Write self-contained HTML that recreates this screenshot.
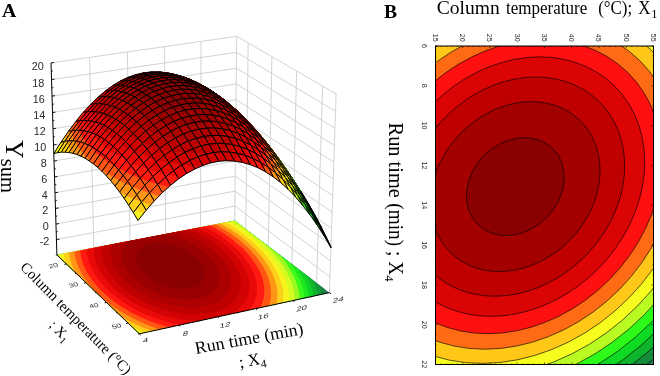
<!DOCTYPE html><html><head><meta charset="utf-8"><title>Figure</title><style>html,body{margin:0;padding:0;background:#fff}svg{display:block}</style></head><body><svg width="660" height="376" viewBox="0 0 660 376">
<rect width="660" height="376" fill="#fff"/>
<g><line x1="56.5" y1="239.5" x2="234.9" y2="206" stroke="#d3d3d3" stroke-width="1"/><line x1="234.9" y1="206" x2="329.9" y2="276.8" stroke="#d3d3d3" stroke-width="1"/><line x1="56" y1="224" x2="235" y2="191.1" stroke="#d3d3d3" stroke-width="1"/><line x1="235" y1="191.1" x2="330.5" y2="260.8" stroke="#d3d3d3" stroke-width="1"/><line x1="55.5" y1="208.4" x2="235.2" y2="176.1" stroke="#d3d3d3" stroke-width="1"/><line x1="235.2" y1="176.1" x2="331" y2="244.7" stroke="#d3d3d3" stroke-width="1"/><line x1="55" y1="192.8" x2="235.4" y2="161" stroke="#d3d3d3" stroke-width="1"/><line x1="235.4" y1="161" x2="331.6" y2="228.4" stroke="#d3d3d3" stroke-width="1"/><line x1="54.5" y1="176.9" x2="235.5" y2="145.8" stroke="#d3d3d3" stroke-width="1"/><line x1="235.5" y1="145.8" x2="332.1" y2="212.1" stroke="#d3d3d3" stroke-width="1"/><line x1="54" y1="161" x2="235.7" y2="130.5" stroke="#d3d3d3" stroke-width="1"/><line x1="235.7" y1="130.5" x2="332.7" y2="195.6" stroke="#d3d3d3" stroke-width="1"/><line x1="53.5" y1="145" x2="235.9" y2="115.1" stroke="#d3d3d3" stroke-width="1"/><line x1="235.9" y1="115.1" x2="333.2" y2="179" stroke="#d3d3d3" stroke-width="1"/><line x1="53" y1="128.8" x2="236" y2="99.6" stroke="#d3d3d3" stroke-width="1"/><line x1="236" y1="99.6" x2="333.8" y2="162.2" stroke="#d3d3d3" stroke-width="1"/><line x1="52.5" y1="112.5" x2="236.2" y2="83.9" stroke="#d3d3d3" stroke-width="1"/><line x1="236.2" y1="83.9" x2="334.3" y2="145.3" stroke="#d3d3d3" stroke-width="1"/><line x1="52" y1="96.1" x2="236.4" y2="68.2" stroke="#d3d3d3" stroke-width="1"/><line x1="236.4" y1="68.2" x2="334.9" y2="128.3" stroke="#d3d3d3" stroke-width="1"/><line x1="51.5" y1="79.6" x2="236.5" y2="52.3" stroke="#d3d3d3" stroke-width="1"/><line x1="236.5" y1="52.3" x2="335.5" y2="111.2" stroke="#d3d3d3" stroke-width="1"/><line x1="51" y1="62.9" x2="236.7" y2="36.3" stroke="#d3d3d3" stroke-width="1"/><line x1="236.7" y1="36.3" x2="336.1" y2="93.9" stroke="#d3d3d3" stroke-width="1"/><line x1="56.9" y1="254.9" x2="234.7" y2="220.8" stroke="#d3d3d3" stroke-width="1"/><line x1="234.7" y1="220.8" x2="329.4" y2="292.7" stroke="#d3d3d3" stroke-width="1"/><line x1="93.8" y1="247.8" x2="89.6" y2="57.4" stroke="#d3d3d3" stroke-width="1"/><line x1="130" y1="240.8" x2="127.4" y2="52" stroke="#d3d3d3" stroke-width="1"/><line x1="165.6" y1="234" x2="164.6" y2="46.7" stroke="#d3d3d3" stroke-width="1"/><line x1="200.5" y1="227.3" x2="201" y2="41.5" stroke="#d3d3d3" stroke-width="1"/><line x1="234.7" y1="220.8" x2="236.7" y2="36.3" stroke="#d3d3d3" stroke-width="1"/><line x1="245.7" y1="229.1" x2="248.2" y2="43" stroke="#d3d3d3" stroke-width="1"/><line x1="268.3" y1="246.3" x2="271.9" y2="56.7" stroke="#d3d3d3" stroke-width="1"/><line x1="291.9" y1="264.2" x2="296.6" y2="71.1" stroke="#d3d3d3" stroke-width="1"/><line x1="316.6" y1="283" x2="322.6" y2="86.1" stroke="#d3d3d3" stroke-width="1"/><line x1="329.4" y1="292.7" x2="336.1" y2="93.9" stroke="#d3d3d3" stroke-width="1"/></g>
<clipPath id="fc"><polygon points="56.9,254.9 139.3,333.8 329.4,292.7 234.7,220.8"/></clipPath>
<g clip-path="url(#fc)"><polygon points="56.9,254.9 139.3,333.8 329.4,292.7 234.7,220.8" fill="#1e7850"/><polygon points="95.7,177 101.8,176.2 108,175.5 114.4,175.1 120.9,174.9 127.6,174.9 134.3,175.1 141.1,175.6 148.1,176.3 155,177.2 162.1,178.3 169.1,179.6 176.2,181.1 183.3,182.9 190.5,184.9 197.6,187.1 204.6,189.4 211.7,192 218.7,194.8 225.6,197.8 232.4,201 239.1,204.4 245.7,207.9 252.2,211.7 258.6,215.6 264.7,219.6 270.7,223.9 276.5,228.3 282.1,232.8 287.4,237.5 292.5,242.3 297.4,247.2 301.9,252.3 306.2,257.4 310.1,262.7 313.7,268 317,273.3 319.9,278.7 322.4,284.2 324.5,289.6 326.2,295.1 327.4,300.5 328.3,306 328.7,311.3 328.6,316.6 328.1,321.8 327.1,326.9 325.6,331.9 323.7,336.8 321.2,341.5 318.3,346 314.9,350.3 311,354.3 306.7,358.2 301.9,361.8 296.7,365.1 291.1,368.2 285,370.9 278.5,373.3 271.7,375.4 264.5,377.2 257,378.7 249.2,379.7 241.2,380.5 232.9,380.8 224.4,380.8 215.8,380.5 207,379.8 198.1,378.7 189.1,377.3 180.1,375.5 171.2,373.4 162.2,371 153.3,368.2 144.6,365.2 135.9,361.8 127.5,358.2 119.2,354.4 111.2,350.3 103.4,346 95.8,341.5 88.6,336.8 81.7,331.9 75.2,326.9 68.9,321.8 63.1,316.5 57.6,311.2 52.5,305.8 47.9,300.4 43.6,294.9 39.7,289.4 36.3,284 33.3,278.5 30.7,273.1 28.5,267.7 26.7,262.4 25.3,257.1 24.4,252 23.8,246.9 23.7,242 23.9,237.1 24.5,232.5 25.5,227.9 26.9,223.5 28.6,219.3 30.7,215.2 33,211.3 35.8,207.5 38.8,204 42.2,200.6 45.8,197.5 49.7,194.5 53.9,191.7 58.3,189.1 63,186.8 68,184.6 73.1,182.7 78.5,180.9 84,179.4 89.8,178.1" fill="#178642"/><polygon points="97.5,179.1 103.4,178.3 109.5,177.7 115.8,177.2 122.1,177 128.6,177.1 135.2,177.3 141.8,177.7 148.6,178.4 155.4,179.3 162.2,180.4 169.1,181.7 176.1,183.2 183,184.9 190,186.8 196.9,188.9 203.8,191.3 210.7,193.8 217.5,196.5 224.2,199.5 230.9,202.6 237.4,205.9 243.9,209.3 250.2,213 256.3,216.8 262.3,220.8 268.2,224.9 273.8,229.2 279.2,233.7 284.4,238.2 289.4,242.9 294.1,247.7 298.5,252.6 302.6,257.6 306.4,262.7 309.9,267.9 313,273.1 315.8,278.4 318.2,283.7 320.2,289 321.9,294.3 323.1,299.6 323.9,304.8 324.2,310 324.1,315.2 323.6,320.2 322.6,325.2 321.1,330 319.2,334.7 316.8,339.2 314,343.6 310.7,347.8 306.9,351.7 302.7,355.4 298,358.9 292.9,362.1 287.4,365.1 281.5,367.7 275.3,370.1 268.6,372.1 261.7,373.8 254.4,375.2 246.8,376.3 239,377 231,377.3 222.8,377.3 214.4,377 205.9,376.3 197.2,375.3 188.5,373.9 179.8,372.2 171.1,370.1 162.4,367.8 153.8,365.1 145.3,362.2 136.9,359 128.7,355.5 120.7,351.8 112.9,347.8 105.3,343.6 98,339.2 91,334.7 84.3,330 77.9,325.1 71.8,320.2 66.1,315.1 60.8,309.9 55.8,304.7 51.3,299.4 47.1,294.1 43.3,288.8 39.9,283.4 37,278.1 34.4,272.9 32.3,267.6 30.5,262.4 29.2,257.3 28.2,252.3 27.6,247.4 27.5,242.6 27.7,237.9 28.3,233.3 29.2,228.9 30.5,224.6 32.2,220.4 34.2,216.4 36.5,212.6 39.1,209 42.1,205.5 45.3,202.2 48.8,199.1 52.6,196.2 56.7,193.5 61,191 65.6,188.7 70.4,186.6 75.4,184.7 80.7,183 86.1,181.5 91.7,180.2" fill="#129b36"/><polygon points="99.3,181.3 105.1,180.5 111.1,179.9 117.1,179.5 123.3,179.3 129.6,179.3 136,179.5 142.5,179.9 149.1,180.6 155.8,181.4 162.4,182.5 169.2,183.8 175.9,185.2 182.7,186.9 189.5,188.8 196.2,190.9 202.9,193.2 209.6,195.6 216.2,198.3 222.8,201.2 229.3,204.2 235.7,207.4 241.9,210.8 248.1,214.4 254,218.1 259.9,222 265.5,226 271,230.2 276.3,234.5 281.3,239 286.1,243.5 290.6,248.2 294.9,253 298.9,257.8 302.6,262.8 305.9,267.8 309,272.9 311.6,278 314,283.1 315.9,288.3 317.5,293.4 318.6,298.6 319.3,303.7 319.7,308.7 319.5,313.7 319,318.6 318,323.4 316.6,328.1 314.7,332.6 312.3,337 309.6,341.2 306.3,345.2 302.6,349 298.5,352.6 294,356 289.1,359.1 283.7,361.9 278,364.5 271.9,366.8 265.5,368.7 258.8,370.4 251.7,371.7 244.4,372.7 236.8,373.4 229.1,373.7 221.1,373.7 213,373.4 204.7,372.7 196.4,371.7 188,370.4 179.5,368.8 171.1,366.8 162.7,364.5 154.3,362 146.1,359.1 138,356 130,352.7 122.2,349.1 114.7,345.2 107.3,341.2 100.2,337 93.4,332.6 86.9,328 80.7,323.3 74.8,318.5 69.2,313.6 64,308.6 59.2,303.5 54.8,298.4 50.7,293.3 47,288.1 43.7,282.9 40.8,277.8 38.3,272.6 36.2,267.5 34.4,262.5 33.1,257.6 32.1,252.7 31.6,247.9 31.4,243.2 31.6,238.6 32.1,234.2 33,229.8 34.3,225.7 35.9,221.6 37.8,217.7 40,214 42.6,210.5 45.4,207.1 48.6,203.9 52,200.8 55.7,198 59.6,195.4 63.8,192.9 68.3,190.6 73,188.6 77.8,186.7 82.9,185.1 88.2,183.6 93.7,182.4" fill="#0fb62c"/><polygon points="101.2,183.6 106.9,182.8 112.6,182.2 118.5,181.8 124.6,181.6 130.7,181.6 137,181.8 143.3,182.2 149.7,182.9 156.1,183.7 162.6,184.7 169.2,186 175.8,187.4 182.3,189 188.9,190.9 195.5,192.9 202,195.1 208.5,197.5 215,200.1 221.3,202.9 227.6,205.9 233.8,209 239.9,212.3 245.9,215.8 251.7,219.4 257.3,223.2 262.8,227.1 268.1,231.2 273.2,235.4 278.1,239.7 282.7,244.1 287.1,248.7 291.2,253.3 295.1,258.1 298.6,262.9 301.9,267.7 304.8,272.6 307.4,277.6 309.6,282.6 311.4,287.6 312.9,292.6 314,297.5 314.7,302.5 315,307.3 314.8,312.2 314.3,316.9 313.3,321.5 311.9,326 310,330.4 307.7,334.7 305,338.7 301.9,342.6 298.3,346.3 294.3,349.8 289.9,353 285.1,356 280,358.7 274.4,361.2 268.5,363.4 262.3,365.3 255.8,366.9 249,368.1 241.9,369.1 234.6,369.8 227.1,370.1 219.4,370.1 211.5,369.8 203.5,369.1 195.5,368.2 187.4,366.9 179.2,365.3 171,363.4 162.9,361.2 154.9,358.8 146.9,356 139,353 131.3,349.8 123.8,346.3 116.5,342.6 109.4,338.7 102.5,334.6 95.9,330.4 89.5,326 83.5,321.5 77.8,316.8 72.4,312.1 67.4,307.2 62.7,302.3 58.3,297.4 54.4,292.4 50.8,287.4 47.6,282.4 44.7,277.4 42.3,272.4 40.2,267.5 38.5,262.6 37.2,257.8 36.2,253 35.6,248.4 35.4,243.8 35.6,239.4 36.1,235.1 36.9,230.8 38.1,226.8 39.7,222.9 41.5,219.1 43.7,215.4 46.1,212 48.9,208.7 51.9,205.6 55.2,202.6 58.8,199.8 62.7,197.3 66.8,194.9 71.1,192.7 75.6,190.7 80.3,188.8 85.3,187.2 90.4,185.8 95.7,184.6" fill="#0fd026"/><polygon points="103.2,185.9 108.7,185.1 114.3,184.5 120,184.2 125.9,184 131.8,184 137.9,184.2 144,184.6 150.3,185.2 156.5,186 162.9,187 169.2,188.2 175.6,189.6 182,191.2 188.4,193 194.8,195 201.1,197.2 207.4,199.5 213.7,202 219.8,204.8 225.9,207.6 231.9,210.7 237.8,213.9 243.6,217.3 249.2,220.8 254.7,224.5 260,228.3 265.1,232.2 270.1,236.3 274.8,240.5 279.2,244.8 283.5,249.2 287.5,253.7 291.2,258.3 294.6,262.9 297.7,267.6 300.5,272.4 302.9,277.2 305.1,282 306.8,286.8 308.2,291.7 309.3,296.5 309.9,301.2 310.1,305.9 310,310.6 309.4,315.1 308.4,319.6 307.1,324 305.2,328.2 303,332.3 300.4,336.2 297.3,339.9 293.8,343.5 290,346.8 285.7,349.9 281.1,352.8 276.1,355.4 270.7,357.8 265,359.9 259,361.7 252.7,363.2 246.2,364.5 239.3,365.4 232.3,366 225,366.3 217.6,366.3 210,366 202.4,365.4 194.6,364.5 186.7,363.3 178.9,361.7 171,359.9 163.2,357.8 155.4,355.5 147.7,352.8 140.1,349.9 132.7,346.8 125.4,343.5 118.3,339.9 111.4,336.2 104.8,332.3 98.4,328.2 92.3,323.9 86.4,319.6 80.9,315.1 75.7,310.5 70.8,305.8 66.2,301.1 62,296.3 58.2,291.5 54.7,286.7 51.5,281.8 48.8,277 46.4,272.2 44.3,267.4 42.7,262.7 41.3,258 40.4,253.4 39.8,248.9 39.6,244.5 39.7,240.2 40.2,236 41,231.9 42.1,227.9 43.6,224.1 45.4,220.5 47.4,216.9 49.8,213.6 52.5,210.4 55.4,207.3 58.6,204.5 62.1,201.8 65.8,199.2 69.8,196.9 73.9,194.8 78.3,192.8 82.9,191 87.7,189.5 92.7,188.1 97.9,186.9" fill="#1ce71f"/><polygon points="105.3,188.4 110.6,187.6 116,187 121.6,186.6 127.2,186.5 133,186.5 138.9,186.7 144.8,187.1 150.9,187.7 156.9,188.5 163.1,189.4 169.2,190.6 175.4,192 181.6,193.5 187.8,195.3 194,197.2 200.1,199.3 206.2,201.6 212.3,204 218.3,206.7 224.2,209.4 230,212.4 235.7,215.5 241.3,218.8 246.7,222.2 252,225.8 257.1,229.5 262,233.3 266.8,237.2 271.3,241.3 275.6,245.5 279.7,249.7 283.5,254.1 287.1,258.5 290.4,263 293.4,267.6 296,272.2 298.4,276.8 300.4,281.4 302.1,286.1 303.4,290.7 304.4,295.4 305,299.9 305.2,304.5 305,309 304.4,313.4 303.5,317.7 302.1,321.8 300.3,325.9 298.2,329.8 295.6,333.6 292.6,337.2 289.3,340.6 285.5,343.8 281.4,346.8 276.9,349.5 272.1,352 267,354.3 261.5,356.3 255.7,358.1 249.6,359.5 243.3,360.7 236.7,361.6 229.9,362.2 222.9,362.5 215.8,362.5 208.5,362.2 201.1,361.6 193.6,360.7 186.1,359.6 178.5,358.1 171,356.4 163.4,354.3 155.9,352.1 148.5,349.5 141.2,346.8 134.1,343.8 127.1,340.6 120.2,337.2 113.6,333.6 107.2,329.8 101,325.9 95.1,321.8 89.5,317.6 84.1,313.3 79.1,308.9 74.3,304.4 69.9,299.8 65.8,295.2 62.1,290.6 58.7,285.9 55.6,281.2 52.9,276.6 50.6,271.9 48.6,267.3 47,262.8 45.7,258.3 44.8,253.8 44.2,249.4 43.9,245.2 44,241 44.5,236.9 45.2,233 46.3,229.2 47.7,225.5 49.4,221.9 51.4,218.5 53.7,215.2 56.2,212.1 59,209.2 62.1,206.4 65.5,203.8 69.1,201.3 72.9,199 76.9,197 81.2,195.1 85.6,193.3 90.3,191.8 95.1,190.5 100.1,189.3" fill="#3cfa1a"/><polygon points="107.4,190.9 112.5,190.2 117.8,189.6 123.2,189.2 128.6,189.1 134.2,189.1 139.9,189.3 145.7,189.7 151.5,190.2 157.4,191 163.3,191.9 169.3,193.1 175.2,194.4 181.2,195.9 187.2,197.6 193.2,199.5 199.1,201.5 205,203.7 210.9,206.1 216.6,208.6 222.3,211.3 227.9,214.2 233.4,217.2 238.8,220.4 244,223.7 249.1,227.1 254.1,230.7 258.8,234.4 263.4,238.2 267.7,242.1 271.9,246.2 275.8,250.3 279.5,254.5 282.9,258.8 286,263.1 288.9,267.5 291.4,271.9 293.7,276.4 295.6,280.8 297.2,285.3 298.4,289.8 299.3,294.2 299.9,298.6 300,303 299.8,307.3 299.3,311.5 298.3,315.6 297,319.6 295.3,323.5 293.1,327.3 290.7,330.9 287.8,334.3 284.6,337.6 280.9,340.7 277,343.5 272.7,346.2 268,348.6 263.1,350.7 257.8,352.7 252.2,354.3 246.4,355.7 240.3,356.9 234,357.7 227.5,358.3 220.8,358.6 214,358.6 207,358.3 199.9,357.7 192.7,356.9 185.5,355.7 178.2,354.3 170.9,352.7 163.7,350.8 156.5,348.6 149.4,346.2 142.4,343.5 135.5,340.7 128.8,337.6 122.2,334.3 115.8,330.9 109.7,327.3 103.7,323.5 98,319.6 92.6,315.6 87.4,311.4 82.5,307.2 78,302.9 73.7,298.5 69.8,294.1 66.1,289.6 62.8,285.1 59.9,280.6 57.3,276.2 55,271.7 53,267.2 51.4,262.8 50.2,258.5 49.3,254.2 48.7,250 48.4,245.9 48.5,241.9 48.9,237.9 49.6,234.1 50.6,230.4 51.9,226.8 53.5,223.4 55.5,220.1 57.6,216.9 60.1,213.9 62.8,211.1 65.8,208.4 69,205.8 72.5,203.5 76.2,201.3 80,199.2 84.1,197.4 88.4,195.7 92.9,194.2 97.6,192.9 102.4,191.8" fill="#9cfa21"/><polygon points="109.6,193.6 114.6,192.8 119.6,192.3 124.8,191.9 130.1,191.8 135.5,191.8 141,192 146.5,192.4 152.2,192.9 157.8,193.7 163.5,194.6 169.3,195.7 175.1,197 180.8,198.4 186.6,200 192.3,201.8 198.1,203.8 203.7,205.9 209.4,208.2 214.9,210.7 220.4,213.3 225.8,216.1 231.1,219 236.3,222 241.3,225.2 246.2,228.6 250.9,232 255.5,235.6 259.8,239.2 264,243 268,246.9 271.7,250.9 275.2,254.9 278.5,259 281.5,263.2 284.2,267.4 286.6,271.6 288.8,275.9 290.6,280.2 292.1,284.5 293.2,288.8 294.1,293 294.6,297.3 294.7,301.4 294.5,305.6 293.9,309.6 293,313.5 291.7,317.4 290,321.1 288,324.7 285.6,328.1 282.8,331.4 279.7,334.5 276.2,337.4 272.4,340.2 268.3,342.7 263.8,345 259,347 254,348.9 248.7,350.5 243.1,351.8 237.3,352.9 231.2,353.7 225,354.2 218.6,354.5 212,354.5 205.4,354.2 198.6,353.7 191.7,352.9 184.8,351.8 177.8,350.5 170.9,348.9 164,347.1 157.1,345 150.3,342.7 143.6,340.2 137,337.4 130.5,334.5 124.2,331.4 118.1,328.1 112.2,324.6 106.5,321 101,317.3 95.8,313.5 90.8,309.5 86.2,305.5 81.7,301.3 77.6,297.1 73.8,292.9 70.3,288.6 67.1,284.3 64.3,280 61.7,275.7 59.5,271.4 57.6,267.2 56.1,262.9 54.8,258.8 53.9,254.6 53.4,250.6 53.1,246.6 53.1,242.7 53.5,239 54.1,235.3 55.1,231.7 56.4,228.3 57.9,225 59.7,221.8 61.8,218.7 64.2,215.8 66.8,213.1 69.6,210.4 72.7,208 76,205.7 79.6,203.6 83.3,201.6 87.3,199.8 91.4,198.2 95.7,196.8 100.2,195.5 104.8,194.5" fill="#d5fb21"/><polygon points="112,196.4 116.7,195.7 121.6,195.1 126.6,194.8 131.7,194.6 136.9,194.6 142.1,194.8 147.5,195.2 152.9,195.7 158.3,196.4 163.8,197.3 169.3,198.4 174.9,199.6 180.4,201 185.9,202.6 191.5,204.3 197,206.2 202.4,208.3 207.8,210.5 213.1,212.9 218.4,215.4 223.6,218 228.6,220.8 233.6,223.8 238.4,226.9 243.1,230 247.6,233.4 252,236.8 256.1,240.3 260.1,243.9 263.9,247.7 267.5,251.5 270.8,255.3 273.9,259.3 276.8,263.3 279.3,267.3 281.6,271.4 283.6,275.4 285.4,279.6 286.8,283.7 287.9,287.8 288.6,291.8 289.1,295.9 289.2,299.8 289,303.8 288.4,307.6 287.5,311.4 286.2,315 284.6,318.6 282.6,322 280.3,325.2 277.6,328.4 274.6,331.3 271.3,334.1 267.7,336.7 263.7,339.1 259.5,341.3 254.9,343.2 250.1,345 245,346.5 239.7,347.7 234.1,348.8 228.4,349.5 222.4,350 216.3,350.3 210.1,350.3 203.7,350 197.2,349.5 190.7,348.8 184.1,347.8 177.5,346.5 170.9,345 164.3,343.2 157.7,341.3 151.2,339.1 144.8,336.7 138.5,334.1 132.3,331.3 126.3,328.3 120.5,325.2 114.8,321.9 109.4,318.5 104.1,315 99.1,311.3 94.4,307.5 89.9,303.7 85.7,299.7 81.7,295.7 78.1,291.7 74.7,287.6 71.6,283.5 68.9,279.4 66.4,275.3 64.3,271.2 62.4,267.1 60.9,263 59.7,259 58.8,255.1 58.2,251.2 58,247.4 58,243.7 58.3,240 58.9,236.5 59.8,233.1 61,229.8 62.5,226.6 64.2,223.5 66.2,220.6 68.4,217.8 70.9,215.1 73.6,212.6 76.6,210.3 79.8,208.1 83.1,206 86.7,204.1 90.5,202.4 94.5,200.9 98.6,199.5 102.9,198.3 107.4,197.2" fill="#f7f41d"/><polygon points="114.5,199.3 119,198.6 123.7,198.1 128.4,197.8 133.3,197.6 138.3,197.6 143.3,197.8 148.4,198.2 153.6,198.7 158.8,199.4 164.1,200.2 169.4,201.3 174.7,202.4 180,203.8 185.3,205.3 190.5,207 195.8,208.8 201,210.8 206.2,212.9 211.3,215.1 216.3,217.6 221.2,220.1 226,222.8 230.8,225.6 235.4,228.6 239.8,231.6 244.1,234.8 248.3,238.1 252.3,241.4 256,244.9 259.6,248.5 263,252.1 266.2,255.8 269.1,259.5 271.8,263.3 274.2,267.2 276.4,271.1 278.3,275 279.9,278.9 281.2,282.8 282.2,286.7 283,290.5 283.4,294.4 283.4,298.2 283.2,301.9 282.6,305.5 281.7,309.1 280.5,312.6 278.9,315.9 277,319.2 274.8,322.3 272.3,325.2 269.4,328 266.2,330.6 262.8,333.1 259,335.4 254.9,337.4 250.6,339.3 246,340.9 241.2,342.3 236.1,343.5 230.8,344.5 225.4,345.2 219.7,345.7 213.9,346 208,346 202,345.7 195.8,345.2 189.6,344.5 183.4,343.5 177.1,342.3 170.8,340.9 164.5,339.3 158.3,337.4 152.2,335.3 146.1,333.1 140.1,330.6 134.2,328 128.5,325.2 123,322.2 117.6,319.1 112.4,315.9 107.4,312.5 102.6,309 98.1,305.5 93.8,301.8 89.8,298.1 86,294.3 82.5,290.4 79.3,286.5 76.3,282.6 73.7,278.7 71.3,274.8 69.2,270.9 67.5,267 66,263.1 64.8,259.3 64,255.5 63.4,251.8 63.1,248.2 63.1,244.7 63.4,241.2 63.9,237.8 64.8,234.5 65.9,231.4 67.2,228.3 68.9,225.4 70.8,222.6 72.9,219.9 75.2,217.3 77.8,214.9 80.7,212.7 83.7,210.6 86.9,208.6 90.3,206.8 93.9,205.1 97.7,203.6 101.7,202.3 105.8,201.1 110.1,200.1" fill="#fdd01a"/><polygon points="117.1,202.4 121.4,201.8 125.9,201.3 130.4,201 135,200.8 139.8,200.8 144.6,201 149.4,201.3 154.4,201.8 159.3,202.5 164.3,203.3 169.4,204.3 174.4,205.4 179.5,206.7 184.5,208.1 189.6,209.7 194.6,211.5 199.5,213.4 204.4,215.4 209.3,217.6 214,219.9 218.7,222.3 223.3,224.9 227.8,227.5 232.2,230.4 236.4,233.3 240.5,236.3 244.4,239.4 248.2,242.6 251.7,245.9 255.1,249.3 258.3,252.7 261.3,256.3 264.1,259.8 266.6,263.4 268.9,267.1 270.9,270.8 272.7,274.5 274.2,278.2 275.4,281.9 276.4,285.5 277,289.2 277.4,292.8 277.4,296.4 277.1,299.9 276.6,303.4 275.7,306.7 274.5,310 273,313.2 271.2,316.2 269.1,319.1 266.7,321.9 263.9,324.6 260.9,327 257.6,329.3 254.1,331.5 250.2,333.4 246.1,335.1 241.8,336.7 237.2,338 232.4,339.2 227.4,340.1 222.3,340.7 217,341.2 211.5,341.4 205.9,341.4 200.2,341.2 194.4,340.7 188.5,340.1 182.6,339.2 176.7,338 170.8,336.7 164.9,335.1 159,333.4 153.1,331.5 147.4,329.3 141.7,327 136.2,324.5 130.8,321.9 125.5,319.1 120.4,316.2 115.5,313.1 110.8,309.9 106.3,306.7 102,303.3 97.9,299.8 94,296.3 90.4,292.7 87.1,289.1 84,285.4 81.2,281.7 78.7,278 76.4,274.3 74.5,270.6 72.8,266.9 71.3,263.2 70.2,259.6 69.3,256 68.8,252.5 68.5,249.1 68.4,245.7 68.7,242.4 69.2,239.2 70,236 71,233 72.3,230.1 73.8,227.3 75.6,224.6 77.6,222.1 79.8,219.7 82.3,217.4 85,215.2 87.8,213.2 90.9,211.3 94.1,209.6 97.6,208 101.2,206.6 104.9,205.3 108.9,204.2 112.9,203.2" fill="#ff9716"/><polygon points="119.9,205.7 124,205.1 128.2,204.7 132.5,204.4 136.9,204.2 141.4,204.2 145.9,204.4 150.5,204.7 155.2,205.2 159.9,205.8 164.7,206.6 169.4,207.5 174.2,208.6 179,209.8 183.8,211.2 188.5,212.7 193.2,214.4 197.9,216.2 202.6,218.1 207.1,220.1 211.7,222.3 216.1,224.6 220.4,227.1 224.6,229.6 228.7,232.3 232.7,235 236.6,237.9 240.3,240.8 243.8,243.9 247.2,247 250.4,250.2 253.4,253.4 256.2,256.8 258.7,260.1 261.1,263.5 263.2,267 265.1,270.4 266.8,273.9 268.2,277.4 269.3,280.9 270.1,284.4 270.7,287.8 271,291.2 271,294.6 270.8,297.9 270.2,301.1 269.4,304.2 268.2,307.3 266.8,310.3 265.1,313.1 263.1,315.9 260.8,318.5 258.2,320.9 255.4,323.2 252.3,325.4 248.9,327.4 245.3,329.2 241.4,330.8 237.3,332.3 233,333.5 228.6,334.6 223.9,335.4 219,336 214,336.5 208.9,336.7 203.7,336.7 198.3,336.5 192.9,336 187.4,335.4 181.8,334.6 176.3,333.5 170.7,332.3 165.2,330.8 159.7,329.2 154.2,327.4 148.8,325.4 143.5,323.2 138.3,320.9 133.2,318.4 128.2,315.8 123.4,313.1 118.8,310.2 114.3,307.2 110.1,304.2 106,301 102.2,297.8 98.5,294.5 95.1,291.1 92,287.7 89.1,284.2 86.4,280.7 84,277.3 81.9,273.8 80,270.3 78.3,266.8 77,263.3 75.9,259.9 75,256.6 74.5,253.2 74.2,250 74.1,246.8 74.3,243.7 74.8,240.6 75.5,237.7 76.5,234.8 77.7,232 79.1,229.4 80.8,226.8 82.6,224.4 84.7,222.1 87,219.9 89.6,217.9 92.3,216 95.1,214.2 98.2,212.6 101.5,211.1 104.9,209.7 108.4,208.5 112.1,207.4 116,206.5" fill="#ff5713"/><polygon points="122.9,209.3 126.8,208.8 130.7,208.3 134.8,208 138.9,207.9 143.1,207.9 147.4,208.1 151.7,208.4 156.1,208.8 160.5,209.4 165,210.1 169.5,211 173.9,212 178.4,213.2 182.9,214.5 187.4,215.9 191.8,217.4 196.2,219.1 200.6,221 204.9,222.9 209.1,224.9 213.2,227.1 217.3,229.4 221.3,231.8 225.1,234.3 228.8,236.9 232.4,239.6 235.9,242.4 239.2,245.2 242.3,248.1 245.3,251.1 248.1,254.2 250.6,257.3 253,260.4 255.2,263.6 257.2,266.9 258.9,270.1 260.5,273.3 261.7,276.6 262.8,279.9 263.5,283.1 264.1,286.3 264.3,289.5 264.3,292.6 264,295.7 263.5,298.7 262.7,301.6 261.6,304.5 260.2,307.2 258.6,309.9 256.7,312.4 254.6,314.8 252.2,317.1 249.5,319.2 246.6,321.2 243.4,323.1 240.1,324.8 236.5,326.3 232.7,327.6 228.7,328.8 224.5,329.7 220.1,330.5 215.6,331.1 211,331.5 206.2,331.7 201.3,331.7 196.3,331.5 191.3,331.1 186.2,330.5 181,329.7 175.9,328.8 170.7,327.6 165.5,326.3 160.4,324.7 155.3,323.1 150.3,321.2 145.3,319.2 140.5,317.1 135.7,314.8 131.1,312.4 126.6,309.8 122.3,307.2 118.1,304.4 114.1,301.5 110.3,298.6 106.7,295.6 103.3,292.5 100.1,289.4 97.2,286.2 94.4,283 91.9,279.7 89.6,276.5 87.6,273.2 85.8,269.9 84.3,266.7 83,263.5 81.9,260.3 81.1,257.1 80.6,254 80.3,250.9 80.2,247.9 80.4,245 80.8,242.2 81.4,239.4 82.3,236.7 83.4,234.1 84.7,231.6 86.3,229.2 88,226.9 90,224.8 92.1,222.7 94.5,220.8 97,219 99.7,217.3 102.6,215.7 105.6,214.3 108.8,213.1 112.1,211.9 115.6,210.9 119.2,210" fill="#ff1910"/><polygon points="126.2,213.2 129.8,212.7 133.4,212.3 137.2,212 141,211.9 145,211.9 148.9,212 153,212.3 157.1,212.7 161.2,213.3 165.3,214 169.5,214.8 173.7,215.7 177.9,216.8 182,218 186.2,219.3 190.3,220.8 194.4,222.4 198.4,224.1 202.4,225.9 206.3,227.8 210.2,229.8 213.9,232 217.6,234.2 221.2,236.5 224.6,238.9 227.9,241.4 231.1,244 234.2,246.7 237.1,249.4 239.8,252.2 242.3,255 244.7,257.9 246.9,260.8 248.9,263.7 250.7,266.7 252.3,269.7 253.7,272.7 254.8,275.7 255.8,278.7 256.5,281.7 256.9,284.7 257.1,287.6 257.1,290.5 256.8,293.3 256.3,296.1 255.5,298.8 254.5,301.4 253.2,304 251.7,306.4 250,308.7 248,310.9 245.7,313 243.2,315 240.6,316.8 237.6,318.5 234.5,320 231.2,321.4 227.7,322.7 224,323.7 220.1,324.6 216.1,325.3 212,325.8 207.7,326.2 203.3,326.4 198.8,326.4 194.2,326.2 189.6,325.8 184.9,325.3 180.1,324.6 175.4,323.7 170.6,322.6 165.9,321.4 161.1,320 156.4,318.5 151.8,316.8 147.3,315 142.8,313 138.4,310.9 134.1,308.7 130,306.3 126,303.9 122.1,301.4 118.5,298.7 114.9,296 111.6,293.2 108.4,290.4 105.5,287.5 102.7,284.6 100.1,281.6 97.8,278.6 95.7,275.6 93.8,272.6 92.1,269.6 90.7,266.6 89.4,263.6 88.4,260.6 87.7,257.7 87.1,254.8 86.8,252 86.7,249.2 86.9,246.5 87.2,243.8 87.8,241.2 88.6,238.7 89.6,236.3 90.8,234 92.2,231.8 93.9,229.6 95.7,227.6 97.6,225.7 99.8,223.9 102.1,222.2 104.6,220.7 107.3,219.2 110.1,217.9 113.1,216.7 116.2,215.6 119.4,214.7 122.7,213.9" fill="#ea0909"/><polygon points="129.8,217.5 133.1,217 136.4,216.6 139.9,216.4 143.4,216.2 147,216.2 150.7,216.4 154.4,216.6 158.1,217 161.9,217.5 165.7,218.2 169.5,218.9 173.4,219.8 177.2,220.8 181,221.9 184.8,223.1 188.6,224.5 192.4,225.9 196.1,227.5 199.7,229.1 203.3,230.9 206.8,232.8 210.3,234.7 213.6,236.8 216.9,238.9 220,241.1 223,243.4 225.9,245.8 228.7,248.2 231.3,250.7 233.8,253.3 236.1,255.9 238.3,258.5 240.3,261.2 242.1,263.9 243.7,266.6 245.1,269.3 246.4,272.1 247.4,274.8 248.2,277.5 248.8,280.3 249.2,283 249.4,285.6 249.3,288.2 249,290.8 248.5,293.3 247.8,295.8 246.9,298.1 245.7,300.4 244.3,302.6 242.7,304.7 240.8,306.7 238.8,308.6 236.5,310.4 234.1,312.1 231.4,313.6 228.6,315 225.5,316.2 222.3,317.3 219,318.3 215.5,319.1 211.9,319.7 208.1,320.2 204.2,320.5 200.2,320.7 196.1,320.7 192,320.5 187.8,320.2 183.5,319.7 179.2,319.1 174.9,318.3 170.6,317.3 166.3,316.2 162,315 157.7,313.6 153.5,312 149.3,310.4 145.3,308.6 141.3,306.7 137.4,304.7 133.6,302.6 130,300.4 126.5,298.1 123.1,295.7 119.9,293.2 116.8,290.7 113.9,288.1 111.2,285.5 108.7,282.8 106.4,280.1 104.2,277.4 102.2,274.7 100.5,271.9 98.9,269.2 97.6,266.4 96.4,263.7 95.5,261 94.8,258.3 94.3,255.7 94,253.1 93.9,250.6 94,248.1 94.3,245.6 94.8,243.3 95.5,241 96.4,238.8 97.5,236.6 98.8,234.6 100.2,232.6 101.9,230.8 103.7,229 105.6,227.3 107.8,225.8 110.1,224.3 112.5,223 115.1,221.8 117.8,220.7 120.6,219.7 123.6,218.8 126.6,218.1" fill="#d30303"/><polygon points="133.8,222.2 136.8,221.8 139.8,221.5 142.9,221.2 146.1,221.1 149.3,221.1 152.6,221.2 155.9,221.5 159.3,221.8 162.7,222.3 166.1,222.9 169.6,223.5 173,224.3 176.5,225.2 179.9,226.2 183.3,227.4 186.7,228.6 190.1,229.9 193.4,231.3 196.7,232.8 199.9,234.4 203.1,236.1 206.2,237.8 209.1,239.7 212.1,241.6 214.9,243.6 217.6,245.7 220.1,247.8 222.6,250 225,252.2 227.2,254.5 229.2,256.8 231.1,259.2 232.9,261.6 234.5,264 235.9,266.4 237.2,268.9 238.2,271.3 239.1,273.8 239.8,276.2 240.4,278.6 240.7,281 240.8,283.4 240.7,285.7 240.5,288 240,290.3 239.3,292.4 238.5,294.5 237.4,296.6 236.1,298.5 234.7,300.4 233,302.2 231.2,303.8 229.2,305.4 227,306.9 224.6,308.2 222.1,309.4 219.4,310.5 216.5,311.5 213.5,312.3 210.4,313.1 207.2,313.6 203.8,314 200.4,314.3 196.8,314.5 193.2,314.5 189.5,314.3 185.8,314 182,313.6 178.2,313 174.3,312.3 170.5,311.5 166.7,310.5 162.9,309.4 159.1,308.2 155.3,306.8 151.6,305.4 148,303.8 144.5,302.1 141,300.3 137.6,298.5 134.4,296.5 131.3,294.5 128.2,292.4 125.4,290.2 122.6,287.9 120,285.7 117.6,283.3 115.3,280.9 113.2,278.5 111.2,276.1 109.5,273.7 107.9,271.2 106.5,268.8 105.3,266.3 104.2,263.9 103.4,261.5 102.7,259.1 102.2,256.7 101.9,254.4 101.8,252.1 101.9,249.8 102.1,247.7 102.6,245.5 103.2,243.5 104,241.5 104.9,239.5 106,237.7 107.3,235.9 108.8,234.3 110.4,232.7 112.2,231.2 114.1,229.8 116.1,228.5 118.3,227.3 120.6,226.2 123,225.2 125.6,224.3 128.2,223.5 131,222.8" fill="#bf0000"/><polygon points="138.5,227.7 141,227.3 143.7,227 146.4,226.8 149.1,226.7 152,226.8 154.8,226.9 157.7,227.1 160.7,227.4 163.6,227.8 166.6,228.3 169.6,228.9 172.6,229.6 175.7,230.4 178.7,231.2 181.6,232.2 184.6,233.3 187.5,234.4 190.4,235.7 193.3,237 196.1,238.4 198.8,239.8 201.5,241.4 204.1,243 206.6,244.7 209,246.4 211.3,248.2 213.6,250.1 215.7,252 217.7,253.9 219.6,255.9 221.4,257.9 223,260 224.5,262.1 225.9,264.2 227.1,266.3 228.1,268.4 229,270.5 229.8,272.6 230.4,274.7 230.8,276.8 231.1,278.9 231.2,280.9 231.1,282.9 230.8,284.9 230.4,286.8 229.8,288.7 229,290.5 228.1,292.2 227,293.9 225.7,295.5 224.3,297 222.7,298.4 220.9,299.8 219,301 216.9,302.2 214.8,303.2 212.4,304.2 210,305 207.4,305.7 204.7,306.3 201.9,306.8 199.1,307.2 196.1,307.4 193.1,307.5 189.9,307.5 186.8,307.4 183.6,307.2 180.3,306.8 177,306.3 173.7,305.7 170.4,305 167.1,304.2 163.9,303.2 160.6,302.2 157.4,301 154.2,299.8 151.1,298.4 148,297 145,295.4 142.1,293.8 139.3,292.2 136.6,290.4 134,288.6 131.5,286.7 129.1,284.8 126.9,282.8 124.7,280.8 122.8,278.8 120.9,276.7 119.2,274.6 117.7,272.5 116.3,270.4 115,268.3 113.9,266.2 113,264 112.3,261.9 111.7,259.9 111.2,257.8 110.9,255.8 110.8,253.8 110.9,251.9 111.1,250 111.4,248.1 111.9,246.3 112.6,244.6 113.4,242.9 114.4,241.3 115.5,239.7 116.7,238.3 118.1,236.9 119.6,235.6 121.3,234.3 123.1,233.2 124.9,232.1 126.9,231.2 129,230.3 131.3,229.5 133.6,228.8 136,228.2" fill="#ad0000"/><polygon points="144,234.3 146.1,234 148.3,233.8 150.5,233.6 152.8,233.5 155.1,233.5 157.5,233.6 159.9,233.8 162.3,234 164.8,234.4 167.2,234.8 169.7,235.3 172.2,235.9 174.7,236.5 177.1,237.2 179.6,238.1 182,238.9 184.4,239.9 186.8,240.9 189.1,242 191.4,243.2 193.6,244.4 195.8,245.6 197.9,247 200,248.4 202,249.8 203.9,251.3 205.7,252.8 207.4,254.4 209.1,256 210.6,257.6 212,259.3 213.3,260.9 214.5,262.6 215.6,264.3 216.6,266.1 217.4,267.8 218.2,269.5 218.8,271.2 219.2,273 219.5,274.6 219.7,276.3 219.8,278 219.7,279.6 219.4,281.2 219.1,282.7 218.6,284.3 217.9,285.7 217.1,287.1 216.2,288.5 215.2,289.8 214,291 212.7,292.1 211.3,293.2 209.7,294.2 208,295.1 206.2,296 204.4,296.7 202.4,297.4 200.3,298 198.1,298.5 195.8,298.8 193.5,299.1 191.1,299.3 188.7,299.4 186.1,299.4 183.6,299.3 181,299.1 178.3,298.8 175.7,298.4 173,298 170.4,297.4 167.7,296.7 165,296 162.4,295.1 159.8,294.2 157.2,293.2 154.7,292.1 152.2,290.9 149.8,289.7 147.4,288.4 145.1,287.1 142.9,285.7 140.8,284.2 138.7,282.7 136.8,281.1 134.9,279.5 133.2,277.9 131.6,276.3 130,274.6 128.6,272.9 127.4,271.2 126.2,269.4 125.2,267.7 124.3,266 123.5,264.2 122.8,262.5 122.3,260.8 121.9,259.2 121.7,257.5 121.6,255.9 121.6,254.3 121.7,252.7 122,251.2 122.4,249.7 122.9,248.3 123.6,246.9 124.3,245.6 125.2,244.3 126.3,243.1 127.4,241.9 128.6,240.8 130,239.8 131.4,238.9 132.9,238 134.6,237.2 136.3,236.5 138.1,235.8 140,235.2 142,234.8" fill="#9b0000"/><polygon points="151.4,243.1 152.9,242.9 154.5,242.7 156.1,242.6 157.7,242.5 159.4,242.5 161.1,242.6 162.8,242.7 164.5,242.9 166.3,243.1 168,243.4 169.8,243.8 171.6,244.2 173.3,244.7 175.1,245.2 176.8,245.8 178.6,246.4 180.3,247.1 182,247.9 183.6,248.6 185.3,249.5 186.9,250.3 188.4,251.3 189.9,252.2 191.4,253.2 192.7,254.2 194.1,255.3 195.4,256.4 196.6,257.5 197.7,258.6 198.8,259.8 199.8,261 200.7,262.2 201.5,263.4 202.3,264.6 203,265.8 203.5,267 204,268.2 204.4,269.4 204.7,270.7 204.9,271.8 205,273 205,274.2 205,275.3 204.8,276.4 204.5,277.5 204.1,278.6 203.7,279.6 203.1,280.6 202.4,281.5 201.7,282.4 200.8,283.3 199.9,284.1 198.9,284.8 197.8,285.5 196.6,286.1 195.4,286.7 194,287.2 192.6,287.7 191.2,288.1 189.6,288.4 188.1,288.7 186.4,288.9 184.8,289 183,289.1 181.3,289.1 179.5,289 177.7,288.9 175.8,288.7 174,288.4 172.1,288.1 170.3,287.7 168.4,287.2 166.5,286.7 164.7,286.1 162.9,285.5 161.1,284.8 159.3,284 157.5,283.2 155.8,282.4 154.2,281.5 152.5,280.5 151,279.5 149.5,278.5 148,277.5 146.7,276.4 145.3,275.3 144.1,274.1 142.9,273 141.8,271.8 140.8,270.6 139.9,269.4 139.1,268.2 138.3,267 137.7,265.7 137.1,264.5 136.6,263.3 136.2,262.1 136,260.9 135.8,259.7 135.6,258.6 135.6,257.4 135.7,256.3 135.9,255.2 136.2,254.2 136.5,253.1 137,252.2 137.5,251.2 138.1,250.3 138.8,249.4 139.6,248.6 140.5,247.8 141.4,247.1 142.5,246.4 143.5,245.8 144.7,245.2 145.9,244.7 147.2,244.2 148.6,243.8 150,243.4" fill="#8b0000"/></g>
<g><line x1="56.9" y1="254.9" x2="139.3" y2="333.8" stroke="#000" stroke-width="1"/><line x1="139.3" y1="333.8" x2="329.4" y2="292.7" stroke="#000" stroke-width="1"/><line x1="56.9" y1="254.9" x2="51" y2="62.9" stroke="#000" stroke-width="1"/><line x1="56.5" y1="239.5" x2="59.5" y2="239.1" stroke="#000" stroke-width="0.9"/><line x1="56.2" y1="231.8" x2="57.7" y2="231.6" stroke="#000" stroke-width="0.9"/><line x1="56" y1="224" x2="59" y2="223.6" stroke="#000" stroke-width="0.9"/><line x1="55.7" y1="216.3" x2="57.2" y2="216" stroke="#000" stroke-width="0.9"/><line x1="55.5" y1="208.4" x2="58.5" y2="208" stroke="#000" stroke-width="0.9"/><line x1="55.3" y1="200.6" x2="56.8" y2="200.4" stroke="#000" stroke-width="0.9"/><line x1="55" y1="192.8" x2="58" y2="192.3" stroke="#000" stroke-width="0.9"/><line x1="54.8" y1="184.9" x2="56.3" y2="184.6" stroke="#000" stroke-width="0.9"/><line x1="54.5" y1="176.9" x2="57.5" y2="176.5" stroke="#000" stroke-width="0.9"/><line x1="54.3" y1="169" x2="55.8" y2="168.8" stroke="#000" stroke-width="0.9"/><line x1="54" y1="161" x2="57" y2="160.6" stroke="#000" stroke-width="0.9"/><line x1="53.8" y1="153" x2="55.3" y2="152.8" stroke="#000" stroke-width="0.9"/><line x1="53.5" y1="145" x2="56.5" y2="144.5" stroke="#000" stroke-width="0.9"/><line x1="53.3" y1="136.9" x2="54.8" y2="136.7" stroke="#000" stroke-width="0.9"/><line x1="53" y1="128.8" x2="56" y2="128.3" stroke="#000" stroke-width="0.9"/><line x1="52.8" y1="120.7" x2="54.3" y2="120.4" stroke="#000" stroke-width="0.9"/><line x1="52.5" y1="112.5" x2="55.5" y2="112.1" stroke="#000" stroke-width="0.9"/><line x1="52.3" y1="104.3" x2="53.8" y2="104.1" stroke="#000" stroke-width="0.9"/><line x1="52" y1="96.1" x2="55" y2="95.7" stroke="#000" stroke-width="0.9"/><line x1="51.8" y1="87.9" x2="53.3" y2="87.6" stroke="#000" stroke-width="0.9"/><line x1="51.5" y1="79.6" x2="54.5" y2="79.1" stroke="#000" stroke-width="0.9"/><line x1="51.3" y1="71.3" x2="52.8" y2="71" stroke="#000" stroke-width="0.9"/><line x1="51" y1="62.9" x2="54" y2="62.5" stroke="#000" stroke-width="0.9"/><line x1="56.9" y1="254.9" x2="55.8" y2="255.1" stroke="#000" stroke-width="0.9"/><line x1="66.4" y1="264" x2="64.4" y2="264.4" stroke="#000" stroke-width="0.9"/><line x1="76.1" y1="273.3" x2="75" y2="273.5" stroke="#000" stroke-width="0.9"/><line x1="86.1" y1="282.8" x2="84" y2="283.2" stroke="#000" stroke-width="0.9"/><line x1="96.2" y1="292.5" x2="95.1" y2="292.7" stroke="#000" stroke-width="0.9"/><line x1="106.6" y1="302.5" x2="104.5" y2="302.9" stroke="#000" stroke-width="0.9"/><line x1="117.3" y1="312.6" x2="116.1" y2="312.9" stroke="#000" stroke-width="0.9"/><line x1="128.2" y1="323.1" x2="126" y2="323.5" stroke="#000" stroke-width="0.9"/><line x1="139.3" y1="333.8" x2="138.1" y2="334" stroke="#000" stroke-width="0.9"/><line x1="139.3" y1="333.8" x2="140.7" y2="335.1" stroke="#000" stroke-width="0.9"/><line x1="159.2" y1="329.5" x2="159.9" y2="330.1" stroke="#000" stroke-width="0.9"/><line x1="178.9" y1="325.2" x2="180.3" y2="326.5" stroke="#000" stroke-width="0.9"/><line x1="198.4" y1="321" x2="199.1" y2="321.6" stroke="#000" stroke-width="0.9"/><line x1="217.7" y1="316.8" x2="219.1" y2="318.1" stroke="#000" stroke-width="0.9"/><line x1="236.8" y1="312.7" x2="237.5" y2="313.3" stroke="#000" stroke-width="0.9"/><line x1="255.7" y1="308.6" x2="257.1" y2="309.8" stroke="#000" stroke-width="0.9"/><line x1="274.4" y1="304.6" x2="275.1" y2="305.2" stroke="#000" stroke-width="0.9"/><line x1="292.9" y1="300.6" x2="294.4" y2="301.8" stroke="#000" stroke-width="0.9"/><line x1="311.2" y1="296.6" x2="312" y2="297.2" stroke="#000" stroke-width="0.9"/><line x1="329.4" y1="292.7" x2="331" y2="293.8" stroke="#000" stroke-width="0.9"/></g>
<g><path d="M238.3 129.1L235.7 128.1L235.6 127.6zM235.7 128.1L235.3 127.5L235.6 127.6z" fill="#9cfa21" stroke="#9cfa21" stroke-width=".4"/><path d="M234.3 123.4L234.5 124.2L232.9 122.7zM236.3 124.5L240.2 129.9L234.5 124.2L234.3 123.4zM240.2 129.9L238.3 129.1L235.6 127.6L234.5 124.2zM235.3 127.5L230.9 121.7L232.9 122.7L234.5 124.2L235.6 127.6z" fill="#d5fb21" stroke="#d5fb21" stroke-width=".4"/><path d="M228.9 118.9L233.3 120.6L234.3 123.4L232.9 122.7zM233.3 120.6L236.3 124.5L234.3 123.4zM230.9 121.7L228.9 118.9L232.9 122.7z" fill="#f7f41d" stroke="#f7f41d" stroke-width=".4"/><path d="M228.9 118.9L233.3 120.6L240.2 129.9L235.7 128.1z" fill="none" stroke="#000" stroke-width="1" stroke-linejoin="round"/><path d="M231.8 118.7L233.3 120.6L230.6 118.1zM233.3 120.6L228.9 118.9L228.1 116.8L230.6 118.1zM228.9 118.9L226.4 116L228.1 116.8z" fill="#f7f41d" stroke="#f7f41d" stroke-width=".4"/><path d="M221.9 110.6L223.2 111L226.6 112.7L227.6 115.4zM227.1 113L231.8 118.7L230.6 118.1L227.6 115.4L226.6 112.7zM228.1 116.8L227.6 115.4L230.6 118.1zM226.4 116L221.9 110.6L227.6 115.4L228.1 116.8z" fill="#fdd01a" stroke="#fdd01a" stroke-width=".4"/><path d="M223.2 111L226.4 112L226.6 112.7zM226.4 112L227.1 113L226.6 112.7z" fill="#ff9716" stroke="#ff9716" stroke-width=".4"/><path d="M221.9 110.6L226.4 112L233.3 120.6L228.9 118.9z" fill="none" stroke="#000" stroke-width="1" stroke-linejoin="round"/><path d="M239 126L239 126.1L238.8 125.9zM241.3 127.4L244.7 132L239 126.1L239 126zM244.7 132L240.2 129.9L239 126.1zM240.2 129.9L236.3 124.5L238.8 125.9L239 126.1z" fill="#d5fb21" stroke="#d5fb21" stroke-width=".4"/><path d="M233.3 120.6L237.8 122.6L239 126L238.8 125.9zM237.8 122.6L241.3 127.4L239 126zM236.3 124.5L233.3 120.6L238.8 125.9z" fill="#f7f41d" stroke="#f7f41d" stroke-width=".4"/><path d="M233.3 120.6L237.8 122.6L244.7 132L240.2 129.9z" fill="none" stroke="#000" stroke-width="1" stroke-linejoin="round"/><path d="M223.2 111L221.9 110.6L221.9 110.3zM221.9 110.6L221.6 110.2L221.9 110.3z" fill="#fdd01a" stroke="#fdd01a" stroke-width=".4"/><path d="M220.2 106.3L220.7 107.3L217.9 105.2zM222 107.2L226.4 112L220.7 107.3L220.2 106.3zM226.4 112L223.2 111L221.9 110.3L220.7 107.3zM221.6 110.2L216.4 104.5L217.9 105.2L220.7 107.3L221.9 110.3z" fill="#ff9716" stroke="#ff9716" stroke-width=".4"/><path d="M215 103L219.4 104.3L220.2 106.3L217.9 105.2zM219.4 104.3L222 107.2L220.2 106.3zM216.4 104.5L215 103L217.9 105.2z" fill="#ff5713" stroke="#ff5713" stroke-width=".4"/><path d="M215 103L219.4 104.3L226.4 112L221.9 110.6z" fill="none" stroke="#000" stroke-width="1" stroke-linejoin="round"/><path d="M237 121.6L237.8 122.6L236.4 121.2zM237.8 122.6L233.3 120.6L232.9 119.3L236.4 121.2zM233.3 120.6L231.8 118.7L232.9 119.3z" fill="#f7f41d" stroke="#f7f41d" stroke-width=".4"/><path d="M231.4 115.2L232.1 117.1L227.8 113.3zM232.4 115.8L237 121.6L236.4 121.2L232.1 117.1L231.4 115.2zM232.9 119.3L232.1 117.1L236.4 121.2zM231.8 118.7L227.1 113L227.8 113.3L232.1 117.1L232.9 119.3z" fill="#fdd01a" stroke="#fdd01a" stroke-width=".4"/><path d="M226.4 112L230.9 113.9L231.4 115.2L227.8 113.3zM230.9 113.9L232.4 115.8L231.4 115.2zM227.1 113L226.4 112L227.8 113.3z" fill="#ff9716" stroke="#ff9716" stroke-width=".4"/><path d="M226.4 112L230.9 113.9L237.8 122.6L233.3 120.6z" fill="none" stroke="#000" stroke-width="1" stroke-linejoin="round"/><path d="M246.2 130.4L249.2 134.6L244.1 129zM249.2 134.6L244.7 132L243.6 128.7L244.1 129zM244.7 132L241.3 127.4L243.6 128.7z" fill="#d5fb21" stroke="#d5fb21" stroke-width=".4"/><path d="M237.8 122.6L242.3 125.1L243.5 128.4zM242.3 125.1L246.2 130.4L244.1 129L243.5 128.4zM243.6 128.7L243.5 128.4L244.1 129zM241.3 127.4L237.8 122.6L243.5 128.4L243.6 128.7z" fill="#f7f41d" stroke="#f7f41d" stroke-width=".4"/><path d="M237.8 122.6L242.3 125.1L249.2 134.6L244.7 132z" fill="none" stroke="#000" stroke-width="1" stroke-linejoin="round"/><path d="M216.5 101.5L219.4 104.3L213.8 100.2zM219.4 104.3L215 103L213.7 100.1L213.8 100.2zM215 103L210.7 98.8L213.7 100.1z" fill="#ff5713" stroke="#ff5713" stroke-width=".4"/><path d="M207.9 96.2L212.3 97.4L213.7 100zM212.3 97.4L216.5 101.5L213.8 100.2L213.7 100zM213.7 100.1L213.7 100L213.8 100.2zM210.7 98.8L207.9 96.2L213.7 100L213.7 100.1z" fill="#ff1910" stroke="#ff1910" stroke-width=".4"/><path d="M207.9 96.2L212.3 97.4L219.4 104.3L215 103z" fill="none" stroke="#000" stroke-width="1" stroke-linejoin="round"/><path d="M225 108.7L225.1 108.9L224.5 108.4zM227.4 110L230.9 113.9L225.1 108.9L225 108.7zM230.9 113.9L226.4 112L225.1 108.9zM226.4 112L222 107.2L224.5 108.4L225.1 108.9z" fill="#ff9716" stroke="#ff9716" stroke-width=".4"/><path d="M219.4 104.3L223.9 106L225 108.7L224.5 108.4zM223.9 106L227.4 110L225 108.7zM222 107.2L219.4 104.3L224.5 108.4z" fill="#ff5713" stroke="#ff5713" stroke-width=".4"/><path d="M219.4 104.3L223.9 106L230.9 113.9L226.4 112z" fill="none" stroke="#000" stroke-width="1" stroke-linejoin="round"/><path d="M241.9 124.5L242.3 125.1L241.6 124.3zM242.3 125.1L237.8 122.6L237.6 121.9L241.6 124.3zM237.8 122.6L237 121.6L237.6 121.9z" fill="#f7f41d" stroke="#f7f41d" stroke-width=".4"/><path d="M236 117.9L236.6 119.3L233.6 116.5zM237.3 118.7L241.9 124.5L241.6 124.3L236.6 119.3L236 117.9zM237.6 121.9L236.6 119.3L241.6 124.3zM237 121.6L232.4 115.8L233.6 116.5L236.6 119.3L237.6 121.9z" fill="#fdd01a" stroke="#fdd01a" stroke-width=".4"/><path d="M230.9 113.9L235.4 116.2L236 117.9L233.6 116.5zM235.4 116.2L237.3 118.7L236 117.9zM232.4 115.8L230.9 113.9L233.6 116.5z" fill="#ff9716" stroke="#ff9716" stroke-width=".4"/><path d="M230.9 113.9L235.4 116.2L242.3 125.1L237.8 122.6z" fill="none" stroke="#000" stroke-width="1" stroke-linejoin="round"/><path d="M250.8 133.4L253.8 137.7L248.9 132.1zM253.8 137.7L249.2 134.6L248.2 131.7L248.9 132.1zM249.2 134.6L246.2 130.4L248.2 131.7z" fill="#d5fb21" stroke="#d5fb21" stroke-width=".4"/><path d="M242.3 125.1L246.9 127.9L248.1 131.2zM246.9 127.9L250.8 133.4L248.9 132.1L248.1 131.2zM248.2 131.7L248.1 131.2L248.9 132.1zM246.2 130.4L242.3 125.1L248.1 131.2L248.2 131.7z" fill="#f7f41d" stroke="#f7f41d" stroke-width=".4"/><path d="M242.3 125.1L246.9 127.9L253.8 137.7L249.2 134.6z" fill="none" stroke="#000" stroke-width="1" stroke-linejoin="round"/><path d="M210.5 95.8L212.3 97.4L208.7 95zM212.3 97.4L207.9 96.2L206.9 94.2L208.7 95zM207.9 96.2L204.4 93.2L206.9 94.2z" fill="#ff1910" stroke="#ff1910" stroke-width=".4"/><path d="M200.8 90.2L205.2 91.2L206.6 93.6zM205.2 91.2L210.5 95.8L208.7 95L206.6 93.6zM206.9 94.2L206.6 93.6L208.7 95zM204.4 93.2L200.8 90.2L206.6 93.6L206.9 94.2z" fill="#ea0909" stroke="#ea0909" stroke-width=".4"/><path d="M200.8 90.2L205.2 91.2L212.3 97.4L207.9 96.2z" fill="none" stroke="#000" stroke-width="1" stroke-linejoin="round"/><path d="M222 104.2L223.9 106L220.5 103.4zM223.9 106L219.4 104.3L218.5 102.4L220.5 103.4zM219.4 104.3L216.5 101.5L218.5 102.4z" fill="#ff5713" stroke="#ff5713" stroke-width=".4"/><path d="M212.3 97.4L216.8 99L218.1 101.5zM216.8 99L222 104.2L220.5 103.4L218.1 101.5zM218.5 102.4L218.1 101.5L220.5 103.4zM216.5 101.5L212.3 97.4L218.1 101.5L218.5 102.4z" fill="#ff1910" stroke="#ff1910" stroke-width=".4"/><path d="M212.3 97.4L216.8 99L223.9 106L219.4 104.3z" fill="none" stroke="#000" stroke-width="1" stroke-linejoin="round"/><path d="M232.4 112.9L235.4 116.2L230.3 111.6zM235.4 116.2L230.9 113.9L229.8 111.3L230.3 111.6zM230.9 113.9L227.4 110L229.8 111.3z" fill="#ff9716" stroke="#ff9716" stroke-width=".4"/><path d="M223.9 106L228.4 108.2L229.6 111zM228.4 108.2L232.4 112.9L230.3 111.6L229.6 111zM229.8 111.3L229.6 111L230.3 111.6zM227.4 110L223.9 106L229.6 111L229.8 111.3z" fill="#ff5713" stroke="#ff5713" stroke-width=".4"/><path d="M223.9 106L228.4 108.2L235.4 116.2L230.9 113.9z" fill="none" stroke="#000" stroke-width="1" stroke-linejoin="round"/><path d="M246.6 127.5L246.9 127.9L246.4 127.4zM246.9 127.9L242.3 125.1L242.2 124.7L246.4 127.4zM242.3 125.1L241.9 124.5L242.2 124.7z" fill="#f7f41d" stroke="#f7f41d" stroke-width=".4"/><path d="M240.7 120.8L241.2 121.9L238.7 119.5zM242 121.7L246.6 127.5L246.4 127.4L241.2 121.9L240.7 120.8zM242.2 124.7L241.2 121.9L246.4 127.4zM241.9 124.5L237.3 118.7L238.7 119.5L241.2 121.9L242.2 124.7z" fill="#fdd01a" stroke="#fdd01a" stroke-width=".4"/><path d="M235.4 116.2L239.9 119L240.7 120.8L238.7 119.5zM239.9 119L242 121.7L240.7 120.8zM237.3 118.7L235.4 116.2L238.7 119.5z" fill="#ff9716" stroke="#ff9716" stroke-width=".4"/><path d="M235.4 116.2L239.9 119L246.9 127.9L242.3 125.1z" fill="none" stroke="#000" stroke-width="1" stroke-linejoin="round"/><path d="M255.2 136.5L258.4 141.1L253.3 135.1zM258.4 141.1L253.8 137.7L252.8 134.7L253.3 135.1zM253.8 137.7L250.8 133.4L252.8 134.7z" fill="#d5fb21" stroke="#d5fb21" stroke-width=".4"/><path d="M246.9 127.9L251.5 131.3L252.7 134.4zM251.5 131.3L255.2 136.5L253.3 135.1L252.7 134.4zM252.8 134.7L252.7 134.4L253.3 135.1zM250.8 133.4L246.9 127.9L252.7 134.4L252.8 134.7z" fill="#f7f41d" stroke="#f7f41d" stroke-width=".4"/><path d="M246.9 127.9L251.5 131.3L258.4 141.1L253.8 137.7z" fill="none" stroke="#000" stroke-width="1" stroke-linejoin="round"/><path d="M203.8 90.2L205.2 91.2L202.2 89.5zM205.2 91.2L200.8 90.2L199.8 88.5L202.2 89.5zM200.8 90.2L197.3 87.6L199.8 88.5z" fill="#ea0909" stroke="#ea0909" stroke-width=".4"/><path d="M193.7 85L198.1 85.9L199.5 87.9zM198.1 85.9L203.8 90.2L202.2 89.5L199.5 87.9zM199.8 88.5L199.5 87.9L202.2 89.5zM197.3 87.6L193.7 85L199.5 87.9L199.8 88.5z" fill="#d30303" stroke="#d30303" stroke-width=".4"/><path d="M193.7 85L198.1 85.9L205.2 91.2L200.8 90.2z" fill="none" stroke="#000" stroke-width="1" stroke-linejoin="round"/><path d="M216.3 98.5L216.8 99L215.8 98.3zM216.8 99L212.3 97.4L211.8 96.3L215.8 98.3zM212.3 97.4L210.5 95.8L211.8 96.3z" fill="#ff1910" stroke="#ff1910" stroke-width=".4"/><path d="M205.2 91.2L209.3 92.6L209.7 92.8L211 94.9zM209.8 92.8L216.3 98.5L215.8 98.3L211 94.9L209.7 92.8zM211.8 96.3L211 94.9L215.8 98.3zM210.5 95.8L205.2 91.2L211 94.9L211.8 96.3z" fill="#ea0909" stroke="#ea0909" stroke-width=".4"/><path d="M209.3 92.6L209.7 92.7L209.7 92.8zM209.7 92.7L209.8 92.8L209.7 92.8z" fill="#d30303" stroke="#d30303" stroke-width=".4"/><path d="M205.2 91.2L209.7 92.7L216.8 99L212.3 97.4z" fill="none" stroke="#000" stroke-width="1" stroke-linejoin="round"/><path d="M227.2 107.1L228.4 108.2L226.4 106.6zM228.4 108.2L223.9 106L223.3 104.9L226.4 106.6zM223.9 106L222 104.2L223.3 104.9z" fill="#ff5713" stroke="#ff5713" stroke-width=".4"/><path d="M216.8 99L219.6 100.3L221.4 101.2L222.6 103.4zM221.6 101.3L227.2 107.1L226.4 106.6L222.6 103.4L221.4 101.2zM223.3 104.9L222.6 103.4L226.4 106.6zM222 104.2L216.8 99L222.6 103.4L223.3 104.9z" fill="#ff1910" stroke="#ff1910" stroke-width=".4"/><path d="M219.6 100.3L221.3 101L221.4 101.2zM221.3 101L221.6 101.3L221.4 101.2z" fill="#ea0909" stroke="#ea0909" stroke-width=".4"/><path d="M216.8 99L221.3 101L228.4 108.2L223.9 106z" fill="none" stroke="#000" stroke-width="1" stroke-linejoin="round"/><path d="M237.2 115.8L239.9 119L235.4 114.6zM239.9 119L235.4 116.2L234.4 114L235.4 114.6zM235.4 116.2L232.4 112.9L234.4 114z" fill="#ff9716" stroke="#ff9716" stroke-width=".4"/><path d="M228.4 108.2L232.9 110.8L234.2 113.4zM232.9 110.8L237.2 115.8L235.4 114.6L234.2 113.4zM234.4 114L234.2 113.4L235.4 114.6zM232.4 112.9L228.4 108.2L234.2 113.4L234.4 114z" fill="#ff5713" stroke="#ff5713" stroke-width=".4"/><path d="M228.4 108.2L232.9 110.8L239.9 119L235.4 116.2z" fill="none" stroke="#000" stroke-width="1" stroke-linejoin="round"/><path d="M196 84.7L198.1 85.9L193.4 83.7zM198.1 85.9L193.7 85L192.4 83.3L193.4 83.7zM193.7 85L189.1 82.2L192.4 83.3z" fill="#d30303" stroke="#d30303" stroke-width=".4"/><path d="M186.5 80.7L190.9 81.5L192.3 83.1zM190.9 81.5L196 84.7L193.4 83.7L192.3 83.1zM192.4 83.3L192.3 83.1L193.4 83.7zM189.1 82.2L186.5 80.7L192.3 83.1L192.4 83.3z" fill="#bf0000" stroke="#bf0000" stroke-width=".4"/><path d="M186.5 80.7L190.9 81.5L198.1 85.9L193.7 85z" fill="none" stroke="#000" stroke-width="1" stroke-linejoin="round"/><path d="M259.4 139.7L263.1 145L257.4 138.1zM263.1 145L258.4 141.1L257.3 138L257.4 138.1zM258.4 141.1L255.2 136.5L257.3 138z" fill="#d5fb21" stroke="#d5fb21" stroke-width=".4"/><path d="M251.5 131.3L256.1 135L257.3 138zM256.1 135L259.4 139.7L257.4 138.1L257.3 138zM257.3 138L257.3 138L257.4 138.1zM255.2 136.5L251.5 131.3L257.3 138L257.3 138z" fill="#f7f41d" stroke="#f7f41d" stroke-width=".4"/><path d="M251.5 131.3L256.1 135L263.1 145L258.4 141.1z" fill="none" stroke="#000" stroke-width="1" stroke-linejoin="round"/><path d="M251 130.6L251.5 131.3L250.7 130.4zM251.5 131.3L246.9 127.9L246.8 127.7L250.7 130.4zM246.9 127.9L246.6 127.5L246.8 127.7z" fill="#f7f41d" stroke="#f7f41d" stroke-width=".4"/><path d="M245.2 123.8L245.7 124.9L243.4 122.6zM246.5 124.7L251 130.6L250.7 130.4L245.7 124.9L245.2 123.8zM246.8 127.7L245.7 124.9L250.7 130.4zM246.6 127.5L242 121.7L243.4 122.6L245.7 124.9L246.8 127.7z" fill="#fdd01a" stroke="#fdd01a" stroke-width=".4"/><path d="M239.9 119L244.5 122.2L245.2 123.8L243.4 122.6zM244.5 122.2L246.5 124.7L245.2 123.8zM242 121.7L239.9 119L243.4 122.6z" fill="#ff9716" stroke="#ff9716" stroke-width=".4"/><path d="M239.9 119L244.5 122.2L251.5 131.3L246.9 127.9z" fill="none" stroke="#000" stroke-width="1" stroke-linejoin="round"/><path d="M209.3 92.6L205.2 91.2L204.8 90.6zM205.2 91.2L203.8 90.2L204.8 90.6z" fill="#ea0909" stroke="#ea0909" stroke-width=".4"/><path d="M198.1 85.9L202.5 87.3L203.9 89.1zM202.5 87.3L209.7 92.7L203.9 89.1zM209.7 92.7L209.3 92.6L204.8 90.6L203.9 89.1zM203.8 90.2L198.1 85.9L203.9 89.1L204.8 90.6z" fill="#d30303" stroke="#d30303" stroke-width=".4"/><path d="M198.1 85.9L202.5 87.3L209.7 92.7L205.2 91.2z" fill="none" stroke="#000" stroke-width="1" stroke-linejoin="round"/><path d="M219.6 100.3L216.8 99L216.6 98.7zM216.8 99L216.3 98.5L216.6 98.7z" fill="#ff1910" stroke="#ff1910" stroke-width=".4"/><path d="M214.5 95.2L215.5 96.7L209.9 92.9zM215.2 95.6L221.3 101L215.5 96.7L214.5 95.2zM221.3 101L219.6 100.3L216.6 98.7L215.5 96.7zM216.3 98.5L209.8 92.8L209.9 92.9L215.5 96.7L216.6 98.7z" fill="#ea0909" stroke="#ea0909" stroke-width=".4"/><path d="M209.7 92.7L214.1 94.6L214.5 95.2L209.9 92.9zM214.1 94.6L215.2 95.6L214.5 95.2zM209.8 92.8L209.7 92.7L209.9 92.9z" fill="#d30303" stroke="#d30303" stroke-width=".4"/><path d="M209.7 92.7L214.1 94.6L221.3 101L216.8 99z" fill="none" stroke="#000" stroke-width="1" stroke-linejoin="round"/><path d="M179.3 77.2L179.7 77.3L184.5 78.7L185.1 79.2zM186.6 79.4L190.9 81.5L185.1 79.2L184.5 78.7zM190.9 81.5L186.5 80.7L185.1 79.2zM186.5 80.7L179.3 77.2L185.1 79.2z" fill="#bf0000" stroke="#bf0000" stroke-width=".4"/><path d="M179.7 77.3L183.6 77.9L184.5 78.7zM183.6 77.9L186.6 79.4L184.5 78.7z" fill="#ad0000" stroke="#ad0000" stroke-width=".4"/><path d="M179.3 77.2L183.6 77.9L190.9 81.5L186.5 80.7z" fill="none" stroke="#000" stroke-width="1" stroke-linejoin="round"/><path d="M232.1 110L232.9 110.8L231.5 109.6zM232.9 110.8L228.4 108.2L228 107.5L231.5 109.6zM228.4 108.2L227.2 107.1L228 107.5z" fill="#ff5713" stroke="#ff5713" stroke-width=".4"/><path d="M226 103.9L227.1 105.7L221.8 101.4zM226.5 104.2L232.1 110L231.5 109.6L227.1 105.7L226 103.9zM228 107.5L227.1 105.7L231.5 109.6zM227.2 107.1L221.6 101.3L221.8 101.4L227.1 105.7L228 107.5z" fill="#ff1910" stroke="#ff1910" stroke-width=".4"/><path d="M221.3 101L225.8 103.5L226 103.9L221.8 101.4zM225.8 103.5L226.5 104.2L226 103.9zM221.6 101.3L221.3 101L221.8 101.4z" fill="#ea0909" stroke="#ea0909" stroke-width=".4"/><path d="M221.3 101L225.8 103.5L232.9 110.8L228.4 108.2z" fill="none" stroke="#000" stroke-width="1" stroke-linejoin="round"/><path d="M241.7 118.8L244.5 122.2L240.1 117.7zM244.5 122.2L239.9 119L239 116.9L240.1 117.7zM239.9 119L237.2 115.8L239 116.9z" fill="#ff9716" stroke="#ff9716" stroke-width=".4"/><path d="M232.9 110.8L237.5 113.9L238.7 116.3zM237.5 113.9L241.7 118.8L240.1 117.7L238.7 116.3zM239 116.9L238.7 116.3L240.1 117.7zM237.2 115.8L232.9 110.8L238.7 116.3L239 116.9z" fill="#ff5713" stroke="#ff5713" stroke-width=".4"/><path d="M232.9 110.8L237.5 113.9L244.5 122.2L239.9 119z" fill="none" stroke="#000" stroke-width="1" stroke-linejoin="round"/><path d="M267.4 148.8L267.7 149.4L267.2 148.7zM267.7 149.4L265.5 147.3L267.2 148.7z" fill="#9cfa21" stroke="#9cfa21" stroke-width=".4"/><path d="M261.8 141.5L261.9 142L261.2 141.1zM263.3 142.9L267.4 148.8L267.2 148.7L261.9 142L261.8 141.5zM265.5 147.3L263.1 145L261.9 142L267.2 148.7zM263.1 145L259.4 139.7L261.2 141.1L261.9 142z" fill="#d5fb21" stroke="#d5fb21" stroke-width=".4"/><path d="M256.1 135L260.8 139.2L261.8 141.5L261.2 141.1zM260.8 139.2L263.3 142.9L261.8 141.5zM259.4 139.7L256.1 135L261.2 141.1z" fill="#f7f41d" stroke="#f7f41d" stroke-width=".4"/><path d="M256.1 135L260.8 139.2L267.7 149.4L263.1 145z" fill="none" stroke="#000" stroke-width="1" stroke-linejoin="round"/><path d="M255.2 133.7L256.1 135L254.7 133.3zM256.1 135L251.5 131.3L251.3 130.8L254.7 133.3zM251.5 131.3L251 130.6L251.3 130.8z" fill="#f7f41d" stroke="#f7f41d" stroke-width=".4"/><path d="M249.7 127.1L250.3 128.4L247.7 125.5zM250.7 127.8L255.2 133.7L254.7 133.3L250.3 128.4L249.7 127.1zM251.3 130.8L250.3 128.4L254.7 133.3zM251 130.6L246.5 124.7L247.7 125.5L250.3 128.4L251.3 130.8z" fill="#fdd01a" stroke="#fdd01a" stroke-width=".4"/><path d="M244.5 122.2L249.2 125.8L249.7 127.1L247.7 125.5zM249.2 125.8L250.7 127.8L249.7 127.1zM246.5 124.7L244.5 122.2L247.7 125.5z" fill="#ff9716" stroke="#ff9716" stroke-width=".4"/><path d="M244.5 122.2L249.2 125.8L256.1 135L251.5 131.3z" fill="none" stroke="#000" stroke-width="1" stroke-linejoin="round"/><path d="M202.4 87.3L202.5 87.3L202.3 87.2zM202.5 87.3L198.1 85.9L197.5 85.2L202.3 87.2zM198.1 85.9L196 84.7L197.5 85.2z" fill="#d30303" stroke="#d30303" stroke-width=".4"/><path d="M190.9 81.5L195.3 82.7L196.7 84.2zM195.3 82.7L202.4 87.3L202.3 87.2L196.7 84.2zM197.5 85.2L196.7 84.2L202.3 87.2zM196 84.7L190.9 81.5L196.7 84.2L197.5 85.2z" fill="#bf0000" stroke="#bf0000" stroke-width=".4"/><path d="M190.9 81.5L195.3 82.7L202.5 87.3L198.1 85.9z" fill="none" stroke="#000" stroke-width="1" stroke-linejoin="round"/><path d="M179.7 77.3L179.3 77.2L179.2 77.2zM179.3 77.2L178.8 77.1L179.2 77.2z" fill="#bf0000" stroke="#bf0000" stroke-width=".4"/><path d="M172 74.6L176.3 75.2L177.8 76.1zM176.3 75.2L183.6 77.9L177.8 76.1zM183.6 77.9L179.7 77.3L179.2 77.2L177.8 76.1zM178.8 77.1L172 74.6L177.8 76.1L179.2 77.2z" fill="#ad0000" stroke="#ad0000" stroke-width=".4"/><path d="M172 74.6L176.3 75.2L183.6 77.9L179.3 77.2z" fill="none" stroke="#000" stroke-width="1" stroke-linejoin="round"/><path d="M202.5 87.3L202.7 87.4L207.3 89.6L208.3 90.8zM208.1 90L214.1 94.6L208.3 90.8L207.3 89.6zM214.1 94.6L209.7 92.7L208.3 90.8zM209.7 92.7L202.5 87.3L208.3 90.8z" fill="#d30303" stroke="#d30303" stroke-width=".4"/><path d="M202.7 87.4L206.9 89.1L207.3 89.6zM206.9 89.1L208.1 90L207.3 89.6z" fill="#bf0000" stroke="#bf0000" stroke-width=".4"/><path d="M202.5 87.3L206.9 89.1L214.1 94.6L209.7 92.7z" fill="none" stroke="#000" stroke-width="1" stroke-linejoin="round"/><path d="M219.2 97.8L220 98.9L216.1 96.1zM220.3 98.4L225.8 103.5L220 98.9L219.2 97.8zM225.8 103.5L221.3 101L220 98.9zM221.3 101L215.2 95.6L216.1 96.1L220 98.9z" fill="#ea0909" stroke="#ea0909" stroke-width=".4"/><path d="M214.1 94.6L218.7 97L219.2 97.8L216.1 96.1zM218.7 97L220.3 98.4L219.2 97.8zM215.2 95.6L214.1 94.6L216.1 96.1z" fill="#d30303" stroke="#d30303" stroke-width=".4"/><path d="M214.1 94.6L218.7 97L225.8 103.5L221.3 101z" fill="none" stroke="#000" stroke-width="1" stroke-linejoin="round"/><path d="M193.6 81.9L195.3 82.7L191.5 81zM195.3 82.7L190.9 81.5L189.7 80.4L191.5 81zM190.9 81.5L186.6 79.4L189.7 80.4z" fill="#bf0000" stroke="#bf0000" stroke-width=".4"/><path d="M183.6 77.9L188 79L189.4 80.1zM188 79L193.6 81.9L191.5 81L189.4 80.1zM189.7 80.4L189.4 80.1L191.5 81zM186.6 79.4L183.6 77.9L189.4 80.1L189.7 80.4z" fill="#ad0000" stroke="#ad0000" stroke-width=".4"/><path d="M183.6 77.9L188 79L195.3 82.7L190.9 81.5z" fill="none" stroke="#000" stroke-width="1" stroke-linejoin="round"/><path d="M236.6 113L237.5 113.9L236.1 112.6zM237.5 113.9L232.9 110.8L232.6 110.3L236.1 112.6zM232.9 110.8L232.1 110L232.6 110.3z" fill="#ff5713" stroke="#ff5713" stroke-width=".4"/><path d="M230.6 106.8L231.6 108.5L227 104.5zM231.1 107.1L236.6 113L236.1 112.6L231.6 108.5L230.6 106.8zM232.6 110.3L231.6 108.5L236.1 112.6zM232.1 110L226.5 104.2L227 104.5L231.6 108.5L232.6 110.3z" fill="#ff1910" stroke="#ff1910" stroke-width=".4"/><path d="M225.8 103.5L230.4 106.4L230.6 106.8L227 104.5zM230.4 106.4L231.1 107.1L230.6 106.8zM226.5 104.2L225.8 103.5L227 104.5z" fill="#ea0909" stroke="#ea0909" stroke-width=".4"/><path d="M225.8 103.5L230.4 106.4L237.5 113.9L232.9 110.8z" fill="none" stroke="#000" stroke-width="1" stroke-linejoin="round"/><path d="M271.1 152.2L272.4 154.1L270.5 151.6zM272.4 154.1L267.7 149.4L267.6 149L270.5 151.6zM267.7 149.4L267.4 148.8L267.6 149z" fill="#9cfa21" stroke="#9cfa21" stroke-width=".4"/><path d="M266.1 145.3L266.6 146.5L264.6 144zM267.1 146.2L271.1 152.2L270.5 151.6L266.6 146.5L266.1 145.3zM267.6 149L266.6 146.5L270.5 151.6zM267.4 148.8L263.3 142.9L264.6 144L266.6 146.5L267.6 149z" fill="#d5fb21" stroke="#d5fb21" stroke-width=".4"/><path d="M260.8 139.2L265.5 143.9L266.1 145.3L264.6 144zM265.5 143.9L267.1 146.2L266.1 145.3zM263.3 142.9L260.8 139.2L264.6 144z" fill="#f7f41d" stroke="#f7f41d" stroke-width=".4"/><path d="M260.8 139.2L265.5 143.9L272.4 154.1L267.7 149.4z" fill="none" stroke="#000" stroke-width="1" stroke-linejoin="round"/><path d="M164.7 72.9L165.5 73L170.2 73.7L170.5 73.8zM173.9 74.6L176.3 75.2L170.5 73.8L170.2 73.7zM176.3 75.2L172 74.6L170.5 73.8zM172 74.6L164.7 72.9L170.5 73.8z" fill="#ad0000" stroke="#ad0000" stroke-width=".4"/><path d="M165.5 73L169 73.3L170.2 73.7zM169 73.3L173.9 74.6L170.2 73.7z" fill="#9b0000" stroke="#9b0000" stroke-width=".4"/><path d="M164.7 72.9L169 73.3L176.3 75.2L172 74.6z" fill="none" stroke="#000" stroke-width="1" stroke-linejoin="round"/><path d="M245.9 121.9L249.2 125.8L244.2 120.6zM249.2 125.8L244.5 122.2L243.5 120.1L244.2 120.6zM244.5 122.2L241.7 118.8L243.5 120.1z" fill="#ff9716" stroke="#ff9716" stroke-width=".4"/><path d="M237.5 113.9L242.1 117.4L243.3 119.6zM242.1 117.4L245.9 121.9L244.2 120.6L243.3 119.6zM243.5 120.1L243.3 119.6L244.2 120.6zM241.7 118.8L237.5 113.9L243.3 119.6L243.5 120.1z" fill="#ff5713" stroke="#ff5713" stroke-width=".4"/><path d="M237.5 113.9L242.1 117.4L249.2 125.8L244.5 122.2z" fill="none" stroke="#000" stroke-width="1" stroke-linejoin="round"/><path d="M259.1 137L260.8 139.2L258.3 136.3zM260.8 139.2L256.1 135L255.8 134.2L258.3 136.3zM256.1 135L255.2 133.7L255.8 134.2z" fill="#f7f41d" stroke="#f7f41d" stroke-width=".4"/><path d="M254.2 130.6L255 132.3L251.6 128.5zM254.7 131L259.1 137L258.3 136.3L255 132.3L254.2 130.6zM255.8 134.2L255 132.3L258.3 136.3zM255.2 133.7L250.7 127.8L251.6 128.5L255 132.3L255.8 134.2z" fill="#fdd01a" stroke="#fdd01a" stroke-width=".4"/><path d="M249.2 125.8L253.8 129.9L254.2 130.6L251.6 128.5zM253.8 129.9L254.7 131L254.2 130.6zM250.7 127.8L249.2 125.8L251.6 128.5z" fill="#ff9716" stroke="#ff9716" stroke-width=".4"/><path d="M249.2 125.8L253.8 129.9L260.8 139.2L256.1 135z" fill="none" stroke="#000" stroke-width="1" stroke-linejoin="round"/><path d="M202.7 87.4L202.5 87.3L202.5 87.3zM202.5 87.3L202.4 87.3L202.5 87.3z" fill="#d30303" stroke="#d30303" stroke-width=".4"/><path d="M195.3 82.7L199.2 84.2L199.7 84.4L201.1 85.7zM199.8 84.5L206.9 89.1L201.1 85.7L199.7 84.4zM206.9 89.1L202.7 87.4L202.5 87.3L201.1 85.7zM202.4 87.3L195.3 82.7L201.1 85.7L202.5 87.3z" fill="#bf0000" stroke="#bf0000" stroke-width=".4"/><path d="M199.2 84.2L199.7 84.4L199.7 84.4zM199.7 84.4L199.8 84.5L199.7 84.4z" fill="#ad0000" stroke="#ad0000" stroke-width=".4"/><path d="M195.3 82.7L199.7 84.4L206.9 89.1L202.5 87.3z" fill="none" stroke="#000" stroke-width="1" stroke-linejoin="round"/><path d="M176.3 75.2L178.6 75.7L181.1 76.4L182.1 76.9zM182.3 76.8L188 79L182.1 76.9L181.1 76.4zM188 79L183.6 77.9L182.1 76.9zM183.6 77.9L176.3 75.2L182.1 76.9z" fill="#ad0000" stroke="#ad0000" stroke-width=".4"/><path d="M178.6 75.7L180.7 76.1L181.1 76.4zM180.7 76.1L182.3 76.8L181.1 76.4z" fill="#9b0000" stroke="#9b0000" stroke-width=".4"/><path d="M176.3 75.2L180.7 76.1L188 79L183.6 77.9z" fill="none" stroke="#000" stroke-width="1" stroke-linejoin="round"/><path d="M212.1 92L212.8 92.8L209.1 90.5zM213.3 92.8L218.7 97L212.8 92.8L212.1 92zM218.7 97L214.1 94.6L212.8 92.8zM214.1 94.6L208.1 90L209.1 90.5L212.8 92.8z" fill="#d30303" stroke="#d30303" stroke-width=".4"/><path d="M206.9 89.1L211.4 91.3L212.1 92L209.1 90.5zM211.4 91.3L213.3 92.8L212.1 92zM208.1 90L206.9 89.1L209.1 90.5z" fill="#bf0000" stroke="#bf0000" stroke-width=".4"/><path d="M206.9 89.1L211.4 91.3L218.7 97L214.1 94.6z" fill="none" stroke="#000" stroke-width="1" stroke-linejoin="round"/><path d="M165.5 73L164.7 72.9L164.4 72.8zM164.7 72.9L163 72.7L164.4 72.8z" fill="#ad0000" stroke="#ad0000" stroke-width=".4"/><path d="M157.4 72L161.6 72.3L163.2 72.5zM161.6 72.3L169 73.3L163.2 72.5zM169 73.3L165.5 73L164.4 72.8L163.2 72.5zM163 72.7L157.4 72L163.2 72.5L164.4 72.8z" fill="#9b0000" stroke="#9b0000" stroke-width=".4"/><path d="M157.4 72L161.6 72.3L169 73.3L164.7 72.9z" fill="none" stroke="#000" stroke-width="1" stroke-linejoin="round"/><path d="M223.9 100.6L224.5 101.5L221.5 99.1zM225 101.4L230.4 106.4L224.5 101.5L223.9 100.6zM230.4 106.4L225.8 103.5L224.5 101.5zM225.8 103.5L220.3 98.4L221.5 99.1L224.5 101.5z" fill="#ea0909" stroke="#ea0909" stroke-width=".4"/><path d="M218.7 97L223.2 99.7L223.9 100.6L221.5 99.1zM223.2 99.7L225 101.4L223.9 100.6zM220.3 98.4L218.7 97L221.5 99.1z" fill="#d30303" stroke="#d30303" stroke-width=".4"/><path d="M218.7 97L223.2 99.7L230.4 106.4L225.8 103.5z" fill="none" stroke="#000" stroke-width="1" stroke-linejoin="round"/><path d="M274.7 155.6L277.2 159.4L273.6 154.5zM277.2 159.4L272.4 154.1L271.9 152.9L273.6 154.5zM272.4 154.1L271.1 152.2L271.9 152.9z" fill="#9cfa21" stroke="#9cfa21" stroke-width=".4"/><path d="M270.4 149.3L271.3 151.4L267.9 146.9zM270.7 149.6L274.7 155.6L273.6 154.5L271.3 151.4L270.4 149.3zM271.9 152.9L271.3 151.4L273.6 154.5zM271.1 152.2L267.1 146.2L267.9 146.9L271.3 151.4L271.9 152.9z" fill="#d5fb21" stroke="#d5fb21" stroke-width=".4"/><path d="M265.5 143.9L270.2 148.9L270.4 149.3L267.9 146.9zM270.2 148.9L270.7 149.6L270.4 149.3zM267.1 146.2L265.5 143.9L267.9 146.9z" fill="#f7f41d" stroke="#f7f41d" stroke-width=".4"/><path d="M265.5 143.9L270.2 148.9L277.2 159.4L272.4 154.1z" fill="none" stroke="#000" stroke-width="1" stroke-linejoin="round"/><path d="M240.9 116.1L242.1 117.4L240.2 115.6zM242.1 117.4L237.5 113.9L237.2 113.3L240.2 115.6zM237.5 113.9L236.6 113L237.2 113.3z" fill="#ff5713" stroke="#ff5713" stroke-width=".4"/><path d="M235.1 110L236.2 111.7L231.5 107.4zM235.4 110.2L240.9 116.1L240.2 115.6L236.2 111.7L235.1 110zM237.2 113.3L236.2 111.7L240.2 115.6zM236.6 113L231.1 107.1L231.5 107.4L236.2 111.7L237.2 113.3z" fill="#ff1910" stroke="#ff1910" stroke-width=".4"/><path d="M230.4 106.4L235 109.7L235.1 110L231.5 107.4zM235 109.7L235.4 110.2L235.1 110zM231.1 107.1L230.4 106.4L231.5 107.4z" fill="#ea0909" stroke="#ea0909" stroke-width=".4"/><path d="M230.4 106.4L235 109.7L242.1 117.4L237.5 113.9z" fill="none" stroke="#000" stroke-width="1" stroke-linejoin="round"/><path d="M199.2 84.2L195.3 82.7L194.8 82.3zM195.3 82.7L193.6 81.9L194.8 82.3z" fill="#bf0000" stroke="#bf0000" stroke-width=".4"/><path d="M188 79L192.4 80.5L193.8 81.5zM192.4 80.5L199.7 84.4L193.8 81.5zM199.7 84.4L199.2 84.2L194.8 82.3L193.8 81.5zM193.6 81.9L188 79L193.8 81.5L194.8 82.3z" fill="#ad0000" stroke="#ad0000" stroke-width=".4"/><path d="M188 79L192.4 80.5L199.7 84.4L195.3 82.7z" fill="none" stroke="#000" stroke-width="1" stroke-linejoin="round"/><path d="M262.9 140.3L265.5 143.9L261.7 139.2zM265.5 143.9L260.8 139.2L260.2 137.8L261.7 139.2zM260.8 139.2L259.1 137L260.2 137.8z" fill="#f7f41d" stroke="#f7f41d" stroke-width=".4"/><path d="M258.3 134.2L258.5 134.4L259.7 136.7L255.2 131.4zM258.5 134.4L262.9 140.3L261.7 139.2L259.7 136.7zM260.2 137.8L259.7 136.7L261.7 139.2zM259.1 137L254.7 131L255.2 131.4L259.7 136.7L260.2 137.8z" fill="#fdd01a" stroke="#fdd01a" stroke-width=".4"/><path d="M253.8 129.9L258.3 134.2L255.2 131.4zM254.7 131L253.8 129.9L255.2 131.4z" fill="#ff9716" stroke="#ff9716" stroke-width=".4"/><path d="M253.8 129.9L258.5 134.4L265.5 143.9L260.8 139.2z" fill="none" stroke="#000" stroke-width="1" stroke-linejoin="round"/><path d="M249.9 125.1L253.8 129.9L248.1 123.5zM253.8 129.9L249.2 125.8L248 123.5L248.1 123.5zM249.2 125.8L245.9 121.9L248 123.5z" fill="#ff9716" stroke="#ff9716" stroke-width=".4"/><path d="M242.1 117.4L246.8 121.3L248 123.4zM246.8 121.3L249.9 125.1L248.1 123.5L248 123.4zM248 123.5L248 123.4L248.1 123.5zM245.9 121.9L242.1 117.4L248 123.4L248 123.5z" fill="#ff5713" stroke="#ff5713" stroke-width=".4"/><path d="M242.1 117.4L246.8 121.3L253.8 129.9L249.2 125.8z" fill="none" stroke="#000" stroke-width="1" stroke-linejoin="round"/><path d="M150 72L154.2 72.2L161.6 72.3L157.4 72z" fill="#9b0000" stroke="#000" stroke-width="1" stroke-linejoin="round"/><path d="M178.6 75.7L176.3 75.2L175.7 74.9zM176.3 75.2L173.9 74.6L175.7 74.9z" fill="#ad0000" stroke="#ad0000" stroke-width=".4"/><path d="M169 73.3L173.3 74.2L174.8 74.5zM173.3 74.2L180.7 76.1L174.8 74.5zM180.7 76.1L178.6 75.7L175.7 74.9L174.8 74.5zM173.9 74.6L169 73.3L174.8 74.5L175.7 74.9z" fill="#9b0000" stroke="#9b0000" stroke-width=".4"/><path d="M169 73.3L173.3 74.2L180.7 76.1L176.3 75.2z" fill="none" stroke="#000" stroke-width="1" stroke-linejoin="round"/><path d="M204.6 86.8L205.6 87.6L200 84.5zM205.3 87.2L211.4 91.3L205.6 87.6L204.6 86.8zM211.4 91.3L206.9 89.1L205.6 87.6zM206.9 89.1L199.8 84.5L200 84.5L205.6 87.6z" fill="#bf0000" stroke="#bf0000" stroke-width=".4"/><path d="M199.7 84.4L204.2 86.4L204.6 86.8L200 84.5zM204.2 86.4L205.3 87.2L204.6 86.8zM199.8 84.5L199.7 84.4L200 84.5z" fill="#ad0000" stroke="#ad0000" stroke-width=".4"/><path d="M199.7 84.4L204.2 86.4L211.4 91.3L206.9 89.1z" fill="none" stroke="#000" stroke-width="1" stroke-linejoin="round"/><path d="M142.6 73L146.8 73L154.2 72.2L150 72z" fill="#9b0000" stroke="#000" stroke-width="1" stroke-linejoin="round"/><path d="M216.8 94.8L217.3 95.3L214.8 93.6zM218.1 95.7L223.2 99.7L217.3 95.3L216.8 94.8zM223.2 99.7L218.7 97L217.3 95.3zM218.7 97L213.3 92.8L214.8 93.6L217.3 95.3z" fill="#d30303" stroke="#d30303" stroke-width=".4"/><path d="M211.4 91.3L216 93.9L216.8 94.8L214.8 93.6zM216 93.9L218.1 95.7L216.8 94.8zM213.3 92.8L211.4 91.3L214.8 93.6z" fill="#bf0000" stroke="#bf0000" stroke-width=".4"/><path d="M211.4 91.3L216 93.9L223.2 99.7L218.7 97z" fill="none" stroke="#000" stroke-width="1" stroke-linejoin="round"/><path d="M186.4 78.1L186.5 78.1L185.4 77.7zM189.3 79.3L192.4 80.5L186.5 78.1L186.4 78.1zM192.4 80.5L188 79L186.5 78.1zM188 79L182.3 76.8L185.4 77.7L186.5 78.1z" fill="#ad0000" stroke="#ad0000" stroke-width=".4"/><path d="M180.7 76.1L185 77.5L186.4 78.1L185.4 77.7zM185 77.5L189.3 79.3L186.4 78.1zM182.3 76.8L180.7 76.1L185.4 77.7z" fill="#9b0000" stroke="#9b0000" stroke-width=".4"/><path d="M180.7 76.1L185 77.5L192.4 80.5L188 79z" fill="none" stroke="#000" stroke-width="1" stroke-linejoin="round"/><path d="M161.6 72.3L165.9 73L173.3 74.2L169 73.3z" fill="#9b0000" stroke="#000" stroke-width="1" stroke-linejoin="round"/><path d="M228.4 103.7L229.1 104.5L226.1 102.1zM229.3 104.4L235 109.7L229.1 104.5L228.4 103.7zM235 109.7L230.4 106.4L229.1 104.5zM230.4 106.4L225 101.4L226.1 102.1L229.1 104.5z" fill="#ea0909" stroke="#ea0909" stroke-width=".4"/><path d="M223.2 99.7L227.8 103L228.4 103.7L226.1 102.1zM227.8 103L229.3 104.4L228.4 103.7zM225 101.4L223.2 99.7L226.1 102.1z" fill="#d30303" stroke="#d30303" stroke-width=".4"/><path d="M223.2 99.7L227.8 103L235 109.7L230.4 106.4z" fill="none" stroke="#000" stroke-width="1" stroke-linejoin="round"/><path d="M278 159.1L281.9 165L276.6 157.5zM281.9 165L277.2 159.4L276.2 157.1L276.6 157.5zM277.2 159.4L274.7 155.6L276.2 157.1z" fill="#9cfa21" stroke="#9cfa21" stroke-width=".4"/><path d="M271.8 150.7L275 154.5L276.1 156.8L270.9 149.8zM275 154.5L278 159.1L276.6 157.5L276.1 156.8zM276.2 157.1L276.1 156.8L276.6 157.5zM274.7 155.6L270.7 149.6L270.9 149.8L276.1 156.8L276.2 157.1z" fill="#d5fb21" stroke="#d5fb21" stroke-width=".4"/><path d="M270.2 148.9L271.8 150.7L270.9 149.8zM270.7 149.6L270.2 148.9L270.9 149.8z" fill="#f7f41d" stroke="#f7f41d" stroke-width=".4"/><path d="M270.2 148.9L275 154.5L281.9 165L277.2 159.4z" fill="none" stroke="#000" stroke-width="1" stroke-linejoin="round"/><path d="M244.8 119.2L246.8 121.3L244 118.5zM246.8 121.3L242.1 117.4L241.7 116.6L244 118.5zM242.1 117.4L240.9 116.1L241.7 116.6z" fill="#ff5713" stroke="#ff5713" stroke-width=".4"/><path d="M238.1 112.3L239.6 113.5L240.9 115.3L235.6 110.4zM239.6 113.5L244.8 119.2L244 118.5L240.9 115.3zM241.7 116.6L240.9 115.3L244 118.5zM240.9 116.1L235.4 110.2L235.6 110.4L240.9 115.3L241.7 116.6z" fill="#ff1910" stroke="#ff1910" stroke-width=".4"/><path d="M235 109.7L238.1 112.3L235.6 110.4zM235.4 110.2L235 109.7L235.6 110.4z" fill="#ea0909" stroke="#ea0909" stroke-width=".4"/><path d="M235 109.7L239.6 113.5L246.8 121.3L242.1 117.4z" fill="none" stroke="#000" stroke-width="1" stroke-linejoin="round"/><path d="M266.4 143.6L270.2 148.9L264.9 142.1zM270.2 148.9L265.5 143.9L264.5 141.7L264.9 142.1zM265.5 143.9L262.9 140.3L264.5 141.7z" fill="#f7f41d" stroke="#f7f41d" stroke-width=".4"/><path d="M258.5 134.4L263.2 139.3L264.4 141.5zM263.2 139.3L266.4 143.6L264.9 142.1L264.4 141.5zM264.5 141.7L264.4 141.5L264.9 142.1zM262.9 140.3L258.5 134.4L264.4 141.5L264.5 141.7z" fill="#fdd01a" stroke="#fdd01a" stroke-width=".4"/><path d="M258.5 134.4L263.2 139.3L270.2 148.9L265.5 143.9z" fill="none" stroke="#000" stroke-width="1" stroke-linejoin="round"/><path d="M258.5 134.3L258.5 134.4L258.4 134.3zM258.5 134.4L258.3 134.2L258.4 134.3z" fill="#fdd01a" stroke="#fdd01a" stroke-width=".4"/><path d="M252.3 127.1L252.6 127.6L251.5 126.4zM253.6 128.4L258.5 134.3L258.4 134.3L252.6 127.6L252.3 127.1zM258.3 134.2L253.8 129.9L252.6 127.6L258.4 134.3zM253.8 129.9L249.9 125.1L251.5 126.4L252.6 127.6z" fill="#ff9716" stroke="#ff9716" stroke-width=".4"/><path d="M246.8 121.3L251.4 125.7L252.3 127.1L251.5 126.4zM251.4 125.7L253.6 128.4L252.3 127.1zM249.9 125.1L246.8 121.3L251.5 126.4z" fill="#ff5713" stroke="#ff5713" stroke-width=".4"/><path d="M246.8 121.3L251.4 125.7L258.5 134.4L253.8 129.9z" fill="none" stroke="#000" stroke-width="1" stroke-linejoin="round"/><path d="M135.2 74.7L139.4 74.7L146.8 73L142.6 73z" fill="#9b0000" stroke="#000" stroke-width="1" stroke-linejoin="round"/><path d="M192.4 80.5L196.8 82.5L204.2 86.4L199.7 84.4z" fill="#ad0000" stroke="#000" stroke-width="1" stroke-linejoin="round"/><path d="M154.2 72.2L157.2 72.6L159.2 72.7L160 72.4zM162.3 72.9L165.9 73L160 72.4L159.2 72.7zM165.9 73L161.6 72.3L160 72.4zM161.6 72.3L154.2 72.2L160 72.4z" fill="#9b0000" stroke="#9b0000" stroke-width=".4"/><path d="M157.2 72.6L158.5 72.8L159.2 72.7zM158.5 72.8L162.3 72.9L159.2 72.7z" fill="#8b0000" stroke="#8b0000" stroke-width=".4"/><path d="M154.2 72.2L158.5 72.8L165.9 73L161.6 72.3z" fill="none" stroke="#000" stroke-width="1" stroke-linejoin="round"/><path d="M173.3 74.2L177.7 75.4L185 77.5L180.7 76.1z" fill="#9b0000" stroke="#000" stroke-width="1" stroke-linejoin="round"/><path d="M127.8 77.4L131.9 77.3L139.4 74.7L135.2 74.7z" fill="#9b0000" stroke="#000" stroke-width="1" stroke-linejoin="round"/><path d="M209.3 89.4L210.1 90L206.3 87.7zM210.3 90.1L216 93.9L210.1 90L209.3 89.4zM216 93.9L211.4 91.3L210.1 90zM211.4 91.3L205.3 87.2L206.3 87.7L210.1 90z" fill="#bf0000" stroke="#bf0000" stroke-width=".4"/><path d="M204.2 86.4L208.7 89L209.3 89.4L206.3 87.7zM208.7 89L210.3 90.1L209.3 89.4zM205.3 87.2L204.2 86.4L206.3 87.7z" fill="#ad0000" stroke="#ad0000" stroke-width=".4"/><path d="M204.2 86.4L208.7 89L216 93.9L211.4 91.3z" fill="none" stroke="#000" stroke-width="1" stroke-linejoin="round"/><path d="M221.3 97.7L221.9 98.2L219.6 96.6zM222.6 98.7L227.8 103L221.9 98.2L221.3 97.7zM227.8 103L223.2 99.7L221.9 98.2zM223.2 99.7L218.1 95.7L219.6 96.6L221.9 98.2z" fill="#d30303" stroke="#d30303" stroke-width=".4"/><path d="M216 93.9L220.5 97L221.3 97.7L219.6 96.6zM220.5 97L222.6 98.7L221.3 97.7zM218.1 95.7L216 93.9L219.6 96.6z" fill="#bf0000" stroke="#bf0000" stroke-width=".4"/><path d="M216 93.9L220.5 97L227.8 103L223.2 99.7z" fill="none" stroke="#000" stroke-width="1" stroke-linejoin="round"/><path d="M285.1 168.6L286.7 171.2L284.5 168zM286.7 171.2L282 165.1L284.5 168z" fill="#3cfa1a" stroke="#3cfa1a" stroke-width=".4"/><path d="M280.4 161.7L280.9 162.6L279.2 160.3zM281.2 162.6L285.1 168.6L284.5 168L280.9 162.6L280.4 161.7zM282 165.1L281.9 165L280.9 162.6L284.5 168zM281.9 165L278 159.1L279.2 160.3L280.9 162.6z" fill="#9cfa21" stroke="#9cfa21" stroke-width=".4"/><path d="M275 154.5L279.8 160.5L280.4 161.7L279.2 160.3zM279.8 160.5L281.2 162.6L280.4 161.7zM278 159.1L275 154.5L279.2 160.3z" fill="#d5fb21" stroke="#d5fb21" stroke-width=".4"/><path d="M275 154.5L279.8 160.5L286.7 171.2L281.9 165z" fill="none" stroke="#000" stroke-width="1" stroke-linejoin="round"/><path d="M120.3 81L122.9 80.9L124.1 79.7zM126.1 78.2L120.3 81L124.1 79.7z" fill="#ad0000" stroke="#ad0000" stroke-width=".4"/><path d="M122.9 80.9L124.4 80.8L126.1 79L124.1 79.7zM124.4 80.8L131.9 77.3L126.1 79zM131.9 77.3L127.8 77.4L126.1 79zM127.8 77.4L126.1 78.2L124.1 79.7L126.1 79z" fill="#9b0000" stroke="#9b0000" stroke-width=".4"/><path d="M120.3 81L124.4 80.8L131.9 77.3L127.8 77.4z" fill="none" stroke="#000" stroke-width="1" stroke-linejoin="round"/><path d="M146.8 73L149 73.3L152.5 72.8L152.6 72.7zM153.3 72.7L152.6 72.7L152.5 72.8zM157.2 72.6L154.2 72.2L152.6 72.7L153.3 72.7zM154.2 72.2L146.8 73L152.6 72.7z" fill="#9b0000" stroke="#9b0000" stroke-width=".4"/><path d="M149 73.3L151 73.5L152.5 72.8zM151 73.5L158.5 72.8L153.3 72.7L152.5 72.8zM158.5 72.8L157.2 72.6L153.3 72.7z" fill="#8b0000" stroke="#8b0000" stroke-width=".4"/><path d="M146.8 73L151 73.5L158.5 72.8L154.2 72.2z" fill="none" stroke="#000" stroke-width="1" stroke-linejoin="round"/><path d="M195.5 81.9L196.8 82.5L194.3 81.3zM196.8 82.5L192.4 80.5L191.5 80.1L194.3 81.3zM192.4 80.5L189.3 79.3L191.5 80.1z" fill="#ad0000" stroke="#ad0000" stroke-width=".4"/><path d="M185 77.5L189.5 79.3L190.9 79.8zM189.5 79.3L195.5 81.9L194.3 81.3L190.9 79.8zM191.5 80.1L190.9 79.8L194.3 81.3zM189.3 79.3L185 77.5L190.9 79.8L191.5 80.1z" fill="#9b0000" stroke="#9b0000" stroke-width=".4"/><path d="M185 77.5L189.5 79.3L196.8 82.5L192.4 80.5z" fill="none" stroke="#000" stroke-width="1" stroke-linejoin="round"/><path d="M239.4 113.3L239.6 113.5L239.3 113.2zM239.6 113.5L238.1 112.3L239.3 113.2z" fill="#ff1910" stroke="#ff1910" stroke-width=".4"/><path d="M232.8 107L233.7 108.1L230.2 105zM233.3 107.5L239.4 113.3L239.3 113.2L233.7 108.1L232.8 107zM238.1 112.3L235 109.7L233.7 108.1L239.3 113.2zM235 109.7L229.3 104.4L230.2 105L233.7 108.1z" fill="#ea0909" stroke="#ea0909" stroke-width=".4"/><path d="M227.8 103L232.4 106.6L232.8 107L230.2 105zM232.4 106.6L233.3 107.5L232.8 107zM229.3 104.4L227.8 103L230.2 105z" fill="#d30303" stroke="#d30303" stroke-width=".4"/><path d="M227.8 103L232.4 106.6L239.6 113.5L235 109.7z" fill="none" stroke="#000" stroke-width="1" stroke-linejoin="round"/><path d="M165.9 73L167.5 73.5L171.2 74.1L171.8 74zM173.7 74.8L177.7 75.4L171.8 74L171.2 74.1zM177.7 75.4L173.3 74.2L171.8 74zM173.3 74.2L165.9 73L171.8 74z" fill="#9b0000" stroke="#9b0000" stroke-width=".4"/><path d="M167.5 73.5L170.2 74.2L171.2 74.1zM170.2 74.2L173.7 74.8L171.2 74.1z" fill="#8b0000" stroke="#8b0000" stroke-width=".4"/><path d="M165.9 73L170.2 74.2L177.7 75.4L173.3 74.2z" fill="none" stroke="#000" stroke-width="1" stroke-linejoin="round"/><path d="M274 153.1L275 154.5L273.6 152.7zM275 154.5L271.8 150.7L273.6 152.7z" fill="#d5fb21" stroke="#d5fb21" stroke-width=".4"/><path d="M268.7 146L269.1 146.7L267.7 144.9zM269.7 147.1L274 153.1L273.6 152.7L269.1 146.7L268.7 146zM271.8 150.7L270.2 148.9L269.1 146.7L273.6 152.7zM270.2 148.9L266.4 143.6L267.7 144.9L269.1 146.7z" fill="#f7f41d" stroke="#f7f41d" stroke-width=".4"/><path d="M263.2 139.3L268 144.7L268.7 146L267.7 144.9zM268 144.7L269.7 147.1L268.7 146zM266.4 143.6L263.2 139.3L267.7 144.9z" fill="#fdd01a" stroke="#fdd01a" stroke-width=".4"/><path d="M263.2 139.3L268 144.7L275 154.5L270.2 148.9z" fill="none" stroke="#000" stroke-width="1" stroke-linejoin="round"/><path d="M248.5 122.5L251.4 125.7L247.3 121.3zM251.4 125.7L246.8 121.3L246 120.2L247.3 121.3zM246.8 121.3L244.8 119.2L246 120.2z" fill="#ff5713" stroke="#ff5713" stroke-width=".4"/><path d="M239.6 113.5L244.3 117.8L245.5 119.4zM244.3 117.8L248.5 122.5L247.3 121.3L245.5 119.4zM246 120.2L245.5 119.4L247.3 121.3zM244.8 119.2L239.6 113.5L245.5 119.4L246 120.2z" fill="#ff1910" stroke="#ff1910" stroke-width=".4"/><path d="M239.6 113.5L244.3 117.8L251.4 125.7L246.8 121.3z" fill="none" stroke="#000" stroke-width="1" stroke-linejoin="round"/><path d="M261.9 137.7L263.2 139.3L261.4 137.1zM263.2 139.3L258.5 134.4L258.5 134.3L261.4 137.1zM258.5 134.4L258.5 134.3L258.5 134.3z" fill="#fdd01a" stroke="#fdd01a" stroke-width=".4"/><path d="M256.6 131.1L257.3 132.3L254.6 129.3zM257.1 131.7L261.9 137.7L261.4 137.1L257.3 132.3L256.6 131.1zM258.5 134.3L257.3 132.3L261.4 137.1zM258.5 134.3L253.6 128.4L254.6 129.3L257.3 132.3L258.5 134.3z" fill="#ff9716" stroke="#ff9716" stroke-width=".4"/><path d="M251.4 125.7L256.2 130.5L256.6 131.1L254.6 129.3zM256.2 130.5L257.1 131.7L256.6 131.1zM253.6 128.4L251.4 125.7L254.6 129.3z" fill="#ff5713" stroke="#ff5713" stroke-width=".4"/><path d="M251.4 125.7L256.2 130.5L263.2 139.3L258.5 134.4z" fill="none" stroke="#000" stroke-width="1" stroke-linejoin="round"/><path d="M112.9 85.5L117 85.2L118.7 83zM117 85.2L121.7 82.4L122.2 81.6L118.7 83zM122.9 80.9L120.3 81L118.7 83L122.2 81.6zM120.3 81L112.9 85.5L118.7 83z" fill="#ad0000" stroke="#ad0000" stroke-width=".4"/><path d="M121.7 82.4L124.4 80.8L122.2 81.6zM124.4 80.8L122.9 80.9L122.2 81.6z" fill="#9b0000" stroke="#9b0000" stroke-width=".4"/><path d="M112.9 85.5L117 85.2L124.4 80.8L120.3 81z" fill="none" stroke="#000" stroke-width="1" stroke-linejoin="round"/><path d="M196.8 82.5L201.3 84.8L208.7 89L204.2 86.4z" fill="#ad0000" stroke="#000" stroke-width="1" stroke-linejoin="round"/><path d="M139.4 74.7L142.4 75L144.9 74.1L145.2 73.9zM145.9 73.9L145.2 73.9L144.9 74.1zM149 73.3L146.8 73L145.2 73.9L145.9 73.9zM146.8 73L139.4 74.7L145.2 73.9z" fill="#9b0000" stroke="#9b0000" stroke-width=".4"/><path d="M142.4 75L143.6 75.1L144.9 74.1zM143.6 75.1L151 73.5L145.9 73.9L144.9 74.1zM151 73.5L149 73.3L145.9 73.9z" fill="#8b0000" stroke="#8b0000" stroke-width=".4"/><path d="M139.4 74.7L143.6 75.1L151 73.5L146.8 73z" fill="none" stroke="#000" stroke-width="1" stroke-linejoin="round"/><path d="M105.5 90.9L108.7 90.6L109.4 88.8zM110.2 87.5L105.5 90.9L109.4 88.8z" fill="#bf0000" stroke="#bf0000" stroke-width=".4"/><path d="M108.7 90.6L109.5 90.5L111.2 87.9L109.4 88.8zM109.5 90.5L117 85.2L111.2 87.9zM117 85.2L112.9 85.5L111.2 87.9zM112.9 85.5L110.2 87.5L109.4 88.8L111.2 87.9z" fill="#ad0000" stroke="#ad0000" stroke-width=".4"/><path d="M105.5 90.9L109.5 90.5L117 85.2L112.9 85.5z" fill="none" stroke="#000" stroke-width="1" stroke-linejoin="round"/><path d="M177.7 75.4L182.1 77.1L189.5 79.3L185 77.5z" fill="#9b0000" stroke="#000" stroke-width="1" stroke-linejoin="round"/><path d="M167.5 73.5L165.9 73L165.3 73.1zM165.9 73L162.3 72.9L165.3 73.1z" fill="#9b0000" stroke="#9b0000" stroke-width=".4"/><path d="M158.5 72.8L162.8 73.9L164.4 73.3zM162.8 73.9L170.2 74.2L164.4 73.3zM170.2 74.2L167.5 73.5L165.3 73.1L164.4 73.3zM162.3 72.9L158.5 72.8L164.4 73.3L165.3 73.1z" fill="#8b0000" stroke="#8b0000" stroke-width=".4"/><path d="M158.5 72.8L162.8 73.9L170.2 74.2L165.9 73z" fill="none" stroke="#000" stroke-width="1" stroke-linejoin="round"/><path d="M213.9 92.3L214.6 92.8L211.5 90.7zM214.8 93L220.5 97L214.6 92.8L213.9 92.3zM220.5 97L216 93.9L214.6 92.8zM216 93.9L210.3 90.1L211.5 90.7L214.6 92.8z" fill="#bf0000" stroke="#bf0000" stroke-width=".4"/><path d="M208.7 89L213.2 91.9L213.9 92.3L211.5 90.7zM213.2 91.9L214.8 93L213.9 92.3zM210.3 90.1L208.7 89L211.5 90.7z" fill="#ad0000" stroke="#ad0000" stroke-width=".4"/><path d="M208.7 89L213.2 91.9L220.5 97L216 93.9z" fill="none" stroke="#000" stroke-width="1" stroke-linejoin="round"/><path d="M98 97.2L99.2 97L99.3 96.4zM99.5 96L98 97.2L99.3 96.4z" fill="#d30303" stroke="#d30303" stroke-width=".4"/><path d="M99.2 97L102 96.7L103.8 93.6L99.3 96.4zM102 96.7L108.5 91.3L108.5 91L103.8 93.6zM108.7 90.6L105.5 90.9L103.8 93.6L108.5 91zM105.5 90.9L99.5 96L99.3 96.4L103.8 93.6z" fill="#bf0000" stroke="#bf0000" stroke-width=".4"/><path d="M108.5 91.3L109.5 90.5L108.5 91zM109.5 90.5L108.7 90.6L108.5 91z" fill="#ad0000" stroke="#ad0000" stroke-width=".4"/><path d="M98 97.2L102 96.7L109.5 90.5L105.5 90.9z" fill="none" stroke="#000" stroke-width="1" stroke-linejoin="round"/><path d="M131.9 77.3L136.1 77.6L137.7 76zM136.1 77.6L139.9 76.3L141.4 75.4L137.7 76zM142.4 75L139.4 74.7L137.7 76L141.4 75.4zM139.4 74.7L131.9 77.3L137.7 76z" fill="#9b0000" stroke="#9b0000" stroke-width=".4"/><path d="M139.9 76.3L143.6 75.1L141.4 75.4zM143.6 75.1L142.4 75L141.4 75.4z" fill="#8b0000" stroke="#8b0000" stroke-width=".4"/><path d="M131.9 77.3L136.1 77.6L143.6 75.1L139.4 74.7z" fill="none" stroke="#000" stroke-width="1" stroke-linejoin="round"/><path d="M288 172.3L291.5 177.7L286.9 170.9zM291.5 177.7L286.7 171.2L286.1 169.8L286.9 170.9zM286.7 171.2L285.1 168.6L286.1 169.8z" fill="#3cfa1a" stroke="#3cfa1a" stroke-width=".4"/><path d="M283.4 165.4L284.6 167L285.7 168.9L281.7 163.2zM284.6 167L288 172.3L286.9 170.9L285.7 168.9zM286.1 169.8L285.7 168.9L286.9 170.9zM285.1 168.6L281.2 162.6L281.7 163.2L285.7 168.9L286.1 169.8z" fill="#9cfa21" stroke="#9cfa21" stroke-width=".4"/><path d="M279.8 160.5L283.4 165.4L281.7 163.2zM281.2 162.6L279.8 160.5L281.7 163.2z" fill="#d5fb21" stroke="#d5fb21" stroke-width=".4"/><path d="M279.8 160.5L284.6 167L291.5 177.7L286.7 171.2z" fill="none" stroke="#000" stroke-width="1" stroke-linejoin="round"/><path d="M90.6 104.4L90.8 104.3L90.8 104.2zM90.8 104.2L90.6 104.4L90.8 104.2z" fill="#ea0909" stroke="#ea0909" stroke-width=".4"/><path d="M90.8 104.3L94.6 103.8L96.3 100.3L90.8 104.2zM94.6 103.8L98.9 99.7L98.9 98.7L96.3 100.3zM99.2 97L98 97.2L96.3 100.3L98.9 98.7zM98 97.2L90.8 104.2L90.8 104.2L96.3 100.3z" fill="#d30303" stroke="#d30303" stroke-width=".4"/><path d="M98.9 99.7L102 96.7L98.9 98.7zM102 96.7L99.2 97L98.9 98.7z" fill="#bf0000" stroke="#bf0000" stroke-width=".4"/><path d="M90.6 104.4L94.6 103.8L102 96.7L98 97.2z" fill="none" stroke="#000" stroke-width="1" stroke-linejoin="round"/><path d="M225.8 101L226.5 101.6L223.7 99.5zM226.6 101.7L232.4 106.6L226.5 101.6L225.8 101zM232.4 106.6L227.8 103L226.5 101.6zM227.8 103L222.6 98.7L223.7 99.5L226.5 101.6z" fill="#d30303" stroke="#d30303" stroke-width=".4"/><path d="M220.5 97L225.2 100.5L225.8 101L223.7 99.5zM225.2 100.5L226.6 101.7L225.8 101zM222.6 98.7L220.5 97L223.7 99.5z" fill="#bf0000" stroke="#bf0000" stroke-width=".4"/><path d="M220.5 97L225.2 100.5L232.4 106.6L227.8 103z" fill="none" stroke="#000" stroke-width="1" stroke-linejoin="round"/><path d="M53.8 153.6L56.1 153.1L55.7 151.4zM55.6 150.7L53.8 153.6L55.7 151.4z" fill="#d5fb21" stroke="#d5fb21" stroke-width=".4"/><path d="M56.1 153.1L57.5 152.7L59.3 147.2L55.7 151.4zM57.5 152.7L61.3 146.8L60.9 145.5L59.3 147.2zM60.5 143.8L59.3 147.2L60.9 145.5zM60.4 143.1L55.6 150.7L55.7 151.4L59.3 147.2L60.5 143.8z" fill="#f7f41d" stroke="#f7f41d" stroke-width=".4"/><path d="M61.3 146.8L64.9 141.2L60.9 145.5zM64.9 141.2L61.1 142L60.5 143.8L60.9 145.5zM61.1 142L60.4 143.1L60.5 143.8z" fill="#fdd01a" stroke="#fdd01a" stroke-width=".4"/><path d="M53.8 153.6L57.5 152.7L64.9 141.2L61.1 142z" fill="none" stroke="#000" stroke-width="1" stroke-linejoin="round"/><path d="M83.2 112.4L83.5 112.4L83.5 112.2zM83.5 112.2L83.2 112.4L83.5 112.2z" fill="#ff1910" stroke="#ff1910" stroke-width=".4"/><path d="M83.5 112.4L87.1 111.8L88.9 107.9L83.5 112.2zM87.1 111.8L90.8 107.8L90.7 106.6L88.9 107.9zM90.8 104.3L90.6 104.4L88.9 107.9L90.7 106.6zM90.6 104.4L83.5 112.2L83.5 112.2L88.9 107.9z" fill="#ea0909" stroke="#ea0909" stroke-width=".4"/><path d="M90.8 107.8L94.6 103.8L90.7 106.6zM94.6 103.8L90.8 104.3L90.7 106.6z" fill="#d30303" stroke="#d30303" stroke-width=".4"/><path d="M83.2 112.4L87.1 111.8L94.6 103.8L90.6 104.4z" fill="none" stroke="#000" stroke-width="1" stroke-linejoin="round"/><path d="M277 156.6L279.8 160.5L276.2 155.5zM279.8 160.5L275 154.5L274.6 153.7L276.2 155.5zM275 154.5L274 153.1L274.6 153.7z" fill="#d5fb21" stroke="#d5fb21" stroke-width=".4"/><path d="M272.8 150.6L273.9 152.4L270.3 147.8zM272.8 150.6L277 156.6L276.2 155.5L273.9 152.4L272.8 150.6zM274.6 153.7L273.9 152.4L276.2 155.5zM274 153.1L269.7 147.1L270.3 147.8L273.9 152.4L274.6 153.7z" fill="#f7f41d" stroke="#f7f41d" stroke-width=".4"/><path d="M268 144.7L272.8 150.6L272.8 150.6L270.3 147.8zM272.8 150.6L272.8 150.6L272.8 150.6zM269.7 147.1L268 144.7L270.3 147.8z" fill="#fdd01a" stroke="#fdd01a" stroke-width=".4"/><path d="M268 144.7L272.8 150.6L279.8 160.5L275 154.5z" fill="none" stroke="#000" stroke-width="1" stroke-linejoin="round"/><path d="M61.1 142L64.9 141.2L66 138.1L65.8 137zM64.9 141.2L66.3 139.2L66 138.1zM65.6 135.5L61.1 142L65.8 137z" fill="#fdd01a" stroke="#fdd01a" stroke-width=".4"/><path d="M66 138.1L66.7 136.1L65.8 137zM66.3 139.2L71.6 131.5L71.5 131.2L66.7 136.1L66 138.1zM71.4 130.7L68.5 131.3L66.7 136.1L71.5 131.2zM68.5 131.3L65.6 135.5L65.8 137L66.7 136.1z" fill="#ff9716" stroke="#ff9716" stroke-width=".4"/><path d="M71.6 131.5L72.3 130.5L71.5 131.2zM72.3 130.5L71.4 130.7L71.5 131.2z" fill="#ff5713" stroke="#ff5713" stroke-width=".4"/><path d="M61.1 142L64.9 141.2L72.3 130.5L68.5 131.3z" fill="none" stroke="#000" stroke-width="1" stroke-linejoin="round"/><path d="M75.8 121.4L77 121.2L77 120.4zM77 120L75.8 121.4L77 120.4z" fill="#ff5713" stroke="#ff5713" stroke-width=".4"/><path d="M77 121.2L79.7 120.7L81.5 116.4L77 120.4zM79.7 120.7L83.8 115.8L83.6 114.7L81.5 116.4zM83.5 112.4L83.2 112.4L81.5 116.4L83.6 114.7zM83.2 112.4L77 120L77 120.4L81.5 116.4z" fill="#ff1910" stroke="#ff1910" stroke-width=".4"/><path d="M83.8 115.8L87.1 111.8L83.6 114.7zM87.1 111.8L83.5 112.4L83.6 114.7z" fill="#ea0909" stroke="#ea0909" stroke-width=".4"/><path d="M75.8 121.4L79.7 120.7L87.1 111.8L83.2 112.4z" fill="none" stroke="#000" stroke-width="1" stroke-linejoin="round"/><path d="M243 116.6L244.3 117.8L242.5 116.1zM244.3 117.8L239.6 113.5L239.5 113.4L242.5 116.1zM239.6 113.5L239.4 113.3L239.5 113.4z" fill="#ff1910" stroke="#ff1910" stroke-width=".4"/><path d="M236.9 110.6L237.1 110.7L238.4 112L233.8 107.9zM237.1 110.7L243 116.6L242.5 116.1L238.4 112zM239.5 113.4L238.4 112L242.5 116.1zM239.4 113.3L233.3 107.5L233.8 107.9L238.4 112L239.5 113.4z" fill="#ea0909" stroke="#ea0909" stroke-width=".4"/><path d="M232.4 106.6L236.9 110.6L233.8 107.9zM233.3 107.5L232.4 106.6L233.8 107.9z" fill="#d30303" stroke="#d30303" stroke-width=".4"/><path d="M232.4 106.6L237.1 110.7L244.3 117.8L239.6 113.5z" fill="none" stroke="#000" stroke-width="1" stroke-linejoin="round"/><path d="M68.5 131.3L71.4 130.7L71.1 128.7zM71.1 127.8L68.5 131.3L71.1 128.7z" fill="#ff9716" stroke="#ff9716" stroke-width=".4"/><path d="M71.4 130.7L72.3 130.5L74 125.8L71.1 128.7zM72.3 130.5L77.4 123.7L77.3 122.9L74 125.8zM77 121.2L75.8 121.4L74 125.8L77.3 122.9zM75.8 121.4L71.1 127.8L71.1 128.7L74 125.8z" fill="#ff5713" stroke="#ff5713" stroke-width=".4"/><path d="M77.4 123.7L79.7 120.7L77.3 122.9zM79.7 120.7L77 121.2L77.3 122.9z" fill="#ff1910" stroke="#ff1910" stroke-width=".4"/><path d="M68.5 131.3L72.3 130.5L79.7 120.7L75.8 121.4z" fill="none" stroke="#000" stroke-width="1" stroke-linejoin="round"/><path d="M200.9 84.7L201.3 84.8L200.6 84.5zM201.3 84.8L196.8 82.5L196.4 82.3L200.6 84.5zM196.8 82.5L195.5 81.9L196.4 82.3z" fill="#ad0000" stroke="#ad0000" stroke-width=".4"/><path d="M189.5 79.3L194 81.6L195.4 81.9zM194 81.6L200.9 84.7L200.6 84.5L195.4 81.9zM196.4 82.3L195.4 81.9L200.6 84.5zM195.5 81.9L189.5 79.3L195.4 81.9L196.4 82.3z" fill="#9b0000" stroke="#9b0000" stroke-width=".4"/><path d="M189.5 79.3L194 81.6L201.3 84.8L196.8 82.5z" fill="none" stroke="#000" stroke-width="1" stroke-linejoin="round"/><path d="M265.1 141.1L268 144.7L264.1 140zM268 144.7L263.2 139.3L262.7 138.5L264.1 140zM263.2 139.3L261.9 137.7L262.7 138.5z" fill="#fdd01a" stroke="#fdd01a" stroke-width=".4"/><path d="M259.2 133.9L260.9 135.8L262.1 137.4L257.5 132.1zM260.9 135.8L265.1 141.1L264.1 140L262.1 137.4zM262.7 138.5L262.1 137.4L264.1 140zM261.9 137.7L257.1 131.7L257.5 132.1L262.1 137.4L262.7 138.5z" fill="#ff9716" stroke="#ff9716" stroke-width=".4"/><path d="M256.2 130.5L259.2 133.9L257.5 132.1zM257.1 131.7L256.2 130.5L257.5 132.1z" fill="#ff5713" stroke="#ff5713" stroke-width=".4"/><path d="M256.2 130.5L260.9 135.8L268 144.7L263.2 139.3z" fill="none" stroke="#000" stroke-width="1" stroke-linejoin="round"/><path d="M251.9 125.8L256.2 130.5L250.4 124.2zM256.2 130.5L251.4 125.7L250.3 124L250.4 124.2zM251.4 125.7L248.5 122.5L250.3 124z" fill="#ff5713" stroke="#ff5713" stroke-width=".4"/><path d="M244.3 117.8L249 122.5L250.2 124zM249 122.5L251.9 125.8L250.4 124.2L250.2 124zM250.3 124L250.2 124L250.4 124.2zM248.5 122.5L244.3 117.8L250.2 124L250.3 124z" fill="#ff1910" stroke="#ff1910" stroke-width=".4"/><path d="M244.3 117.8L249 122.5L256.2 130.5L251.4 125.7z" fill="none" stroke="#000" stroke-width="1" stroke-linejoin="round"/><path d="M151 73.5L155.3 74.4L162.8 73.9L158.5 72.8z" fill="#8b0000" stroke="#000" stroke-width="1" stroke-linejoin="round"/><path d="M124.4 80.8L128.6 81L136.1 77.6L131.9 77.3z" fill="#9b0000" stroke="#000" stroke-width="1" stroke-linejoin="round"/><path d="M181.9 77.1L182.1 77.1L181.5 77zM182.1 77.1L177.7 75.4L176.7 75.4L181.5 77zM177.7 75.4L173.7 74.8L176.7 75.4z" fill="#9b0000" stroke="#9b0000" stroke-width=".4"/><path d="M170.2 74.2L174.6 75.8L176.2 75.5zM174.6 75.8L181.9 77.1L181.5 77L176.2 75.5zM176.7 75.4L176.2 75.5L181.5 77zM173.7 74.8L170.2 74.2L176.2 75.5L176.7 75.4z" fill="#8b0000" stroke="#8b0000" stroke-width=".4"/><path d="M170.2 74.2L174.6 75.8L182.1 77.1L177.7 75.4z" fill="none" stroke="#000" stroke-width="1" stroke-linejoin="round"/><path d="M201.3 84.8L205.9 87.7L213.2 91.9L208.7 89z" fill="#ad0000" stroke="#000" stroke-width="1" stroke-linejoin="round"/><path d="M117 85.2L119.9 85.2L120.7 83.7zM121.7 82.4L117 85.2L120.7 83.7z" fill="#ad0000" stroke="#ad0000" stroke-width=".4"/><path d="M119.9 85.2L121.1 85.3L122.8 82.9L120.7 83.7zM121.1 85.3L128.6 81L122.8 82.9zM128.6 81L124.4 80.8L122.8 82.9zM124.4 80.8L121.7 82.4L120.7 83.7L122.8 82.9z" fill="#9b0000" stroke="#9b0000" stroke-width=".4"/><path d="M117 85.2L121.1 85.3L128.6 81L124.4 80.8z" fill="none" stroke="#000" stroke-width="1" stroke-linejoin="round"/><path d="M143.6 75.1L147.8 75.9L155.3 74.4L151 73.5z" fill="#8b0000" stroke="#000" stroke-width="1" stroke-linejoin="round"/><path d="M294.6 182.1L296.4 184.8L294.2 181.4zM296.4 184.8L292.4 179L294.2 181.4z" fill="#1ce71f" stroke="#1ce71f" stroke-width=".4"/><path d="M290.1 174.9L290.5 175.7L289.2 173.7zM290.8 176L294.6 182.1L294.2 181.4L290.5 175.7L290.1 174.9zM292.4 179L291.5 177.7L290.5 175.7L294.2 181.4zM291.5 177.7L288 172.3L289.2 173.7L290.5 175.7z" fill="#3cfa1a" stroke="#3cfa1a" stroke-width=".4"/><path d="M284.6 167L289.4 173.9L290.1 174.9L289.2 173.7zM289.4 173.9L290.8 176L290.1 174.9zM288 172.3L284.6 167L289.2 173.7z" fill="#9cfa21" stroke="#9cfa21" stroke-width=".4"/><path d="M284.6 167L289.4 173.9L296.4 184.8L291.5 177.7z" fill="none" stroke="#000" stroke-width="1" stroke-linejoin="round"/><path d="M218.3 95.6L219.2 96L215.8 93.7zM218.9 96.1L225.2 100.5L219.2 96L218.3 95.6zM225.2 100.5L220.5 97L219.2 96zM220.5 97L214.8 93L215.8 93.7L219.2 96z" fill="#bf0000" stroke="#bf0000" stroke-width=".4"/><path d="M213.2 91.9L217.8 95.3L218.3 95.6L215.8 93.7zM217.8 95.3L218.9 96.1L218.3 95.6zM214.8 93L213.2 91.9L215.8 93.7z" fill="#ad0000" stroke="#ad0000" stroke-width=".4"/><path d="M213.2 91.9L217.8 95.3L225.2 100.5L220.5 97z" fill="none" stroke="#000" stroke-width="1" stroke-linejoin="round"/><path d="M182.1 77.1L182.5 77.3L187.1 79.2L188 79.2zM188 79.7L194 81.6L188 79.2L187.1 79.2zM194 81.6L189.5 79.3L188 79.2zM189.5 79.3L182.1 77.1L188 79.2z" fill="#9b0000" stroke="#9b0000" stroke-width=".4"/><path d="M182.5 77.3L186.5 79.3L187.1 79.2zM186.5 79.3L188 79.7L187.1 79.2z" fill="#8b0000" stroke="#8b0000" stroke-width=".4"/><path d="M182.1 77.1L186.5 79.3L194 81.6L189.5 79.3z" fill="none" stroke="#000" stroke-width="1" stroke-linejoin="round"/><path d="M109.5 90.5L113.6 90.5L115.3 87.7zM113.6 90.5L119.6 86.3L119.7 85.9L115.3 87.7zM119.9 85.2L117 85.2L115.3 87.7L119.7 85.9zM117 85.2L109.5 90.5L115.3 87.7z" fill="#ad0000" stroke="#ad0000" stroke-width=".4"/><path d="M119.6 86.3L121.1 85.3L119.7 85.9zM121.1 85.3L119.9 85.2L119.7 85.9z" fill="#9b0000" stroke="#9b0000" stroke-width=".4"/><path d="M109.5 90.5L113.6 90.5L121.1 85.3L117 85.2z" fill="none" stroke="#000" stroke-width="1" stroke-linejoin="round"/><path d="M162.8 73.9L167.2 75.3L174.6 75.8L170.2 74.2z" fill="#8b0000" stroke="#000" stroke-width="1" stroke-linejoin="round"/><path d="M284.1 166.3L284.6 167L284 166.1zM284.6 167L283.4 165.4L284 166.1z" fill="#9cfa21" stroke="#9cfa21" stroke-width=".4"/><path d="M278.6 158.5L278.7 158.6L278.5 158.4zM279.9 160.3L284.1 166.3L284 166.1L278.7 158.6L278.6 158.5zM283.4 165.4L279.8 160.5L278.7 158.6L284 166.1zM279.8 160.5L277 156.6L278.5 158.4L278.7 158.6z" fill="#d5fb21" stroke="#d5fb21" stroke-width=".4"/><path d="M272.8 150.6L277.6 157L278.6 158.5L278.5 158.4L272.8 150.6zM277.6 157L279.9 160.3L278.6 158.5zM277 156.6L272.8 150.6L272.8 150.6L278.5 158.4z" fill="#f7f41d" stroke="#f7f41d" stroke-width=".4"/><path d="M272.8 150.6L272.8 150.6L272.8 150.6zM272.8 150.6L272.8 150.6L272.8 150.6z" fill="#fdd01a" stroke="#fdd01a" stroke-width=".4"/><path d="M272.8 150.6L277.6 157L284.6 167L279.8 160.5z" fill="none" stroke="#000" stroke-width="1" stroke-linejoin="round"/><path d="M237 110.7L237.1 110.7L237 110.7zM237.1 110.7L236.9 110.6L237 110.7z" fill="#ea0909" stroke="#ea0909" stroke-width=".4"/><path d="M230 104.7L231.1 105.4L227.3 102.3zM230.3 104.9L237 110.7L237 110.7L231.1 105.4L230 104.7zM236.9 110.6L232.4 106.6L231.1 105.4L237 110.7zM232.4 106.6L226.6 101.7L227.3 102.3L231.1 105.4z" fill="#d30303" stroke="#d30303" stroke-width=".4"/><path d="M225.2 100.5L229.8 104.5L230 104.7L227.3 102.3zM229.8 104.5L230.3 104.9L230 104.7zM226.6 101.7L225.2 100.5L227.3 102.3z" fill="#bf0000" stroke="#bf0000" stroke-width=".4"/><path d="M225.2 100.5L229.8 104.5L237.1 110.7L232.4 106.6z" fill="none" stroke="#000" stroke-width="1" stroke-linejoin="round"/><path d="M102 96.7L106.1 96.6L107.8 93.4zM106.1 96.6L108.1 95L108.1 93.3L107.8 93.4zM108.1 92.8L107.8 93.4L108.1 93.3zM108.5 91.3L102 96.7L107.8 93.4L108.1 92.8z" fill="#bf0000" stroke="#bf0000" stroke-width=".4"/><path d="M108.1 95L113.6 90.5L108.1 93.3zM113.6 90.5L109.5 90.5L108.1 92.8L108.1 93.3zM109.5 90.5L108.5 91.3L108.1 92.8z" fill="#ad0000" stroke="#ad0000" stroke-width=".4"/><path d="M102 96.7L106.1 96.6L113.6 90.5L109.5 90.5z" fill="none" stroke="#000" stroke-width="1" stroke-linejoin="round"/><path d="M136.1 77.6L137.4 77.8L138.2 77.2zM139.9 76.3L136.1 77.6L138.2 77.2z" fill="#9b0000" stroke="#9b0000" stroke-width=".4"/><path d="M137.4 77.8L140.3 78.3L141.9 76.6L138.2 77.2zM140.3 78.3L147.8 75.9L141.9 76.6zM147.8 75.9L143.6 75.1L141.9 76.6zM143.6 75.1L139.9 76.3L138.2 77.2L141.9 76.6z" fill="#8b0000" stroke="#8b0000" stroke-width=".4"/><path d="M136.1 77.6L140.3 78.3L147.8 75.9L143.6 75.1z" fill="none" stroke="#000" stroke-width="1" stroke-linejoin="round"/><path d="M266.8 142.9L266.8 143L266.7 142.8zM268.1 144.6L272.8 150.6L266.8 143L266.8 142.9zM272.8 150.6L268 144.7L266.8 143zM268 144.7L265.1 141.1L266.7 142.8L266.8 143z" fill="#fdd01a" stroke="#fdd01a" stroke-width=".4"/><path d="M260.9 135.8L265.7 141.5L266.8 142.9L266.7 142.8zM265.7 141.5L268.1 144.6L266.8 142.9zM265.1 141.1L260.9 135.8L266.7 142.8z" fill="#ff9716" stroke="#ff9716" stroke-width=".4"/><path d="M260.9 135.8L265.7 141.5L272.8 150.6L268 144.7z" fill="none" stroke="#000" stroke-width="1" stroke-linejoin="round"/><path d="M246.4 119.9L249 122.5L245.5 118.9zM249 122.5L244.3 117.8L243.8 117.2L245.5 118.9zM244.3 117.8L243 116.6L243.8 117.2z" fill="#ff1910" stroke="#ff1910" stroke-width=".4"/><path d="M237.1 110.7L241.8 115.3L243 116.4zM241.8 115.3L246.4 119.9L245.5 118.9L243 116.4zM243.8 117.2L243 116.4L245.5 118.9zM243 116.6L237.1 110.7L243 116.4L243.8 117.2z" fill="#ea0909" stroke="#ea0909" stroke-width=".4"/><path d="M237.1 110.7L241.8 115.3L249 122.5L244.3 117.8z" fill="none" stroke="#000" stroke-width="1" stroke-linejoin="round"/><path d="M260.3 135.1L260.9 135.8L260.1 134.9zM260.9 135.8L259.2 133.9L260.1 134.9z" fill="#ff9716" stroke="#ff9716" stroke-width=".4"/><path d="M254.4 128.3L255 128.9L253.1 126.9zM255.1 129.2L260.3 135.1L260.1 134.9L255 128.9L254.4 128.3zM259.2 133.9L256.2 130.5L255 128.9L260.1 134.9zM256.2 130.5L251.9 125.8L253.1 126.9L255 128.9z" fill="#ff5713" stroke="#ff5713" stroke-width=".4"/><path d="M249 122.5L253.7 127.7L254.4 128.3L253.1 126.9zM253.7 127.7L255.1 129.2L254.4 128.3zM251.9 125.8L249 122.5L253.1 126.9z" fill="#ff1910" stroke="#ff1910" stroke-width=".4"/><path d="M249 122.5L253.7 127.7L260.9 135.8L256.2 130.5z" fill="none" stroke="#000" stroke-width="1" stroke-linejoin="round"/><path d="M94.6 103.8L98.6 103.6L98.9 103L98.8 101zM98.6 103.6L98.9 103.3L98.9 103zM98.9 99.7L94.6 103.8L98.8 101z" fill="#d30303" stroke="#d30303" stroke-width=".4"/><path d="M98.9 103L100.3 100L98.8 101zM98.9 103.3L106.1 96.6L100.3 100L98.9 103zM106.1 96.6L102 96.7L100.3 100zM102 96.7L98.9 99.7L98.8 101L100.3 100z" fill="#bf0000" stroke="#bf0000" stroke-width=".4"/><path d="M94.6 103.8L98.6 103.6L106.1 96.6L102 96.7z" fill="none" stroke="#000" stroke-width="1" stroke-linejoin="round"/><path d="M205.6 87.6L205.9 87.7L205.5 87.5zM205.9 87.7L201.3 84.8L201.2 84.8L205.5 87.5zM201.3 84.8L200.9 84.7L201.2 84.8z" fill="#ad0000" stroke="#ad0000" stroke-width=".4"/><path d="M194 81.6L198.5 84.3L199.9 84.4zM198.5 84.3L205.6 87.6L205.5 87.5L199.9 84.4zM201.2 84.8L199.9 84.4L205.5 87.5zM200.9 84.7L194 81.6L199.9 84.4L201.2 84.8z" fill="#9b0000" stroke="#9b0000" stroke-width=".4"/><path d="M194 81.6L198.5 84.3L205.9 87.7L201.3 84.8z" fill="none" stroke="#000" stroke-width="1" stroke-linejoin="round"/><path d="M57.5 152.7L61.3 152.2L62.1 149.7L61.6 148.2zM61.3 152.2L62.4 150.5L62.1 149.7zM61.3 146.8L57.5 152.7L61.6 148.2z" fill="#f7f41d" stroke="#f7f41d" stroke-width=".4"/><path d="M62.1 149.7L63.1 146.6L61.6 148.2zM62.4 150.5L67.4 142.8L67.2 142.3L63.1 146.6L62.1 149.7zM66.7 141L64.9 141.2L63.1 146.6L67.2 142.3zM64.9 141.2L61.3 146.8L61.6 148.2L63.1 146.6z" fill="#fdd01a" stroke="#fdd01a" stroke-width=".4"/><path d="M67.4 142.8L68.7 140.7L67.2 142.3zM68.7 140.7L66.7 141L67.2 142.3z" fill="#ff9716" stroke="#ff9716" stroke-width=".4"/><path d="M57.5 152.7L61.3 152.2L68.7 140.7L64.9 141.2z" fill="none" stroke="#000" stroke-width="1" stroke-linejoin="round"/><path d="M87.1 111.8L91.1 111.6L91.2 111.3L90.8 109zM91.1 111.6L91.2 111.4L91.2 111.3zM90.8 107.8L87.1 111.8L90.8 109z" fill="#ea0909" stroke="#ea0909" stroke-width=".4"/><path d="M91.2 111.3L92.8 107.5L90.8 109zM91.2 111.4L98.6 103.6L92.8 107.5L91.2 111.3zM98.6 103.6L94.6 103.8L92.8 107.5zM94.6 103.8L90.8 107.8L90.8 109L92.8 107.5z" fill="#d30303" stroke="#d30303" stroke-width=".4"/><path d="M87.1 111.8L91.1 111.6L98.6 103.6L94.6 103.8z" fill="none" stroke="#000" stroke-width="1" stroke-linejoin="round"/><path d="M155.3 74.4L159.7 75.8L167.2 75.3L162.8 73.9z" fill="#8b0000" stroke="#000" stroke-width="1" stroke-linejoin="round"/><path d="M64.9 141.2L66.7 141L66.4 139.7zM66.3 139.2L64.9 141.2L66.4 139.7z" fill="#fdd01a" stroke="#fdd01a" stroke-width=".4"/><path d="M66.7 141L68.7 140.7L70.5 135.5L66.4 139.7zM68.7 140.7L72.7 135.1L72.2 133.8L70.5 135.5zM71.7 132L70.5 135.5L72.2 133.8zM71.6 131.5L66.3 139.2L66.4 139.7L70.5 135.5L71.7 132z" fill="#ff9716" stroke="#ff9716" stroke-width=".4"/><path d="M72.7 135.1L76.1 130.1L72.2 133.8zM76.1 130.1L72.3 130.5L71.7 132L72.2 133.8zM72.3 130.5L71.6 131.5L71.7 132z" fill="#ff5713" stroke="#ff5713" stroke-width=".4"/><path d="M64.9 141.2L68.7 140.7L76.1 130.1L72.3 130.5z" fill="none" stroke="#000" stroke-width="1" stroke-linejoin="round"/><path d="M79.7 120.7L83.6 120.4L84.2 118.8L83.9 117.2zM83.6 120.4L84.4 119.4L84.2 118.8zM83.8 115.8L79.7 120.7L83.9 117.2z" fill="#ff1910" stroke="#ff1910" stroke-width=".4"/><path d="M84.2 118.8L85.4 115.9L83.9 117.2zM84.4 119.4L91.1 111.6L85.4 115.9L84.2 118.8zM91.1 111.6L87.1 111.8L85.4 115.9zM87.1 111.8L83.8 115.8L83.9 117.2L85.4 115.9z" fill="#ea0909" stroke="#ea0909" stroke-width=".4"/><path d="M79.7 120.7L83.6 120.4L91.1 111.6L87.1 111.8z" fill="none" stroke="#000" stroke-width="1" stroke-linejoin="round"/><path d="M72.3 130.5L76.1 130.1L77.8 125.6L77.7 125.4zM76.1 130.1L78.3 127.3L77.8 125.6zM77.4 123.7L72.3 130.5L77.7 125.4z" fill="#ff5713" stroke="#ff5713" stroke-width=".4"/><path d="M77.8 125.6L77.9 125.3L77.7 125.4zM78.3 127.3L83.6 120.4L77.9 125.3L77.8 125.6zM83.6 120.4L79.7 120.7L77.9 125.3zM79.7 120.7L77.4 123.7L77.7 125.4L77.9 125.3z" fill="#ff1910" stroke="#ff1910" stroke-width=".4"/><path d="M72.3 130.5L76.1 130.1L83.6 120.4L79.7 120.7z" fill="none" stroke="#000" stroke-width="1" stroke-linejoin="round"/><path d="M182.5 77.3L182.1 77.1L182 77.1zM182.1 77.1L181.9 77.1L182 77.1z" fill="#9b0000" stroke="#9b0000" stroke-width=".4"/><path d="M174.6 75.8L179.1 77.8L180.6 77.3zM179.1 77.8L186.5 79.3L180.6 77.3zM186.5 79.3L182.5 77.3L182 77.1L180.6 77.3zM181.9 77.1L174.6 75.8L180.6 77.3L182 77.1z" fill="#8b0000" stroke="#8b0000" stroke-width=".4"/><path d="M174.6 75.8L179.1 77.8L186.5 79.3L182.1 77.1z" fill="none" stroke="#000" stroke-width="1" stroke-linejoin="round"/><path d="M128.6 81L132.8 81.6L134.4 79.4zM132.8 81.6L135 80.6L136 79.1L134.4 79.4zM137.4 77.8L136.1 77.6L134.4 79.4L136 79.1zM136.1 77.6L128.6 81L134.4 79.4z" fill="#9b0000" stroke="#9b0000" stroke-width=".4"/><path d="M135 80.6L140.3 78.3L136 79.1zM140.3 78.3L137.4 77.8L136 79.1z" fill="#8b0000" stroke="#8b0000" stroke-width=".4"/><path d="M128.6 81L132.8 81.6L140.3 78.3L136.1 77.6z" fill="none" stroke="#000" stroke-width="1" stroke-linejoin="round"/><path d="M205.9 87.7L210.5 91L217.8 95.3L213.2 91.9z" fill="#ad0000" stroke="#000" stroke-width="1" stroke-linejoin="round"/><path d="M301 191.9L301.2 192.3L301 191.8zM301.2 192.3L300.8 191.5L301 191.8z" fill="#0fd026" stroke="#0fd026" stroke-width=".4"/><path d="M297.2 185.9L301 191.9L301 191.8L296.2 184.2zM300.8 191.5L296.4 184.8L295.6 183.4L296.2 184.2L301 191.8zM296.4 184.8L294.6 182.1L295.6 183.4z" fill="#1ce71f" stroke="#1ce71f" stroke-width=".4"/><path d="M292.4 178.3L294.3 181.3L295.4 182.9L291.2 176.6zM294.3 181.3L297.2 185.9L296.2 184.2L295.4 182.9zM295.6 183.4L295.4 182.9L296.2 184.2zM294.6 182.1L290.8 176L291.2 176.6L295.4 182.9L295.6 183.4z" fill="#3cfa1a" stroke="#3cfa1a" stroke-width=".4"/><path d="M289.4 173.9L292.4 178.3L291.2 176.6zM290.8 176L289.4 173.9L291.2 176.6z" fill="#9cfa21" stroke="#9cfa21" stroke-width=".4"/><path d="M289.4 173.9L294.3 181.3L301.2 192.3L296.4 184.8z" fill="none" stroke="#000" stroke-width="1" stroke-linejoin="round"/><path d="M121.1 85.3L125.2 85.8L132.8 81.6L128.6 81z" fill="#9b0000" stroke="#000" stroke-width="1" stroke-linejoin="round"/><path d="M222.5 99.2L223.8 99.7L219.5 96.5zM222.6 99.3L229.8 104.5L223.8 99.7L222.5 99.2zM229.8 104.5L225.2 100.5L223.8 99.7zM225.2 100.5L218.9 96.1L219.5 96.5L223.8 99.7z" fill="#bf0000" stroke="#bf0000" stroke-width=".4"/><path d="M217.8 95.3L222.5 99.2L222.5 99.2L219.5 96.5zM222.5 99.2L222.6 99.3L222.5 99.2zM218.9 96.1L217.8 95.3L219.5 96.5z" fill="#ad0000" stroke="#ad0000" stroke-width=".4"/><path d="M217.8 95.3L222.5 99.2L229.8 104.5L225.2 100.5z" fill="none" stroke="#000" stroke-width="1" stroke-linejoin="round"/><path d="M147.8 75.9L152.1 77.2L159.7 75.8L155.3 74.4z" fill="#8b0000" stroke="#000" stroke-width="1" stroke-linejoin="round"/><path d="M286.8 170L289.4 173.9L286.1 168.9zM289.4 173.9L284.6 167L284.4 166.6L286.1 168.9zM284.6 167L284.1 166.3L284.4 166.6z" fill="#9cfa21" stroke="#9cfa21" stroke-width=".4"/><path d="M282.5 163.9L283.5 165.2L280.6 161.2zM282.6 164L286.8 170L286.1 168.9L283.5 165.2L282.5 163.9zM284.4 166.6L283.5 165.2L286.1 168.9zM284.1 166.3L279.9 160.3L280.6 161.2L283.5 165.2L284.4 166.6z" fill="#d5fb21" stroke="#d5fb21" stroke-width=".4"/><path d="M277.6 157L282.4 163.8L282.5 163.9L280.6 161.2zM282.4 163.8L282.6 164L282.5 163.9zM279.9 160.3L277.6 157L280.6 161.2z" fill="#f7f41d" stroke="#f7f41d" stroke-width=".4"/><path d="M277.6 157L282.4 163.8L289.4 173.9L284.6 167z" fill="none" stroke="#000" stroke-width="1" stroke-linejoin="round"/><path d="M191.9 81.7L192.5 81.6L189.4 80.4zM193.2 82.6L198.5 84.3L192.5 81.6L191.9 81.7zM198.5 84.3L194 81.6L192.5 81.6zM194 81.6L188 79.7L189.4 80.4L192.5 81.6z" fill="#9b0000" stroke="#9b0000" stroke-width=".4"/><path d="M186.5 79.3L191 81.9L191.9 81.7L189.4 80.4zM191 81.9L193.2 82.6L191.9 81.7zM188 79.7L186.5 79.3L189.4 80.4z" fill="#8b0000" stroke="#8b0000" stroke-width=".4"/><path d="M186.5 79.3L191 81.9L198.5 84.3L194 81.6z" fill="none" stroke="#000" stroke-width="1" stroke-linejoin="round"/><path d="M167.2 75.3L171.6 77.2L179.1 77.8L174.6 75.8z" fill="#8b0000" stroke="#000" stroke-width="1" stroke-linejoin="round"/><path d="M240.3 114L241.8 115.3L239.8 113.5zM241.8 115.3L237.1 110.7L237.1 110.7L239.8 113.5zM237.1 110.7L237 110.7L237.1 110.7z" fill="#ea0909" stroke="#ea0909" stroke-width=".4"/><path d="M231.4 106.1L234.5 109L235.8 109.7L230.5 105.1zM234.5 109L240.3 114L239.8 113.5L235.8 109.7zM237.1 110.7L235.8 109.7L239.8 113.5zM237 110.7L230.3 104.9L230.5 105.1L235.8 109.7L237.1 110.7z" fill="#d30303" stroke="#d30303" stroke-width=".4"/><path d="M229.8 104.5L231.4 106.1L230.5 105.1zM230.3 104.9L229.8 104.5L230.5 105.1z" fill="#bf0000" stroke="#bf0000" stroke-width=".4"/><path d="M229.8 104.5L234.5 109L241.8 115.3L237.1 110.7z" fill="none" stroke="#000" stroke-width="1" stroke-linejoin="round"/><path d="M113.6 90.5L117.7 90.9L119.1 88.5L119.1 88.1zM117.7 90.9L119.1 90L119.1 88.5zM119.6 86.3L113.6 90.5L119.1 88.1z" fill="#ad0000" stroke="#ad0000" stroke-width=".4"/><path d="M119.1 88.5L119.4 87.9L119.1 88.1zM119.1 90L125.2 85.8L119.4 87.9L119.1 88.5zM125.2 85.8L121.1 85.3L119.4 87.9zM121.1 85.3L119.6 86.3L119.1 88.1L119.4 87.9z" fill="#9b0000" stroke="#9b0000" stroke-width=".4"/><path d="M113.6 90.5L117.7 90.9L125.2 85.8L121.1 85.3z" fill="none" stroke="#000" stroke-width="1" stroke-linejoin="round"/><path d="M275.5 154.3L277.6 157L274.9 153.4zM277.6 157L272.8 150.6L274.9 153.4z" fill="#f7f41d" stroke="#f7f41d" stroke-width=".4"/><path d="M270.7 148L271.6 149.1L268.9 145.6zM270.9 148.2L275.5 154.3L274.9 153.4L271.6 149.1L270.7 148zM272.8 150.6L272.8 150.6L271.6 149.1L274.9 153.4zM272.8 150.6L268.1 144.6L268.9 145.6L271.6 149.1z" fill="#fdd01a" stroke="#fdd01a" stroke-width=".4"/><path d="M265.7 141.5L270.5 147.8L270.7 148L268.9 145.6zM270.5 147.8L270.9 148.2L270.7 148zM268.1 144.6L265.7 141.5L268.9 145.6z" fill="#ff9716" stroke="#ff9716" stroke-width=".4"/><path d="M265.7 141.5L270.5 147.8L277.6 157L272.8 150.6z" fill="none" stroke="#000" stroke-width="1" stroke-linejoin="round"/><path d="M249.4 123.3L253.7 127.7L248.1 121.7zM253.7 127.7L249 122.5L247.9 121.4L248.1 121.7zM249 122.5L246.4 119.9L247.9 121.4z" fill="#ff1910" stroke="#ff1910" stroke-width=".4"/><path d="M241.8 115.3L246.5 120.4L247.8 121.3zM246.5 120.4L249.4 123.3L248.1 121.7L247.8 121.3zM247.9 121.4L247.8 121.3L248.1 121.7zM246.4 119.9L241.8 115.3L247.8 121.3L247.9 121.4z" fill="#ea0909" stroke="#ea0909" stroke-width=".4"/><path d="M241.8 115.3L246.5 120.4L253.7 127.7L249 122.5z" fill="none" stroke="#000" stroke-width="1" stroke-linejoin="round"/><path d="M263.2 138.7L265.7 141.5L262.5 137.7zM265.7 141.5L260.9 135.8L260.7 135.5L262.5 137.7zM260.9 135.8L260.3 135.1L260.7 135.5z" fill="#ff9716" stroke="#ff9716" stroke-width=".4"/><path d="M257.2 131.7L258.5 133.3L259.7 134.4L255.6 129.7zM258.5 133.3L263.2 138.7L262.5 137.7L259.7 134.4zM260.7 135.5L259.7 134.4L262.5 137.7zM260.3 135.1L255.1 129.2L255.6 129.7L259.7 134.4L260.7 135.5z" fill="#ff5713" stroke="#ff5713" stroke-width=".4"/><path d="M253.7 127.7L257.2 131.7L255.6 129.7zM255.1 129.2L253.7 127.7L255.6 129.7z" fill="#ff1910" stroke="#ff1910" stroke-width=".4"/><path d="M253.7 127.7L258.5 133.3L265.7 141.5L260.9 135.8z" fill="none" stroke="#000" stroke-width="1" stroke-linejoin="round"/><path d="M106.1 96.6L108.1 96.8L108 95.6zM108.1 95L106.1 96.6L108 95.6z" fill="#bf0000" stroke="#bf0000" stroke-width=".4"/><path d="M108.1 96.8L110.1 96.9L111.9 93.6L108 95.6zM110.1 96.9L117.7 90.9L111.9 93.6zM117.7 90.9L113.6 90.5L111.9 93.6zM113.6 90.5L108.1 95L108 95.6L111.9 93.6z" fill="#ad0000" stroke="#ad0000" stroke-width=".4"/><path d="M106.1 96.6L110.1 96.9L117.7 90.9L113.6 90.5z" fill="none" stroke="#000" stroke-width="1" stroke-linejoin="round"/><path d="M140.3 78.3L144.6 79.4L152.1 77.2L147.8 75.9z" fill="#8b0000" stroke="#000" stroke-width="1" stroke-linejoin="round"/><path d="M209.7 90.6L210.5 91L209.4 90.3zM210.5 91L205.9 87.7L205.8 87.7L209.4 90.3zM205.9 87.7L205.6 87.6L205.8 87.7z" fill="#ad0000" stroke="#ad0000" stroke-width=".4"/><path d="M198.5 84.3L203 87.5L204.5 87.4zM203 87.5L209.7 90.6L209.4 90.3L204.5 87.4zM205.8 87.7L204.5 87.4L209.4 90.3zM205.6 87.6L198.5 84.3L204.5 87.4L205.8 87.7z" fill="#9b0000" stroke="#9b0000" stroke-width=".4"/><path d="M198.5 84.3L203 87.5L210.5 91L205.9 87.7z" fill="none" stroke="#000" stroke-width="1" stroke-linejoin="round"/><path d="M98.6 103.6L98.9 103.7L98.9 103.4zM98.9 103.3L98.6 103.6L98.9 103.4z" fill="#d30303" stroke="#d30303" stroke-width=".4"/><path d="M98.9 103.7L102.6 103.9L104.3 100.1L98.9 103.4zM102.6 103.9L108.4 98.6L108.2 98L104.3 100.1zM108.1 96.8L106.1 96.6L104.3 100.1L108.2 98zM106.1 96.6L98.9 103.3L98.9 103.4L104.3 100.1z" fill="#bf0000" stroke="#bf0000" stroke-width=".4"/><path d="M108.4 98.6L110.1 96.9L108.2 98zM110.1 96.9L108.1 96.8L108.2 98z" fill="#ad0000" stroke="#ad0000" stroke-width=".4"/><path d="M98.6 103.6L102.6 103.9L110.1 96.9L106.1 96.6z" fill="none" stroke="#000" stroke-width="1" stroke-linejoin="round"/><path d="M303.4 195.9L306.1 200.3L302.8 194.7zM306.1 200.3L301.2 192.3L301.1 192.1L302.8 194.7zM301.2 192.3L301 191.9L301.1 192.1z" fill="#0fd026" stroke="#0fd026" stroke-width=".4"/><path d="M299.4 189.4L300.2 190.6L298 187.1zM299.6 189.8L303.4 195.9L302.8 194.7L300.2 190.6L299.4 189.4zM301.1 192.1L300.2 190.6L302.8 194.7zM301 191.9L297.2 185.9L298 187.1L300.2 190.6L301.1 192.1z" fill="#1ce71f" stroke="#1ce71f" stroke-width=".4"/><path d="M294.3 181.3L299.2 189.2L299.4 189.4L298 187.1zM299.2 189.2L299.6 189.8L299.4 189.4zM297.2 185.9L294.3 181.3L298 187.1z" fill="#3cfa1a" stroke="#3cfa1a" stroke-width=".4"/><path d="M294.3 181.3L299.2 189.2L306.1 200.3L301.2 192.3z" fill="none" stroke="#000" stroke-width="1" stroke-linejoin="round"/><path d="M159.7 75.8L164 77.6L171.6 77.2L167.2 75.3z" fill="#8b0000" stroke="#000" stroke-width="1" stroke-linejoin="round"/><path d="M179.1 77.8L183.5 80.3L191 81.9L186.5 79.3z" fill="#8b0000" stroke="#000" stroke-width="1" stroke-linejoin="round"/><path d="M91.1 111.6L91.2 111.6L91.2 111.5zM91.2 111.4L91.1 111.6L91.2 111.5z" fill="#ea0909" stroke="#ea0909" stroke-width=".4"/><path d="M91.2 111.6L95.1 111.7L96.8 107.5L91.2 111.5zM95.1 111.7L99.7 106.9L99.4 105.9L96.8 107.5zM98.9 103.7L98.6 103.6L96.8 107.5L99.4 105.9zM98.6 103.6L91.2 111.4L91.2 111.5L96.8 107.5z" fill="#d30303" stroke="#d30303" stroke-width=".4"/><path d="M99.7 106.9L102.6 103.9L99.4 105.9zM102.6 103.9L98.9 103.7L99.4 105.9z" fill="#bf0000" stroke="#bf0000" stroke-width=".4"/><path d="M91.1 111.6L95.1 111.7L102.6 103.9L98.6 103.6z" fill="none" stroke="#000" stroke-width="1" stroke-linejoin="round"/><path d="M61.3 152.2L63.1 152.2L62.5 150.9zM62.4 150.5L61.3 152.2L62.5 150.9z" fill="#f7f41d" stroke="#f7f41d" stroke-width=".4"/><path d="M63.1 152.2L65.1 152.2L66.9 146.3L62.5 150.9zM65.1 152.2L68.8 146.5L68.2 145.1L66.9 146.3zM67.7 143.9L66.9 146.3L68.2 145.1zM67.4 142.8L62.4 150.5L62.5 150.9L66.9 146.3L67.7 143.9z" fill="#fdd01a" stroke="#fdd01a" stroke-width=".4"/><path d="M68.8 146.5L72.6 140.7L68.2 145.1zM72.6 140.7L68.7 140.7L67.7 143.9L68.2 145.1zM68.7 140.7L67.4 142.8L67.7 143.9z" fill="#ff9716" stroke="#ff9716" stroke-width=".4"/><path d="M61.3 152.2L65.1 152.2L72.6 140.7L68.7 140.7z" fill="none" stroke="#000" stroke-width="1" stroke-linejoin="round"/><path d="M210.5 91L215.1 94.7L222.5 99.2L217.8 95.3z" fill="#ad0000" stroke="#000" stroke-width="1" stroke-linejoin="round"/><path d="M83.6 120.4L84.7 120.4L84.5 119.7zM84.4 119.4L83.6 120.4L84.5 119.7z" fill="#ff1910" stroke="#ff1910" stroke-width=".4"/><path d="M84.7 120.4L87.6 120.5L89.3 115.9L84.5 119.7zM87.6 120.5L92.3 115L91.9 114L89.3 115.9zM91.2 111.6L91.1 111.6L89.3 115.9L91.9 114zM91.1 111.6L84.4 119.4L84.5 119.7L89.3 115.9z" fill="#ea0909" stroke="#ea0909" stroke-width=".4"/><path d="M92.3 115L95.1 111.7L91.9 114zM95.1 111.7L91.2 111.6L91.9 114z" fill="#d30303" stroke="#d30303" stroke-width=".4"/><path d="M83.6 120.4L87.6 120.5L95.1 111.7L91.1 111.6z" fill="none" stroke="#000" stroke-width="1" stroke-linejoin="round"/><path d="M132.8 81.6L134.2 81.9L134.5 81.2zM135 80.6L132.8 81.6L134.5 81.2z" fill="#9b0000" stroke="#9b0000" stroke-width=".4"/><path d="M134.2 81.9L137 82.6L138.7 80.3L134.5 81.2zM137 82.6L144.6 79.4L138.7 80.3zM144.6 79.4L140.3 78.3L138.7 80.3zM140.3 78.3L135 80.6L134.5 81.2L138.7 80.3z" fill="#8b0000" stroke="#8b0000" stroke-width=".4"/><path d="M132.8 81.6L137 82.6L144.6 79.4L140.3 78.3z" fill="none" stroke="#000" stroke-width="1" stroke-linejoin="round"/><path d="M68.7 140.7L72.6 140.7L73.6 137.7L73.1 136.5zM72.6 140.7L74 138.7L73.6 137.7zM72.7 135.1L68.7 140.7L73.1 136.5z" fill="#ff9716" stroke="#ff9716" stroke-width=".4"/><path d="M73.6 137.7L74.4 135.3L73.1 136.5zM74 138.7L79.5 130.9L79.5 130.7L74.4 135.3L73.6 137.7zM79.2 130.2L76.1 130.1L74.4 135.3L79.5 130.7zM76.1 130.1L72.7 135.1L73.1 136.5L74.4 135.3z" fill="#ff5713" stroke="#ff5713" stroke-width=".4"/><path d="M79.5 130.9L80.1 130.2L79.5 130.7zM80.1 130.2L79.2 130.2L79.5 130.7z" fill="#ff1910" stroke="#ff1910" stroke-width=".4"/><path d="M68.7 140.7L72.6 140.7L80.1 130.2L76.1 130.1z" fill="none" stroke="#000" stroke-width="1" stroke-linejoin="round"/><path d="M76.1 130.1L79.2 130.2L78.5 128.1zM78.3 127.3L76.1 130.1L78.5 128.1z" fill="#ff5713" stroke="#ff5713" stroke-width=".4"/><path d="M79.2 130.2L80.1 130.2L81.8 125.1L78.5 128.1zM80.1 130.2L85.6 123L85.3 122.3L81.8 125.1zM84.7 120.4L83.6 120.4L81.8 125.1L85.3 122.3zM83.6 120.4L78.3 127.3L78.5 128.1L81.8 125.1z" fill="#ff1910" stroke="#ff1910" stroke-width=".4"/><path d="M85.6 123L87.6 120.5L85.3 122.3zM87.6 120.5L84.7 120.4L85.3 122.3z" fill="#ea0909" stroke="#ea0909" stroke-width=".4"/><path d="M76.1 130.1L80.1 130.2L87.6 120.5L83.6 120.4z" fill="none" stroke="#000" stroke-width="1" stroke-linejoin="round"/><path d="M293.3 179.9L294.3 181.3L293.1 179.5zM294.3 181.3L292.4 178.3L293.1 179.5z" fill="#3cfa1a" stroke="#3cfa1a" stroke-width=".4"/><path d="M288.2 172.2L288.4 172.3L288 171.8zM289.2 173.8L293.3 179.9L293.1 179.5L288.4 172.3L288.2 172.2zM292.4 178.3L289.4 173.9L288.4 172.3L293.1 179.5zM289.4 173.9L286.8 170L288 171.8L288.4 172.3z" fill="#9cfa21" stroke="#9cfa21" stroke-width=".4"/><path d="M282.7 164.2L287.3 171L288.2 172.2L288 171.8L282.6 164zM287.3 171L289.2 173.8L288.2 172.2zM286.8 170L282.6 164L282.6 164L288 171.8z" fill="#d5fb21" stroke="#d5fb21" stroke-width=".4"/><path d="M282.4 163.8L282.7 164.2L282.6 164zM282.6 164L282.4 163.8L282.6 164z" fill="#f7f41d" stroke="#f7f41d" stroke-width=".4"/><path d="M282.4 163.8L287.3 171L294.3 181.3L289.4 173.9z" fill="none" stroke="#000" stroke-width="1" stroke-linejoin="round"/><path d="M233.5 108.2L234.5 109L233.2 107.9zM234.5 109L231.4 106.1L233.2 107.9z" fill="#d30303" stroke="#d30303" stroke-width=".4"/><path d="M222.8 99.5L227.1 103.5L228.5 103.9L222.6 99.3zM227.1 103.5L233.5 108.2L233.2 107.9L228.5 103.9zM231.4 106.1L229.8 104.5L228.5 103.9L233.2 107.9zM229.8 104.5L222.6 99.3L222.6 99.3L228.5 103.9z" fill="#bf0000" stroke="#bf0000" stroke-width=".4"/><path d="M222.5 99.2L222.8 99.5L222.6 99.3zM222.6 99.3L222.5 99.2L222.6 99.3z" fill="#ad0000" stroke="#ad0000" stroke-width=".4"/><path d="M222.5 99.2L227.1 103.5L234.5 109L229.8 104.5z" fill="none" stroke="#000" stroke-width="1" stroke-linejoin="round"/><path d="M278 158L282.4 163.8L277 156.2zM282.4 163.8L277.6 157L276.6 155.8L277 156.2zM277.6 157L275.5 154.3L276.6 155.8z" fill="#f7f41d" stroke="#f7f41d" stroke-width=".4"/><path d="M271.3 148.8L275.3 154.4L276.5 155.6L271 148.4zM275.3 154.4L278 158L277 156.2L276.5 155.6zM276.6 155.8L276.5 155.6L277 156.2zM275.5 154.3L270.9 148.2L271 148.4L276.5 155.6L276.6 155.8z" fill="#fdd01a" stroke="#fdd01a" stroke-width=".4"/><path d="M270.5 147.8L271.3 148.8L271 148.4zM270.9 148.2L270.5 147.8L271 148.4z" fill="#ff9716" stroke="#ff9716" stroke-width=".4"/><path d="M270.5 147.8L275.3 154.4L282.4 163.8L277.6 157z" fill="none" stroke="#000" stroke-width="1" stroke-linejoin="round"/><path d="M125.2 85.8L129.4 86.7L131.1 84zM129.4 86.7L133.8 84.4L133.8 83.4L131.1 84zM134.2 81.9L132.8 81.6L131.1 84L133.8 83.4zM132.8 81.6L125.2 85.8L131.1 84z" fill="#9b0000" stroke="#9b0000" stroke-width=".4"/><path d="M133.8 84.4L137 82.6L133.8 83.4zM137 82.6L134.2 81.9L133.8 83.4z" fill="#8b0000" stroke="#8b0000" stroke-width=".4"/><path d="M125.2 85.8L129.4 86.7L137 82.6L132.8 81.6z" fill="none" stroke="#000" stroke-width="1" stroke-linejoin="round"/><path d="M196.4 84.6L197 84.5L194.7 83.5zM197.5 85.6L203 87.5L197 84.5L196.4 84.6zM203 87.5L198.5 84.3L197 84.5zM198.5 84.3L193.2 82.6L194.7 83.5L197 84.5z" fill="#9b0000" stroke="#9b0000" stroke-width=".4"/><path d="M191 81.9L195.6 84.9L196.4 84.6L194.7 83.5zM195.6 84.9L197.5 85.6L196.4 84.6zM193.2 82.6L191 81.9L194.7 83.5z" fill="#8b0000" stroke="#8b0000" stroke-width=".4"/><path d="M191 81.9L195.6 84.9L203 87.5L198.5 84.3z" fill="none" stroke="#000" stroke-width="1" stroke-linejoin="round"/><path d="M152.1 77.2L156.5 78.9L164 77.6L159.7 75.8z" fill="#8b0000" stroke="#000" stroke-width="1" stroke-linejoin="round"/><path d="M243.2 117.4L246.5 120.4L242.3 116.2zM246.5 120.4L241.8 115.3L241.1 114.9L242.3 116.2zM241.8 115.3L240.3 114L241.1 114.9z" fill="#ea0909" stroke="#ea0909" stroke-width=".4"/><path d="M234.5 109L239.2 113.9L240.5 114.5zM239.2 113.9L243.2 117.4L242.3 116.2L240.5 114.5zM241.1 114.9L240.5 114.5L242.3 116.2zM240.3 114L234.5 109L240.5 114.5L241.1 114.9z" fill="#d30303" stroke="#d30303" stroke-width=".4"/><path d="M234.5 109L239.2 113.9L246.5 120.4L241.8 115.3z" fill="none" stroke="#000" stroke-width="1" stroke-linejoin="round"/><path d="M265.8 142.3L270.5 147.8L264.6 140.5zM270.5 147.8L265.7 141.5L264.6 140.4L264.6 140.5zM265.7 141.5L263.2 138.7L264.6 140.4z" fill="#ff9716" stroke="#ff9716" stroke-width=".4"/><path d="M258.5 133.3L263.3 139.4L264.5 140.3zM263.3 139.4L265.8 142.3L264.6 140.5L264.5 140.3zM264.6 140.4L264.5 140.3L264.6 140.5zM263.2 138.7L258.5 133.3L264.5 140.3L264.6 140.4z" fill="#ff5713" stroke="#ff5713" stroke-width=".4"/><path d="M258.5 133.3L263.3 139.4L270.5 147.8L265.7 141.5z" fill="none" stroke="#000" stroke-width="1" stroke-linejoin="round"/><path d="M257.9 132.7L258.5 133.3L257.8 132.5zM258.5 133.3L257.2 131.7L257.8 132.5z" fill="#ff5713" stroke="#ff5713" stroke-width=".4"/><path d="M251.7 126.1L252.5 126.6L250.4 124.4zM252.2 126.8L257.9 132.7L257.8 132.5L252.5 126.6L251.7 126.1zM257.2 131.7L253.7 127.7L252.5 126.6L257.8 132.5zM253.7 127.7L249.4 123.3L250.4 124.4L252.5 126.6z" fill="#ff1910" stroke="#ff1910" stroke-width=".4"/><path d="M246.5 120.4L251.3 125.9L251.7 126.1L250.4 124.4zM251.3 125.9L252.2 126.8L251.7 126.1zM249.4 123.3L246.5 120.4L250.4 124.4z" fill="#ea0909" stroke="#ea0909" stroke-width=".4"/><path d="M246.5 120.4L251.3 125.9L258.5 133.3L253.7 127.7z" fill="none" stroke="#000" stroke-width="1" stroke-linejoin="round"/><path d="M171.6 77.2L176 79.6L183.5 80.3L179.1 77.8z" fill="#8b0000" stroke="#000" stroke-width="1" stroke-linejoin="round"/><path d="M117.7 90.9L119.1 91.2L119 90.4zM119.1 90L117.7 90.9L119 90.4z" fill="#ad0000" stroke="#ad0000" stroke-width=".4"/><path d="M119.1 91.2L121.9 91.8L123.5 88.6L119 90.4zM121.9 91.8L129.4 86.7L123.5 88.6zM129.4 86.7L125.2 85.8L123.5 88.6zM125.2 85.8L119.1 90L119 90.4L123.5 88.6z" fill="#9b0000" stroke="#9b0000" stroke-width=".4"/><path d="M117.7 90.9L121.9 91.8L129.4 86.7L125.2 85.8z" fill="none" stroke="#000" stroke-width="1" stroke-linejoin="round"/><path d="M309.3 206L311.1 208.8L309 205.2zM311.1 208.8L307.9 203.4L309 205.2z" fill="#0fb62c" stroke="#0fb62c" stroke-width=".4"/><path d="M304.9 198.4L305.1 198.8L304.4 197.6zM305.6 199.9L309.3 206L309 205.2L305.1 198.8L304.9 198.4zM307.9 203.4L306.1 200.3L305.1 198.8L309 205.2zM306.1 200.3L303.4 195.9L304.4 197.6L305.1 198.8z" fill="#0fd026" stroke="#0fd026" stroke-width=".4"/><path d="M300 190.4L304.1 197.5L304.9 198.4L304.4 197.6L299.7 190zM304.1 197.5L305.6 199.9L304.9 198.4zM303.4 195.9L299.6 189.8L299.7 190L304.4 197.6z" fill="#1ce71f" stroke="#1ce71f" stroke-width=".4"/><path d="M299.2 189.2L300 190.4L299.7 190zM299.6 189.8L299.2 189.2L299.7 190z" fill="#3cfa1a" stroke="#3cfa1a" stroke-width=".4"/><path d="M299.2 189.2L304.1 197.5L311.1 208.8L306.1 200.3z" fill="none" stroke="#000" stroke-width="1" stroke-linejoin="round"/><path d="M213.2 93.8L215.1 94.7L212.6 93.1zM215.1 94.7L210.5 91L210.2 90.9L212.6 93.1zM210.5 91L209.7 90.6L210.2 90.9z" fill="#ad0000" stroke="#ad0000" stroke-width=".4"/><path d="M203 87.5L207.6 91.1L209.1 90.9zM207.6 91.1L213.2 93.8L212.6 93.1L209.1 90.9zM210.2 90.9L209.1 90.9L212.6 93.1zM209.7 90.6L203 87.5L209.1 90.9L210.2 90.9z" fill="#9b0000" stroke="#9b0000" stroke-width=".4"/><path d="M203 87.5L207.6 91.1L215.1 94.7L210.5 91z" fill="none" stroke="#000" stroke-width="1" stroke-linejoin="round"/><path d="M144.6 79.4L148.9 81L156.5 78.9L152.1 77.2z" fill="#8b0000" stroke="#000" stroke-width="1" stroke-linejoin="round"/><path d="M110.1 96.9L114.3 97.7L116 94.2zM114.3 97.7L119.6 93.5L119.3 92.8L116 94.2zM119.1 91.2L117.7 90.9L116 94.2L119.3 92.8zM117.7 90.9L110.1 96.9L116 94.2z" fill="#ad0000" stroke="#ad0000" stroke-width=".4"/><path d="M119.6 93.5L121.9 91.8L119.3 92.8zM121.9 91.8L119.1 91.2L119.3 92.8z" fill="#9b0000" stroke="#9b0000" stroke-width=".4"/><path d="M110.1 96.9L114.3 97.7L121.9 91.8L117.7 90.9z" fill="none" stroke="#000" stroke-width="1" stroke-linejoin="round"/><path d="M183.5 80.3L188.1 83.2L195.6 84.9L191 81.9z" fill="#8b0000" stroke="#000" stroke-width="1" stroke-linejoin="round"/><path d="M295.6 183.8L299.2 189.2L294.8 182.3zM299.2 189.2L294.3 181.3L293.9 180.7L294.8 182.3zM294.3 181.3L293.3 179.9L293.9 180.7z" fill="#3cfa1a" stroke="#3cfa1a" stroke-width=".4"/><path d="M290.8 176.6L292.2 178.8L293.3 179.9L289.7 174.6zM292.2 178.8L295.6 183.8L294.8 182.3L293.3 179.9zM293.9 180.7L293.3 179.9L294.8 182.3zM293.3 179.9L289.2 173.8L289.7 174.6L293.3 179.9L293.9 180.7z" fill="#9cfa21" stroke="#9cfa21" stroke-width=".4"/><path d="M287.3 171L290.8 176.6L289.7 174.6zM289.2 173.8L287.3 171L289.7 174.6z" fill="#d5fb21" stroke="#d5fb21" stroke-width=".4"/><path d="M287.3 171L292.2 178.8L299.2 189.2L294.3 181.3z" fill="none" stroke="#000" stroke-width="1" stroke-linejoin="round"/><path d="M164 77.6L168.4 79.8L176 79.6L171.6 77.2z" fill="#8b0000" stroke="#000" stroke-width="1" stroke-linejoin="round"/><path d="M102.6 103.9L106.7 104.6L108.4 100.6zM106.7 104.6L109.4 102.1L108.7 100.5L108.4 100.6zM108.7 100.1L108.4 100.6L108.7 100.5zM108.4 98.6L102.6 103.9L108.4 100.6L108.7 100.1z" fill="#bf0000" stroke="#bf0000" stroke-width=".4"/><path d="M109.4 102.1L114.3 97.7L108.7 100.5zM114.3 97.7L110.1 96.9L108.7 100.1L108.7 100.5zM110.1 96.9L108.4 98.6L108.7 100.1z" fill="#ad0000" stroke="#ad0000" stroke-width=".4"/><path d="M102.6 103.9L106.7 104.6L114.3 97.7L110.1 96.9z" fill="none" stroke="#000" stroke-width="1" stroke-linejoin="round"/><path d="M225.6 102.6L227.1 103.5L225.2 102zM227.1 103.5L222.8 99.5L225.2 102z" fill="#bf0000" stroke="#bf0000" stroke-width=".4"/><path d="M215.1 94.7L219.7 98.9L221.1 98.9zM219.7 98.9L225.6 102.6L225.2 102L221.1 98.9zM222.8 99.5L222.5 99.2L221.1 98.9L225.2 102zM222.5 99.2L215.1 94.7L221.1 98.9z" fill="#ad0000" stroke="#ad0000" stroke-width=".4"/><path d="M215.1 94.7L219.7 98.9L227.1 103.5L222.5 99.2z" fill="none" stroke="#000" stroke-width="1" stroke-linejoin="round"/><path d="M95.1 111.7L99.1 112.4L100.4 109.1L100.2 108.4zM99.1 112.4L101 110.4L100.4 109.1zM99.7 106.9L95.1 111.7L100.2 108.4z" fill="#d30303" stroke="#d30303" stroke-width=".4"/><path d="M100.4 109.1L100.9 108L100.2 108.4zM101 110.4L106.7 104.6L100.9 108L100.4 109.1zM106.7 104.6L102.6 103.9L100.9 108zM102.6 103.9L99.7 106.9L100.2 108.4L100.9 108z" fill="#bf0000" stroke="#bf0000" stroke-width=".4"/><path d="M95.1 111.7L99.1 112.4L106.7 104.6L102.6 103.9z" fill="none" stroke="#000" stroke-width="1" stroke-linejoin="round"/><path d="M137 82.6L141.3 84.1L148.9 81L144.6 79.4z" fill="#8b0000" stroke="#000" stroke-width="1" stroke-linejoin="round"/><path d="M65.1 152.2L69 152.5L70 149.1L69.4 147.9zM69 152.5L70.6 150.1L70 149.1zM68.8 146.5L65.1 152.2L69.4 147.9z" fill="#fdd01a" stroke="#fdd01a" stroke-width=".4"/><path d="M70 149.1L70.8 146.5L69.4 147.9zM70.6 150.1L75.7 142.3L75.6 142L70.8 146.5L70 149.1zM75.1 141L72.6 140.7L70.8 146.5L75.6 142zM72.6 140.7L68.8 146.5L69.4 147.9L70.8 146.5z" fill="#ff9716" stroke="#ff9716" stroke-width=".4"/><path d="M75.7 142.3L76.5 141.1L75.6 142zM76.5 141.1L75.1 141L75.6 142z" fill="#ff5713" stroke="#ff5713" stroke-width=".4"/><path d="M65.1 152.2L69 152.5L76.5 141.1L72.6 140.7z" fill="none" stroke="#000" stroke-width="1" stroke-linejoin="round"/><path d="M284.9 167.8L287.3 171L284.3 166.8zM287.3 171L282.7 164.2L284.3 166.8z" fill="#d5fb21" stroke="#d5fb21" stroke-width=".4"/><path d="M280.3 161.7L281.3 162.6L278.7 159zM280.3 161.8L284.9 167.8L284.3 166.8L281.3 162.6L280.3 161.7zM282.7 164.2L282.4 163.8L281.3 162.6L284.3 166.8zM282.4 163.8L278 158L278.7 159L281.3 162.6z" fill="#f7f41d" stroke="#f7f41d" stroke-width=".4"/><path d="M275.3 154.4L280.2 161.6L280.3 161.7L278.7 159zM280.2 161.6L280.3 161.8L280.3 161.7zM278 158L275.3 154.4L278.7 159z" fill="#fdd01a" stroke="#fdd01a" stroke-width=".4"/><path d="M275.3 154.4L280.2 161.6L287.3 171L282.4 163.8z" fill="none" stroke="#000" stroke-width="1" stroke-linejoin="round"/><path d="M236.2 111.6L239.2 113.9L235.5 110.6zM239.2 113.9L234.5 109L234 108.8L235.5 110.6zM234.5 109L233.5 108.2L234 108.8z" fill="#d30303" stroke="#d30303" stroke-width=".4"/><path d="M227.1 103.5L231.8 108.3L233.2 108.5zM231.8 108.3L236.2 111.6L235.5 110.6L233.2 108.5zM234 108.8L233.2 108.5L235.5 110.6zM233.5 108.2L227.1 103.5L233.2 108.5L234 108.8z" fill="#bf0000" stroke="#bf0000" stroke-width=".4"/><path d="M227.1 103.5L231.8 108.3L239.2 113.9L234.5 109z" fill="none" stroke="#000" stroke-width="1" stroke-linejoin="round"/><path d="M87.6 120.5L91.6 121.1L93 117.1L92.8 116.6zM91.6 121.1L93.8 118.5L93 117.1zM92.3 115L87.6 120.5L92.8 116.6z" fill="#ea0909" stroke="#ea0909" stroke-width=".4"/><path d="M93 117.1L93.3 116.2L92.8 116.6zM93.8 118.5L99.1 112.4L93.3 116.2L93 117.1zM99.1 112.4L95.1 111.7L93.3 116.2zM95.1 111.7L92.3 115L92.8 116.6L93.3 116.2z" fill="#d30303" stroke="#d30303" stroke-width=".4"/><path d="M87.6 120.5L91.6 121.1L99.1 112.4L95.1 111.7z" fill="none" stroke="#000" stroke-width="1" stroke-linejoin="round"/><path d="M72.6 140.7L75.1 141L74.2 139.2zM74 138.7L72.6 140.7L74.2 139.2z" fill="#ff9716" stroke="#ff9716" stroke-width=".4"/><path d="M75.1 141L76.5 141.1L78.3 135.5L74.2 139.2zM76.5 141.1L81.3 134.5L80.7 133.4L78.3 135.5zM79.7 131.3L78.3 135.5L80.7 133.4zM79.5 130.9L74 138.7L74.2 139.2L78.3 135.5L79.7 131.3z" fill="#ff5713" stroke="#ff5713" stroke-width=".4"/><path d="M81.3 134.5L84 130.6L80.7 133.4zM84 130.6L80.1 130.2L79.7 131.3L80.7 133.4zM80.1 130.2L79.5 130.9L79.7 131.3z" fill="#ff1910" stroke="#ff1910" stroke-width=".4"/><path d="M72.6 140.7L76.5 141.1L84 130.6L80.1 130.2z" fill="none" stroke="#000" stroke-width="1" stroke-linejoin="round"/><path d="M80.1 130.2L84 130.6L85.8 125.4zM84 130.6L87.3 126.5L86.4 125L85.8 125.4zM86.2 124.4L85.8 125.4L86.4 125zM85.6 123L80.1 130.2L85.8 125.4L86.2 124.4z" fill="#ff1910" stroke="#ff1910" stroke-width=".4"/><path d="M87.3 126.5L91.6 121.1L86.4 125zM91.6 121.1L87.6 120.5L86.2 124.4L86.4 125zM87.6 120.5L85.6 123L86.2 124.4z" fill="#ea0909" stroke="#ea0909" stroke-width=".4"/><path d="M80.1 130.2L84 130.6L91.6 121.1L87.6 120.5z" fill="none" stroke="#000" stroke-width="1" stroke-linejoin="round"/><path d="M273.2 152L275.3 154.4L272.8 151.2zM275.3 154.4L271.3 148.8L272.8 151.2z" fill="#fdd01a" stroke="#fdd01a" stroke-width=".4"/><path d="M268.2 145.9L269.3 146.7L266.5 143.2zM268.2 146L273.2 152L272.8 151.2L269.3 146.7L268.2 145.9zM271.3 148.8L270.5 147.8L269.3 146.7L272.8 151.2zM270.5 147.8L265.8 142.3L266.5 143.2L269.3 146.7z" fill="#ff9716" stroke="#ff9716" stroke-width=".4"/><path d="M263.3 139.4L268.2 145.9L268.2 145.9L266.5 143.2zM268.2 145.9L268.2 146L268.2 145.9zM265.8 142.3L263.3 139.4L266.5 143.2z" fill="#ff5713" stroke="#ff5713" stroke-width=".4"/><path d="M263.3 139.4L268.2 145.9L275.3 154.4L270.5 147.8z" fill="none" stroke="#000" stroke-width="1" stroke-linejoin="round"/><path d="M244.9 119.6L245.2 119.7L244.4 118.9zM245.8 120.9L251.3 125.9L245.2 119.7L244.9 119.6zM251.3 125.9L246.5 120.4L245.2 119.7zM246.5 120.4L243.2 117.4L244.4 118.9L245.2 119.7z" fill="#ea0909" stroke="#ea0909" stroke-width=".4"/><path d="M239.2 113.9L244 119.3L244.9 119.6L244.4 118.9zM244 119.3L245.8 120.9L244.9 119.6zM243.2 117.4L239.2 113.9L244.4 118.9z" fill="#d30303" stroke="#d30303" stroke-width=".4"/><path d="M239.2 113.9L244 119.3L251.3 125.9L246.5 120.4z" fill="none" stroke="#000" stroke-width="1" stroke-linejoin="round"/><path d="M260.4 136.3L263.3 139.4L259.7 135.2zM263.3 139.4L258.5 133.3L258.2 133.1L259.7 135.2zM258.5 133.3L257.9 132.7L258.2 133.1z" fill="#ff5713" stroke="#ff5713" stroke-width=".4"/><path d="M253.1 128.2L256.1 131.8L257.3 132.4L252.4 127.1zM256.1 131.8L260.4 136.3L259.7 135.2L257.3 132.4zM258.2 133.1L257.3 132.4L259.7 135.2zM257.9 132.7L252.2 126.8L252.4 127.1L257.3 132.4L258.2 133.1z" fill="#ff1910" stroke="#ff1910" stroke-width=".4"/><path d="M251.3 125.9L253.1 128.2L252.4 127.1zM252.2 126.8L251.3 125.9L252.4 127.1z" fill="#ea0909" stroke="#ea0909" stroke-width=".4"/><path d="M251.3 125.9L256.1 131.8L263.3 139.4L258.5 133.3z" fill="none" stroke="#000" stroke-width="1" stroke-linejoin="round"/><path d="M200.6 88.2L201.6 87.8L198.5 86.3zM201 88.7L207.6 91.1L201.6 87.8L200.6 88.2zM207.6 91.1L203 87.5L201.6 87.8zM203 87.5L197.5 85.6L198.5 86.3L201.6 87.8z" fill="#9b0000" stroke="#9b0000" stroke-width=".4"/><path d="M195.6 84.9L200.1 88.4L200.6 88.2L198.5 86.3zM200.1 88.4L201 88.7L200.6 88.2zM197.5 85.6L195.6 84.9L198.5 86.3z" fill="#8b0000" stroke="#8b0000" stroke-width=".4"/><path d="M195.6 84.9L200.1 88.4L207.6 91.1L203 87.5z" fill="none" stroke="#000" stroke-width="1" stroke-linejoin="round"/><path d="M156.5 78.9L160.9 81L168.4 79.8L164 77.6z" fill="#8b0000" stroke="#000" stroke-width="1" stroke-linejoin="round"/><path d="M315.1 216.1L316 217.7L314.9 215.7zM316 217.7L314.4 214.8L314.9 215.7z" fill="#129b36" stroke="#129b36" stroke-width=".4"/><path d="M311.4 210.1L315.1 216.1L314.9 215.7L310.5 208.2zM314.4 214.8L311.1 208.8L310.2 207.6L310.5 208.2L314.9 215.7zM311.1 208.8L309.3 206L310.2 207.6z" fill="#0fb62c" stroke="#0fb62c" stroke-width=".4"/><path d="M306.7 202L309.1 206.3L310.1 207.4L305.9 200.5zM309.1 206.3L311.4 210.1L310.5 208.2L310.1 207.4zM310.2 207.6L310.1 207.4L310.5 208.2zM309.3 206L305.6 199.9L305.9 200.5L310.1 207.4L310.2 207.6z" fill="#0fd026" stroke="#0fd026" stroke-width=".4"/><path d="M304.1 197.5L306.7 202L305.9 200.5zM305.6 199.9L304.1 197.5L305.9 200.5z" fill="#1ce71f" stroke="#1ce71f" stroke-width=".4"/><path d="M304.1 197.5L309.1 206.3L316 217.7L311.1 208.8z" fill="none" stroke="#000" stroke-width="1" stroke-linejoin="round"/><path d="M129.4 86.7L133.7 88.1L133.9 87.8L133.6 85.7zM133.7 88.1L134 88L133.9 87.8zM133.8 84.4L129.4 86.7L133.6 85.7z" fill="#9b0000" stroke="#9b0000" stroke-width=".4"/><path d="M133.9 87.8L135.4 85.2L133.6 85.7zM134 88L141.3 84.1L135.4 85.2L133.9 87.8zM141.3 84.1L137 82.6L135.4 85.2zM137 82.6L133.8 84.4L133.6 85.7L135.4 85.2z" fill="#8b0000" stroke="#8b0000" stroke-width=".4"/><path d="M129.4 86.7L133.7 88.1L141.3 84.1L137 82.6z" fill="none" stroke="#000" stroke-width="1" stroke-linejoin="round"/><path d="M176 79.6L180.5 82.4L188.1 83.2L183.5 80.3z" fill="#8b0000" stroke="#000" stroke-width="1" stroke-linejoin="round"/><path d="M216.1 97.1L219.7 98.9L215.2 95.8zM219.7 98.9L215.1 94.7L214.2 94.8L215.2 95.8zM215.1 94.7L213.2 93.8L214.2 94.8z" fill="#ad0000" stroke="#ad0000" stroke-width=".4"/><path d="M207.6 91.1L212.3 95.2L213.7 94.8zM212.3 95.2L216.1 97.1L215.2 95.8L213.7 94.8zM214.2 94.8L213.7 94.8L215.2 95.8zM213.2 93.8L207.6 91.1L213.7 94.8L214.2 94.8z" fill="#9b0000" stroke="#9b0000" stroke-width=".4"/><path d="M207.6 91.1L212.3 95.2L219.7 98.9L215.1 94.7z" fill="none" stroke="#000" stroke-width="1" stroke-linejoin="round"/><path d="M121.9 91.8L126.1 93.1L133.7 88.1L129.4 86.7z" fill="#9b0000" stroke="#000" stroke-width="1" stroke-linejoin="round"/><path d="M301.7 193.9L304.1 197.5L301.2 192.9zM304.1 197.5L300 190.4L301.2 192.9z" fill="#1ce71f" stroke="#1ce71f" stroke-width=".4"/><path d="M297.4 187.3L298.2 188L296.3 185.2zM297.6 187.8L301.7 193.9L301.2 192.9L298.2 188L297.4 187.3zM300 190.4L299.2 189.2L298.2 188L301.2 192.9zM299.2 189.2L295.6 183.8L296.3 185.2L298.2 188z" fill="#3cfa1a" stroke="#3cfa1a" stroke-width=".4"/><path d="M292.2 178.8L297.1 187L297.4 187.3L296.3 185.2zM297.1 187L297.6 187.8L297.4 187.3zM295.6 183.8L292.2 178.8L296.3 185.2z" fill="#9cfa21" stroke="#9cfa21" stroke-width=".4"/><path d="M292.2 178.8L297.1 187L304.1 197.5L299.2 189.2z" fill="none" stroke="#000" stroke-width="1" stroke-linejoin="round"/><path d="M148.9 81L153.3 83.1L160.9 81L156.5 78.9z" fill="#8b0000" stroke="#000" stroke-width="1" stroke-linejoin="round"/><path d="M114.3 97.7L118.5 98.9L120.1 95.4L120 95.3zM118.5 98.9L120.9 97L120.1 95.4zM119.6 93.5L114.3 97.7L120 95.3z" fill="#ad0000" stroke="#ad0000" stroke-width=".4"/><path d="M120.1 95.4L120.2 95.2L120 95.3zM120.9 97L126.1 93.1L120.2 95.2L120.1 95.4zM126.1 93.1L121.9 91.8L120.2 95.2zM121.9 91.8L119.6 93.5L120 95.3L120.2 95.2z" fill="#9b0000" stroke="#9b0000" stroke-width=".4"/><path d="M114.3 97.7L118.5 98.9L126.1 93.1L121.9 91.8z" fill="none" stroke="#000" stroke-width="1" stroke-linejoin="round"/><path d="M228.2 106L231.8 108.3L227.4 104.7zM231.8 108.3L227.1 103.5L226.4 103.5L227.4 104.7zM227.1 103.5L225.6 102.6L226.4 103.5z" fill="#bf0000" stroke="#bf0000" stroke-width=".4"/><path d="M219.7 98.9L224.4 103.6L225.8 103.4zM224.4 103.6L228.2 106L227.4 104.7L225.8 103.4zM226.4 103.5L225.8 103.4L227.4 104.7zM225.6 102.6L219.7 98.9L225.8 103.4L226.4 103.5z" fill="#ad0000" stroke="#ad0000" stroke-width=".4"/><path d="M219.7 98.9L224.4 103.6L231.8 108.3L227.1 103.5z" fill="none" stroke="#000" stroke-width="1" stroke-linejoin="round"/><path d="M188.1 83.2L192.6 86.6L200.1 88.4L195.6 84.9z" fill="#8b0000" stroke="#000" stroke-width="1" stroke-linejoin="round"/><path d="M291.4 177.7L292.2 178.8L291.3 177.4zM292.2 178.8L290.8 176.6L291.3 177.4z" fill="#9cfa21" stroke="#9cfa21" stroke-width=".4"/><path d="M286.1 169.9L286.2 170L285.9 169.6zM286.9 171.7L291.4 177.7L291.3 177.4L286.2 170L286.1 169.9zM290.8 176.6L287.3 171L286.2 170L291.3 177.4zM287.3 171L284.9 167.8L285.9 169.6L286.2 170z" fill="#d5fb21" stroke="#d5fb21" stroke-width=".4"/><path d="M280.4 161.9L285.1 169.2L286.1 169.9L285.9 169.6L280.3 161.8zM285.1 169.2L286.9 171.7L286.1 169.9zM284.9 167.8L280.3 161.8L280.3 161.8L285.9 169.6z" fill="#f7f41d" stroke="#f7f41d" stroke-width=".4"/><path d="M280.2 161.6L280.4 161.9L280.3 161.8zM280.3 161.8L280.2 161.6L280.3 161.8z" fill="#fdd01a" stroke="#fdd01a" stroke-width=".4"/><path d="M280.2 161.6L285.1 169.2L292.2 178.8L287.3 171z" fill="none" stroke="#000" stroke-width="1" stroke-linejoin="round"/><path d="M168.4 79.8L172.9 82.5L180.5 82.4L176 79.6z" fill="#8b0000" stroke="#000" stroke-width="1" stroke-linejoin="round"/><path d="M237.7 113.6L237.9 113.6L237.5 113.2zM238.6 115.1L244 119.3L237.9 113.6L237.7 113.6zM244 119.3L239.2 113.9L237.9 113.6zM239.2 113.9L236.2 111.6L237.5 113.2L237.9 113.6z" fill="#d30303" stroke="#d30303" stroke-width=".4"/><path d="M231.8 108.3L236.6 113.6L237.7 113.6L237.5 113.2zM236.6 113.6L238.6 115.1L237.7 113.6zM236.2 111.6L231.8 108.3L237.5 113.2z" fill="#bf0000" stroke="#bf0000" stroke-width=".4"/><path d="M231.8 108.3L236.6 113.6L244 119.3L239.2 113.9z" fill="none" stroke="#000" stroke-width="1" stroke-linejoin="round"/><path d="M106.7 104.6L110.8 105.7L110.9 105.5L109.7 103zM110.8 105.7L111 105.6L110.9 105.5zM109.4 102.1L106.7 104.6L109.7 103z" fill="#bf0000" stroke="#bf0000" stroke-width=".4"/><path d="M110.9 105.5L112.6 101.6L109.7 103zM111 105.6L118.5 98.9L112.6 101.6L110.9 105.5zM118.5 98.9L114.3 97.7L112.6 101.6zM114.3 97.7L109.4 102.1L109.7 103L112.6 101.6z" fill="#ad0000" stroke="#ad0000" stroke-width=".4"/><path d="M106.7 104.6L110.8 105.7L118.5 98.9L114.3 97.7z" fill="none" stroke="#000" stroke-width="1" stroke-linejoin="round"/><path d="M275.3 155.8L280.2 161.6L274.4 153.9zM280.2 161.6L275.3 154.4L274.3 153.7L274.4 153.9zM275.3 154.4L273.2 152L274.3 153.7z" fill="#fdd01a" stroke="#fdd01a" stroke-width=".4"/><path d="M268.2 146L273 153L274.2 153.6L268.2 146zM273 153L275.3 155.8L274.4 153.9L274.2 153.6zM274.3 153.7L274.2 153.6L274.4 153.9zM273.2 152L268.2 146L268.2 146L274.2 153.6L274.3 153.7z" fill="#ff9716" stroke="#ff9716" stroke-width=".4"/><path d="M268.2 145.9L268.2 146L268.2 146zM268.2 146L268.2 145.9L268.2 146z" fill="#ff5713" stroke="#ff5713" stroke-width=".4"/><path d="M268.2 145.9L273 153L280.2 161.6L275.3 154.4z" fill="none" stroke="#000" stroke-width="1" stroke-linejoin="round"/><path d="M320.6 226.4L321 227.1L320.5 226.3zM321 227.1L320.3 225.9L320.5 226.3z" fill="#178642" stroke="#178642" stroke-width=".4"/><path d="M316.9 220.4L320.6 226.4L320.5 226.3L316.2 218.7zM320.3 225.9L316 217.7L315.5 217.1L316.2 218.7L320.5 226.3zM316 217.7L315.1 216.1L315.5 217.1z" fill="#129b36" stroke="#129b36" stroke-width=".4"/><path d="M312.8 213.2L314 215.6L315 216.5L311.8 211.1zM314 215.6L316.9 220.4L316.2 218.7L315 216.5zM315.5 217.1L315 216.5L316.2 218.7zM315.1 216.1L311.4 210.1L311.8 211.1L315 216.5L315.5 217.1z" fill="#0fb62c" stroke="#0fb62c" stroke-width=".4"/><path d="M309.1 206.3L312.8 213.2L311.8 211.1zM311.4 210.1L309.1 206.3L311.8 211.1z" fill="#0fd026" stroke="#0fd026" stroke-width=".4"/><path d="M309.1 206.3L314 215.6L321 227.1L316 217.7z" fill="none" stroke="#000" stroke-width="1" stroke-linejoin="round"/><path d="M254.5 130.4L256.1 131.8L254.2 129.8zM256.1 131.8L253.1 128.2L254.2 129.8z" fill="#ff1910" stroke="#ff1910" stroke-width=".4"/><path d="M247.5 123.5L248.8 125.1L250 125.4L246.3 121.6zM248.8 125.1L254.5 130.4L254.2 129.8L250 125.4zM253.1 128.2L251.3 125.9L250 125.4L254.2 129.8zM251.3 125.9L245.8 120.9L246.3 121.6L250 125.4z" fill="#ea0909" stroke="#ea0909" stroke-width=".4"/><path d="M244 119.3L247.5 123.5L246.3 121.6zM245.8 120.9L244 119.3L246.3 121.6z" fill="#d30303" stroke="#d30303" stroke-width=".4"/><path d="M244 119.3L248.8 125.1L256.1 131.8L251.3 125.9z" fill="none" stroke="#000" stroke-width="1" stroke-linejoin="round"/><path d="M261.8 138.6L262.1 138.7L261.4 137.9zM262.5 140L268.2 145.9L262.1 138.7L261.8 138.6zM268.2 145.9L263.3 139.4L262.1 138.7zM263.3 139.4L260.4 136.3L261.4 137.9L262.1 138.7z" fill="#ff5713" stroke="#ff5713" stroke-width=".4"/><path d="M256.1 131.8L260.9 138.3L261.8 138.6L261.4 137.9zM260.9 138.3L262.5 140L261.8 138.6zM260.4 136.3L256.1 131.8L261.4 137.9z" fill="#ff1910" stroke="#ff1910" stroke-width=".4"/><path d="M256.1 131.8L260.9 138.3L268.2 145.9L263.3 139.4z" fill="none" stroke="#000" stroke-width="1" stroke-linejoin="round"/><path d="M141.3 84.1L145.6 86L153.3 83.1L148.9 81z" fill="#8b0000" stroke="#000" stroke-width="1" stroke-linejoin="round"/><path d="M99.1 112.4L102.4 113.2L101.3 111.1zM101 110.4L99.1 112.4L101.3 111.1z" fill="#d30303" stroke="#d30303" stroke-width=".4"/><path d="M102.4 113.2L103.2 113.4L105 108.8L101.3 111.1zM103.2 113.4L110.8 105.7L105 108.8zM110.8 105.7L106.7 104.6L105 108.8zM106.7 104.6L101 110.4L101.3 111.1L105 108.8z" fill="#bf0000" stroke="#bf0000" stroke-width=".4"/><path d="M99.1 112.4L103.2 113.4L110.8 105.7L106.7 104.6z" fill="none" stroke="#000" stroke-width="1" stroke-linejoin="round"/><path d="M69 152.5L72.4 153.2L70.9 150.7zM70.6 150.1L69 152.5L70.9 150.7z" fill="#fdd01a" stroke="#fdd01a" stroke-width=".4"/><path d="M72.4 153.2L73 153.3L74.7 147.1L70.9 150.7zM73 153.3L77.9 145.9L77.2 144.9L74.7 147.1zM76 142.8L74.7 147.1L77.2 144.9zM75.7 142.3L70.6 150.1L70.9 150.7L74.7 147.1L76 142.8z" fill="#ff9716" stroke="#ff9716" stroke-width=".4"/><path d="M77.9 145.9L80.5 142L77.2 144.9zM80.5 142L76.5 141.1L76 142.8L77.2 144.9zM76.5 141.1L75.7 142.3L76 142.8z" fill="#ff5713" stroke="#ff5713" stroke-width=".4"/><path d="M69 152.5L73 153.3L80.5 142L76.5 141.1z" fill="none" stroke="#000" stroke-width="1" stroke-linejoin="round"/><path d="M91.6 121.1L95.6 122L94.1 119.3zM93.8 118.5L91.6 121.1L94.1 119.3z" fill="#ea0909" stroke="#ea0909" stroke-width=".4"/><path d="M95.6 122L95.6 122L97.4 117L94.1 119.3zM95.6 122L102.8 113.9L102.7 113.7L97.4 117zM102.4 113.2L99.1 112.4L97.4 117L102.7 113.7zM99.1 112.4L93.8 118.5L94.1 119.3L97.4 117z" fill="#d30303" stroke="#d30303" stroke-width=".4"/><path d="M102.8 113.9L103.2 113.4L102.7 113.7zM103.2 113.4L102.4 113.2L102.7 113.7z" fill="#bf0000" stroke="#bf0000" stroke-width=".4"/><path d="M91.6 121.1L95.6 122L103.2 113.4L99.1 112.4z" fill="none" stroke="#000" stroke-width="1" stroke-linejoin="round"/><path d="M202.4 90.3L204.8 92.4L206.2 91.6L201.4 89zM204.8 92.4L212.3 95.2L206.2 91.6zM212.3 95.2L207.6 91.1L206.2 91.6zM207.6 91.1L201 88.7L201.4 89L206.2 91.6z" fill="#9b0000" stroke="#9b0000" stroke-width=".4"/><path d="M200.1 88.4L202.4 90.3L201.4 89zM201 88.7L200.1 88.4L201.4 89z" fill="#8b0000" stroke="#8b0000" stroke-width=".4"/><path d="M200.1 88.4L204.8 92.4L212.3 95.2L207.6 91.1z" fill="none" stroke="#000" stroke-width="1" stroke-linejoin="round"/><path d="M76.5 141.1L80.5 142L82.2 136.3L82.2 136.2zM80.5 142L83.4 138L82.2 136.3zM81.3 134.5L76.5 141.1L82.2 136.2z" fill="#ff5713" stroke="#ff5713" stroke-width=".4"/><path d="M82.2 136.3L82.3 136.2L82.2 136.2zM83.4 138L88.1 131.6L82.3 136.2L82.2 136.3zM88.1 131.6L84 130.6L82.3 136.2zM84 130.6L81.3 134.5L82.2 136.2L82.3 136.2z" fill="#ff1910" stroke="#ff1910" stroke-width=".4"/><path d="M76.5 141.1L80.5 142L88.1 131.6L84 130.6z" fill="none" stroke="#000" stroke-width="1" stroke-linejoin="round"/><path d="M84 130.6L88.1 131.6L88.8 129.4L87.8 127.7zM88.1 131.6L89.2 130.1L88.8 129.4zM87.3 126.5L84 130.6L87.8 127.7z" fill="#ff1910" stroke="#ff1910" stroke-width=".4"/><path d="M88.8 129.4L89.8 126.2L87.8 127.7zM89.2 130.1L95.6 122L95.6 122L89.8 126.2L88.8 129.4zM95.6 122L91.6 121.1L89.8 126.2L95.6 122zM91.6 121.1L87.3 126.5L87.8 127.7L89.8 126.2z" fill="#ea0909" stroke="#ea0909" stroke-width=".4"/><path d="M95.6 122L95.6 122L95.6 122zM95.6 122L95.6 122L95.6 122z" fill="#d30303" stroke="#d30303" stroke-width=".4"/><path d="M84 130.6L88.1 131.6L95.6 122L91.6 121.1z" fill="none" stroke="#000" stroke-width="1" stroke-linejoin="round"/><path d="M160.9 81L165.3 83.6L172.9 82.5L168.4 79.8z" fill="#8b0000" stroke="#000" stroke-width="1" stroke-linejoin="round"/><path d="M307.6 204L309.1 206.3L307.3 203.4zM309.1 206.3L306.7 202L307.3 203.4z" fill="#0fd026" stroke="#0fd026" stroke-width=".4"/><path d="M302.9 196.3L303.1 196.5L302.6 195.7zM303.5 198L307.6 204L307.3 203.4L303.1 196.5L302.9 196.3zM306.7 202L304.1 197.5L303.1 196.5L307.3 203.4zM304.1 197.5L301.7 193.9L302.6 195.7L303.1 196.5z" fill="#1ce71f" stroke="#1ce71f" stroke-width=".4"/><path d="M297.9 188.5L302.1 195.7L302.9 196.3L302.6 195.7L297.7 188zM302.1 195.7L303.5 198L302.9 196.3zM301.7 193.9L297.6 187.8L297.7 188L302.6 195.7z" fill="#3cfa1a" stroke="#3cfa1a" stroke-width=".4"/><path d="M297.1 187L297.9 188.5L297.7 188zM297.6 187.8L297.1 187L297.7 188z" fill="#9cfa21" stroke="#9cfa21" stroke-width=".4"/><path d="M297.1 187L302.1 195.7L309.1 206.3L304.1 197.5z" fill="none" stroke="#000" stroke-width="1" stroke-linejoin="round"/><path d="M180.5 82.4L185 85.7L192.6 86.6L188.1 83.2z" fill="#8b0000" stroke="#000" stroke-width="1" stroke-linejoin="round"/><path d="M133.7 88.1L134.1 88.3L134 88.1zM134 88L133.7 88.1L134 88.1z" fill="#9b0000" stroke="#9b0000" stroke-width=".4"/><path d="M134.1 88.3L138 90L139.6 86.9L134 88.1zM138 90L145.6 86L139.6 86.9zM145.6 86L141.3 84.1L139.6 86.9zM141.3 84.1L134 88L134 88.1L139.6 86.9z" fill="#8b0000" stroke="#8b0000" stroke-width=".4"/><path d="M133.7 88.1L138 90L145.6 86L141.3 84.1z" fill="none" stroke="#000" stroke-width="1" stroke-linejoin="round"/><path d="M217.9 99.4L218.3 99.2L217.3 98.5zM218.5 100.5L224.4 103.6L218.3 99.2L217.9 99.4zM224.4 103.6L219.7 98.9L218.3 99.2zM219.7 98.9L216.1 97.1L217.3 98.5L218.3 99.2z" fill="#ad0000" stroke="#ad0000" stroke-width=".4"/><path d="M212.3 95.2L216.9 99.7L217.9 99.4L217.3 98.5zM216.9 99.7L218.5 100.5L217.9 99.4zM216.1 97.1L212.3 95.2L217.3 98.5z" fill="#9b0000" stroke="#9b0000" stroke-width=".4"/><path d="M212.3 95.2L216.9 99.7L224.4 103.6L219.7 98.9z" fill="none" stroke="#000" stroke-width="1" stroke-linejoin="round"/><path d="M293.2 181.8L297.1 187L292.6 180.2zM297.1 187L292.2 178.8L291.8 178.5L292.6 180.2zM292.2 178.8L291.4 177.7L291.8 178.5z" fill="#9cfa21" stroke="#9cfa21" stroke-width=".4"/><path d="M288 174.1L290 177.4L291.1 177.9L287.3 172.4zM290 177.4L293.2 181.8L292.6 180.2L291.1 177.9zM291.8 178.5L291.1 177.9L292.6 180.2zM291.4 177.7L286.9 171.7L287.3 172.4L291.1 177.9L291.8 178.5z" fill="#d5fb21" stroke="#d5fb21" stroke-width=".4"/><path d="M285.1 169.2L288 174.1L287.3 172.4zM286.9 171.7L285.1 169.2L287.3 172.4z" fill="#f7f41d" stroke="#f7f41d" stroke-width=".4"/><path d="M285.1 169.2L290 177.4L297.1 187L292.2 178.8z" fill="none" stroke="#000" stroke-width="1" stroke-linejoin="round"/><path d="M126.1 93.1L130.3 94.8L132 91.3zM130.3 94.8L135.7 91.4L135.2 90.6L132 91.3zM134.1 88.3L133.7 88.1L132 91.3L135.2 90.6zM133.7 88.1L126.1 93.1L132 91.3z" fill="#9b0000" stroke="#9b0000" stroke-width=".4"/><path d="M135.7 91.4L138 90L135.2 90.6zM138 90L134.1 88.3L135.2 90.6z" fill="#8b0000" stroke="#8b0000" stroke-width=".4"/><path d="M126.1 93.1L130.3 94.8L138 90L133.7 88.1z" fill="none" stroke="#000" stroke-width="1" stroke-linejoin="round"/><path d="M229.9 108.5L230.5 108.4L229.2 107.3zM230.4 109.5L236.6 113.6L230.5 108.4L229.9 108.5zM236.6 113.6L231.8 108.3L230.5 108.4zM231.8 108.3L228.2 106L229.2 107.3L230.5 108.4z" fill="#bf0000" stroke="#bf0000" stroke-width=".4"/><path d="M224.4 103.6L229.2 108.7L229.9 108.5L229.2 107.3zM229.2 108.7L230.4 109.5L229.9 108.5zM228.2 106L224.4 103.6L229.2 107.3z" fill="#ad0000" stroke="#ad0000" stroke-width=".4"/><path d="M224.4 103.6L229.2 108.7L236.6 113.6L231.8 108.3z" fill="none" stroke="#000" stroke-width="1" stroke-linejoin="round"/><path d="M325.8 236.8L325.9 237L325.8 236.8zM325.9 237L325.8 236.7L325.8 236.8z" fill="#1e7850" stroke="#1e7850" stroke-width=".4"/><path d="M322.2 230.8L325.8 236.8L325.8 236.8L321.7 229.2zM325.8 236.7L321 227.1L320.8 226.9L321.7 229.2L325.8 236.8zM321 227.1L320.6 226.4L320.8 226.9z" fill="#178642" stroke="#178642" stroke-width=".4"/><path d="M318.4 224.2L319 225.4L320 226.1L317.4 221.6zM319 225.4L322.2 230.8L321.7 229.2L320 226.1zM320.8 226.9L320 226.1L321.7 229.2zM320.6 226.4L316.9 220.4L317.4 221.6L320 226.1L320.8 226.9z" fill="#129b36" stroke="#129b36" stroke-width=".4"/><path d="M314 215.6L318.4 224.2L317.4 221.6zM316.9 220.4L314 215.6L317.4 221.6z" fill="#0fb62c" stroke="#0fb62c" stroke-width=".4"/><path d="M314 215.6L319 225.4L325.9 237L321 227.1z" fill="none" stroke="#000" stroke-width="1" stroke-linejoin="round"/><path d="M153.3 83.1L157.7 85.5L165.3 83.6L160.9 81z" fill="#8b0000" stroke="#000" stroke-width="1" stroke-linejoin="round"/><path d="M282.2 165.7L285.1 169.2L281.7 164.6zM285.1 169.2L280.4 161.9L281.7 164.6z" fill="#f7f41d" stroke="#f7f41d" stroke-width=".4"/><path d="M276.8 158.7L277.9 160.5L279.1 160.9L275.8 156.6zM277.9 160.5L282.2 165.7L281.7 164.6L279.1 160.9zM280.4 161.9L280.2 161.6L279.1 160.9L281.7 164.6zM280.2 161.6L275.3 155.8L275.8 156.6L279.1 160.9z" fill="#fdd01a" stroke="#fdd01a" stroke-width=".4"/><path d="M273 153L276.8 158.7L275.8 156.6zM275.3 155.8L273 153L275.8 156.6z" fill="#ff9716" stroke="#ff9716" stroke-width=".4"/><path d="M273 153L277.9 160.5L285.1 169.2L280.2 161.6z" fill="none" stroke="#000" stroke-width="1" stroke-linejoin="round"/><path d="M203.6 92.1L204.8 92.4L203.4 91.7zM204.8 92.4L202.4 90.3L203.4 91.7z" fill="#9b0000" stroke="#9b0000" stroke-width=".4"/><path d="M192.6 86.6L197.2 90.4L198.7 89.3zM197.2 90.4L203.6 92.1L203.4 91.7L198.7 89.3zM202.4 90.3L200.1 88.4L198.7 89.3L203.4 91.7zM200.1 88.4L192.6 86.6L198.7 89.3z" fill="#8b0000" stroke="#8b0000" stroke-width=".4"/><path d="M192.6 86.6L197.2 90.4L204.8 92.4L200.1 88.4z" fill="none" stroke="#000" stroke-width="1" stroke-linejoin="round"/><path d="M248 124.5L248.8 125.1L247.9 124.3zM248.8 125.1L247.5 123.5L247.9 124.3z" fill="#ea0909" stroke="#ea0909" stroke-width=".4"/><path d="M240.2 117.8L241.4 119.3L242.7 119.1L239.1 115.9zM241.4 119.3L248 124.5L247.9 124.3L242.7 119.1zM247.5 123.5L244 119.3L242.7 119.1L247.9 124.3zM244 119.3L238.6 115.1L239.1 115.9L242.7 119.1z" fill="#d30303" stroke="#d30303" stroke-width=".4"/><path d="M236.6 113.6L240.2 117.8L239.1 115.9zM238.6 115.1L236.6 113.6L239.1 115.9z" fill="#bf0000" stroke="#bf0000" stroke-width=".4"/><path d="M236.6 113.6L241.4 119.3L248.8 125.1L244 119.3z" fill="none" stroke="#000" stroke-width="1" stroke-linejoin="round"/><path d="M118.5 98.9L122.7 100.6L122.8 100.3L121.3 97.8zM122.7 100.6L122.9 100.4L122.8 100.3zM120.9 97L118.5 98.9L121.3 97.8z" fill="#ad0000" stroke="#ad0000" stroke-width=".4"/><path d="M122.8 100.3L124.4 96.7L121.3 97.8zM122.9 100.4L130.3 94.8L124.4 96.7L122.8 100.3zM130.3 94.8L126.1 93.1L124.4 96.7zM126.1 93.1L120.9 97L121.3 97.8L124.4 96.7z" fill="#9b0000" stroke="#9b0000" stroke-width=".4"/><path d="M118.5 98.9L122.7 100.6L130.3 94.8L126.1 93.1z" fill="none" stroke="#000" stroke-width="1" stroke-linejoin="round"/><path d="M270 149.8L273 153L269.6 148.7zM273 153L268.2 146L269.6 148.7z" fill="#ff9716" stroke="#ff9716" stroke-width=".4"/><path d="M263.6 142.1L265.8 145.2L267 145.4L262.9 140.6zM265.8 145.2L270 149.8L269.6 148.7L267 145.4zM268.2 146L268.2 145.9L267 145.4L269.6 148.7zM268.2 145.9L262.5 140L262.9 140.6L267 145.4z" fill="#ff5713" stroke="#ff5713" stroke-width=".4"/><path d="M260.9 138.3L263.6 142.1L262.9 140.6zM262.5 140L260.9 138.3L262.9 140.6z" fill="#ff1910" stroke="#ff1910" stroke-width=".4"/><path d="M260.9 138.3L265.8 145.2L273 153L268.2 145.9z" fill="none" stroke="#000" stroke-width="1" stroke-linejoin="round"/><path d="M172.9 82.5L177.4 85.7L185 85.7L180.5 82.4z" fill="#8b0000" stroke="#000" stroke-width="1" stroke-linejoin="round"/><path d="M256.4 134.1L260.9 138.3L255.7 132.5zM260.9 138.3L256.1 131.8L255.2 131.6L255.7 132.5zM256.1 131.8L254.5 130.4L255.2 131.6z" fill="#ff1910" stroke="#ff1910" stroke-width=".4"/><path d="M248.8 125.1L253.6 131.5L254.8 131.5zM253.6 131.5L256.4 134.1L255.7 132.5L254.8 131.5zM255.2 131.6L254.8 131.5L255.7 132.5zM254.5 130.4L248.8 125.1L254.8 131.5L255.2 131.6z" fill="#ea0909" stroke="#ea0909" stroke-width=".4"/><path d="M248.8 125.1L253.6 131.5L260.9 138.3L256.1 131.8z" fill="none" stroke="#000" stroke-width="1" stroke-linejoin="round"/><path d="M110.8 105.7L111.1 105.8L111 105.6zM111 105.6L110.8 105.7L111 105.6z" fill="#bf0000" stroke="#bf0000" stroke-width=".4"/><path d="M111.1 105.8L115 107.3L116.7 103L111 105.6zM115 107.3L122.7 100.6L116.7 103zM122.7 100.6L118.5 98.9L116.7 103zM118.5 98.9L111 105.6L111 105.6L116.7 103z" fill="#ad0000" stroke="#ad0000" stroke-width=".4"/><path d="M110.8 105.7L115 107.3L122.7 100.6L118.5 98.9z" fill="none" stroke="#000" stroke-width="1" stroke-linejoin="round"/><path d="M313.2 214.3L314 215.6L313.1 214zM314 215.6L312.8 213.2L313.1 214z" fill="#0fb62c" stroke="#0fb62c" stroke-width=".4"/><path d="M309.2 208.3L313.2 214.3L313.1 214L308.5 206.3zM312.8 213.2L309.1 206.3L308.3 205.7L308.5 206.3L313.1 214zM309.1 206.3L307.6 204L308.3 205.7z" fill="#0fd026" stroke="#0fd026" stroke-width=".4"/><path d="M304.3 199.8L307 204.9L308.1 205.5L303.8 198.6zM307 204.9L309.2 208.3L308.5 206.3L308.1 205.5zM308.3 205.7L308.1 205.5L308.5 206.3zM307.6 204L303.5 198L303.8 198.6L308.1 205.5L308.3 205.7z" fill="#1ce71f" stroke="#1ce71f" stroke-width=".4"/><path d="M302.1 195.7L304.3 199.8L303.8 198.6zM303.5 198L302.1 195.7L303.8 198.6z" fill="#3cfa1a" stroke="#3cfa1a" stroke-width=".4"/><path d="M302.1 195.7L307 204.9L314 215.6L309.1 206.3z" fill="none" stroke="#000" stroke-width="1" stroke-linejoin="round"/><path d="M145.6 86L150 88.4L157.7 85.5L153.3 83.1z" fill="#8b0000" stroke="#000" stroke-width="1" stroke-linejoin="round"/><path d="M204.8 92.4L209.4 96.8L216.9 99.7L212.3 95.2z" fill="#9b0000" stroke="#000" stroke-width="1" stroke-linejoin="round"/><path d="M103.2 113.4L107.4 114.9L109.1 110.2zM107.4 114.9L113.3 109L112.8 108.4L109.1 110.2zM111.1 105.8L110.8 105.7L109.1 110.2L112.8 108.4zM110.8 105.7L103.2 113.4L109.1 110.2z" fill="#bf0000" stroke="#bf0000" stroke-width=".4"/><path d="M113.3 109L115 107.3L112.8 108.4zM115 107.3L111.1 105.8L112.8 108.4z" fill="#ad0000" stroke="#ad0000" stroke-width=".4"/><path d="M103.2 113.4L107.4 114.9L115 107.3L110.8 105.7z" fill="none" stroke="#000" stroke-width="1" stroke-linejoin="round"/><path d="M73 153.3L77 154.5L78.7 148.1zM77 154.5L80.4 149.5L79.1 147.8L78.7 148.1zM78.9 147.5L78.7 148.1L79.1 147.8zM77.9 145.9L73 153.3L78.7 148.1L78.9 147.5z" fill="#ff9716" stroke="#ff9716" stroke-width=".4"/><path d="M80.4 149.5L84.5 143.3L79.1 147.8zM84.5 143.3L80.5 142L78.9 147.5L79.1 147.8zM80.5 142L77.9 145.9L78.9 147.5z" fill="#ff5713" stroke="#ff5713" stroke-width=".4"/><path d="M73 153.3L77 154.5L84.5 143.3L80.5 142z" fill="none" stroke="#000" stroke-width="1" stroke-linejoin="round"/><path d="M95.6 122L99.8 123.4L101.5 118.3zM99.8 123.4L105.2 117.3L104.6 116.5L101.5 118.3zM103 114.2L101.5 118.3L104.6 116.5zM102.8 113.9L95.6 122L101.5 118.3L103 114.2z" fill="#d30303" stroke="#d30303" stroke-width=".4"/><path d="M105.2 117.3L107.4 114.9L104.6 116.5zM107.4 114.9L103.2 113.4L103 114.2L104.6 116.5zM103.2 113.4L102.8 113.9L103 114.2z" fill="#bf0000" stroke="#bf0000" stroke-width=".4"/><path d="M95.6 122L99.8 123.4L107.4 114.9L103.2 113.4z" fill="none" stroke="#000" stroke-width="1" stroke-linejoin="round"/><path d="M80.5 142L84.5 143.3L85.2 140.8L84 139.1zM84.5 143.3L85.8 141.6L85.2 140.8zM83.4 138L80.5 142L84 139.1z" fill="#ff5713" stroke="#ff5713" stroke-width=".4"/><path d="M85.2 140.8L86.3 137.3L84 139.1zM85.8 141.6L91.6 133.6L91.5 133.4L86.3 137.3L85.2 140.8zM90.8 132.5L88.1 131.6L86.3 137.3L91.5 133.4zM88.1 131.6L83.4 138L84 139.1L86.3 137.3z" fill="#ff1910" stroke="#ff1910" stroke-width=".4"/><path d="M91.6 133.6L92.1 132.9L91.5 133.4zM92.1 132.9L90.8 132.5L91.5 133.4z" fill="#ea0909" stroke="#ea0909" stroke-width=".4"/><path d="M80.5 142L84.5 143.3L92.1 132.9L88.1 131.6z" fill="none" stroke="#000" stroke-width="1" stroke-linejoin="round"/><path d="M88.1 131.6L90.8 132.5L89.5 130.5zM89.2 130.1L88.1 131.6L89.5 130.5z" fill="#ff1910" stroke="#ff1910" stroke-width=".4"/><path d="M90.8 132.5L92.1 132.9L93.9 127.3L89.5 130.5zM92.1 132.9L98.1 125.5L97.6 124.9L93.9 127.3zM95.6 122.1L93.9 127.3L97.6 124.9zM95.6 122L89.2 130.1L89.5 130.5L93.9 127.3L95.6 122.1z" fill="#ea0909" stroke="#ea0909" stroke-width=".4"/><path d="M98.1 125.5L99.8 123.4L97.6 124.9zM99.8 123.4L95.6 122L95.6 122.1L97.6 124.9zM95.6 122L95.6 122L95.6 122.1z" fill="#d30303" stroke="#d30303" stroke-width=".4"/><path d="M88.1 131.6L92.1 132.9L99.8 123.4L95.6 122z" fill="none" stroke="#000" stroke-width="1" stroke-linejoin="round"/><path d="M165.3 83.6L169.8 86.6L177.4 85.7L172.9 82.5z" fill="#8b0000" stroke="#000" stroke-width="1" stroke-linejoin="round"/><path d="M185 85.7L189.6 89.4L197.2 90.4L192.6 86.6z" fill="#8b0000" stroke="#000" stroke-width="1" stroke-linejoin="round"/><path d="M299.3 191.9L302.1 195.7L298.9 190.8zM302.1 195.7L297.9 188.5L298.9 190.8z" fill="#3cfa1a" stroke="#3cfa1a" stroke-width=".4"/><path d="M294.8 185.8L295 186L296 186.4L293.8 183zM295 186L299.3 191.9L298.9 190.8L296 186.4zM297.9 188.5L297.1 187L296 186.4L298.9 190.8zM297.1 187L293.2 181.8L293.8 183L296 186.4z" fill="#9cfa21" stroke="#9cfa21" stroke-width=".4"/><path d="M290 177.4L294.8 185.8L293.8 183zM293.2 181.8L290 177.4L293.8 183z" fill="#d5fb21" stroke="#d5fb21" stroke-width=".4"/><path d="M290 177.4L295 186L302.1 195.7L297.1 187z" fill="none" stroke="#000" stroke-width="1" stroke-linejoin="round"/><path d="M219.5 102.5L221.7 104.7L223 104L218.9 101.1zM221.7 104.7L229.2 108.7L223 104zM229.2 108.7L224.4 103.6L223 104zM224.4 103.6L218.5 100.5L218.9 101.1L223 104z" fill="#ad0000" stroke="#ad0000" stroke-width=".4"/><path d="M216.9 99.7L219.5 102.5L218.9 101.1zM218.5 100.5L216.9 99.7L218.9 101.1z" fill="#9b0000" stroke="#9b0000" stroke-width=".4"/><path d="M216.9 99.7L221.7 104.7L229.2 108.7L224.4 103.6z" fill="none" stroke="#000" stroke-width="1" stroke-linejoin="round"/><path d="M327.4 241.3L330.9 247.3L326.9 239.8zM330.9 247.3L325.9 237L325.9 236.9L326.9 239.8zM325.9 237L325.8 236.8L325.9 236.9z" fill="#1e7850" stroke="#1e7850" stroke-width=".4"/><path d="M323.6 234.9L324 235.7L325 236.2L322.8 232.2zM324 235.7L327.4 241.3L326.9 239.8L325 236.2zM325.9 236.9L325 236.2L326.9 239.8zM325.8 236.8L322.2 230.8L322.8 232.2L325 236.2L325.9 236.9z" fill="#178642" stroke="#178642" stroke-width=".4"/><path d="M319 225.4L323.6 234.9L322.8 232.2zM322.2 230.8L319 225.4L322.8 232.2z" fill="#129b36" stroke="#129b36" stroke-width=".4"/><path d="M319 225.4L324 235.7L330.9 247.3L325.9 237z" fill="none" stroke="#000" stroke-width="1" stroke-linejoin="round"/><path d="M138 90L142.3 92.3L150 88.4L145.6 86z" fill="#8b0000" stroke="#000" stroke-width="1" stroke-linejoin="round"/><path d="M288.7 175.7L290 177.4L288.5 175.2zM290 177.4L288 174.1L288.5 175.2z" fill="#d5fb21" stroke="#d5fb21" stroke-width=".4"/><path d="M283.4 168.6L284 168.7L282.9 167.3zM283.8 169.7L288.7 175.7L288.5 175.2L284 168.7L283.4 168.6zM288 174.1L285.1 169.2L284 168.7L288.5 175.2zM285.1 169.2L282.2 165.7L282.9 167.3L284 168.7z" fill="#f7f41d" stroke="#f7f41d" stroke-width=".4"/><path d="M277.9 160.5L282.8 168.5L283.4 168.6L282.9 167.3zM282.8 168.5L283.8 169.7L283.4 168.6zM282.2 165.7L277.9 160.5L282.9 167.3z" fill="#fdd01a" stroke="#fdd01a" stroke-width=".4"/><path d="M277.9 160.5L282.8 168.5L290 177.4L285.1 169.2z" fill="none" stroke="#000" stroke-width="1" stroke-linejoin="round"/><path d="M240.6 118.8L241.4 119.3L240.5 118.5zM241.4 119.3L240.2 117.8L240.5 118.5z" fill="#d30303" stroke="#d30303" stroke-width=".4"/><path d="M231.1 111L233.9 114.3L235.3 113.8L230.6 109.9zM233.9 114.3L240.6 118.8L240.5 118.5L235.3 113.8zM240.2 117.8L236.6 113.6L235.3 113.8L240.5 118.5zM236.6 113.6L230.4 109.5L230.6 109.9L235.3 113.8z" fill="#bf0000" stroke="#bf0000" stroke-width=".4"/><path d="M229.2 108.7L231.1 111L230.6 109.9zM230.4 109.5L229.2 108.7L230.6 109.9z" fill="#ad0000" stroke="#ad0000" stroke-width=".4"/><path d="M229.2 108.7L233.9 114.3L241.4 119.3L236.6 113.6z" fill="none" stroke="#000" stroke-width="1" stroke-linejoin="round"/><path d="M277.1 159.7L277.9 160.5L277 159.4zM277.9 160.5L276.8 158.7L277 159.4z" fill="#fdd01a" stroke="#fdd01a" stroke-width=".4"/><path d="M271.3 152.6L271.8 152.7L270.8 151.4zM271.6 153.7L277.1 159.7L277 159.4L271.8 152.7L271.3 152.6zM276.8 158.7L273 153L271.8 152.7L277 159.4zM273 153L270 149.8L270.8 151.4L271.8 152.7z" fill="#ff9716" stroke="#ff9716" stroke-width=".4"/><path d="M265.8 145.2L270.6 152.6L271.3 152.6L270.8 151.4zM270.6 152.6L271.6 153.7L271.3 152.6zM270 149.8L265.8 145.2L270.8 151.4z" fill="#ff5713" stroke="#ff5713" stroke-width=".4"/><path d="M265.8 145.2L270.6 152.6L277.9 160.5L273 153z" fill="none" stroke="#000" stroke-width="1" stroke-linejoin="round"/><path d="M130.3 94.8L134.7 97L136.3 93.3zM134.7 97L138.4 94.7L136.9 93.2L136.3 93.3zM136.6 92.9L136.3 93.3L136.9 93.2zM135.7 91.4L130.3 94.8L136.3 93.3L136.6 92.9z" fill="#9b0000" stroke="#9b0000" stroke-width=".4"/><path d="M138.4 94.7L142.3 92.3L136.9 93.2zM142.3 92.3L138 90L136.6 92.9L136.9 93.2zM138 90L135.7 91.4L136.6 92.9z" fill="#8b0000" stroke="#8b0000" stroke-width=".4"/><path d="M130.3 94.8L134.7 97L142.3 92.3L138 90z" fill="none" stroke="#000" stroke-width="1" stroke-linejoin="round"/><path d="M249.6 128.3L253.6 131.5L249.1 126.9zM253.6 131.5L248.8 125.1L248.3 125.1L249.1 126.9zM248.8 125.1L248 124.5L248.3 125.1z" fill="#ea0909" stroke="#ea0909" stroke-width=".4"/><path d="M241.4 119.3L246.2 125.5L247.5 125.2zM246.2 125.5L249.6 128.3L249.1 126.9L247.5 125.2zM248.3 125.1L247.5 125.2L249.1 126.9zM248 124.5L241.4 119.3L247.5 125.2L248.3 125.1z" fill="#d30303" stroke="#d30303" stroke-width=".4"/><path d="M241.4 119.3L246.2 125.5L253.6 131.5L248.8 125.1z" fill="none" stroke="#000" stroke-width="1" stroke-linejoin="round"/><path d="M264.3 143.8L265.8 145.2L264.1 143.3zM265.8 145.2L263.6 142.1L264.1 143.3z" fill="#ff5713" stroke="#ff5713" stroke-width=".4"/><path d="M257.9 137.5L258.4 138.3L259.7 138.1L256.9 135.1zM258.4 138.3L264.3 143.8L264.1 143.3L259.7 138.1zM263.6 142.1L260.9 138.3L259.7 138.1L264.1 143.3zM260.9 138.3L256.4 134.1L256.9 135.1L259.7 138.1z" fill="#ff1910" stroke="#ff1910" stroke-width=".4"/><path d="M253.6 131.5L257.9 137.5L256.9 135.1zM256.4 134.1L253.6 131.5L256.9 135.1z" fill="#ea0909" stroke="#ea0909" stroke-width=".4"/><path d="M253.6 131.5L258.4 138.3L265.8 145.2L260.9 138.3z" fill="none" stroke="#000" stroke-width="1" stroke-linejoin="round"/><path d="M205.1 95.6L209.4 96.8L204.8 94.2zM209.4 96.8L204.8 92.4L204.1 92.8L204.8 94.2zM204.8 92.4L203.6 92.1L204.1 92.8z" fill="#9b0000" stroke="#9b0000" stroke-width=".4"/><path d="M197.2 90.4L201.8 94.7L203.3 93.4zM201.8 94.7L205.1 95.6L204.8 94.2L203.3 93.4zM204.1 92.8L203.3 93.4L204.8 94.2zM203.6 92.1L197.2 90.4L203.3 93.4L204.1 92.8z" fill="#8b0000" stroke="#8b0000" stroke-width=".4"/><path d="M197.2 90.4L201.8 94.7L209.4 96.8L204.8 92.4z" fill="none" stroke="#000" stroke-width="1" stroke-linejoin="round"/><path d="M157.7 85.5L162.1 88.5L169.8 86.6L165.3 83.6z" fill="#8b0000" stroke="#000" stroke-width="1" stroke-linejoin="round"/><path d="M318.6 224.7L319 225.4L318.5 224.5zM319 225.4L318.4 224.2L318.5 224.5z" fill="#129b36" stroke="#129b36" stroke-width=".4"/><path d="M314.6 218.7L318.6 224.7L318.5 224.5L314.1 216.9zM318.4 224.2L314 215.6L313.6 215.3L314.1 216.9L318.5 224.5zM314 215.6L313.2 214.3L313.6 215.3z" fill="#0fb62c" stroke="#0fb62c" stroke-width=".4"/><path d="M310.1 210.9L312 214.6L313 215L309.6 209.2zM312 214.6L314.6 218.7L314.1 216.9L313 215zM313.6 215.3L313 215L314.1 216.9zM313.2 214.3L309.2 208.3L309.6 209.2L313 215L313.6 215.3z" fill="#0fd026" stroke="#0fd026" stroke-width=".4"/><path d="M307 204.9L310.1 210.9L309.6 209.2zM309.2 208.3L307 204.9L309.6 209.2z" fill="#1ce71f" stroke="#1ce71f" stroke-width=".4"/><path d="M307 204.9L312 214.6L319 225.4L314 215.6z" fill="none" stroke="#000" stroke-width="1" stroke-linejoin="round"/><path d="M177.4 85.7L182 89.3L189.6 89.4L185 85.7z" fill="#8b0000" stroke="#000" stroke-width="1" stroke-linejoin="round"/><path d="M122.7 100.6L123.2 100.8L122.9 100.5zM122.9 100.4L122.7 100.6L122.9 100.5z" fill="#ad0000" stroke="#ad0000" stroke-width=".4"/><path d="M123.2 100.8L127 102.7L128.7 98.6L122.9 100.5zM127 102.7L134.7 97L128.7 98.6zM134.7 97L130.3 94.8L128.7 98.6zM130.3 94.8L122.9 100.4L122.9 100.5L128.7 98.6z" fill="#9b0000" stroke="#9b0000" stroke-width=".4"/><path d="M122.7 100.6L127 102.7L134.7 97L130.3 94.8z" fill="none" stroke="#000" stroke-width="1" stroke-linejoin="round"/><path d="M220.1 104.1L221.7 104.7L220 103.6zM221.7 104.7L219.5 102.5L220 103.6z" fill="#ad0000" stroke="#ad0000" stroke-width=".4"/><path d="M209.4 96.8L214.1 101.7L215.5 100.6zM214.1 101.7L220.1 104.1L220 103.6L215.5 100.6zM219.5 102.5L216.9 99.7L215.5 100.6L220 103.6zM216.9 99.7L209.4 96.8L215.5 100.6z" fill="#9b0000" stroke="#9b0000" stroke-width=".4"/><path d="M209.4 96.8L214.1 101.7L221.7 104.7L216.9 99.7z" fill="none" stroke="#000" stroke-width="1" stroke-linejoin="round"/><path d="M305.1 202.2L307 204.9L304.8 201.4zM307 204.9L304.3 199.8L304.8 201.4z" fill="#1ce71f" stroke="#1ce71f" stroke-width=".4"/><path d="M300.4 195.1L301 195.3L300 193.6zM300.7 196.1L305.1 202.2L304.8 201.4L301 195.3L300.4 195.1zM304.3 199.8L302.1 195.7L301 195.3L304.8 201.4zM302.1 195.7L299.3 191.9L300 193.6L301 195.3z" fill="#3cfa1a" stroke="#3cfa1a" stroke-width=".4"/><path d="M295 186L299.9 195L300.4 195.1L300 193.6zM299.9 195L300.7 196.1L300.4 195.1zM299.3 191.9L295 186L300 193.6z" fill="#9cfa21" stroke="#9cfa21" stroke-width=".4"/><path d="M295 186L299.9 195L307 204.9L302.1 195.7z" fill="none" stroke="#000" stroke-width="1" stroke-linejoin="round"/><path d="M115 107.3L119.3 109.3L121 104.8zM119.3 109.3L125.7 103.8L125.2 103.3L121 104.8zM123.2 100.8L122.7 100.6L121 104.8L125.2 103.3zM122.7 100.6L115 107.3L121 104.8z" fill="#ad0000" stroke="#ad0000" stroke-width=".4"/><path d="M125.7 103.8L127 102.7L125.2 103.3zM127 102.7L123.2 100.8L125.2 103.3z" fill="#9b0000" stroke="#9b0000" stroke-width=".4"/><path d="M115 107.3L119.3 109.3L127 102.7L122.7 100.6z" fill="none" stroke="#000" stroke-width="1" stroke-linejoin="round"/><path d="M150 88.4L154.4 91.3L162.1 88.5L157.7 85.5z" fill="#8b0000" stroke="#000" stroke-width="1" stroke-linejoin="round"/><path d="M107.4 114.9L111.6 116.8L113.3 111.9zM111.6 116.8L116.2 112.3L115 111.2L113.3 111.9zM114 110L113.3 111.9L115 111.2zM113.3 109L107.4 114.9L113.3 111.9L114 110z" fill="#bf0000" stroke="#bf0000" stroke-width=".4"/><path d="M116.2 112.3L119.3 109.3L115 111.2zM119.3 109.3L115 107.3L114 110L115 111.2zM115 107.3L113.3 109L114 110z" fill="#ad0000" stroke="#ad0000" stroke-width=".4"/><path d="M107.4 114.9L111.6 116.8L119.3 109.3L115 107.3z" fill="none" stroke="#000" stroke-width="1" stroke-linejoin="round"/><path d="M231.8 113.2L233.9 114.3L231.7 112.5zM233.9 114.3L231.1 111L231.7 112.5z" fill="#bf0000" stroke="#bf0000" stroke-width=".4"/><path d="M221.7 104.7L226.4 110.2L227.8 109.3zM226.4 110.2L231.8 113.2L231.7 112.5L227.8 109.3zM231.1 111L229.2 108.7L227.8 109.3L231.7 112.5zM229.2 108.7L221.7 104.7L227.8 109.3z" fill="#ad0000" stroke="#ad0000" stroke-width=".4"/><path d="M221.7 104.7L226.4 110.2L233.9 114.3L229.2 108.7z" fill="none" stroke="#000" stroke-width="1" stroke-linejoin="round"/><path d="M189.6 89.4L194.2 93.6L201.8 94.7L197.2 90.4z" fill="#8b0000" stroke="#000" stroke-width="1" stroke-linejoin="round"/><path d="M294.9 185.9L295 186L294.9 185.8zM295 186L294.8 185.8L294.9 185.8z" fill="#9cfa21" stroke="#9cfa21" stroke-width=".4"/><path d="M290 179.8L294.9 185.9L294.9 185.8L289.5 178zM294.8 185.8L290 177.4L289.2 177.1L289.5 178L294.9 185.8zM290 177.4L288.7 175.7L289.2 177.1z" fill="#d5fb21" stroke="#d5fb21" stroke-width=".4"/><path d="M284.2 170.8L287.8 177L288.9 177L283.9 170.1zM287.8 177L290 179.8L289.5 178L288.9 177zM289.2 177.1L288.9 177L289.5 178zM288.7 175.7L283.8 169.7L283.9 170.1L288.9 177L289.2 177.1z" fill="#f7f41d" stroke="#f7f41d" stroke-width=".4"/><path d="M282.8 168.5L284.2 170.8L283.9 170.1zM283.8 169.7L282.8 168.5L283.9 170.1z" fill="#fdd01a" stroke="#fdd01a" stroke-width=".4"/><path d="M282.8 168.5L287.8 177L295 186L290 177.4z" fill="none" stroke="#000" stroke-width="1" stroke-linejoin="round"/><path d="M169.8 86.6L174.3 90.1L182 89.3L177.4 85.7z" fill="#8b0000" stroke="#000" stroke-width="1" stroke-linejoin="round"/><path d="M99.8 123.4L103.9 125.3L105.7 119.9zM103.9 125.3L108.1 120.7L106.8 119.4L105.7 119.9zM106.1 118.6L105.7 119.9L106.8 119.4zM105.2 117.3L99.8 123.4L105.7 119.9L106.1 118.6z" fill="#d30303" stroke="#d30303" stroke-width=".4"/><path d="M108.1 120.7L111.6 116.8L106.8 119.4zM111.6 116.8L107.4 114.9L106.1 118.6L106.8 119.4zM107.4 114.9L105.2 117.3L106.1 118.6z" fill="#bf0000" stroke="#bf0000" stroke-width=".4"/><path d="M99.8 123.4L103.9 125.3L111.6 116.8L107.4 114.9z" fill="none" stroke="#000" stroke-width="1" stroke-linejoin="round"/><path d="M77 154.5L81 156.2L82.2 151.8L81.3 150.8zM81 156.2L83.2 153L82.2 151.8zM80.4 149.5L77 154.5L81.3 150.8z" fill="#ff9716" stroke="#ff9716" stroke-width=".4"/><path d="M82.2 151.8L82.8 149.6L81.3 150.8zM83.2 153L88.6 145.1L88.5 145L82.8 149.6L82.2 151.8zM88.4 144.9L84.5 143.3L82.8 149.6L88.5 145zM84.5 143.3L80.4 149.5L81.3 150.8L82.8 149.6z" fill="#ff5713" stroke="#ff5713" stroke-width=".4"/><path d="M88.6 145.1L88.6 145L88.5 145zM88.6 145L88.4 144.9L88.5 145z" fill="#ff1910" stroke="#ff1910" stroke-width=".4"/><path d="M77 154.5L81 156.2L88.6 145L84.5 143.3z" fill="none" stroke="#000" stroke-width="1" stroke-linejoin="round"/><path d="M92.1 132.9L96.3 134.7L98 128.9zM96.3 134.7L101 128.9L99.9 127.8L98 128.9zM98.8 126.5L98 128.9L99.9 127.8zM98.1 125.5L92.1 132.9L98 128.9L98.8 126.5z" fill="#ea0909" stroke="#ea0909" stroke-width=".4"/><path d="M101 128.9L103.9 125.3L99.9 127.8zM103.9 125.3L99.8 123.4L98.8 126.5L99.9 127.8zM99.8 123.4L98.1 125.5L98.8 126.5z" fill="#d30303" stroke="#d30303" stroke-width=".4"/><path d="M92.1 132.9L96.3 134.7L103.9 125.3L99.8 123.4z" fill="none" stroke="#000" stroke-width="1" stroke-linejoin="round"/><path d="M84.5 143.3L88.4 144.9L86.1 142zM85.8 141.6L84.5 143.3L86.1 142z" fill="#ff5713" stroke="#ff5713" stroke-width=".4"/><path d="M88.4 144.9L88.6 145L90.4 138.8L86.1 142zM88.6 145L94.5 137L93.9 136.3L90.4 138.8zM91.8 133.9L90.4 138.8L93.9 136.3zM91.6 133.6L85.8 141.6L86.1 142L90.4 138.8L91.8 133.9z" fill="#ff1910" stroke="#ff1910" stroke-width=".4"/><path d="M94.5 137L96.3 134.7L93.9 136.3zM96.3 134.7L92.1 132.9L91.8 133.9L93.9 136.3zM92.1 132.9L91.6 133.6L91.8 133.9z" fill="#ea0909" stroke="#ea0909" stroke-width=".4"/><path d="M84.5 143.3L88.6 145L96.3 134.7L92.1 132.9z" fill="none" stroke="#000" stroke-width="1" stroke-linejoin="round"/><path d="M142.3 92.3L146.7 95L154.4 91.3L150 88.4z" fill="#8b0000" stroke="#000" stroke-width="1" stroke-linejoin="round"/><path d="M241.8 122.5L246.2 125.5L241.5 121.1zM246.2 125.5L241.4 119.3L240.9 119.4L241.5 121.1zM241.4 119.3L240.6 118.8L240.9 119.4z" fill="#d30303" stroke="#d30303" stroke-width=".4"/><path d="M233.9 114.3L238.7 120.4L240 119.7zM238.7 120.4L241.8 122.5L241.5 121.1L240 119.7zM240.9 119.4L240 119.7L241.5 121.1zM240.6 118.8L233.9 114.3L240 119.7L240.9 119.4z" fill="#bf0000" stroke="#bf0000" stroke-width=".4"/><path d="M233.9 114.3L238.7 120.4L246.2 125.5L241.4 119.3z" fill="none" stroke="#000" stroke-width="1" stroke-linejoin="round"/><path d="M278.5 163.7L282.8 168.5L278 162.1zM282.8 168.5L277.9 160.5L277.4 160.5L278 162.1zM277.9 160.5L277.1 159.7L277.4 160.5z" fill="#fdd01a" stroke="#fdd01a" stroke-width=".4"/><path d="M272 154.8L275.6 160.5L276.7 160.4L271.8 154.1zM275.6 160.5L278.5 163.7L278 162.1L276.7 160.4zM277.4 160.5L276.7 160.4L278 162.1zM277.1 159.7L271.6 153.7L271.8 154.1L276.7 160.4L277.4 160.5z" fill="#ff9716" stroke="#ff9716" stroke-width=".4"/><path d="M270.6 152.6L272 154.8L271.8 154.1zM271.6 153.7L270.6 152.6L271.8 154.1z" fill="#ff5713" stroke="#ff5713" stroke-width=".4"/><path d="M270.6 152.6L275.6 160.5L282.8 168.5L277.9 160.5z" fill="none" stroke="#000" stroke-width="1" stroke-linejoin="round"/><path d="M323.7 235.2L324 235.7L323.7 235.1zM324 235.7L323.6 234.9L323.7 235.1z" fill="#178642" stroke="#178642" stroke-width=".4"/><path d="M319.9 229.2L323.7 235.2L323.7 235.1L319.4 227.4zM323.6 234.9L319 225.4L318.8 225.3L319.4 227.4L323.7 235.1zM319 225.4L318.6 224.7L318.8 225.3z" fill="#129b36" stroke="#129b36" stroke-width=".4"/><path d="M315.6 221.8L317 224.8L318 224.9L315 219.7zM317 224.8L319.9 229.2L319.4 227.4L318 224.9zM318.8 225.3L318 224.9L319.4 227.4zM318.6 224.7L314.6 218.7L315 219.7L318 224.9L318.8 225.3z" fill="#0fb62c" stroke="#0fb62c" stroke-width=".4"/><path d="M312 214.6L315.6 221.8L315 219.7zM314.6 218.7L312 214.6L315 219.7z" fill="#0fd026" stroke="#0fd026" stroke-width=".4"/><path d="M312 214.6L317 224.8L324 235.7L319 225.4z" fill="none" stroke="#000" stroke-width="1" stroke-linejoin="round"/><path d="M258 137.9L258.4 138.3L258 137.8zM258.4 138.3L257.9 137.5L258 137.8z" fill="#ff1910" stroke="#ff1910" stroke-width=".4"/><path d="M250.9 132L251 132.2L252.3 131.7L250.1 129.5zM251 132.2L258 137.9L258 137.8L252.3 131.7zM257.9 137.5L253.6 131.5L252.3 131.7L258 137.8zM253.6 131.5L249.6 128.3L250.1 129.5L252.3 131.7z" fill="#ea0909" stroke="#ea0909" stroke-width=".4"/><path d="M246.2 125.5L250.9 132L250.1 129.5zM249.6 128.3L246.2 125.5L250.1 129.5z" fill="#d30303" stroke="#d30303" stroke-width=".4"/><path d="M246.2 125.5L251 132.2L258.4 138.3L253.6 131.5z" fill="none" stroke="#000" stroke-width="1" stroke-linejoin="round"/><path d="M265.6 147.8L270.6 152.6L265.1 146zM270.6 152.6L265.8 145.2L264.9 145.2L265.1 146zM265.8 145.2L264.3 143.8L264.9 145.2z" fill="#ff5713" stroke="#ff5713" stroke-width=".4"/><path d="M258.4 138.3L263.3 145.5L264.5 145.2zM263.3 145.5L265.6 147.8L265.1 146L264.5 145.2zM264.9 145.2L264.5 145.2L265.1 146zM264.3 143.8L258.4 138.3L264.5 145.2L264.9 145.2z" fill="#ff1910" stroke="#ff1910" stroke-width=".4"/><path d="M258.4 138.3L263.3 145.5L270.6 152.6L265.8 145.2z" fill="none" stroke="#000" stroke-width="1" stroke-linejoin="round"/><path d="M205.6 98.6L206.5 99.5L208 98L205.5 96.7zM206.5 99.5L214.1 101.7L208 98zM214.1 101.7L209.4 96.8L208 98zM209.4 96.8L205.1 95.6L205.5 96.7L208 98z" fill="#9b0000" stroke="#9b0000" stroke-width=".4"/><path d="M201.8 94.7L205.6 98.6L205.5 96.7zM205.1 95.6L201.8 94.7L205.5 96.7z" fill="#8b0000" stroke="#8b0000" stroke-width=".4"/><path d="M201.8 94.7L206.5 99.5L214.1 101.7L209.4 96.8z" fill="none" stroke="#000" stroke-width="1" stroke-linejoin="round"/><path d="M134.7 97L139 99.7L140.3 96.7L139.5 96zM139 99.7L141.9 97.9L140.3 96.7zM138.4 94.7L134.7 97L139.5 96z" fill="#9b0000" stroke="#9b0000" stroke-width=".4"/><path d="M140.3 96.7L140.7 95.8L139.5 96zM141.9 97.9L146.7 95L140.7 95.8L140.3 96.7zM146.7 95L142.3 92.3L140.7 95.8zM142.3 92.3L138.4 94.7L139.5 96L140.7 95.8z" fill="#8b0000" stroke="#8b0000" stroke-width=".4"/><path d="M134.7 97L139 99.7L146.7 95L142.3 92.3z" fill="none" stroke="#000" stroke-width="1" stroke-linejoin="round"/><path d="M162.1 88.5L166.6 91.9L174.3 90.1L169.8 86.6z" fill="#8b0000" stroke="#000" stroke-width="1" stroke-linejoin="round"/><path d="M310.6 212.6L312 214.6L310.4 212zM312 214.6L310.1 210.9L310.4 212z" fill="#0fd026" stroke="#0fd026" stroke-width=".4"/><path d="M305.8 204.6L306 204.6L305.7 204.3zM306.3 206.5L310.6 212.6L310.4 212L306 204.6L305.8 204.6zM310.1 210.9L307 204.9L306 204.6L310.4 212zM307 204.9L305.1 202.2L305.7 204.3L306 204.6z" fill="#1ce71f" stroke="#1ce71f" stroke-width=".4"/><path d="M301 197L304.9 204.6L305.8 204.6L305.7 204.3L300.8 196.5zM304.9 204.6L306.3 206.5L305.8 204.6zM305.1 202.2L300.7 196.1L300.8 196.5L305.7 204.3z" fill="#3cfa1a" stroke="#3cfa1a" stroke-width=".4"/><path d="M299.9 195L301 197L300.8 196.5zM300.7 196.1L299.9 195L300.8 196.5z" fill="#9cfa21" stroke="#9cfa21" stroke-width=".4"/><path d="M299.9 195L304.9 204.6L312 214.6L307 204.9z" fill="none" stroke="#000" stroke-width="1" stroke-linejoin="round"/><path d="M182 89.3L186.6 93.4L194.2 93.6L189.6 89.4z" fill="#8b0000" stroke="#000" stroke-width="1" stroke-linejoin="round"/><path d="M220.8 107.9L226.4 110.2L220.7 106.1zM226.4 110.2L221.7 104.7L220.6 105.5L220.7 106.1zM221.7 104.7L220.1 104.1L220.6 105.5z" fill="#ad0000" stroke="#ad0000" stroke-width=".4"/><path d="M214.1 101.7L218.8 107.1L220.3 105.8zM218.8 107.1L220.8 107.9L220.7 106.1L220.3 105.8zM220.6 105.5L220.3 105.8L220.7 106.1zM220.1 104.1L214.1 101.7L220.3 105.8L220.6 105.5z" fill="#9b0000" stroke="#9b0000" stroke-width=".4"/><path d="M214.1 101.7L218.8 107.1L226.4 110.2L221.7 104.7z" fill="none" stroke="#000" stroke-width="1" stroke-linejoin="round"/><path d="M127 102.7L131.3 105.2L139 99.7L134.7 97z" fill="#9b0000" stroke="#000" stroke-width="1" stroke-linejoin="round"/><path d="M296 190.1L299.9 195L295.7 188.6zM299.9 195L295 186L294.9 186L295.7 188.6zM295 186L294.9 185.9L294.9 186z" fill="#9cfa21" stroke="#9cfa21" stroke-width=".4"/><path d="M290.7 182.4L292.7 186L293.9 185.8L290.3 180.7zM292.7 186L296 190.1L295.7 188.6L293.9 185.8zM294.9 186L293.9 185.8L295.7 188.6zM294.9 185.9L290 179.8L290.3 180.7L293.9 185.8L294.9 186z" fill="#d5fb21" stroke="#d5fb21" stroke-width=".4"/><path d="M287.8 177L290.7 182.4L290.3 180.7zM290 179.8L287.8 177L290.3 180.7z" fill="#f7f41d" stroke="#f7f41d" stroke-width=".4"/><path d="M287.8 177L292.7 186L299.9 195L295 186z" fill="none" stroke="#000" stroke-width="1" stroke-linejoin="round"/><path d="M154.4 91.3L158.9 94.6L166.6 91.9L162.1 88.5z" fill="#8b0000" stroke="#000" stroke-width="1" stroke-linejoin="round"/><path d="M119.3 109.3L123.6 111.8L125.3 107.1zM123.6 111.8L129.2 107L128.2 106.2L125.3 107.1zM126.3 104.4L125.3 107.1L128.2 106.2zM125.7 103.8L119.3 109.3L125.3 107.1L126.3 104.4z" fill="#ad0000" stroke="#ad0000" stroke-width=".4"/><path d="M129.2 107L131.3 105.2L128.2 106.2zM131.3 105.2L127 102.7L126.3 104.4L128.2 106.2zM127 102.7L125.7 103.8L126.3 104.4z" fill="#9b0000" stroke="#9b0000" stroke-width=".4"/><path d="M119.3 109.3L123.6 111.8L131.3 105.2L127 102.7z" fill="none" stroke="#000" stroke-width="1" stroke-linejoin="round"/><path d="M232.5 115.2L232.6 115.1L232.4 115zM232.6 117L238.7 120.4L232.6 115.1L232.5 115.2zM238.7 120.4L233.9 114.3L232.6 115.1zM233.9 114.3L231.8 113.2L232.4 115L232.6 115.1z" fill="#bf0000" stroke="#bf0000" stroke-width=".4"/><path d="M226.4 110.2L231.2 116.2L232.5 115.2L232.4 115zM231.2 116.2L232.6 117L232.5 115.2zM231.8 113.2L226.4 110.2L232.4 115z" fill="#ad0000" stroke="#ad0000" stroke-width=".4"/><path d="M226.4 110.2L231.2 116.2L238.7 120.4L233.9 114.3z" fill="none" stroke="#000" stroke-width="1" stroke-linejoin="round"/><path d="M284.9 173.8L287.8 177L284.7 172.8zM287.8 177L284.2 170.8L284.7 172.8z" fill="#f7f41d" stroke="#f7f41d" stroke-width=".4"/><path d="M279.3 166.8L280.5 168.9L281.7 168.6L278.8 164.8zM280.5 168.9L284.9 173.8L284.7 172.8L281.7 168.6zM284.2 170.8L282.8 168.5L281.7 168.6L284.7 172.8zM282.8 168.5L278.5 163.7L278.8 164.8L281.7 168.6z" fill="#fdd01a" stroke="#fdd01a" stroke-width=".4"/><path d="M275.6 160.5L279.3 166.8L278.8 164.8zM278.5 163.7L275.6 160.5L278.8 164.8z" fill="#ff9716" stroke="#ff9716" stroke-width=".4"/><path d="M275.6 160.5L280.5 168.9L287.8 177L282.8 168.5z" fill="none" stroke="#000" stroke-width="1" stroke-linejoin="round"/><path d="M205.5 99.4L206.5 99.5L205.6 99.1zM206.5 99.5L205.6 98.6L205.6 99.1z" fill="#9b0000" stroke="#9b0000" stroke-width=".4"/><path d="M194.2 93.6L198.9 98.3L200.4 96.4zM198.9 98.3L205.5 99.4L205.6 99.1L200.4 96.4zM205.6 98.6L201.8 94.7L200.4 96.4L205.6 99.1zM201.8 94.7L194.2 93.6L200.4 96.4z" fill="#8b0000" stroke="#8b0000" stroke-width=".4"/><path d="M194.2 93.6L198.9 98.3L206.5 99.5L201.8 94.7z" fill="none" stroke="#000" stroke-width="1" stroke-linejoin="round"/><path d="M174.3 90.1L178.9 94.1L186.6 93.4L182 89.3z" fill="#8b0000" stroke="#000" stroke-width="1" stroke-linejoin="round"/><path d="M111.6 116.8L115.8 119.2L117.6 114.1zM115.8 119.2L119.5 115.7L117.7 114.1L117.6 114.1zM117.6 114L117.6 114.1L117.7 114.1zM116.2 112.3L111.6 116.8L117.6 114.1L117.6 114z" fill="#bf0000" stroke="#bf0000" stroke-width=".4"/><path d="M119.5 115.7L123.6 111.8L117.7 114.1zM123.6 111.8L119.3 109.3L117.6 114L117.7 114.1zM119.3 109.3L116.2 112.3L117.6 114z" fill="#ad0000" stroke="#ad0000" stroke-width=".4"/><path d="M111.6 116.8L115.8 119.2L123.6 111.8L119.3 109.3z" fill="none" stroke="#000" stroke-width="1" stroke-linejoin="round"/><path d="M250.9 132.1L251 132.2L250.9 132.1zM251 132.2L250.9 132L250.9 132.1z" fill="#ea0909" stroke="#ea0909" stroke-width=".4"/><path d="M242.6 125.6L243.5 127L244.9 126.1L242.2 123.6zM243.5 127L250.9 132.1L250.9 132.1L244.9 126.1zM250.9 132L246.2 125.5L244.9 126.1L250.9 132.1zM246.2 125.5L241.8 122.5L242.2 123.6L244.9 126.1z" fill="#d30303" stroke="#d30303" stroke-width=".4"/><path d="M238.7 120.4L242.6 125.6L242.2 123.6zM241.8 122.5L238.7 120.4L242.2 123.6z" fill="#bf0000" stroke="#bf0000" stroke-width=".4"/><path d="M238.7 120.4L243.5 127L251 132.2L246.2 125.5z" fill="none" stroke="#000" stroke-width="1" stroke-linejoin="round"/><path d="M272.7 157.7L275.6 160.5L272.5 156.7zM275.6 160.5L272 154.8L272.5 156.7z" fill="#ff9716" stroke="#ff9716" stroke-width=".4"/><path d="M266.2 150.2L268.2 153.3L269.4 152.8L265.9 148.6zM268.2 153.3L272.7 157.7L272.5 156.7L269.4 152.8zM272 154.8L270.6 152.6L269.4 152.8L272.5 156.7zM270.6 152.6L265.6 147.8L265.9 148.6L269.4 152.8z" fill="#ff5713" stroke="#ff5713" stroke-width=".4"/><path d="M263.3 145.5L266.2 150.2L265.9 148.6zM265.6 147.8L263.3 145.5L265.9 148.6z" fill="#ff1910" stroke="#ff1910" stroke-width=".4"/><path d="M263.3 145.5L268.2 153.3L275.6 160.5L270.6 152.6z" fill="none" stroke="#000" stroke-width="1" stroke-linejoin="round"/><path d="M258.9 141.9L263.3 145.5L258.7 140.4zM263.3 145.5L258.4 138.3L258.1 138.3L258.7 140.4zM258.4 138.3L258 137.9L258.1 138.3z" fill="#ff1910" stroke="#ff1910" stroke-width=".4"/><path d="M251 132.2L255.9 139.4L257.2 138.7zM255.9 139.4L258.9 141.9L258.7 140.4L257.2 138.7zM258.1 138.3L257.2 138.7L258.7 140.4zM258 137.9L251 132.2L257.2 138.7L258.1 138.3z" fill="#ea0909" stroke="#ea0909" stroke-width=".4"/><path d="M251 132.2L255.9 139.4L263.3 145.5L258.4 138.3z" fill="none" stroke="#000" stroke-width="1" stroke-linejoin="round"/><path d="M103.9 125.3L108.1 127.6L109.7 122.6L109.5 122.3zM108.1 127.6L111.4 124.1L109.7 122.6zM108.1 120.7L103.9 125.3L109.5 122.3z" fill="#d30303" stroke="#d30303" stroke-width=".4"/><path d="M109.7 122.6L109.9 122.1L109.5 122.3zM111.4 124.1L115.8 119.2L109.9 122.1L109.7 122.6zM115.8 119.2L111.6 116.8L109.9 122.1zM111.6 116.8L108.1 120.7L109.5 122.3L109.9 122.1z" fill="#bf0000" stroke="#bf0000" stroke-width=".4"/><path d="M103.9 125.3L108.1 127.6L115.8 119.2L111.6 116.8z" fill="none" stroke="#000" stroke-width="1" stroke-linejoin="round"/><path d="M81 156.2L85.1 158.3L85.7 155.9L83.9 153.9zM85.1 158.3L86.3 156.5L85.7 155.9zM83.2 153L81 156.2L83.9 153.9z" fill="#ff9716" stroke="#ff9716" stroke-width=".4"/><path d="M85.7 155.9L86.9 151.5L83.9 153.9zM86.3 156.5L91.8 148.5L91.4 148.2L86.9 151.5L85.7 155.9zM88.6 145.1L86.9 151.5L91.4 148.2zM88.6 145.1L83.2 153L83.9 153.9L86.9 151.5L88.6 145.1z" fill="#ff5713" stroke="#ff5713" stroke-width=".4"/><path d="M91.8 148.5L92.7 147.2L91.4 148.2zM92.7 147.2L88.6 145L88.6 145.1L91.4 148.2zM88.6 145L88.6 145.1L88.6 145.1z" fill="#ff1910" stroke="#ff1910" stroke-width=".4"/><path d="M81 156.2L85.1 158.3L92.7 147.2L88.6 145z" fill="none" stroke="#000" stroke-width="1" stroke-linejoin="round"/><path d="M146.7 95L151.2 98.2L158.9 94.6L154.4 91.3z" fill="#8b0000" stroke="#000" stroke-width="1" stroke-linejoin="round"/><path d="M96.3 134.7L100.4 136.9L102.2 131zM100.4 136.9L104.2 132.3L102.5 130.8L102.2 131zM102.3 130.5L102.2 131L102.5 130.8zM101 128.9L96.3 134.7L102.2 131L102.3 130.5z" fill="#ea0909" stroke="#ea0909" stroke-width=".4"/><path d="M104.2 132.3L108.1 127.6L102.5 130.8zM108.1 127.6L103.9 125.3L102.3 130.5L102.5 130.8zM103.9 125.3L101 128.9L102.3 130.5z" fill="#d30303" stroke="#d30303" stroke-width=".4"/><path d="M96.3 134.7L100.4 136.9L108.1 127.6L103.9 125.3z" fill="none" stroke="#000" stroke-width="1" stroke-linejoin="round"/><path d="M88.6 145L92.7 147.2L94.5 140.8zM92.7 147.2L97.8 140.5L96.6 139.4L94.5 140.8zM95.3 138L94.5 140.8L96.6 139.4zM94.5 137L88.6 145L94.5 140.8L95.3 138z" fill="#ff1910" stroke="#ff1910" stroke-width=".4"/><path d="M97.8 140.5L100.4 136.9L96.6 139.4zM100.4 136.9L96.3 134.7L95.3 138L96.6 139.4zM96.3 134.7L94.5 137L95.3 138z" fill="#ea0909" stroke="#ea0909" stroke-width=".4"/><path d="M88.6 145L92.7 147.2L100.4 136.9L96.3 134.7z" fill="none" stroke="#000" stroke-width="1" stroke-linejoin="round"/><path d="M315.9 223.1L317 224.8L315.8 222.6zM317 224.8L315.6 221.8L315.8 222.6z" fill="#0fb62c" stroke="#0fb62c" stroke-width=".4"/><path d="M311.6 217.1L315.9 223.1L315.8 222.6L311.2 214.9zM315.6 221.8L312 214.6L311.1 214.5L311.2 214.9L315.8 222.6zM312 214.6L310.6 212.6L311.1 214.5z" fill="#0fd026" stroke="#0fd026" stroke-width=".4"/><path d="M306.6 208L309.9 214.7L311 214.5L306.4 207.1zM309.9 214.7L311.6 217.1L311.2 214.9L311 214.5zM311.1 214.5L311 214.5L311.2 214.9zM310.6 212.6L306.3 206.5L306.4 207.1L311 214.5L311.1 214.5z" fill="#1ce71f" stroke="#1ce71f" stroke-width=".4"/><path d="M304.9 204.6L306.6 208L306.4 207.1zM306.3 206.5L304.9 204.6L306.4 207.1z" fill="#3cfa1a" stroke="#3cfa1a" stroke-width=".4"/><path d="M304.9 204.6L309.9 214.7L317 224.8L312 214.6z" fill="none" stroke="#000" stroke-width="1" stroke-linejoin="round"/><path d="M206.5 99.5L211.2 104.8L218.8 107.1L214.1 101.7z" fill="#9b0000" stroke="#000" stroke-width="1" stroke-linejoin="round"/><path d="M166.6 91.9L171.2 95.8L178.9 94.1L174.3 90.1z" fill="#8b0000" stroke="#000" stroke-width="1" stroke-linejoin="round"/><path d="M139 99.7L143.4 102.8L144.6 100L143.2 99zM143.4 102.8L146.4 101L144.6 100zM141.9 97.9L139 99.7L143.2 99z" fill="#9b0000" stroke="#9b0000" stroke-width=".4"/><path d="M144.6 100L145.1 98.7L143.2 99zM146.4 101L151.2 98.2L145.1 98.7L144.6 100zM151.2 98.2L146.7 95L145.1 98.7zM146.7 95L141.9 97.9L143.2 99L145.1 98.7z" fill="#8b0000" stroke="#8b0000" stroke-width=".4"/><path d="M139 99.7L143.4 102.8L151.2 98.2L146.7 95z" fill="none" stroke="#000" stroke-width="1" stroke-linejoin="round"/><path d="M186.6 93.4L191.2 98L198.9 98.3L194.2 93.6z" fill="#8b0000" stroke="#000" stroke-width="1" stroke-linejoin="round"/><path d="M301.7 200.5L304.9 204.6L301.5 199.3zM304.9 204.6L301 197L301.5 199.3z" fill="#3cfa1a" stroke="#3cfa1a" stroke-width=".4"/><path d="M296.8 193.6L297.7 195.4L298.8 195.1L296.3 191.4zM297.7 195.4L301.7 200.5L301.5 199.3L298.8 195.1zM301 197L299.9 195L298.8 195.1L301.5 199.3zM299.9 195L296 190.1L296.3 191.4L298.8 195.1z" fill="#9cfa21" stroke="#9cfa21" stroke-width=".4"/><path d="M292.7 186L296.8 193.6L296.3 191.4zM296 190.1L292.7 186L296.3 191.4z" fill="#d5fb21" stroke="#d5fb21" stroke-width=".4"/><path d="M292.7 186L297.7 195.4L304.9 204.6L299.9 195z" fill="none" stroke="#000" stroke-width="1" stroke-linejoin="round"/><path d="M220.9 109.6L223.6 112.9L225 111.4L220.9 108.5zM223.6 112.9L231.2 116.2L225 111.4zM231.2 116.2L226.4 110.2L225 111.4zM226.4 110.2L220.8 107.9L220.9 108.5L225 111.4z" fill="#ad0000" stroke="#ad0000" stroke-width=".4"/><path d="M218.8 107.1L220.9 109.6L220.9 108.5zM220.8 107.9L218.8 107.1L220.9 108.5z" fill="#9b0000" stroke="#9b0000" stroke-width=".4"/><path d="M218.8 107.1L223.6 112.9L231.2 116.2L226.4 110.2z" fill="none" stroke="#000" stroke-width="1" stroke-linejoin="round"/><path d="M291.1 184.1L292.7 186L291 183.5zM292.7 186L290.7 182.4L291 183.5z" fill="#d5fb21" stroke="#d5fb21" stroke-width=".4"/><path d="M285.7 177.6L286.6 177.2L285.4 175.5zM285.8 178.1L291.1 184.1L291 183.5L286.6 177.2L285.7 177.6zM290.7 182.4L287.8 177L286.6 177.2L291 183.5zM287.8 177L284.9 173.8L285.4 175.5L286.6 177.2z" fill="#f7f41d" stroke="#f7f41d" stroke-width=".4"/><path d="M280.5 168.9L285.5 177.7L285.7 177.6L285.4 175.5zM285.5 177.7L285.8 178.1L285.7 177.6zM284.9 173.8L280.5 168.9L285.4 175.5z" fill="#fdd01a" stroke="#fdd01a" stroke-width=".4"/><path d="M280.5 168.9L285.5 177.7L292.7 186L287.8 177z" fill="none" stroke="#000" stroke-width="1" stroke-linejoin="round"/><path d="M131.3 105.2L135.7 108.3L143.4 102.8L139 99.7z" fill="#9b0000" stroke="#000" stroke-width="1" stroke-linejoin="round"/><path d="M242.6 126.5L243.5 127L242.6 126.2zM243.5 127L242.6 125.6L242.6 126.2z" fill="#d30303" stroke="#d30303" stroke-width=".4"/><path d="M232.7 118.3L236 122.7L237.4 121.4L232.7 117.5zM236 122.7L242.6 126.5L242.6 126.2L237.4 121.4zM242.6 125.6L238.7 120.4L237.4 121.4L242.6 126.2zM238.7 120.4L232.6 117L232.7 117.5L237.4 121.4z" fill="#bf0000" stroke="#bf0000" stroke-width=".4"/><path d="M231.2 116.2L232.7 118.3L232.7 117.5zM232.6 117L231.2 116.2L232.7 117.5z" fill="#ad0000" stroke="#ad0000" stroke-width=".4"/><path d="M231.2 116.2L236 122.7L243.5 127L238.7 120.4z" fill="none" stroke="#000" stroke-width="1" stroke-linejoin="round"/><path d="M158.9 94.6L163.4 98.3L171.2 95.8L166.6 91.9z" fill="#8b0000" stroke="#000" stroke-width="1" stroke-linejoin="round"/><path d="M279.5 167.8L280.5 168.9L279.4 167.5zM280.5 168.9L279.3 166.8L279.4 167.5z" fill="#fdd01a" stroke="#fdd01a" stroke-width=".4"/><path d="M273.4 161.4L274.4 160.9L273.1 159.4zM273.5 161.9L279.5 167.8L279.4 167.5L274.4 160.9L273.4 161.4zM279.3 166.8L275.6 160.5L274.4 160.9L279.4 167.5zM275.6 160.5L272.7 157.7L273.1 159.4L274.4 160.9z" fill="#ff9716" stroke="#ff9716" stroke-width=".4"/><path d="M268.2 153.3L273.1 161.6L273.4 161.4L273.1 159.4zM273.1 161.6L273.5 161.9L273.4 161.4zM272.7 157.7L268.2 153.3L273.1 159.4z" fill="#ff5713" stroke="#ff5713" stroke-width=".4"/><path d="M268.2 153.3L273.1 161.6L280.5 168.9L275.6 160.5z" fill="none" stroke="#000" stroke-width="1" stroke-linejoin="round"/><path d="M251.4 136.1L255.9 139.4L251.3 134.6zM255.9 139.4L251 132.2L250.9 132.2L251.3 134.6zM251 132.2L250.9 132.1L250.9 132.2z" fill="#ea0909" stroke="#ea0909" stroke-width=".4"/><path d="M243.5 127L248.4 134L249.7 133zM248.4 134L251.4 136.1L251.3 134.6L249.7 133zM250.9 132.2L249.7 133L251.3 134.6zM250.9 132.1L243.5 127L249.7 133L250.9 132.2z" fill="#d30303" stroke="#d30303" stroke-width=".4"/><path d="M243.5 127L248.4 134L255.9 139.4L251 132.2z" fill="none" stroke="#000" stroke-width="1" stroke-linejoin="round"/><path d="M203.9 103.5L211.2 104.8L205.2 101.4zM211.2 104.8L206.5 99.5L205.2 101.1L205.2 101.4zM206.5 99.5L205.5 99.4L205.2 101.1z" fill="#9b0000" stroke="#9b0000" stroke-width=".4"/><path d="M198.9 98.3L203.6 103.4L205.1 101.3zM203.6 103.4L203.9 103.5L205.2 101.4L205.1 101.3zM205.2 101.1L205.1 101.3L205.2 101.4zM205.5 99.4L198.9 98.3L205.1 101.3L205.2 101.1z" fill="#8b0000" stroke="#8b0000" stroke-width=".4"/><path d="M198.9 98.3L203.6 103.4L211.2 104.8L206.5 99.5z" fill="none" stroke="#000" stroke-width="1" stroke-linejoin="round"/><path d="M266.5 151.8L268.2 153.3L266.4 151.2zM268.2 153.3L266.2 150.2L266.4 151.2z" fill="#ff5713" stroke="#ff5713" stroke-width=".4"/><path d="M259.4 144.8L260.8 147L262.1 146.1L259.2 143zM260.8 147L266.5 151.8L266.4 151.2L262.1 146.1zM266.2 150.2L263.3 145.5L262.1 146.1L266.4 151.2zM263.3 145.5L258.9 141.9L259.2 143L262.1 146.1z" fill="#ff1910" stroke="#ff1910" stroke-width=".4"/><path d="M255.9 139.4L259.4 144.8L259.2 143zM258.9 141.9L255.9 139.4L259.2 143z" fill="#ea0909" stroke="#ea0909" stroke-width=".4"/><path d="M255.9 139.4L260.8 147L268.2 153.3L263.3 145.5z" fill="none" stroke="#000" stroke-width="1" stroke-linejoin="round"/><path d="M123.6 111.8L127.9 114.7L129.6 109.8zM127.9 114.7L133.3 110.2L131.9 109.2L129.6 109.8zM130.3 108L129.6 109.8L131.9 109.2zM129.2 107L123.6 111.8L129.6 109.8L130.3 108z" fill="#ad0000" stroke="#ad0000" stroke-width=".4"/><path d="M133.3 110.2L135.7 108.3L131.9 109.2zM135.7 108.3L131.3 105.2L130.3 108L131.9 109.2zM131.3 105.2L129.2 107L130.3 108z" fill="#9b0000" stroke="#9b0000" stroke-width=".4"/><path d="M123.6 111.8L127.9 114.7L135.7 108.3L131.3 105.2z" fill="none" stroke="#000" stroke-width="1" stroke-linejoin="round"/><path d="M178.9 94.1L183.5 98.6L191.2 98L186.6 93.4z" fill="#8b0000" stroke="#000" stroke-width="1" stroke-linejoin="round"/><path d="M115.8 119.2L120.1 122.1L121.6 117.6L121.1 117.1zM120.1 122.1L123.5 118.9L121.6 117.6zM119.5 115.7L115.8 119.2L121.1 117.1z" fill="#bf0000" stroke="#bf0000" stroke-width=".4"/><path d="M121.6 117.6L121.9 116.8L121.1 117.1zM123.5 118.9L127.9 114.7L121.9 116.8L121.6 117.6zM127.9 114.7L123.6 111.8L121.9 116.8zM123.6 111.8L119.5 115.7L121.1 117.1L121.9 116.8z" fill="#ad0000" stroke="#ad0000" stroke-width=".4"/><path d="M115.8 119.2L120.1 122.1L127.9 114.7L123.6 111.8z" fill="none" stroke="#000" stroke-width="1" stroke-linejoin="round"/><path d="M108.1 127.6L112.4 130.4L113.7 126.2L112.7 125.4zM112.4 130.4L115.2 127.4L113.7 126.2zM111.4 124.1L108.1 127.6L112.7 125.4z" fill="#d30303" stroke="#d30303" stroke-width=".4"/><path d="M113.7 126.2L114.1 124.7L112.7 125.4zM115.2 127.4L120.1 122.1L114.1 124.7L113.7 126.2zM120.1 122.1L115.8 119.2L114.1 124.7zM115.8 119.2L111.4 124.1L112.7 125.4L114.1 124.7z" fill="#bf0000" stroke="#bf0000" stroke-width=".4"/><path d="M108.1 127.6L112.4 130.4L120.1 122.1L115.8 119.2z" fill="none" stroke="#000" stroke-width="1" stroke-linejoin="round"/><path d="M151.2 98.2L155.6 101.9L163.4 98.3L158.9 94.6z" fill="#8b0000" stroke="#000" stroke-width="1" stroke-linejoin="round"/><path d="M220.4 111.9L223.6 112.9L220.7 110.9zM223.6 112.9L220.9 109.6L220.7 110.9z" fill="#ad0000" stroke="#ad0000" stroke-width=".4"/><path d="M211.2 104.8L216 110.5L217.4 108.6zM216 110.5L220.4 111.9L220.7 110.9L217.4 108.6zM220.9 109.6L218.8 107.1L217.4 108.6L220.7 110.9zM218.8 107.1L211.2 104.8L217.4 108.6z" fill="#9b0000" stroke="#9b0000" stroke-width=".4"/><path d="M211.2 104.8L216 110.5L223.6 112.9L218.8 107.1z" fill="none" stroke="#000" stroke-width="1" stroke-linejoin="round"/><path d="M307.1 211L309.9 214.7L307 209.9zM309.9 214.7L306.6 208L307 209.9z" fill="#1ce71f" stroke="#1ce71f" stroke-width=".4"/><path d="M302.3 204.6L302.7 205.4L303.8 204.9L302 202zM302.7 205.4L307.1 211L307 209.9L303.8 204.9zM306.6 208L304.9 204.6L303.8 204.9L307 209.9zM304.9 204.6L301.7 200.5L302 202L303.8 204.9z" fill="#3cfa1a" stroke="#3cfa1a" stroke-width=".4"/><path d="M297.7 195.4L302.3 204.6L302 202zM301.7 200.5L297.7 195.4L302 202z" fill="#9cfa21" stroke="#9cfa21" stroke-width=".4"/><path d="M297.7 195.4L302.7 205.4L309.9 214.7L304.9 204.6z" fill="none" stroke="#000" stroke-width="1" stroke-linejoin="round"/><path d="M85.1 158.3L89.2 160.9L89.5 159.8L86.8 157zM89.2 160.9L89.8 160L89.5 159.8zM86.3 156.5L85.1 158.3L86.8 157z" fill="#ff9716" stroke="#ff9716" stroke-width=".4"/><path d="M89.5 159.8L91 153.9L86.8 157zM89.8 160L95.4 152L94.7 151.3L91 153.9L89.5 159.8zM92.3 149L91 153.9L94.7 151.3zM91.8 148.5L86.3 156.5L86.8 157L91 153.9L92.3 149z" fill="#ff5713" stroke="#ff5713" stroke-width=".4"/><path d="M95.4 152L96.9 149.8L94.7 151.3zM96.9 149.8L92.7 147.2L92.3 149L94.7 151.3zM92.7 147.2L91.8 148.5L92.3 149z" fill="#ff1910" stroke="#ff1910" stroke-width=".4"/><path d="M85.1 158.3L89.2 160.9L96.9 149.8L92.7 147.2z" fill="none" stroke="#000" stroke-width="1" stroke-linejoin="round"/><path d="M100.4 136.9L104.7 139.6L106.2 134.3L105.7 133.9zM104.7 139.6L107.9 135.7L106.2 134.3zM104.2 132.3L100.4 136.9L105.7 133.9z" fill="#ea0909" stroke="#ea0909" stroke-width=".4"/><path d="M106.2 134.3L106.4 133.5L105.7 133.9zM107.9 135.7L112.4 130.4L106.4 133.5L106.2 134.3zM112.4 130.4L108.1 127.6L106.4 133.5zM108.1 127.6L104.2 132.3L105.7 133.9L106.4 133.5z" fill="#d30303" stroke="#d30303" stroke-width=".4"/><path d="M100.4 136.9L104.7 139.6L112.4 130.4L108.1 127.6z" fill="none" stroke="#000" stroke-width="1" stroke-linejoin="round"/><path d="M92.7 147.2L96.9 149.8L98.7 143.2zM96.9 149.8L101.4 143.9L99.8 142.5L98.7 143.2zM99.1 141.8L98.7 143.2L99.8 142.5zM97.8 140.5L92.7 147.2L98.7 143.2L99.1 141.8z" fill="#ff1910" stroke="#ff1910" stroke-width=".4"/><path d="M101.4 143.9L104.7 139.6L99.8 142.5zM104.7 139.6L100.4 136.9L99.1 141.8L99.8 142.5zM100.4 136.9L97.8 140.5L99.1 141.8z" fill="#ea0909" stroke="#ea0909" stroke-width=".4"/><path d="M92.7 147.2L96.9 149.8L104.7 139.6L100.4 136.9z" fill="none" stroke="#000" stroke-width="1" stroke-linejoin="round"/><path d="M171.2 95.8L175.7 100.1L183.5 98.6L178.9 94.1z" fill="#8b0000" stroke="#000" stroke-width="1" stroke-linejoin="round"/><path d="M191.2 98L195.9 103L203.6 103.4L198.9 98.3z" fill="#8b0000" stroke="#000" stroke-width="1" stroke-linejoin="round"/><path d="M232.4 121.1L236 122.7L232.7 119.9zM236 122.7L232.7 118.3L232.7 119.9z" fill="#bf0000" stroke="#bf0000" stroke-width=".4"/><path d="M223.6 112.9L228.4 119.3L229.8 117.6zM228.4 119.3L232.4 121.1L232.7 119.9L229.8 117.6zM232.7 118.3L231.2 116.2L229.8 117.6L232.7 119.9zM231.2 116.2L223.6 112.9L229.8 117.6z" fill="#ad0000" stroke="#ad0000" stroke-width=".4"/><path d="M223.6 112.9L228.4 119.3L236 122.7L231.2 116.2z" fill="none" stroke="#000" stroke-width="1" stroke-linejoin="round"/><path d="M296.9 194.5L297.7 195.4L296.9 194.1zM297.7 195.4L296.8 193.6L296.9 194.1z" fill="#9cfa21" stroke="#9cfa21" stroke-width=".4"/><path d="M291.5 186.5L291.6 186.4L291.5 186.2zM291.6 188.5L296.9 194.5L296.9 194.1L291.6 186.4L291.5 186.5zM296.8 193.6L292.7 186L291.6 186.4L296.9 194.1zM292.7 186L291.1 184.1L291.5 186.2L291.6 186.4z" fill="#d5fb21" stroke="#d5fb21" stroke-width=".4"/><path d="M285.8 178.4L290.5 187.1L291.5 186.5L291.5 186.2L285.8 178.2zM290.5 187.1L291.6 188.5L291.5 186.5zM291.1 184.1L285.8 178.1L285.8 178.2L291.5 186.2z" fill="#f7f41d" stroke="#f7f41d" stroke-width=".4"/><path d="M285.5 177.7L285.8 178.4L285.8 178.2zM285.8 178.1L285.5 177.7L285.8 178.2z" fill="#fdd01a" stroke="#fdd01a" stroke-width=".4"/><path d="M285.5 177.7L290.5 187.1L297.7 195.4L292.7 186z" fill="none" stroke="#000" stroke-width="1" stroke-linejoin="round"/><path d="M143.4 102.8L147.9 106.3L149.3 102.8L148.3 102.2zM147.9 106.3L152 104L149.3 102.8zM146.4 101L143.4 102.8L148.3 102.2z" fill="#9b0000" stroke="#9b0000" stroke-width=".4"/><path d="M149.3 102.8L149.5 102.1L148.3 102.2zM152 104L155.6 101.9L149.5 102.1L149.3 102.8zM155.6 101.9L151.2 98.2L149.5 102.1zM151.2 98.2L146.4 101L148.3 102.2L149.5 102.1z" fill="#8b0000" stroke="#8b0000" stroke-width=".4"/><path d="M143.4 102.8L147.9 106.3L155.6 101.9L151.2 98.2z" fill="none" stroke="#000" stroke-width="1" stroke-linejoin="round"/><path d="M242.5 130.6L248.4 134L242.7 128.6zM248.4 134L243.5 127L242.7 127.7L242.7 128.6zM243.5 127L242.6 126.5L242.7 127.7z" fill="#d30303" stroke="#d30303" stroke-width=".4"/><path d="M236 122.7L240.9 129.6L242.2 128.2zM240.9 129.6L242.5 130.6L242.7 128.6L242.2 128.2zM242.7 127.7L242.2 128.2L242.7 128.6zM242.6 126.5L236 122.7L242.2 128.2L242.7 127.7z" fill="#bf0000" stroke="#bf0000" stroke-width=".4"/><path d="M236 122.7L240.9 129.6L248.4 134L243.5 127z" fill="none" stroke="#000" stroke-width="1" stroke-linejoin="round"/><path d="M279.9 172.1L285.5 177.7L279.8 170.1zM285.5 177.7L280.5 168.9L279.7 169.3L279.8 170.1zM280.5 168.9L279.5 167.8L279.7 169.3z" fill="#fdd01a" stroke="#fdd01a" stroke-width=".4"/><path d="M273.5 162.2L278.1 170.3L279.3 169.5L273.5 162zM278.1 170.3L279.9 172.1L279.8 170.1L279.3 169.5zM279.7 169.3L279.3 169.5L279.8 170.1zM279.5 167.8L273.5 161.9L273.5 162L279.3 169.5L279.7 169.3z" fill="#ff9716" stroke="#ff9716" stroke-width=".4"/><path d="M273.1 161.6L273.5 162.2L273.5 162zM273.5 161.9L273.1 161.6L273.5 162z" fill="#ff5713" stroke="#ff5713" stroke-width=".4"/><path d="M273.1 161.6L278.1 170.3L285.5 177.7L280.5 168.9z" fill="none" stroke="#000" stroke-width="1" stroke-linejoin="round"/><path d="M259.4 146L260.8 147L259.4 145.5zM260.8 147L259.4 144.8L259.4 145.5z" fill="#ff1910" stroke="#ff1910" stroke-width=".4"/><path d="M251.4 138.7L253.3 141.6L254.6 140.3L251.5 137.2zM253.3 141.6L259.4 146L259.4 145.5L254.6 140.3zM259.4 144.8L255.9 139.4L254.6 140.3L259.4 145.5zM255.9 139.4L251.4 136.1L251.5 137.2L254.6 140.3z" fill="#ea0909" stroke="#ea0909" stroke-width=".4"/><path d="M248.4 134L251.4 138.7L251.5 137.2zM251.4 136.1L248.4 134L251.5 137.2z" fill="#d30303" stroke="#d30303" stroke-width=".4"/><path d="M248.4 134L253.3 141.6L260.8 147L255.9 139.4z" fill="none" stroke="#000" stroke-width="1" stroke-linejoin="round"/><path d="M266.7 154.3L267 154.1L266.7 153.8zM266.7 156L273.1 161.6L267 154.1L266.7 154.3zM273.1 161.6L268.2 153.3L267 154.1zM268.2 153.3L266.5 151.8L266.7 153.8L267 154.1z" fill="#ff5713" stroke="#ff5713" stroke-width=".4"/><path d="M260.8 147L265.7 155.2L266.7 154.3L266.7 153.8zM265.7 155.2L266.7 156L266.7 154.3zM266.5 151.8L260.8 147L266.7 153.8z" fill="#ff1910" stroke="#ff1910" stroke-width=".4"/><path d="M260.8 147L265.7 155.2L273.1 161.6L268.2 153.3z" fill="none" stroke="#000" stroke-width="1" stroke-linejoin="round"/><path d="M135.7 108.3L140.1 111.7L147.9 106.3L143.4 102.8z" fill="#9b0000" stroke="#000" stroke-width="1" stroke-linejoin="round"/><path d="M203.8 103.7L208.3 109.1L209.8 106.8L203.9 103.6zM208.3 109.1L216 110.5L209.8 106.8zM216 110.5L211.2 104.8L209.8 106.8zM211.2 104.8L203.9 103.5L203.9 103.6L209.8 106.8z" fill="#9b0000" stroke="#9b0000" stroke-width=".4"/><path d="M203.6 103.4L203.8 103.7L203.9 103.6zM203.9 103.5L203.6 103.4L203.9 103.6z" fill="#8b0000" stroke="#8b0000" stroke-width=".4"/><path d="M203.6 103.4L208.3 109.1L216 110.5L211.2 104.8z" fill="none" stroke="#000" stroke-width="1" stroke-linejoin="round"/><path d="M163.4 98.3L168 102.6L175.7 100.1L171.2 95.8z" fill="#8b0000" stroke="#000" stroke-width="1" stroke-linejoin="round"/><path d="M183.5 98.6L188.1 103.5L195.9 103L191.2 98z" fill="#8b0000" stroke="#000" stroke-width="1" stroke-linejoin="round"/><path d="M127.9 114.7L132.3 118.1L134 113zM132.3 118.1L138.1 113.3L136.6 112.5L134 113zM134.6 111.2L134 113L136.6 112.5zM133.3 110.2L127.9 114.7L134 113L134.6 111.2z" fill="#ad0000" stroke="#ad0000" stroke-width=".4"/><path d="M138.1 113.3L140.1 111.7L136.6 112.5zM140.1 111.7L135.7 108.3L134.6 111.2L136.6 112.5zM135.7 108.3L133.3 110.2L134.6 111.2z" fill="#9b0000" stroke="#9b0000" stroke-width=".4"/><path d="M127.9 114.7L132.3 118.1L140.1 111.7L135.7 108.3z" fill="none" stroke="#000" stroke-width="1" stroke-linejoin="round"/><path d="M219.3 114.8L220.8 116.8L222.2 114.7L220.1 113.3zM220.8 116.8L228.4 119.3L222.2 114.7zM228.4 119.3L223.6 112.9L222.2 114.7zM223.6 112.9L220.4 111.9L220.1 113.3L222.2 114.7z" fill="#ad0000" stroke="#ad0000" stroke-width=".4"/><path d="M216 110.5L219.3 114.8L220.1 113.3zM220.4 111.9L216 110.5L220.1 113.3z" fill="#9b0000" stroke="#9b0000" stroke-width=".4"/><path d="M216 110.5L220.8 116.8L228.4 119.3L223.6 112.9z" fill="none" stroke="#000" stroke-width="1" stroke-linejoin="round"/><path d="M120.1 122.1L124.5 125.4L125.9 120.8L125.1 120.3zM124.5 125.4L128 122.1L125.9 120.8zM123.5 118.9L120.1 122.1L125.1 120.3z" fill="#bf0000" stroke="#bf0000" stroke-width=".4"/><path d="M125.9 120.8L126.2 119.9L125.1 120.3zM128 122.1L132.3 118.1L126.2 119.9L125.9 120.8zM132.3 118.1L127.9 114.7L126.2 119.9zM127.9 114.7L123.5 118.9L125.1 120.3L126.2 119.9z" fill="#ad0000" stroke="#ad0000" stroke-width=".4"/><path d="M120.1 122.1L124.5 125.4L132.3 118.1L127.9 114.7z" fill="none" stroke="#000" stroke-width="1" stroke-linejoin="round"/><path d="M155.6 101.9L160.2 106L168 102.6L163.4 98.3z" fill="#8b0000" stroke="#000" stroke-width="1" stroke-linejoin="round"/><path d="M302.4 205L302.7 205.4L302.4 204.8zM302.7 205.4L302.3 204.6L302.4 204.8z" fill="#3cfa1a" stroke="#3cfa1a" stroke-width=".4"/><path d="M297.2 199L302.4 205L302.4 204.8L297.2 196.9zM302.3 204.6L297.7 195.4L297.1 195.8L297.2 196.9L302.4 204.8zM297.7 195.4L296.9 194.5L297.1 195.8z" fill="#9cfa21" stroke="#9cfa21" stroke-width=".4"/><path d="M291.7 189.6L295.5 196.9L296.6 196.1L291.7 188.9zM295.5 196.9L297.2 199L297.2 196.9L296.6 196.1zM297.1 195.8L296.6 196.1L297.2 196.9zM296.9 194.5L291.6 188.5L291.7 188.9L296.6 196.1L297.1 195.8z" fill="#d5fb21" stroke="#d5fb21" stroke-width=".4"/><path d="M290.5 187.1L291.7 189.6L291.7 188.9zM291.6 188.5L290.5 187.1L291.7 188.9z" fill="#f7f41d" stroke="#f7f41d" stroke-width=".4"/><path d="M290.5 187.1L295.5 196.9L302.7 205.4L297.7 195.4z" fill="none" stroke="#000" stroke-width="1" stroke-linejoin="round"/><path d="M112.4 130.4L116.7 133.6L117.9 129.6L116.5 128.5zM116.7 133.6L119.5 130.7L117.9 129.6zM115.2 127.4L112.4 130.4L116.5 128.5z" fill="#d30303" stroke="#d30303" stroke-width=".4"/><path d="M117.9 129.6L118.4 127.7L116.5 128.5zM119.5 130.7L124.5 125.4L118.4 127.7L117.9 129.6zM124.5 125.4L120.1 122.1L118.4 127.7zM120.1 122.1L115.2 127.4L116.5 128.5L118.4 127.7z" fill="#bf0000" stroke="#bf0000" stroke-width=".4"/><path d="M112.4 130.4L116.7 133.6L124.5 125.4L120.1 122.1z" fill="none" stroke="#000" stroke-width="1" stroke-linejoin="round"/><path d="M104.7 139.6L108.9 142.8L110.3 137.7L109.5 137.1zM108.9 142.8L112.1 139L110.3 137.7zM107.9 135.7L104.7 139.6L109.5 137.1z" fill="#ea0909" stroke="#ea0909" stroke-width=".4"/><path d="M110.3 137.7L110.7 136.4L109.5 137.1zM112.1 139L116.7 133.6L110.7 136.4L110.3 137.7zM116.7 133.6L112.4 130.4L110.7 136.4zM112.4 130.4L107.9 135.7L109.5 137.1L110.7 136.4z" fill="#d30303" stroke="#d30303" stroke-width=".4"/><path d="M104.7 139.6L108.9 142.8L116.7 133.6L112.4 130.4z" fill="none" stroke="#000" stroke-width="1" stroke-linejoin="round"/><path d="M89.2 160.9L93.4 163.9L93.5 163.4L90.1 160.3zM93.4 163.9L93.7 163.5L93.5 163.4zM89.8 160L89.2 160.9L90.1 160.3z" fill="#ff9716" stroke="#ff9716" stroke-width=".4"/><path d="M93.5 163.4L95.2 156.7L90.1 160.3zM93.7 163.5L99.4 155.4L98.4 154.6L95.2 156.7L93.5 163.4zM96.2 152.7L95.2 156.7L98.4 154.6zM95.4 152L89.8 160L90.1 160.3L95.2 156.7L96.2 152.7z" fill="#ff5713" stroke="#ff5713" stroke-width=".4"/><path d="M99.4 155.4L101.2 152.9L98.4 154.6zM101.2 152.9L96.9 149.8L96.2 152.7L98.4 154.6zM96.9 149.8L95.4 152L96.2 152.7z" fill="#ff1910" stroke="#ff1910" stroke-width=".4"/><path d="M89.2 160.9L93.4 163.9L101.2 152.9L96.9 149.8z" fill="none" stroke="#000" stroke-width="1" stroke-linejoin="round"/><path d="M231.7 124L233.3 126.1L234.6 124.2L232.3 122.3zM233.3 126.1L240.9 129.6L234.6 124.2zM240.9 129.6L236 122.7L234.6 124.2zM236 122.7L232.4 121.1L232.3 122.3L234.6 124.2z" fill="#bf0000" stroke="#bf0000" stroke-width=".4"/><path d="M228.4 119.3L231.7 124L232.3 122.3zM232.4 121.1L228.4 119.3L232.3 122.3z" fill="#ad0000" stroke="#ad0000" stroke-width=".4"/><path d="M228.4 119.3L233.3 126.1L240.9 129.6L236 122.7z" fill="none" stroke="#000" stroke-width="1" stroke-linejoin="round"/><path d="M96.9 149.8L101.2 152.9L102.9 146.1zM101.2 152.9L105.5 147.3L103.5 145.8L102.9 146.1zM103.1 145.4L102.9 146.1L103.5 145.8zM101.4 143.9L96.9 149.8L102.9 146.1L103.1 145.4z" fill="#ff1910" stroke="#ff1910" stroke-width=".4"/><path d="M105.5 147.3L108.9 142.8L103.5 145.8zM108.9 142.8L104.7 139.6L103.1 145.4L103.5 145.8zM104.7 139.6L101.4 143.9L103.1 145.4z" fill="#ea0909" stroke="#ea0909" stroke-width=".4"/><path d="M96.9 149.8L101.2 152.9L108.9 142.8L104.7 139.6z" fill="none" stroke="#000" stroke-width="1" stroke-linejoin="round"/><path d="M199.4 107.2L200.6 108.5L202.1 105.8L201.8 105.7zM200.6 108.5L208.3 109.1L202.1 105.8zM208.3 109.1L203.8 103.7L202.7 104.8L202.1 105.8zM201.8 105.7L202.1 105.8L202.7 104.8z" fill="#9b0000" stroke="#9b0000" stroke-width=".4"/><path d="M195.9 103L199.4 107.2L201.8 105.7zM203.8 103.7L203.6 103.4L202.7 104.8zM203.6 103.4L195.9 103L201.8 105.7L202.7 104.8z" fill="#8b0000" stroke="#8b0000" stroke-width=".4"/><path d="M195.9 103L200.6 108.5L208.3 109.1L203.6 103.4z" fill="none" stroke="#000" stroke-width="1" stroke-linejoin="round"/><path d="M286 182.5L290.5 187.1L286 180.9zM290.5 187.1L285.8 178.4L286 180.9z" fill="#f7f41d" stroke="#f7f41d" stroke-width=".4"/><path d="M279.9 173.8L283.1 179.6L284.3 178.5L280 172.8zM283.1 179.6L286 182.5L286 180.9L284.3 178.5zM285.8 178.4L285.5 177.7L284.3 178.5L286 180.9zM285.5 177.7L279.9 172.1L280 172.8L284.3 178.5z" fill="#fdd01a" stroke="#fdd01a" stroke-width=".4"/><path d="M278.1 170.3L279.9 173.8L280 172.8zM279.9 172.1L278.1 170.3L280 172.8z" fill="#ff9716" stroke="#ff9716" stroke-width=".4"/><path d="M278.1 170.3L283.1 179.6L290.5 187.1L285.5 177.7z" fill="none" stroke="#000" stroke-width="1" stroke-linejoin="round"/><path d="M175.7 100.1L180.4 104.9L188.1 103.5L183.5 98.6z" fill="#8b0000" stroke="#000" stroke-width="1" stroke-linejoin="round"/><path d="M251.2 140.3L253.3 141.6L251.4 139.7zM253.3 141.6L251.4 138.7L251.4 139.7z" fill="#ea0909" stroke="#ea0909" stroke-width=".4"/><path d="M242.3 131.8L245.7 137.1L247.1 135.4L242.4 131.1zM245.7 137.1L251.2 140.3L251.4 139.7L247.1 135.4zM251.4 138.7L248.4 134L247.1 135.4L251.4 139.7zM248.4 134L242.5 130.6L242.4 131.1L247.1 135.4z" fill="#d30303" stroke="#d30303" stroke-width=".4"/><path d="M240.9 129.6L242.3 131.8L242.4 131.1zM242.5 130.6L240.9 129.6L242.4 131.1z" fill="#bf0000" stroke="#bf0000" stroke-width=".4"/><path d="M240.9 129.6L245.7 137.1L253.3 141.6L248.4 134z" fill="none" stroke="#000" stroke-width="1" stroke-linejoin="round"/><path d="M273.4 166.3L278.1 170.3L273.6 164.6zM278.1 170.3L273.5 162.2L273.6 164.6z" fill="#ff9716" stroke="#ff9716" stroke-width=".4"/><path d="M266.7 156.9L270.7 163.8L271.9 162.6L266.8 156.4zM270.7 163.8L273.4 166.3L273.6 164.6L271.9 162.6zM273.5 162.2L273.1 161.6L271.9 162.6L273.6 164.6zM273.1 161.6L266.7 156L266.8 156.4L271.9 162.6z" fill="#ff5713" stroke="#ff5713" stroke-width=".4"/><path d="M265.7 155.2L266.7 156.9L266.8 156.4zM266.7 156L265.7 155.2L266.8 156.4z" fill="#ff1910" stroke="#ff1910" stroke-width=".4"/><path d="M265.7 155.2L270.7 163.8L278.1 170.3L273.1 161.6z" fill="none" stroke="#000" stroke-width="1" stroke-linejoin="round"/><path d="M147.9 106.3L152.4 110.4L154 106zM152.4 110.4L158.8 106.8L156.6 106L154 106zM154.3 105.1L154 106L156.6 106zM152 104L147.9 106.3L154 106L154.3 105.1z" fill="#9b0000" stroke="#9b0000" stroke-width=".4"/><path d="M158.8 106.8L160.2 106L156.6 106zM160.2 106L155.6 101.9L154.3 105.1L156.6 106zM155.6 101.9L152 104L154.3 105.1z" fill="#8b0000" stroke="#8b0000" stroke-width=".4"/><path d="M147.9 106.3L152.4 110.4L160.2 106L155.6 101.9z" fill="none" stroke="#000" stroke-width="1" stroke-linejoin="round"/><path d="M259.4 148.3L259.5 148.2L259.4 148.1zM259.1 150.3L265.7 155.2L259.5 148.2L259.4 148.3zM265.7 155.2L260.8 147L259.5 148.2zM260.8 147L259.4 146L259.4 148.1L259.5 148.2z" fill="#ff1910" stroke="#ff1910" stroke-width=".4"/><path d="M253.3 141.6L258.2 149.6L259.4 148.3L259.4 148.1zM258.2 149.6L259.1 150.3L259.4 148.3zM259.4 146L253.3 141.6L259.4 148.1z" fill="#ea0909" stroke="#ea0909" stroke-width=".4"/><path d="M253.3 141.6L258.2 149.6L265.7 155.2L260.8 147z" fill="none" stroke="#000" stroke-width="1" stroke-linejoin="round"/><path d="M218.2 116.2L220.8 116.8L218.9 115.5zM220.8 116.8L219.3 114.8L218.9 115.5z" fill="#ad0000" stroke="#ad0000" stroke-width=".4"/><path d="M208.3 109.1L213.1 115.2L214.5 112.7zM213.1 115.2L218.2 116.2L218.9 115.5L214.5 112.7zM219.3 114.8L216 110.5L214.5 112.7L218.9 115.5zM216 110.5L208.3 109.1L214.5 112.7z" fill="#9b0000" stroke="#9b0000" stroke-width=".4"/><path d="M208.3 109.1L213.1 115.2L220.8 116.8L216 110.5z" fill="none" stroke="#000" stroke-width="1" stroke-linejoin="round"/><path d="M140.1 111.7L144.5 115.7L152.4 110.4L147.9 106.3z" fill="#9b0000" stroke="#000" stroke-width="1" stroke-linejoin="round"/><path d="M168 102.6L172.6 107.3L180.4 104.9L175.7 100.1z" fill="#8b0000" stroke="#000" stroke-width="1" stroke-linejoin="round"/><path d="M195.4 108.8L200.6 108.5L198.5 107.6zM200.6 108.5L199.4 107.2L198.5 107.6z" fill="#9b0000" stroke="#9b0000" stroke-width=".4"/><path d="M188.1 103.5L192.8 108.9L194.4 105.8zM192.8 108.9L195.4 108.8L198.5 107.6L194.4 105.8zM199.4 107.2L195.9 103L194.4 105.8L198.5 107.6zM195.9 103L188.1 103.5L194.4 105.8z" fill="#8b0000" stroke="#8b0000" stroke-width=".4"/><path d="M188.1 103.5L192.8 108.9L200.6 108.5L195.9 103z" fill="none" stroke="#000" stroke-width="1" stroke-linejoin="round"/><path d="M132.3 118.1L136.7 122L138.4 116.7zM136.7 122L143.7 116.4L142.9 116L138.4 116.7zM139.3 114.1L138.4 116.7L142.9 116zM138.1 113.3L132.3 118.1L138.4 116.7L139.3 114.1z" fill="#ad0000" stroke="#ad0000" stroke-width=".4"/><path d="M143.7 116.4L144.5 115.7L142.9 116zM144.5 115.7L140.1 111.7L139.3 114.1L142.9 116zM140.1 111.7L138.1 113.3L139.3 114.1z" fill="#9b0000" stroke="#9b0000" stroke-width=".4"/><path d="M132.3 118.1L136.7 122L144.5 115.7L140.1 111.7z" fill="none" stroke="#000" stroke-width="1" stroke-linejoin="round"/><path d="M231 125.3L233.3 126.1L231.4 124.7zM233.3 126.1L231.7 124L231.4 124.7z" fill="#bf0000" stroke="#bf0000" stroke-width=".4"/><path d="M220.8 116.8L225.6 123.5L227 121.2zM225.6 123.5L231 125.3L231.4 124.7L227 121.2zM231.7 124L228.4 119.3L227 121.2L231.4 124.7zM228.4 119.3L220.8 116.8L227 121.2z" fill="#ad0000" stroke="#ad0000" stroke-width=".4"/><path d="M220.8 116.8L225.6 123.5L233.3 126.1L228.4 119.3z" fill="none" stroke="#000" stroke-width="1" stroke-linejoin="round"/><path d="M291.6 193L295.5 196.9L291.8 191.6zM295.5 196.9L291.7 189.6L291.8 191.6z" fill="#d5fb21" stroke="#d5fb21" stroke-width=".4"/><path d="M285.9 185L288.1 189.3L289.3 188.1L286 183.5zM288.1 189.3L291.6 193L291.8 191.6L289.3 188.1zM291.7 189.6L290.5 187.1L289.3 188.1L291.8 191.6zM290.5 187.1L286 182.5L286 183.5L289.3 188.1z" fill="#f7f41d" stroke="#f7f41d" stroke-width=".4"/><path d="M283.1 179.6L285.9 185L286 183.5zM286 182.5L283.1 179.6L286 183.5z" fill="#fdd01a" stroke="#fdd01a" stroke-width=".4"/><path d="M283.1 179.6L288.1 189.3L295.5 196.9L290.5 187.1z" fill="none" stroke="#000" stroke-width="1" stroke-linejoin="round"/><path d="M124.5 125.4L128.9 129.2L130.5 123.8L130.2 123.6zM128.9 129.2L133.1 125.3L130.5 123.8zM128 122.1L124.5 125.4L130.2 123.6z" fill="#bf0000" stroke="#bf0000" stroke-width=".4"/><path d="M130.5 123.8L130.6 123.5L130.2 123.6zM133.1 125.3L136.7 122L130.6 123.5L130.5 123.8zM136.7 122L132.3 118.1L130.6 123.5zM132.3 118.1L128 122.1L130.2 123.6L130.6 123.5z" fill="#ad0000" stroke="#ad0000" stroke-width=".4"/><path d="M124.5 125.4L128.9 129.2L136.7 122L132.3 118.1z" fill="none" stroke="#000" stroke-width="1" stroke-linejoin="round"/><path d="M161.9 107.7L164.7 110.6L165.5 108.7zM164.7 110.6L168.1 109.2L165.5 108.7z" fill="#9b0000" stroke="#9b0000" stroke-width=".4"/><path d="M160.2 106L161.9 107.7L165.5 108.7L166.4 106.5zM168.1 109.2L172.6 107.3L166.4 106.5L165.5 108.7zM172.6 107.3L168 102.6L166.4 106.5zM168 102.6L160.2 106L166.4 106.5z" fill="#8b0000" stroke="#8b0000" stroke-width=".4"/><path d="M160.2 106L164.7 110.6L172.6 107.3L168 102.6z" fill="none" stroke="#000" stroke-width="1" stroke-linejoin="round"/><path d="M241.2 134.9L245.7 137.1L241.8 133.5zM245.7 137.1L242.3 131.8L241.8 133.5z" fill="#d30303" stroke="#d30303" stroke-width=".4"/><path d="M233.3 126.1L238.1 133.4L239.5 131.4zM238.1 133.4L241.2 134.9L241.8 133.5L239.5 131.4zM242.3 131.8L240.9 129.6L239.5 131.4L241.8 133.5zM240.9 129.6L233.3 126.1L239.5 131.4z" fill="#bf0000" stroke="#bf0000" stroke-width=".4"/><path d="M233.3 126.1L238.1 133.4L245.7 137.1L240.9 129.6z" fill="none" stroke="#000" stroke-width="1" stroke-linejoin="round"/><path d="M279.7 176.6L283.1 179.6L279.9 175.4zM283.1 179.6L279.9 173.8L279.9 175.4z" fill="#fdd01a" stroke="#fdd01a" stroke-width=".4"/><path d="M273.3 168.6L275.7 173L276.9 171.5L273.4 167.2zM275.7 173L279.7 176.6L279.9 175.4L276.9 171.5zM279.9 173.8L278.1 170.3L276.9 171.5L279.9 175.4zM278.1 170.3L273.4 166.3L273.4 167.2L276.9 171.5z" fill="#ff9716" stroke="#ff9716" stroke-width=".4"/><path d="M270.7 163.8L273.3 168.6L273.4 167.2zM273.4 166.3L270.7 163.8L273.4 167.2z" fill="#ff5713" stroke="#ff5713" stroke-width=".4"/><path d="M270.7 163.8L275.7 173L283.1 179.6L278.1 170.3z" fill="none" stroke="#000" stroke-width="1" stroke-linejoin="round"/><path d="M116.7 133.6L121.1 137.3L122.4 132.7L121.1 131.9zM121.1 137.3L124.4 133.9L122.4 132.7zM119.5 130.7L116.7 133.6L121.1 131.9z" fill="#d30303" stroke="#d30303" stroke-width=".4"/><path d="M122.4 132.7L122.8 131.2L121.1 131.9zM124.4 133.9L128.9 129.2L122.8 131.2L122.4 132.7zM128.9 129.2L124.5 125.4L122.8 131.2zM124.5 125.4L119.5 130.7L121.1 131.9L122.8 131.2z" fill="#bf0000" stroke="#bf0000" stroke-width=".4"/><path d="M116.7 133.6L121.1 137.3L128.9 129.2L124.5 125.4z" fill="none" stroke="#000" stroke-width="1" stroke-linejoin="round"/><path d="M200.6 108.5L205.3 114.5L213.1 115.2L208.3 109.1z" fill="#9b0000" stroke="#000" stroke-width="1" stroke-linejoin="round"/><path d="M250.3 144.4L250.7 145L252 143.1L250.9 142.1zM250.7 145L258.2 149.6L252 143.1zM258.2 149.6L253.3 141.6L252 143.1zM253.3 141.6L251.2 140.3L250.9 142.1L252 143.1z" fill="#ea0909" stroke="#ea0909" stroke-width=".4"/><path d="M245.7 137.1L250.3 144.4L250.9 142.1zM251.2 140.3L245.7 137.1L250.9 142.1z" fill="#d30303" stroke="#d30303" stroke-width=".4"/><path d="M245.7 137.1L250.7 145L258.2 149.6L253.3 141.6z" fill="none" stroke="#000" stroke-width="1" stroke-linejoin="round"/><path d="M266.2 160.5L270.7 163.8L266.5 159zM270.7 163.8L266.7 156.9L266.5 159z" fill="#ff5713" stroke="#ff5713" stroke-width=".4"/><path d="M259 151L263.2 158.2L264.5 156.5L259.1 150.6zM263.2 158.2L266.2 160.5L266.5 159L264.5 156.5zM266.7 156.9L265.7 155.2L264.5 156.5L266.5 159zM265.7 155.2L259.1 150.3L259.1 150.6L264.5 156.5z" fill="#ff1910" stroke="#ff1910" stroke-width=".4"/><path d="M258.2 149.6L259 151L259.1 150.6zM259.1 150.3L258.2 149.6L259.1 150.6z" fill="#ea0909" stroke="#ea0909" stroke-width=".4"/><path d="M258.2 149.6L263.2 158.2L270.7 163.8L265.7 155.2z" fill="none" stroke="#000" stroke-width="1" stroke-linejoin="round"/><path d="M180.4 104.9L185 110.2L192.8 108.9L188.1 103.5z" fill="#8b0000" stroke="#000" stroke-width="1" stroke-linejoin="round"/><path d="M108.9 142.8L113.3 146.4L114.7 141L113.9 140.4zM113.3 146.4L116.8 142.3L114.7 141zM112.1 139L108.9 142.8L113.9 140.4z" fill="#ea0909" stroke="#ea0909" stroke-width=".4"/><path d="M114.7 141L115 139.9L113.9 140.4zM116.8 142.3L121.1 137.3L115 139.9L114.7 141zM121.1 137.3L116.7 133.6L115 139.9zM116.7 133.6L112.1 139L113.9 140.4L115 139.9z" fill="#d30303" stroke="#d30303" stroke-width=".4"/><path d="M108.9 142.8L113.3 146.4L121.1 137.3L116.7 133.6z" fill="none" stroke="#000" stroke-width="1" stroke-linejoin="round"/><path d="M93.4 163.9L97.7 167.4L97.8 166.9L93.8 163.6zM97.7 167.4L98 167L97.8 166.9zM93.7 163.5L93.4 163.9L93.8 163.6z" fill="#ff9716" stroke="#ff9716" stroke-width=".4"/><path d="M97.8 166.9L99.4 160L93.8 163.6zM98 167L103.7 158.8L102.7 158.1L99.4 160L97.8 166.9zM100.3 156.3L99.4 160L102.7 158.1zM99.4 155.4L93.7 163.5L93.8 163.6L99.4 160L100.3 156.3z" fill="#ff5713" stroke="#ff5713" stroke-width=".4"/><path d="M103.7 158.8L105.5 156.4L102.7 158.1zM105.5 156.4L101.2 152.9L100.3 156.3L102.7 158.1zM101.2 152.9L99.4 155.4L100.3 156.3z" fill="#ff1910" stroke="#ff1910" stroke-width=".4"/><path d="M93.4 163.9L97.7 167.4L105.5 156.4L101.2 152.9z" fill="none" stroke="#000" stroke-width="1" stroke-linejoin="round"/><path d="M101.2 152.9L105.5 156.4L107.2 149.5zM105.5 156.4L110 150.6L107.8 149.1L107.2 149.5zM107.4 148.8L107.2 149.5L107.8 149.1zM105.5 147.3L101.2 152.9L107.2 149.5L107.4 148.8z" fill="#ff1910" stroke="#ff1910" stroke-width=".4"/><path d="M110 150.6L113.3 146.4L107.8 149.1zM113.3 146.4L108.9 142.8L107.4 148.8L107.8 149.1zM108.9 142.8L105.5 147.3L107.4 148.8z" fill="#ea0909" stroke="#ea0909" stroke-width=".4"/><path d="M101.2 152.9L105.5 156.4L113.3 146.4L108.9 142.8z" fill="none" stroke="#000" stroke-width="1" stroke-linejoin="round"/><path d="M152.4 110.4L156.9 114.9L158.5 110.3zM156.9 114.9L164.7 110.6L158.5 110.3zM164.7 110.6L161.9 107.7L159.8 107.1L158.5 110.3zM158.8 106.8L152.4 110.4L158.5 110.3L159.8 107.1z" fill="#9b0000" stroke="#9b0000" stroke-width=".4"/><path d="M161.9 107.7L160.2 106L159.8 107.1zM160.2 106L158.8 106.8L159.8 107.1z" fill="#8b0000" stroke="#8b0000" stroke-width=".4"/><path d="M152.4 110.4L156.9 114.9L164.7 110.6L160.2 106z" fill="none" stroke="#000" stroke-width="1" stroke-linejoin="round"/><path d="M215.8 118.9L217.9 121.8L219.3 119.1L217.1 117.7zM217.9 121.8L225.6 123.5L219.3 119.1zM225.6 123.5L220.8 116.8L219.3 119.1zM220.8 116.8L218.2 116.2L217.1 117.7L219.3 119.1z" fill="#ad0000" stroke="#ad0000" stroke-width=".4"/><path d="M213.1 115.2L215.8 118.9L217.1 117.7zM218.2 116.2L213.1 115.2L217.1 117.7z" fill="#9b0000" stroke="#9b0000" stroke-width=".4"/><path d="M213.1 115.2L217.9 121.8L225.6 123.5L220.8 116.8z" fill="none" stroke="#000" stroke-width="1" stroke-linejoin="round"/><path d="M146.5 117.7L149.1 120.1L149.5 118.9zM149.1 120.1L150.4 119.3L149.5 118.9z" fill="#ad0000" stroke="#ad0000" stroke-width=".4"/><path d="M144.5 115.7L146.5 117.7L149.5 118.9L150.7 115.1zM150.4 119.3L156.9 114.9L150.7 115.1L149.5 118.9zM156.9 114.9L152.4 110.4L150.7 115.1zM152.4 110.4L144.5 115.7L150.7 115.1z" fill="#9b0000" stroke="#9b0000" stroke-width=".4"/><path d="M144.5 115.7L149.1 120.1L156.9 114.9L152.4 110.4z" fill="none" stroke="#000" stroke-width="1" stroke-linejoin="round"/><path d="M175.3 110.4L177.2 112.5L178 110.6zM177.2 112.5L183.5 110.7L178 110.6z" fill="#9b0000" stroke="#9b0000" stroke-width=".4"/><path d="M172.6 107.3L175.3 110.4L178 110.6L178.8 108.6zM183.5 110.7L185 110.2L178.8 108.6L178 110.6zM185 110.2L180.4 104.9L178.8 108.6zM180.4 104.9L172.6 107.3L178.8 108.6z" fill="#8b0000" stroke="#8b0000" stroke-width=".4"/><path d="M172.6 107.3L177.2 112.5L185 110.2L180.4 104.9z" fill="none" stroke="#000" stroke-width="1" stroke-linejoin="round"/><path d="M193.3 109.5L197.6 114.8L199.1 111.5L193.9 109.4zM197.6 114.8L205.3 114.5L199.1 111.5zM205.3 114.5L200.6 108.5L199.1 111.5zM200.6 108.5L195.4 108.8L193.9 109.4L199.1 111.5z" fill="#9b0000" stroke="#9b0000" stroke-width=".4"/><path d="M192.8 108.9L193.3 109.5L193.9 109.4zM195.4 108.8L192.8 108.9L193.9 109.4z" fill="#8b0000" stroke="#8b0000" stroke-width=".4"/><path d="M192.8 108.9L197.6 114.8L205.3 114.5L200.6 108.5z" fill="none" stroke="#000" stroke-width="1" stroke-linejoin="round"/><path d="M229 128.6L230.5 130.7L231.9 128.2L230.2 127zM230.5 130.7L238.1 133.4L231.9 128.2zM238.1 133.4L233.3 126.1L231.9 128.2zM233.3 126.1L231 125.3L230.2 127L231.9 128.2z" fill="#bf0000" stroke="#bf0000" stroke-width=".4"/><path d="M225.6 123.5L229 128.6L230.2 127zM231 125.3L225.6 123.5L230.2 127z" fill="#ad0000" stroke="#ad0000" stroke-width=".4"/><path d="M225.6 123.5L230.5 130.7L238.1 133.4L233.3 126.1z" fill="none" stroke="#000" stroke-width="1" stroke-linejoin="round"/><path d="M136.7 122L141.2 126.3L142.9 120.9zM141.2 126.3L149.1 120.1L142.9 120.9zM149.1 120.1L146.5 117.7L144.2 116.6L142.9 120.9zM143.7 116.4L136.7 122L142.9 120.9L144.2 116.6z" fill="#ad0000" stroke="#ad0000" stroke-width=".4"/><path d="M146.5 117.7L144.5 115.7L144.2 116.6zM144.5 115.7L143.7 116.4L144.2 116.6z" fill="#9b0000" stroke="#9b0000" stroke-width=".4"/><path d="M136.7 122L141.2 126.3L149.1 120.1L144.5 115.7z" fill="none" stroke="#000" stroke-width="1" stroke-linejoin="round"/><path d="M285.6 187.1L288.1 189.3L285.8 186.2zM288.1 189.3L285.9 185L285.8 186.2z" fill="#f7f41d" stroke="#f7f41d" stroke-width=".4"/><path d="M279.3 179.9L280.7 182.6L281.9 181L279.6 178zM280.7 182.6L285.6 187.1L285.8 186.2L281.9 181zM285.9 185L283.1 179.6L281.9 181L285.8 186.2zM283.1 179.6L279.7 176.6L279.6 178L281.9 181z" fill="#fdd01a" stroke="#fdd01a" stroke-width=".4"/><path d="M275.7 173L279.3 179.9L279.6 178zM279.7 176.6L275.7 173L279.6 178z" fill="#ff9716" stroke="#ff9716" stroke-width=".4"/><path d="M275.7 173L280.7 182.6L288.1 189.3L283.1 179.6z" fill="none" stroke="#000" stroke-width="1" stroke-linejoin="round"/><path d="M250.1 144.7L250.7 145L250.2 144.6zM250.7 145L250.3 144.4L250.2 144.6z" fill="#ea0909" stroke="#ea0909" stroke-width=".4"/><path d="M240.3 136.9L243 141.2L244.4 139L240.9 135.9zM243 141.2L250.1 144.7L250.2 144.6L244.4 139zM250.3 144.4L245.7 137.1L244.4 139L250.2 144.6zM245.7 137.1L241.2 134.9L240.9 135.9L244.4 139z" fill="#d30303" stroke="#d30303" stroke-width=".4"/><path d="M238.1 133.4L240.3 136.9L240.9 135.9zM241.2 134.9L238.1 133.4L240.9 135.9z" fill="#bf0000" stroke="#bf0000" stroke-width=".4"/><path d="M238.1 133.4L243 141.2L250.7 145L245.7 137.1z" fill="none" stroke="#000" stroke-width="1" stroke-linejoin="round"/><path d="M272.8 170.8L275.7 173L273.1 169.8zM275.7 173L273.3 168.6L273.1 169.8z" fill="#ff9716" stroke="#ff9716" stroke-width=".4"/><path d="M265.7 162.8L268.2 167.2L269.4 165.4L266.1 161.5zM268.2 167.2L272.8 170.8L273.1 169.8L269.4 165.4zM273.3 168.6L270.7 163.8L269.4 165.4L273.1 169.8zM270.7 163.8L266.2 160.5L266.1 161.5L269.4 165.4z" fill="#ff5713" stroke="#ff5713" stroke-width=".4"/><path d="M263.2 158.2L265.7 162.8L266.1 161.5zM266.2 160.5L263.2 158.2L266.1 161.5z" fill="#ff1910" stroke="#ff1910" stroke-width=".4"/><path d="M263.2 158.2L268.2 167.2L275.7 173L270.7 163.8z" fill="none" stroke="#000" stroke-width="1" stroke-linejoin="round"/><path d="M257.8 154.8L263.2 158.2L258.5 153.1zM263.2 158.2L259 151L258.5 153.1z" fill="#ff1910" stroke="#ff1910" stroke-width=".4"/><path d="M250.7 145L255.6 153.4L256.9 151.4zM255.6 153.4L257.8 154.8L258.5 153.1L256.9 151.4zM259 151L258.2 149.6L256.9 151.4L258.5 153.1zM258.2 149.6L250.7 145L256.9 151.4z" fill="#ea0909" stroke="#ea0909" stroke-width=".4"/><path d="M250.7 145L255.6 153.4L263.2 158.2L258.2 149.6z" fill="none" stroke="#000" stroke-width="1" stroke-linejoin="round"/><path d="M164.7 110.6L169.4 115.8L171 111.4zM169.4 115.8L177.2 112.5L171 111.4zM177.2 112.5L175.3 110.4L171.5 109.9L171 111.4zM168.1 109.2L164.7 110.6L171 111.4L171.5 109.9z" fill="#9b0000" stroke="#9b0000" stroke-width=".4"/><path d="M175.3 110.4L172.6 107.3L171.5 109.9zM172.6 107.3L168.1 109.2L171.5 109.9z" fill="#8b0000" stroke="#8b0000" stroke-width=".4"/><path d="M164.7 110.6L169.4 115.8L177.2 112.5L172.6 107.3z" fill="none" stroke="#000" stroke-width="1" stroke-linejoin="round"/><path d="M128.9 129.2L133.3 133.4L135 127.5zM133.3 133.4L139 128.3L136.6 127.2L135 127.5zM135.3 126.6L135 127.5L136.6 127.2zM133.1 125.3L128.9 129.2L135 127.5L135.3 126.6z" fill="#bf0000" stroke="#bf0000" stroke-width=".4"/><path d="M139 128.3L141.2 126.3L136.6 127.2zM141.2 126.3L136.7 122L135.3 126.6L136.6 127.2zM136.7 122L133.1 125.3L135.3 126.6z" fill="#ad0000" stroke="#ad0000" stroke-width=".4"/><path d="M128.9 129.2L133.3 133.4L141.2 126.3L136.7 122z" fill="none" stroke="#000" stroke-width="1" stroke-linejoin="round"/><path d="M212.3 121.3L217.9 121.8L214.7 119.8zM217.9 121.8L215.8 118.9L214.7 119.8z" fill="#ad0000" stroke="#ad0000" stroke-width=".4"/><path d="M205.3 114.5L210.1 121L211.6 118zM210.1 121L212.3 121.3L214.7 119.8L211.6 118zM215.8 118.9L213.1 115.2L211.6 118L214.7 119.8zM213.1 115.2L205.3 114.5L211.6 118z" fill="#9b0000" stroke="#9b0000" stroke-width=".4"/><path d="M205.3 114.5L210.1 121L217.9 121.8L213.1 115.2z" fill="none" stroke="#000" stroke-width="1" stroke-linejoin="round"/><path d="M185.4 110.7L189.7 116.1L191.3 112.3L186.1 110.6zM189.7 116.1L197.6 114.8L191.3 112.3zM197.6 114.8L193.3 109.5L192.5 109.7L191.3 112.3zM186.1 110.6L191.3 112.3L192.5 109.7z" fill="#9b0000" stroke="#9b0000" stroke-width=".4"/><path d="M185 110.2L185.4 110.7L186.1 110.6zM193.3 109.5L192.8 108.9L192.5 109.7zM192.8 108.9L185 110.2L186.1 110.6L192.5 109.7z" fill="#8b0000" stroke="#8b0000" stroke-width=".4"/><path d="M185 110.2L189.7 116.1L197.6 114.8L192.8 108.9z" fill="none" stroke="#000" stroke-width="1" stroke-linejoin="round"/><path d="M121.1 137.3L125.5 141.5L127.1 135.6L126.7 135.4zM125.5 141.5L129.8 137.1L127.1 135.6zM124.4 133.9L121.1 137.3L126.7 135.4z" fill="#d30303" stroke="#d30303" stroke-width=".4"/><path d="M127.1 135.6L127.2 135.2L126.7 135.4zM129.8 137.1L133.3 133.4L127.2 135.2L127.1 135.6zM133.3 133.4L128.9 129.2L127.2 135.2zM128.9 129.2L124.4 133.9L126.7 135.4L127.2 135.2z" fill="#bf0000" stroke="#bf0000" stroke-width=".4"/><path d="M121.1 137.3L125.5 141.5L133.3 133.4L128.9 129.2z" fill="none" stroke="#000" stroke-width="1" stroke-linejoin="round"/><path d="M113.3 146.4L117.6 150.5L119.3 144L119.1 143.9zM117.6 150.5L121.9 145.6L119.3 144zM116.8 142.3L113.3 146.4L119.1 143.9z" fill="#ea0909" stroke="#ea0909" stroke-width=".4"/><path d="M119.3 144L119.4 143.8L119.1 143.9zM121.9 145.6L125.5 141.5L119.4 143.8L119.3 144zM125.5 141.5L121.1 137.3L119.4 143.8zM121.1 137.3L116.8 142.3L119.1 143.9L119.4 143.8z" fill="#d30303" stroke="#d30303" stroke-width=".4"/><path d="M113.3 146.4L117.6 150.5L125.5 141.5L121.1 137.3z" fill="none" stroke="#000" stroke-width="1" stroke-linejoin="round"/><path d="M97.7 167.4L102 171.3L102.2 170.1L98.1 167.1zM102 171.3L102.6 170.4L102.2 170.1zM98 167L97.7 167.4L98.1 167.1z" fill="#ff9716" stroke="#ff9716" stroke-width=".4"/><path d="M102.2 170.1L103.7 163.7L98.1 167.1zM102.6 170.4L108.5 162.2L107.6 161.6L103.7 163.7L102.2 170.1zM104.7 159.6L103.7 163.7L107.6 161.6zM103.7 158.8L98 167L98.1 167.1L103.7 163.7L104.7 159.6z" fill="#ff5713" stroke="#ff5713" stroke-width=".4"/><path d="M108.5 162.2L109.8 160.5L107.6 161.6zM109.8 160.5L105.5 156.4L104.7 159.6L107.6 161.6zM105.5 156.4L103.7 158.8L104.7 159.6z" fill="#ff1910" stroke="#ff1910" stroke-width=".4"/><path d="M97.7 167.4L102 171.3L109.8 160.5L105.5 156.4z" fill="none" stroke="#000" stroke-width="1" stroke-linejoin="round"/><path d="M105.5 156.4L109.8 160.5L111.5 153.3zM109.8 160.5L114.9 153.9L112.9 152.7L111.5 153.3zM111.8 152L111.5 153.3L112.9 152.7zM110 150.6L105.5 156.4L111.5 153.3L111.8 152z" fill="#ff1910" stroke="#ff1910" stroke-width=".4"/><path d="M114.9 153.9L117.6 150.5L112.9 152.7zM117.6 150.5L113.3 146.4L111.8 152L112.9 152.7zM113.3 146.4L110 150.6L111.8 152z" fill="#ea0909" stroke="#ea0909" stroke-width=".4"/><path d="M105.5 156.4L109.8 160.5L117.6 150.5L113.3 146.4z" fill="none" stroke="#000" stroke-width="1" stroke-linejoin="round"/><path d="M156.9 114.9L161.5 119.9L169.4 115.8L164.7 110.6z" fill="#9b0000" stroke="#000" stroke-width="1" stroke-linejoin="round"/><path d="M227.6 130L230.5 130.7L228.5 129.2zM230.5 130.7L229 128.6L228.5 129.2z" fill="#bf0000" stroke="#bf0000" stroke-width=".4"/><path d="M217.9 121.8L222.7 128.9L224.2 126zM222.7 128.9L227.6 130L228.5 129.2L224.2 126zM229 128.6L225.6 123.5L224.2 126L228.5 129.2zM225.6 123.5L217.9 121.8L224.2 126z" fill="#ad0000" stroke="#ad0000" stroke-width=".4"/><path d="M217.9 121.8L222.7 128.9L230.5 130.7L225.6 123.5z" fill="none" stroke="#000" stroke-width="1" stroke-linejoin="round"/><path d="M238.5 139.6L243 141.2L239.5 138.2zM243 141.2L240.3 136.9L239.5 138.2z" fill="#d30303" stroke="#d30303" stroke-width=".4"/><path d="M230.5 130.7L235.3 138.4L236.7 135.8zM235.3 138.4L238.5 139.6L239.5 138.2L236.7 135.8zM240.3 136.9L238.1 133.4L236.7 135.8L239.5 138.2zM238.1 133.4L230.5 130.7L236.7 135.8z" fill="#bf0000" stroke="#bf0000" stroke-width=".4"/><path d="M230.5 130.7L235.3 138.4L243 141.2L238.1 133.4z" fill="none" stroke="#000" stroke-width="1" stroke-linejoin="round"/><path d="M177.2 112.5L181.9 118.2L183.5 114.1zM181.9 118.2L189.7 116.1L183.5 114.1zM189.7 116.1L185.4 110.7L184.8 110.7L183.5 114.1zM183.5 110.7L177.2 112.5L183.5 114.1L184.8 110.7z" fill="#9b0000" stroke="#9b0000" stroke-width=".4"/><path d="M185.4 110.7L185 110.2L184.8 110.7zM185 110.2L183.5 110.7L184.8 110.7z" fill="#8b0000" stroke="#8b0000" stroke-width=".4"/><path d="M177.2 112.5L181.9 118.2L189.7 116.1L185 110.2z" fill="none" stroke="#000" stroke-width="1" stroke-linejoin="round"/><path d="M197.6 114.8L202.3 121.2L210.1 121L205.3 114.5z" fill="#9b0000" stroke="#000" stroke-width="1" stroke-linejoin="round"/><path d="M149.1 120.1L153.6 125.1L154.9 121L152.2 120zM153.6 125.1L158.3 122L154.9 121zM150.4 119.3L149.1 120.1L152.2 120z" fill="#ad0000" stroke="#ad0000" stroke-width=".4"/><path d="M154.9 121L155.3 119.8L152.2 120zM158.3 122L161.5 119.9L155.3 119.8L154.9 121zM161.5 119.9L156.9 114.9L155.3 119.8zM156.9 114.9L150.4 119.3L152.2 120L155.3 119.8z" fill="#9b0000" stroke="#9b0000" stroke-width=".4"/><path d="M149.1 120.1L153.6 125.1L161.5 119.9L156.9 114.9z" fill="none" stroke="#000" stroke-width="1" stroke-linejoin="round"/><path d="M247.8 149.2L248 149.6L249.3 147.1L249.1 147zM248 149.6L255.6 153.4L249.3 147.1zM255.6 153.4L250.7 145L249.3 147.1zM250.7 145L250.1 144.7L249.1 147L249.3 147.1z" fill="#ea0909" stroke="#ea0909" stroke-width=".4"/><path d="M243 141.2L247.8 149.2L249.1 147zM250.1 144.7L243 141.2L249.1 147z" fill="#d30303" stroke="#d30303" stroke-width=".4"/><path d="M243 141.2L248 149.6L255.6 153.4L250.7 145z" fill="none" stroke="#000" stroke-width="1" stroke-linejoin="round"/><path d="M278.9 181.2L280.7 182.6L279.1 180.6zM280.7 182.6L279.3 179.9L279.1 180.6z" fill="#fdd01a" stroke="#fdd01a" stroke-width=".4"/><path d="M271.8 174.2L273.2 176.8L274.4 174.7L272.4 172.3zM273.2 176.8L278.9 181.2L279.1 180.6L274.4 174.7zM279.3 179.9L275.7 173L274.4 174.7L279.1 180.6zM275.7 173L272.8 170.8L272.4 172.3L274.4 174.7z" fill="#ff9716" stroke="#ff9716" stroke-width=".4"/><path d="M268.2 167.2L271.8 174.2L272.4 172.3zM272.8 170.8L268.2 167.2L272.4 172.3z" fill="#ff5713" stroke="#ff5713" stroke-width=".4"/><path d="M268.2 167.2L273.2 176.8L280.7 182.6L275.7 173z" fill="none" stroke="#000" stroke-width="1" stroke-linejoin="round"/><path d="M264.8 165.1L268.2 167.2L265.3 164zM268.2 167.2L265.7 162.8L265.3 164z" fill="#ff5713" stroke="#ff5713" stroke-width=".4"/><path d="M257.2 156.3L260.6 162.4L261.9 160.1L257.6 155.5zM260.6 162.4L264.8 165.1L265.3 164L261.9 160.1zM265.7 162.8L263.2 158.2L261.9 160.1L265.3 164zM263.2 158.2L257.8 154.8L257.6 155.5L261.9 160.1z" fill="#ff1910" stroke="#ff1910" stroke-width=".4"/><path d="M255.6 153.4L257.2 156.3L257.6 155.5zM257.8 154.8L255.6 153.4L257.6 155.5z" fill="#ea0909" stroke="#ea0909" stroke-width=".4"/><path d="M255.6 153.4L260.6 162.4L268.2 167.2L263.2 158.2z" fill="none" stroke="#000" stroke-width="1" stroke-linejoin="round"/><path d="M141.2 126.3L145.7 131.1L153.6 125.1L149.1 120.1z" fill="#ad0000" stroke="#000" stroke-width="1" stroke-linejoin="round"/><path d="M210.9 122.1L214.9 128L216.4 124.8L211.5 121.8zM214.9 128L222.7 128.9L216.4 124.8zM222.7 128.9L217.9 121.8L216.4 124.8zM217.9 121.8L212.3 121.3L211.5 121.8L216.4 124.8z" fill="#ad0000" stroke="#ad0000" stroke-width=".4"/><path d="M210.1 121L210.9 122.1L211.5 121.8zM212.3 121.3L210.1 121L211.5 121.8z" fill="#9b0000" stroke="#9b0000" stroke-width=".4"/><path d="M210.1 121L214.9 128L222.7 128.9L217.9 121.8z" fill="none" stroke="#000" stroke-width="1" stroke-linejoin="round"/><path d="M169.4 115.8L174 121.4L181.9 118.2L177.2 112.5z" fill="#9b0000" stroke="#000" stroke-width="1" stroke-linejoin="round"/><path d="M133.3 133.4L137.8 138.2L139.5 132.1zM137.8 138.2L145.5 131.3L145.3 131.2L139.5 132.1zM140.4 129.1L139.5 132.1L145.3 131.2zM139 128.3L133.3 133.4L139.5 132.1L140.4 129.1z" fill="#bf0000" stroke="#bf0000" stroke-width=".4"/><path d="M145.5 131.3L145.7 131.1L145.3 131.2zM145.7 131.1L141.2 126.3L140.4 129.1L145.3 131.2zM141.2 126.3L139 128.3L140.4 129.1z" fill="#ad0000" stroke="#ad0000" stroke-width=".4"/><path d="M133.3 133.4L137.8 138.2L145.7 131.1L141.2 126.3z" fill="none" stroke="#000" stroke-width="1" stroke-linejoin="round"/><path d="M189.7 116.1L194.5 122.3L202.3 121.2L197.6 114.8z" fill="#9b0000" stroke="#000" stroke-width="1" stroke-linejoin="round"/><path d="M125.5 141.5L129.9 146.2L131.6 139.6zM129.9 146.2L135.9 140.2L133.7 139.2L131.6 139.6zM132 138.3L131.6 139.6L133.7 139.2zM129.8 137.1L125.5 141.5L131.6 139.6L132 138.3z" fill="#d30303" stroke="#d30303" stroke-width=".4"/><path d="M135.9 140.2L137.8 138.2L133.7 139.2zM137.8 138.2L133.3 133.4L132 138.3L133.7 139.2zM133.3 133.4L129.8 137.1L132 138.3z" fill="#bf0000" stroke="#bf0000" stroke-width=".4"/><path d="M125.5 141.5L129.9 146.2L137.8 138.2L133.3 133.4z" fill="none" stroke="#000" stroke-width="1" stroke-linejoin="round"/><path d="M224.9 132.4L227.6 136.5L229 133.5L226.2 131.4zM227.6 136.5L235.3 138.4L229 133.5zM235.3 138.4L230.5 130.7L229 133.5zM230.5 130.7L227.6 130L226.2 131.4L229 133.5z" fill="#bf0000" stroke="#bf0000" stroke-width=".4"/><path d="M222.7 128.9L224.9 132.4L226.2 131.4zM227.6 130L222.7 128.9L226.2 131.4z" fill="#ad0000" stroke="#ad0000" stroke-width=".4"/><path d="M222.7 128.9L227.6 136.5L235.3 138.4L230.5 130.7z" fill="none" stroke="#000" stroke-width="1" stroke-linejoin="round"/><path d="M117.6 150.5L122 155.1L123.8 148.1zM122 155.1L127.6 148.8L125.4 147.6L123.8 148.1zM124.1 146.9L123.8 148.1L125.4 147.6zM121.9 145.6L117.6 150.5L123.8 148.1L124.1 146.9z" fill="#ea0909" stroke="#ea0909" stroke-width=".4"/><path d="M127.6 148.8L129.9 146.2L125.4 147.6zM129.9 146.2L125.5 141.5L124.1 146.9L125.4 147.6zM125.5 141.5L121.9 145.6L124.1 146.9z" fill="#d30303" stroke="#d30303" stroke-width=".4"/><path d="M117.6 150.5L122 155.1L129.9 146.2L125.5 141.5z" fill="none" stroke="#000" stroke-width="1" stroke-linejoin="round"/><path d="M164.7 123.8L166.1 125.4L166.5 124.2zM166.1 125.4L168 124.5L166.5 124.2z" fill="#ad0000" stroke="#ad0000" stroke-width=".4"/><path d="M161.5 119.9L164.7 123.8L166.5 124.2L167.7 120.4zM168 124.5L174 121.4L167.7 120.4L166.5 124.2zM174 121.4L169.4 115.8L167.7 120.4zM169.4 115.8L161.5 119.9L167.7 120.4z" fill="#9b0000" stroke="#9b0000" stroke-width=".4"/><path d="M161.5 119.9L166.1 125.4L174 121.4L169.4 115.8z" fill="none" stroke="#000" stroke-width="1" stroke-linejoin="round"/><path d="M102 171.3L106.3 175.8L106.9 173.3L103.1 170.7zM106.3 175.8L107.7 173.8L106.9 173.3zM102.6 170.4L102 171.3L103.1 170.7z" fill="#ff9716" stroke="#ff9716" stroke-width=".4"/><path d="M106.9 173.3L108 168L103.1 170.7zM107.7 173.8L113.7 165.6L113.4 165.4L108 168L106.9 173.3zM109.3 162.7L108 168L113.4 165.4zM108.5 162.2L102.6 170.4L103.1 170.7L108 168L109.3 162.7z" fill="#ff5713" stroke="#ff5713" stroke-width=".4"/><path d="M113.7 165.6L114.2 165L113.4 165.4zM114.2 165L109.8 160.5L109.3 162.7L113.4 165.4zM109.8 160.5L108.5 162.2L109.3 162.7z" fill="#ff1910" stroke="#ff1910" stroke-width=".4"/><path d="M102 171.3L106.3 175.8L114.2 165L109.8 160.5z" fill="none" stroke="#000" stroke-width="1" stroke-linejoin="round"/><path d="M109.8 160.5L114.2 165L115.9 157.6zM114.2 165L120.4 157.2L118.9 156.4L115.9 157.6zM116.5 155L115.9 157.6L118.9 156.4zM114.9 153.9L109.8 160.5L115.9 157.6L116.5 155z" fill="#ff1910" stroke="#ff1910" stroke-width=".4"/><path d="M120.4 157.2L122 155.1L118.9 156.4zM122 155.1L117.6 150.5L116.5 155L118.9 156.4zM117.6 150.5L114.9 153.9L116.5 155z" fill="#ea0909" stroke="#ea0909" stroke-width=".4"/><path d="M109.8 160.5L114.2 165L122 155.1L117.6 150.5z" fill="none" stroke="#000" stroke-width="1" stroke-linejoin="round"/><path d="M247.6 149.4L248 149.6L247.7 149.3zM248 149.6L247.8 149.2L247.7 149.3z" fill="#ea0909" stroke="#ea0909" stroke-width=".4"/><path d="M237.1 141.3L240.3 146.6L241.7 143.8L237.8 140.5zM240.3 146.6L247.6 149.4L247.7 149.3L241.7 143.8zM247.8 149.2L243 141.2L241.7 143.8L247.7 149.3zM243 141.2L238.5 139.6L237.8 140.5L241.7 143.8z" fill="#d30303" stroke="#d30303" stroke-width=".4"/><path d="M235.3 138.4L237.1 141.3L237.8 140.5zM238.5 139.6L235.3 138.4L237.8 140.5z" fill="#bf0000" stroke="#bf0000" stroke-width=".4"/><path d="M235.3 138.4L240.3 146.6L248 149.6L243 141.2z" fill="none" stroke="#000" stroke-width="1" stroke-linejoin="round"/><path d="M204.6 124.5L207.1 128.1L208.6 124.4L207.1 123.7zM207.1 128.1L214.9 128L208.6 124.4zM214.9 128L210.9 122.1L209.3 122.8L208.6 124.4zM207.1 123.7L208.6 124.4L209.3 122.8z" fill="#ad0000" stroke="#ad0000" stroke-width=".4"/><path d="M202.3 121.2L204.6 124.5L207.1 123.7zM210.9 122.1L210.1 121L209.3 122.8zM210.1 121L202.3 121.2L207.1 123.7L209.3 122.8z" fill="#9b0000" stroke="#9b0000" stroke-width=".4"/><path d="M202.3 121.2L207.1 128.1L214.9 128L210.1 121z" fill="none" stroke="#000" stroke-width="1" stroke-linejoin="round"/><path d="M255.3 159.6L260.6 162.4L256.4 158zM260.6 162.4L257.2 156.3L256.4 158z" fill="#ff1910" stroke="#ff1910" stroke-width=".4"/><path d="M248 149.6L252.9 158.4L254.3 155.8zM252.9 158.4L255.3 159.6L256.4 158L254.3 155.8zM257.2 156.3L255.6 153.4L254.3 155.8L256.4 158zM255.6 153.4L248 149.6L254.3 155.8z" fill="#ea0909" stroke="#ea0909" stroke-width=".4"/><path d="M248 149.6L252.9 158.4L260.6 162.4L255.6 153.4z" fill="none" stroke="#000" stroke-width="1" stroke-linejoin="round"/><path d="M181.9 118.2L186.6 124.4L194.5 122.3L189.7 116.1z" fill="#9b0000" stroke="#000" stroke-width="1" stroke-linejoin="round"/><path d="M271.2 175.5L273.2 176.8L271.6 174.9zM273.2 176.8L271.8 174.2L271.6 174.9z" fill="#ff9716" stroke="#ff9716" stroke-width=".4"/><path d="M263.5 167.9L265.6 171.8L266.9 169.4L264.3 166.5zM265.6 171.8L271.2 175.5L271.6 174.9L266.9 169.4zM271.8 174.2L268.2 167.2L266.9 169.4L271.6 174.9zM268.2 167.2L264.8 165.1L264.3 166.5L266.9 169.4z" fill="#ff5713" stroke="#ff5713" stroke-width=".4"/><path d="M260.6 162.4L263.5 167.9L264.3 166.5zM264.8 165.1L260.6 162.4L264.3 166.5z" fill="#ff1910" stroke="#ff1910" stroke-width=".4"/><path d="M260.6 162.4L265.6 171.8L273.2 176.8L268.2 167.2z" fill="none" stroke="#000" stroke-width="1" stroke-linejoin="round"/><path d="M153.6 125.1L158.2 130.5L159.9 125zM158.2 130.5L166.1 125.4L159.9 125zM166.1 125.4L164.7 123.8L160.6 122.7L159.9 125zM158.3 122L153.6 125.1L159.9 125L160.6 122.7z" fill="#ad0000" stroke="#ad0000" stroke-width=".4"/><path d="M164.7 123.8L161.5 119.9L160.6 122.7zM161.5 119.9L158.3 122L160.6 122.7z" fill="#9b0000" stroke="#9b0000" stroke-width=".4"/><path d="M153.6 125.1L158.2 130.5L166.1 125.4L161.5 119.9z" fill="none" stroke="#000" stroke-width="1" stroke-linejoin="round"/><path d="M219.8 135.5L219.8 135.5L219.8 135.4zM219.8 135.5L227.6 136.5L223.3 133.5L219.8 135.4zM227.6 136.5L224.9 132.4L223.3 133.5z" fill="#bf0000" stroke="#bf0000" stroke-width=".4"/><path d="M214.9 128L219.8 135.5L219.8 135.4L221.3 132.1zM223.3 133.5L221.3 132.1L219.8 135.4zM224.9 132.4L222.7 128.9L221.3 132.1L223.3 133.5zM222.7 128.9L214.9 128L221.3 132.1z" fill="#ad0000" stroke="#ad0000" stroke-width=".4"/><path d="M214.9 128L219.8 135.5L227.6 136.5L222.7 128.9z" fill="none" stroke="#000" stroke-width="1" stroke-linejoin="round"/><path d="M146 131.5L150.3 136.5L151.2 133.4zM150.3 136.5L153.4 134.1L151.2 133.4z" fill="#bf0000" stroke="#bf0000" stroke-width=".4"/><path d="M145.7 131.1L146 131.5L151.2 133.4L152 130.6zM153.4 134.1L158.2 130.5L152 130.6L151.2 133.4zM158.2 130.5L153.6 125.1L152 130.6zM153.6 125.1L145.7 131.1L152 130.6z" fill="#ad0000" stroke="#ad0000" stroke-width=".4"/><path d="M145.7 131.1L150.3 136.5L158.2 130.5L153.6 125.1z" fill="none" stroke="#000" stroke-width="1" stroke-linejoin="round"/><path d="M177.6 126L178.7 127.4L179.1 126.2zM178.7 127.4L181.7 126.3L179.1 126.2z" fill="#ad0000" stroke="#ad0000" stroke-width=".4"/><path d="M174 121.4L177.6 126L179.1 126.2L180.3 122.7zM181.7 126.3L186.6 124.4L180.3 122.7L179.1 126.2zM186.6 124.4L181.9 118.2L180.3 122.7zM181.9 118.2L174 121.4L180.3 122.7z" fill="#9b0000" stroke="#9b0000" stroke-width=".4"/><path d="M174 121.4L178.7 127.4L186.6 124.4L181.9 118.2z" fill="none" stroke="#000" stroke-width="1" stroke-linejoin="round"/><path d="M197 126L199.3 129.1L200.6 125.4zM199.3 129.1L207.1 128.1L201.3 125.3L200.6 125.4zM207.1 128.1L204.6 124.5L201.3 125.3z" fill="#ad0000" stroke="#ad0000" stroke-width=".4"/><path d="M194.5 122.3L197 126L200.6 125.4L200.8 125zM201.3 125.3L200.8 125L200.6 125.4zM204.6 124.5L202.3 121.2L200.8 125L201.3 125.3zM202.3 121.2L194.5 122.3L200.8 125z" fill="#9b0000" stroke="#9b0000" stroke-width=".4"/><path d="M194.5 122.3L199.3 129.1L207.1 128.1L202.3 121.2z" fill="none" stroke="#000" stroke-width="1" stroke-linejoin="round"/><path d="M141.9 142.9L142.4 143.4L142.4 143.1zM142.4 143.4L142.6 143.2L142.4 143.1z" fill="#d30303" stroke="#d30303" stroke-width=".4"/><path d="M137.8 138.2L141.9 142.9L142.4 143.1L144 137.1zM142.6 143.2L150.3 136.5L144 137.1L142.4 143.1zM150.3 136.5L146 131.5L145.7 131.4L144 137.1zM145.5 131.3L137.8 138.2L144 137.1L145.7 131.4z" fill="#bf0000" stroke="#bf0000" stroke-width=".4"/><path d="M146 131.5L145.7 131.1L145.7 131.4zM145.7 131.1L145.5 131.3L145.7 131.4z" fill="#ad0000" stroke="#ad0000" stroke-width=".4"/><path d="M137.8 138.2L142.4 143.4L150.3 136.5L145.7 131.1z" fill="none" stroke="#000" stroke-width="1" stroke-linejoin="round"/><path d="M233 144.7L240.3 146.6L235.6 142.7zM240.3 146.6L237.1 141.3L235.6 142.7z" fill="#d30303" stroke="#d30303" stroke-width=".4"/><path d="M227.6 136.5L232.5 144.6L233.9 141.4zM232.5 144.6L233 144.7L235.6 142.7L233.9 141.4zM237.1 141.3L235.3 138.4L233.9 141.4L235.6 142.7zM235.3 138.4L227.6 136.5L233.9 141.4z" fill="#bf0000" stroke="#bf0000" stroke-width=".4"/><path d="M227.6 136.5L232.5 144.6L240.3 146.6L235.3 138.4z" fill="none" stroke="#000" stroke-width="1" stroke-linejoin="round"/><path d="M129.9 146.2L134.4 151.3L136.1 144.6zM134.4 151.3L142.4 143.4L136.1 144.6zM142.4 143.4L141.9 142.9L137.1 140.8L136.1 144.6zM135.9 140.2L129.9 146.2L136.1 144.6L137.1 140.8z" fill="#d30303" stroke="#d30303" stroke-width=".4"/><path d="M141.9 142.9L137.8 138.2L137.1 140.8zM137.8 138.2L135.9 140.2L137.1 140.8z" fill="#bf0000" stroke="#bf0000" stroke-width=".4"/><path d="M129.9 146.2L134.4 151.3L142.4 143.4L137.8 138.2z" fill="none" stroke="#000" stroke-width="1" stroke-linejoin="round"/><path d="M244.1 153.4L245.2 155.4L246.6 152.3L245.8 151.6zM245.2 155.4L252.9 158.4L246.6 152.3zM252.9 158.4L248 149.6L246.6 152.3zM248 149.6L247.6 149.4L245.8 151.6L246.6 152.3z" fill="#ea0909" stroke="#ea0909" stroke-width=".4"/><path d="M240.3 146.6L244.1 153.4L245.8 151.6zM247.6 149.4L240.3 146.6L245.8 151.6z" fill="#d30303" stroke="#d30303" stroke-width=".4"/><path d="M240.3 146.6L245.2 155.4L252.9 158.4L248 149.6z" fill="none" stroke="#000" stroke-width="1" stroke-linejoin="round"/><path d="M166.1 125.4L170.8 131.4L172.4 126.2zM170.8 131.4L178.7 127.4L172.4 126.2zM178.7 127.4L177.6 126L172.7 125.4L172.4 126.2zM168 124.5L166.1 125.4L172.4 126.2L172.7 125.4z" fill="#ad0000" stroke="#ad0000" stroke-width=".4"/><path d="M177.6 126L174 121.4L172.7 125.4zM174 121.4L168 124.5L172.7 125.4z" fill="#9b0000" stroke="#9b0000" stroke-width=".4"/><path d="M166.1 125.4L170.8 131.4L178.7 127.4L174 121.4z" fill="none" stroke="#000" stroke-width="1" stroke-linejoin="round"/><path d="M122 155.1L126.5 160.2L128.2 153zM126.5 160.2L133.9 151.9L133.3 151.6L128.2 153zM129.1 149.6L128.2 153L133.3 151.6zM127.6 148.8L122 155.1L128.2 153L129.1 149.6z" fill="#ea0909" stroke="#ea0909" stroke-width=".4"/><path d="M133.9 151.9L134.4 151.3L133.3 151.6zM134.4 151.3L129.9 146.2L129.1 149.6L133.3 151.6zM129.9 146.2L127.6 148.8L129.1 149.6z" fill="#d30303" stroke="#d30303" stroke-width=".4"/><path d="M122 155.1L126.5 160.2L134.4 151.3L129.9 146.2z" fill="none" stroke="#000" stroke-width="1" stroke-linejoin="round"/><path d="M262.2 170L265.6 171.8L262.9 168.9zM265.6 171.8L263.5 167.9L262.9 168.9z" fill="#ff5713" stroke="#ff5713" stroke-width=".4"/><path d="M254.3 161L257.9 167.7L259.3 164.9L254.8 160.3zM257.9 167.7L262.2 170L262.9 168.9L259.3 164.9zM263.5 167.9L260.6 162.4L259.3 164.9L262.9 168.9zM260.6 162.4L255.3 159.6L254.8 160.3L259.3 164.9z" fill="#ff1910" stroke="#ff1910" stroke-width=".4"/><path d="M252.9 158.4L254.3 161L254.8 160.3zM255.3 159.6L252.9 158.4L254.8 160.3z" fill="#ea0909" stroke="#ea0909" stroke-width=".4"/><path d="M252.9 158.4L257.9 167.7L265.6 171.8L260.6 162.4z" fill="none" stroke="#000" stroke-width="1" stroke-linejoin="round"/><path d="M115.7 166.7L118.6 170L118.9 168.6zM118.6 170L119.5 168.9L118.9 168.6z" fill="#ff5713" stroke="#ff5713" stroke-width=".4"/><path d="M114.2 165L115.7 166.7L118.9 168.6L120.3 162.4zM119.5 168.9L126.3 160.4L126.1 160.3L120.3 162.4L118.9 168.6zM121.4 157.8L120.3 162.4L126.1 160.3zM120.4 157.2L114.2 165L120.3 162.4L121.4 157.8z" fill="#ff1910" stroke="#ff1910" stroke-width=".4"/><path d="M126.3 160.4L126.5 160.2L126.1 160.3zM126.5 160.2L122 155.1L121.4 157.8L126.1 160.3zM122 155.1L120.4 157.2L121.4 157.8z" fill="#ea0909" stroke="#ea0909" stroke-width=".4"/><path d="M114.2 165L118.6 170L126.5 160.2L122 155.1z" fill="none" stroke="#000" stroke-width="1" stroke-linejoin="round"/><path d="M106.3 175.8L110.7 180.7L111.7 176.2L108.8 174.5zM110.7 180.7L113.3 177.2L111.7 176.2zM107.7 173.8L106.3 175.8L108.8 174.5z" fill="#ff9716" stroke="#ff9716" stroke-width=".4"/><path d="M111.7 176.2L112.4 172.7L108.8 174.5zM113.3 177.2L118.6 170L112.4 172.7L111.7 176.2zM118.6 170L115.7 166.7L114 165.7L112.4 172.7zM113.7 165.6L107.7 173.8L108.8 174.5L112.4 172.7L114 165.7z" fill="#ff5713" stroke="#ff5713" stroke-width=".4"/><path d="M115.7 166.7L114.2 165L114 165.7zM114.2 165L113.7 165.6L114 165.7z" fill="#ff1910" stroke="#ff1910" stroke-width=".4"/><path d="M106.3 175.8L110.7 180.7L118.6 170L114.2 165z" fill="none" stroke="#000" stroke-width="1" stroke-linejoin="round"/><path d="M219.6 135.5L219.8 135.5L219.7 135.5zM219.8 135.5L219.8 135.5L219.7 135.5z" fill="#bf0000" stroke="#bf0000" stroke-width=".4"/><path d="M207.1 128.1L212 135.5L213.5 131.6zM212 135.5L219.6 135.5L219.7 135.5L213.5 131.6zM219.8 135.5L214.9 128L213.5 131.6L219.7 135.5zM214.9 128L207.1 128.1L213.5 131.6z" fill="#ad0000" stroke="#ad0000" stroke-width=".4"/><path d="M207.1 128.1L212 135.5L219.8 135.5L214.9 128z" fill="none" stroke="#000" stroke-width="1" stroke-linejoin="round"/><path d="M188.1 126.5L191.4 131.1L192.9 126.6L192.5 126.4zM191.4 131.1L199.3 129.1L192.9 126.6zM199.3 129.1L197 126L193 126.4L192.9 126.6zM192.5 126.4L192.9 126.6L193 126.4z" fill="#ad0000" stroke="#ad0000" stroke-width=".4"/><path d="M186.6 124.4L188.1 126.5L192.5 126.4zM197 126L194.5 122.3L193 126.4zM194.5 122.3L186.6 124.4L192.5 126.4L193 126.4z" fill="#9b0000" stroke="#9b0000" stroke-width=".4"/><path d="M186.6 124.4L191.4 131.1L199.3 129.1L194.5 122.3z" fill="none" stroke="#000" stroke-width="1" stroke-linejoin="round"/><path d="M158.2 130.5L162.9 136.4L170.8 131.4L166.1 125.4z" fill="#ad0000" stroke="#000" stroke-width="1" stroke-linejoin="round"/><path d="M219.8 135.5L224.7 143.5L232.5 144.6L227.6 136.5z" fill="#bf0000" stroke="#000" stroke-width="1" stroke-linejoin="round"/><path d="M150.3 136.5L154.9 142.3L156.6 136.2zM154.9 142.3L162.3 136.8L160.6 136.3L156.6 136.2zM156.8 135.3L156.6 136.2L160.6 136.3zM153.4 134.1L150.3 136.5L156.6 136.2L156.8 135.3z" fill="#bf0000" stroke="#bf0000" stroke-width=".4"/><path d="M162.3 136.8L162.9 136.4L160.6 136.3zM162.9 136.4L158.2 130.5L156.8 135.3L160.6 136.3zM158.2 130.5L153.4 134.1L156.8 135.3z" fill="#ad0000" stroke="#ad0000" stroke-width=".4"/><path d="M150.3 136.5L154.9 142.3L162.9 136.4L158.2 130.5z" fill="none" stroke="#000" stroke-width="1" stroke-linejoin="round"/><path d="M178.7 127.4L183.4 134L185 129.1zM183.4 134L191.4 131.1L185 129.1zM191.4 131.1L188.1 126.5L185.9 126.5L185 129.1zM181.7 126.3L178.7 127.4L185 129.1L185.9 126.5z" fill="#ad0000" stroke="#ad0000" stroke-width=".4"/><path d="M188.1 126.5L186.6 124.4L185.9 126.5zM186.6 124.4L181.7 126.3L185.9 126.5z" fill="#9b0000" stroke="#9b0000" stroke-width=".4"/><path d="M178.7 127.4L183.4 134L191.4 131.1L186.6 124.4z" fill="none" stroke="#000" stroke-width="1" stroke-linejoin="round"/><path d="M199.3 129.1L204.1 136.4L212 135.5L207.1 128.1z" fill="#ad0000" stroke="#000" stroke-width="1" stroke-linejoin="round"/><path d="M242.6 154.6L245.2 155.4L243.5 153.9zM245.2 155.4L244.1 153.4L243.5 153.9z" fill="#ea0909" stroke="#ea0909" stroke-width=".4"/><path d="M232.7 145L237.4 153.2L238.9 149.8L232.8 144.9zM237.4 153.2L242.6 154.6L243.5 153.9L238.9 149.8zM244.1 153.4L240.3 146.6L238.9 149.8L243.5 153.9zM240.3 146.6L233 144.7L232.8 144.9L238.9 149.8z" fill="#d30303" stroke="#d30303" stroke-width=".4"/><path d="M232.5 144.6L232.7 145L232.8 144.9zM233 144.7L232.5 144.6L232.8 144.9z" fill="#bf0000" stroke="#bf0000" stroke-width=".4"/><path d="M232.5 144.6L237.4 153.2L245.2 155.4L240.3 146.6z" fill="none" stroke="#000" stroke-width="1" stroke-linejoin="round"/><path d="M142.4 143.4L146.9 149.1L148 145.2L143 143.3zM146.9 149.1L150.5 146L148 145.2zM142.6 143.2L142.4 143.4L143 143.3z" fill="#d30303" stroke="#d30303" stroke-width=".4"/><path d="M148 145.2L148.6 142.6L143 143.3zM150.5 146L154.9 142.3L148.6 142.6L148 145.2zM154.9 142.3L150.3 136.5L148.6 142.6zM150.3 136.5L142.6 143.2L143 143.3L148.6 142.6z" fill="#bf0000" stroke="#bf0000" stroke-width=".4"/><path d="M142.4 143.4L146.9 149.1L154.9 142.3L150.3 136.5z" fill="none" stroke="#000" stroke-width="1" stroke-linejoin="round"/><path d="M250.8 164.8L257.9 167.7L252.9 162.7zM257.9 167.7L254.3 161L252.9 162.7z" fill="#ff1910" stroke="#ff1910" stroke-width=".4"/><path d="M245.2 155.4L250.2 164.6L251.6 161.3zM250.2 164.6L250.8 164.8L252.9 162.7L251.6 161.3zM254.3 161L252.9 158.4L251.6 161.3L252.9 162.7zM252.9 158.4L245.2 155.4L251.6 161.3z" fill="#ea0909" stroke="#ea0909" stroke-width=".4"/><path d="M245.2 155.4L250.2 164.6L257.9 167.7L252.9 158.4z" fill="none" stroke="#000" stroke-width="1" stroke-linejoin="round"/><path d="M135.5 152.6L139 157L139.6 154.4zM139 157L141 154.9L139.6 154.4z" fill="#ea0909" stroke="#ea0909" stroke-width=".4"/><path d="M134.4 151.3L135.5 152.6L139.6 154.4L140.7 150zM141 154.9L146.9 149.1L140.7 150L139.6 154.4zM146.9 149.1L142.4 143.4L140.7 150zM142.4 143.4L134.4 151.3L140.7 150z" fill="#d30303" stroke="#d30303" stroke-width=".4"/><path d="M134.4 151.3L139 157L146.9 149.1L142.4 143.4z" fill="none" stroke="#000" stroke-width="1" stroke-linejoin="round"/><path d="M170.8 131.4L175.5 137.9L183.4 134L178.7 127.4z" fill="#ad0000" stroke="#000" stroke-width="1" stroke-linejoin="round"/><path d="M213.4 137.8L216.8 143.4L218.3 139.3L215 137.3zM216.8 143.4L224.7 143.5L218.3 139.3zM224.7 143.5L219.8 135.5L218.3 139.3zM219.8 135.5L219.6 135.5L215 137.3L218.3 139.3z" fill="#bf0000" stroke="#bf0000" stroke-width=".4"/><path d="M212 135.5L213.4 137.8L215 137.3zM219.6 135.5L212 135.5L215 137.3z" fill="#ad0000" stroke="#ad0000" stroke-width=".4"/><path d="M212 135.5L216.8 143.4L224.7 143.5L219.8 135.5z" fill="none" stroke="#000" stroke-width="1" stroke-linejoin="round"/><path d="M127 160.8L131 165.7L131.6 163zM131 165.7L133 163.6L131.6 163z" fill="#ff1910" stroke="#ff1910" stroke-width=".4"/><path d="M126.5 160.2L127 160.8L131.6 163L132.7 158.4zM133 163.6L139 157L132.7 158.4L131.6 163zM139 157L135.5 152.6L134.3 152.1L132.7 158.4zM133.9 151.9L126.5 160.2L132.7 158.4L134.3 152.1z" fill="#ea0909" stroke="#ea0909" stroke-width=".4"/><path d="M135.5 152.6L134.4 151.3L134.3 152.1zM134.4 151.3L133.9 151.9L134.3 152.1z" fill="#d30303" stroke="#d30303" stroke-width=".4"/><path d="M126.5 160.2L131 165.7L139 157L134.4 151.3z" fill="none" stroke="#000" stroke-width="1" stroke-linejoin="round"/><path d="M118.6 170L123.1 175.4L124 171.2L120.3 169.3zM123.1 175.4L125.8 172.1L124 171.2zM119.5 168.9L118.6 170L120.3 169.3z" fill="#ff5713" stroke="#ff5713" stroke-width=".4"/><path d="M124 171.2L124.8 167.6L120.3 169.3zM125.8 172.1L131 165.7L124.8 167.6L124 171.2zM131 165.7L127 160.8L126.4 160.5L124.8 167.6zM126.3 160.4L119.5 168.9L120.3 169.3L124.8 167.6L126.4 160.5z" fill="#ff1910" stroke="#ff1910" stroke-width=".4"/><path d="M127 160.8L126.5 160.2L126.4 160.5zM126.5 160.2L126.3 160.4L126.4 160.5z" fill="#ea0909" stroke="#ea0909" stroke-width=".4"/><path d="M118.6 170L123.1 175.4L131 165.7L126.5 160.2z" fill="none" stroke="#000" stroke-width="1" stroke-linejoin="round"/><path d="M110.7 180.7L115.1 186.1L116.6 179.1L115.5 178.5zM115.1 186.1L119.3 180.5L116.6 179.1zM113.3 177.2L110.7 180.7L115.5 178.5z" fill="#ff9716" stroke="#ff9716" stroke-width=".4"/><path d="M116.6 179.1L116.9 177.9L115.5 178.5zM119.3 180.5L123.1 175.4L116.9 177.9L116.6 179.1zM123.1 175.4L118.6 170L116.9 177.9zM118.6 170L113.3 177.2L115.5 178.5L116.9 177.9z" fill="#ff5713" stroke="#ff5713" stroke-width=".4"/><path d="M110.7 180.7L115.1 186.1L123.1 175.4L118.6 170z" fill="none" stroke="#000" stroke-width="1" stroke-linejoin="round"/><path d="M191.4 131.1L196.2 138.3L204.1 136.4L199.3 129.1z" fill="#ad0000" stroke="#000" stroke-width="1" stroke-linejoin="round"/><path d="M163.3 137.1L167.5 142.8L168.8 138.3zM167.5 142.8L173.6 139.1L168.8 138.3z" fill="#bf0000" stroke="#bf0000" stroke-width=".4"/><path d="M162.9 136.4L163.3 137.1L168.8 138.3L169.2 136.9zM173.6 139.1L175.5 137.9L169.2 136.9L168.8 138.3zM175.5 137.9L170.8 131.4L169.2 136.9zM170.8 131.4L162.9 136.4L169.2 136.9z" fill="#ad0000" stroke="#ad0000" stroke-width=".4"/><path d="M162.9 136.4L167.5 142.8L175.5 137.9L170.8 131.4z" fill="none" stroke="#000" stroke-width="1" stroke-linejoin="round"/><path d="M227.3 148L229.6 152.1L231.1 148.2L229.4 146.9zM229.6 152.1L237.4 153.2L231.1 148.2zM237.4 153.2L232.7 145L232.3 145.2L231.1 148.2zM229.4 146.9L231.1 148.2L232.3 145.2z" fill="#d30303" stroke="#d30303" stroke-width=".4"/><path d="M224.7 143.5L227.3 148L229.4 146.9zM232.7 145L232.5 144.6L232.3 145.2zM232.5 144.6L224.7 143.5L229.4 146.9L232.3 145.2z" fill="#bf0000" stroke="#bf0000" stroke-width=".4"/><path d="M224.7 143.5L229.6 152.1L237.4 153.2L232.5 144.6z" fill="none" stroke="#000" stroke-width="1" stroke-linejoin="round"/><path d="M239.5 157L242.4 162.4L243.8 158.7L240.8 156.1zM242.4 162.4L250.2 164.6L243.8 158.7zM250.2 164.6L245.2 155.4L243.8 158.7zM245.2 155.4L242.6 154.6L240.8 156.1L243.8 158.7z" fill="#ea0909" stroke="#ea0909" stroke-width=".4"/><path d="M237.4 153.2L239.5 157L240.8 156.1zM242.6 154.6L237.4 153.2L240.8 156.1z" fill="#d30303" stroke="#d30303" stroke-width=".4"/><path d="M237.4 153.2L242.4 162.4L250.2 164.6L245.2 155.4z" fill="none" stroke="#000" stroke-width="1" stroke-linejoin="round"/><path d="M187.8 140.6L188.2 141.1L188.4 140.6zM188.2 141.1L189.8 140.6L188.4 140.6z" fill="#bf0000" stroke="#bf0000" stroke-width=".4"/><path d="M183.4 134L187.8 140.6L188.4 140.6L189.8 136zM189.8 140.6L196.2 138.3L189.8 136L188.4 140.6zM196.2 138.3L191.4 131.1L189.8 136zM191.4 131.1L183.4 134L189.8 136z" fill="#ad0000" stroke="#ad0000" stroke-width=".4"/><path d="M183.4 134L188.2 141.1L196.2 138.3L191.4 131.1z" fill="none" stroke="#000" stroke-width="1" stroke-linejoin="round"/><path d="M206 139.5L208.9 144.2L210.5 139.7L209 139zM208.9 144.2L216.8 143.4L210.5 139.7zM216.8 143.4L213.4 137.8L210.9 138.5L210.5 139.7zM209 139L210.5 139.7L210.9 138.5z" fill="#bf0000" stroke="#bf0000" stroke-width=".4"/><path d="M204.1 136.4L206 139.5L209 139zM213.4 137.8L212 135.5L210.9 138.5zM212 135.5L204.1 136.4L209 139L210.9 138.5z" fill="#ad0000" stroke="#ad0000" stroke-width=".4"/><path d="M204.1 136.4L208.9 144.2L216.8 143.4L212 135.5z" fill="none" stroke="#000" stroke-width="1" stroke-linejoin="round"/><path d="M154.9 142.3L159.6 148.6L161.2 142.3zM159.6 148.6L167.5 142.8L161.2 142.3zM167.5 142.8L163.3 137.1L162.7 136.9L161.2 142.3zM162.3 136.8L154.9 142.3L161.2 142.3L162.7 136.9z" fill="#bf0000" stroke="#bf0000" stroke-width=".4"/><path d="M163.3 137.1L162.9 136.4L162.7 136.9zM162.9 136.4L162.3 136.8L162.7 136.9z" fill="#ad0000" stroke="#ad0000" stroke-width=".4"/><path d="M154.9 142.3L159.6 148.6L167.5 142.8L162.9 136.4z" fill="none" stroke="#000" stroke-width="1" stroke-linejoin="round"/><path d="M146.9 149.1L151.6 155.4L153.2 148.7zM151.6 155.4L159.3 148.8L158.6 148.6L153.2 148.7zM153.6 147.1L153.2 148.7L158.6 148.6zM150.5 146L146.9 149.1L153.2 148.7L153.6 147.1z" fill="#d30303" stroke="#d30303" stroke-width=".4"/><path d="M159.3 148.8L159.6 148.6L158.6 148.6zM159.6 148.6L154.9 142.3L153.6 147.1L158.6 148.6zM154.9 142.3L150.5 146L153.6 147.1z" fill="#bf0000" stroke="#bf0000" stroke-width=".4"/><path d="M146.9 149.1L151.6 155.4L159.6 148.6L154.9 142.3z" fill="none" stroke="#000" stroke-width="1" stroke-linejoin="round"/><path d="M220.9 150.4L221.7 151.8L222.4 149.9zM221.7 151.8L229.6 152.1L225.1 148.9L222.4 149.9zM229.6 152.1L227.3 148L225.1 148.9z" fill="#d30303" stroke="#d30303" stroke-width=".4"/><path d="M216.8 143.4L220.9 150.4L222.4 149.9L223.2 147.5zM225.1 148.9L223.2 147.5L222.4 149.9zM227.3 148L224.7 143.5L223.2 147.5L225.1 148.9zM224.7 143.5L216.8 143.4L223.2 147.5z" fill="#bf0000" stroke="#bf0000" stroke-width=".4"/><path d="M216.8 143.4L221.7 151.8L229.6 152.1L224.7 143.5z" fill="none" stroke="#000" stroke-width="1" stroke-linejoin="round"/><path d="M176.6 139.6L180.2 144.9L181.6 140.1zM180.2 144.9L188.2 141.1L185.8 140.4L181.6 140.1zM188.2 141.1L187.8 140.6L185.8 140.4z" fill="#bf0000" stroke="#bf0000" stroke-width=".4"/><path d="M175.5 137.9L176.6 139.6L181.6 140.1L181.9 139.3zM185.8 140.4L181.9 139.3L181.6 140.1zM187.8 140.6L183.4 134L181.9 139.3L185.8 140.4zM183.4 134L175.5 137.9L181.9 139.3z" fill="#ad0000" stroke="#ad0000" stroke-width=".4"/><path d="M175.5 137.9L180.2 144.9L188.2 141.1L183.4 134z" fill="none" stroke="#000" stroke-width="1" stroke-linejoin="round"/><path d="M139 157L143.6 163.1L145.1 156.5L144.1 156.1zM143.6 163.1L149 157.8L145.1 156.5zM141 154.9L139 157L144.1 156.1z" fill="#ea0909" stroke="#ea0909" stroke-width=".4"/><path d="M145.1 156.5L145.3 155.9L144.1 156.1zM149 157.8L151.6 155.4L145.3 155.9L145.1 156.5zM151.6 155.4L146.9 149.1L145.3 155.9zM146.9 149.1L141 154.9L144.1 156.1L145.3 155.9z" fill="#d30303" stroke="#d30303" stroke-width=".4"/><path d="M139 157L143.6 163.1L151.6 155.4L146.9 149.1z" fill="none" stroke="#000" stroke-width="1" stroke-linejoin="round"/><path d="M197.5 140.5L201 146L202.5 141.1L200.6 140.2zM201 146L208.9 144.2L202.5 141.1zM208.9 144.2L206 139.5L202.9 140L202.5 141.1zM200.6 140.2L202.5 141.1L202.9 140z" fill="#bf0000" stroke="#bf0000" stroke-width=".4"/><path d="M196.2 138.3L197.5 140.5L200.6 140.2zM206 139.5L204.1 136.4L202.9 140zM204.1 136.4L196.2 138.3L200.6 140.2L202.9 140z" fill="#ad0000" stroke="#ad0000" stroke-width=".4"/><path d="M196.2 138.3L201 146L208.9 144.2L204.1 136.4z" fill="none" stroke="#000" stroke-width="1" stroke-linejoin="round"/><path d="M131 165.7L135.6 171.8L137 165.4L135.4 164.7zM135.6 171.8L140.3 166.6L137 165.4zM133 163.6L131 165.7L135.4 164.7z" fill="#ff1910" stroke="#ff1910" stroke-width=".4"/><path d="M137 165.4L137.3 164.2L135.4 164.7zM140.3 166.6L143.6 163.1L137.3 164.2L137 165.4zM143.6 163.1L139 157L137.3 164.2zM139 157L133 163.6L135.4 164.7L137.3 164.2z" fill="#ea0909" stroke="#ea0909" stroke-width=".4"/><path d="M131 165.7L135.6 171.8L143.6 163.1L139 157z" fill="none" stroke="#000" stroke-width="1" stroke-linejoin="round"/><path d="M123.1 175.4L127.6 181.4L129.2 173.8L128.8 173.6zM127.6 181.4L132.7 175.2L129.2 173.8zM125.8 172.1L123.1 175.4L128.8 173.6z" fill="#ff5713" stroke="#ff5713" stroke-width=".4"/><path d="M129.2 173.8L129.3 173.4L128.8 173.6zM132.7 175.2L135.6 171.8L129.3 173.4L129.2 173.8zM135.6 171.8L131 165.7L129.3 173.4zM131 165.7L125.8 172.1L128.8 173.6L129.3 173.4z" fill="#ff1910" stroke="#ff1910" stroke-width=".4"/><path d="M123.1 175.4L127.6 181.4L135.6 171.8L131 165.7z" fill="none" stroke="#000" stroke-width="1" stroke-linejoin="round"/><path d="M115.1 186.1L119.6 192L121.3 183.5zM119.6 192L125.8 183.7L123.7 182.7L121.3 183.5zM121.7 181.8L121.3 183.5L123.7 182.7zM119.3 180.5L115.1 186.1L121.3 183.5L121.7 181.8z" fill="#ff9716" stroke="#ff9716" stroke-width=".4"/><path d="M125.8 183.7L127.6 181.4L123.7 182.7zM127.6 181.4L123.1 175.4L121.7 181.8L123.7 182.7zM123.1 175.4L119.3 180.5L121.7 181.8z" fill="#ff5713" stroke="#ff5713" stroke-width=".4"/><path d="M115.1 186.1L119.6 192L127.6 181.4L123.1 175.4z" fill="none" stroke="#000" stroke-width="1" stroke-linejoin="round"/><path d="M234 160L234.6 161.1L235.2 159.4zM234.6 161.1L242.4 162.4L237.5 158.2L235.2 159.4zM242.4 162.4L239.5 157L237.5 158.2z" fill="#ea0909" stroke="#ea0909" stroke-width=".4"/><path d="M229.6 152.1L234 160L235.2 159.4L236 157zM237.5 158.2L236 157L235.2 159.4zM239.5 157L237.4 153.2L236 157L237.5 158.2zM237.4 153.2L229.6 152.1L236 157z" fill="#d30303" stroke="#d30303" stroke-width=".4"/><path d="M229.6 152.1L234.6 161.1L242.4 162.4L237.4 153.2z" fill="none" stroke="#000" stroke-width="1" stroke-linejoin="round"/><path d="M167.5 142.8L172.3 149.7L173.9 143.6zM172.3 149.7L180.2 144.9L173.9 143.6zM180.2 144.9L176.6 139.6L175.1 139.3L173.9 143.6zM173.6 139.1L167.5 142.8L173.9 143.6L175.1 139.3z" fill="#bf0000" stroke="#bf0000" stroke-width=".4"/><path d="M176.6 139.6L175.5 137.9L175.1 139.3zM175.5 137.9L173.6 139.1L175.1 139.3z" fill="#ad0000" stroke="#ad0000" stroke-width=".4"/><path d="M167.5 142.8L172.3 149.7L180.2 144.9L175.5 137.9z" fill="none" stroke="#000" stroke-width="1" stroke-linejoin="round"/><path d="M213.7 152.2L213.8 152.5L214 152.2zM213.8 152.5L221.7 151.8L219.9 150.7L214 152.2zM221.7 151.8L220.9 150.4L219.9 150.7z" fill="#d30303" stroke="#d30303" stroke-width=".4"/><path d="M208.9 144.2L213.7 152.2L214 152.2L215.3 147.8zM219.9 150.7L215.3 147.8L214 152.2zM220.9 150.4L216.8 143.4L215.3 147.8L219.9 150.7zM216.8 143.4L208.9 144.2L215.3 147.8z" fill="#bf0000" stroke="#bf0000" stroke-width=".4"/><path d="M208.9 144.2L213.8 152.5L221.7 151.8L216.8 143.4z" fill="none" stroke="#000" stroke-width="1" stroke-linejoin="round"/><path d="M188.2 141.1L193 148.7L194.6 143.4zM193 148.7L201 146L194.6 143.4zM201 146L197.5 140.5L195.5 140.6L194.6 143.4zM189.8 140.6L188.2 141.1L194.6 143.4L195.5 140.6z" fill="#bf0000" stroke="#bf0000" stroke-width=".4"/><path d="M197.5 140.5L196.2 138.3L195.5 140.6zM196.2 138.3L189.8 140.6L195.5 140.6z" fill="#ad0000" stroke="#ad0000" stroke-width=".4"/><path d="M188.2 141.1L193 148.7L201 146L196.2 138.3z" fill="none" stroke="#000" stroke-width="1" stroke-linejoin="round"/><path d="M159.8 148.9L164.2 155.4L165.5 150.3zM164.2 155.4L170.1 151.2L165.5 150.3z" fill="#d30303" stroke="#d30303" stroke-width=".4"/><path d="M159.6 148.6L159.8 148.9L165.5 150.3L165.9 148.9zM170.1 151.2L172.3 149.7L165.9 148.9L165.5 150.3zM172.3 149.7L167.5 142.8L165.9 148.9zM167.5 142.8L159.6 148.6L165.9 148.9z" fill="#bf0000" stroke="#bf0000" stroke-width=".4"/><path d="M159.6 148.6L164.2 155.4L172.3 149.7L167.5 142.8z" fill="none" stroke="#000" stroke-width="1" stroke-linejoin="round"/><path d="M231.6 160.9L234.6 161.1L233.5 160.2zM234.6 161.1L234 160L233.5 160.2z" fill="#ea0909" stroke="#ea0909" stroke-width=".4"/><path d="M221.7 151.8L226.7 160.7L228.2 156.2zM226.7 160.7L231.6 160.9L233.5 160.2L228.2 156.2zM234 160L229.6 152.1L228.2 156.2L233.5 160.2zM229.6 152.1L221.7 151.8L228.2 156.2z" fill="#d30303" stroke="#d30303" stroke-width=".4"/><path d="M221.7 151.8L226.7 160.7L234.6 161.1L229.6 152.1z" fill="none" stroke="#000" stroke-width="1" stroke-linejoin="round"/><path d="M154.6 159.7L156.2 162.1L156.7 160.3zM156.2 162.1L158 160.6L156.7 160.3z" fill="#ea0909" stroke="#ea0909" stroke-width=".4"/><path d="M151.6 155.4L154.6 159.7L156.7 160.3L157.9 155.2zM158 160.6L164.2 155.4L157.9 155.2L156.7 160.3zM164.2 155.4L159.8 148.9L159.5 148.8L157.9 155.2zM159.3 148.8L151.6 155.4L157.9 155.2L159.5 148.8z" fill="#d30303" stroke="#d30303" stroke-width=".4"/><path d="M159.8 148.9L159.6 148.6L159.5 148.8zM159.6 148.6L159.3 148.8L159.5 148.8z" fill="#bf0000" stroke="#bf0000" stroke-width=".4"/><path d="M151.6 155.4L156.2 162.1L164.2 155.4L159.6 148.6z" fill="none" stroke="#000" stroke-width="1" stroke-linejoin="round"/><path d="M180.2 144.9L185 152.4L193 148.7L188.2 141.1z" fill="#bf0000" stroke="#000" stroke-width="1" stroke-linejoin="round"/><path d="M148.1 169.5L148.2 169.7L148.2 169.6zM148.2 169.7L148.3 169.6L148.2 169.6z" fill="#ff1910" stroke="#ff1910" stroke-width=".4"/><path d="M143.6 163.1L148.1 169.5L148.2 169.6L149.9 162.4zM148.3 169.6L156.2 162.1L149.9 162.4L148.2 169.6zM156.2 162.1L154.6 159.7L150.8 158.5L149.9 162.4zM149 157.8L143.6 163.1L149.9 162.4L150.8 158.5z" fill="#ea0909" stroke="#ea0909" stroke-width=".4"/><path d="M154.6 159.7L151.6 155.4L150.8 158.5zM151.6 155.4L149 157.8L150.8 158.5z" fill="#d30303" stroke="#d30303" stroke-width=".4"/><path d="M143.6 163.1L148.2 169.7L156.2 162.1L151.6 155.4z" fill="none" stroke="#000" stroke-width="1" stroke-linejoin="round"/><path d="M205.4 153.4L205.9 154.2L206.1 153.3zM205.9 154.2L213.8 152.5L213.4 152.3L206.1 153.3zM213.8 152.5L213.7 152.2L213.4 152.3z" fill="#d30303" stroke="#d30303" stroke-width=".4"/><path d="M201 146L205.4 153.4L206.1 153.3L207.4 149.1zM213.4 152.3L207.4 149.1L206.1 153.3zM213.7 152.2L208.9 144.2L207.4 149.1L213.4 152.3zM208.9 144.2L201 146L207.4 149.1z" fill="#bf0000" stroke="#bf0000" stroke-width=".4"/><path d="M201 146L205.9 154.2L213.8 152.5L208.9 144.2z" fill="none" stroke="#000" stroke-width="1" stroke-linejoin="round"/><path d="M135.6 171.8L140.2 178.3L141.9 170.5zM140.2 178.3L148.2 169.7L141.9 170.5zM148.2 169.7L148.1 169.5L142.6 167.6L141.9 170.5zM140.3 166.6L135.6 171.8L141.9 170.5L142.6 167.6z" fill="#ff1910" stroke="#ff1910" stroke-width=".4"/><path d="M148.1 169.5L143.6 163.1L142.6 167.6zM143.6 163.1L140.3 166.6L142.6 167.6z" fill="#ea0909" stroke="#ea0909" stroke-width=".4"/><path d="M135.6 171.8L140.2 178.3L148.2 169.7L143.6 163.1z" fill="none" stroke="#000" stroke-width="1" stroke-linejoin="round"/><path d="M130.9 186L132.2 187.9L132.4 186.7zM132.2 187.9L132.9 186.9L132.4 186.7z" fill="#ff9716" stroke="#ff9716" stroke-width=".4"/><path d="M127.6 181.4L130.9 186L132.4 186.7L133.9 179.7zM132.9 186.9L140.1 178.4L140.1 178.3L133.9 179.7L132.4 186.7zM134.6 176.1L133.9 179.7L140.1 178.3zM132.7 175.2L127.6 181.4L133.9 179.7L134.6 176.1z" fill="#ff5713" stroke="#ff5713" stroke-width=".4"/><path d="M140.1 178.4L140.2 178.3L140.1 178.3zM140.2 178.3L135.6 171.8L134.6 176.1L140.1 178.3zM135.6 171.8L132.7 175.2L134.6 176.1z" fill="#ff1910" stroke="#ff1910" stroke-width=".4"/><path d="M127.6 181.4L132.2 187.9L140.2 178.3L135.6 171.8z" fill="none" stroke="#000" stroke-width="1" stroke-linejoin="round"/><path d="M119.8 192.3L124.2 198.4L124.9 194.7zM124.2 198.4L126.4 195.4L124.9 194.7z" fill="#fdd01a" stroke="#fdd01a" stroke-width=".4"/><path d="M119.6 192L119.8 192.3L124.9 194.7L125.9 189.7zM126.4 195.4L132.2 187.9L125.9 189.7L124.9 194.7zM132.2 187.9L130.9 186L127 184.3L125.9 189.7zM125.8 183.7L119.6 192L125.9 189.7L127 184.3z" fill="#ff9716" stroke="#ff9716" stroke-width=".4"/><path d="M130.9 186L127.6 181.4L127 184.3zM127.6 181.4L125.8 183.7L127 184.3z" fill="#ff5713" stroke="#ff5713" stroke-width=".4"/><path d="M119.6 192L124.2 198.4L132.2 187.9L127.6 181.4z" fill="none" stroke="#000" stroke-width="1" stroke-linejoin="round"/><path d="M173.7 151.9L177 157.1L178.2 152.6zM177 157.1L183.7 153.2L178.2 152.6z" fill="#d30303" stroke="#d30303" stroke-width=".4"/><path d="M172.3 149.7L173.7 151.9L178.2 152.6L178.6 150.8zM183.7 153.2L185 152.4L178.6 150.8L178.2 152.6zM185 152.4L180.2 144.9L178.6 150.8zM180.2 144.9L172.3 149.7L178.6 150.8z" fill="#bf0000" stroke="#bf0000" stroke-width=".4"/><path d="M172.3 149.7L177 157.1L185 152.4L180.2 144.9z" fill="none" stroke="#000" stroke-width="1" stroke-linejoin="round"/><path d="M213.8 152.5L218.8 161.3L226.7 160.7L221.7 151.8z" fill="#d30303" stroke="#000" stroke-width="1" stroke-linejoin="round"/><path d="M196.1 153.8L197.9 156.8L198.7 153.8zM197.9 156.8L205.9 154.2L204.3 153.5L198.7 153.8zM205.9 154.2L205.4 153.4L204.3 153.5z" fill="#d30303" stroke="#d30303" stroke-width=".4"/><path d="M193 148.7L196.1 153.8L198.7 153.8L199.5 151.3zM204.3 153.5L199.5 151.3L198.7 153.8zM205.4 153.4L201 146L199.5 151.3L204.3 153.5zM201 146L193 148.7L199.5 151.3z" fill="#bf0000" stroke="#bf0000" stroke-width=".4"/><path d="M193 148.7L197.9 156.8L205.9 154.2L201 146z" fill="none" stroke="#000" stroke-width="1" stroke-linejoin="round"/><path d="M164.2 155.4L169 162.7L170.6 156zM169 162.7L177 157.1L170.6 156zM177 157.1L173.7 151.9L171.8 151.6L170.6 156zM170.1 151.2L164.2 155.4L170.6 156L171.8 151.6z" fill="#d30303" stroke="#d30303" stroke-width=".4"/><path d="M173.7 151.9L172.3 149.7L171.8 151.6zM172.3 149.7L170.1 151.2L171.8 151.6z" fill="#bf0000" stroke="#bf0000" stroke-width=".4"/><path d="M164.2 155.4L169 162.7L177 157.1L172.3 149.7z" fill="none" stroke="#000" stroke-width="1" stroke-linejoin="round"/><path d="M156.2 162.1L160.9 169.3L162.6 162.2zM160.9 169.3L168.4 163.2L164.7 162.3L162.6 162.2zM162.7 161.9L162.6 162.2L164.7 162.3zM158 160.6L156.2 162.1L162.6 162.2L162.7 161.9z" fill="#ea0909" stroke="#ea0909" stroke-width=".4"/><path d="M168.4 163.2L169 162.7L164.7 162.3zM169 162.7L164.2 155.4L162.7 161.9L164.7 162.3zM164.2 155.4L158 160.6L162.7 161.9z" fill="#d30303" stroke="#d30303" stroke-width=".4"/><path d="M156.2 162.1L160.9 169.3L169 162.7L164.2 155.4z" fill="none" stroke="#000" stroke-width="1" stroke-linejoin="round"/><path d="M185.6 153.4L189.9 160.4L191.5 154.4L188.9 153.6zM189.9 160.4L197.9 156.8L191.5 154.4zM197.9 156.8L196.1 153.8L191.6 153.8L191.5 154.4zM188.9 153.6L191.5 154.4L191.6 153.8z" fill="#d30303" stroke="#d30303" stroke-width=".4"/><path d="M185 152.4L185.6 153.4L188.9 153.6zM196.1 153.8L193 148.7L191.6 153.8zM193 148.7L185 152.4L188.9 153.6L191.6 153.8z" fill="#bf0000" stroke="#bf0000" stroke-width=".4"/><path d="M185 152.4L189.9 160.4L197.9 156.8L193 148.7z" fill="none" stroke="#000" stroke-width="1" stroke-linejoin="round"/><path d="M205.9 154.2L210.8 162.9L218.8 161.3L213.8 152.5z" fill="#d30303" stroke="#000" stroke-width="1" stroke-linejoin="round"/><path d="M148.2 169.7L152.9 176.8L154.1 171.4L148.5 169.7zM152.9 176.8L157.6 172.4L154.1 171.4zM148.3 169.6L148.2 169.7L148.5 169.7z" fill="#ff1910" stroke="#ff1910" stroke-width=".4"/><path d="M154.1 171.4L154.6 169.3L148.5 169.7zM157.6 172.4L160.9 169.3L154.6 169.3L154.1 171.4zM160.9 169.3L156.2 162.1L154.6 169.3zM156.2 162.1L148.3 169.6L148.5 169.7L154.6 169.3z" fill="#ea0909" stroke="#ea0909" stroke-width=".4"/><path d="M148.2 169.7L152.9 176.8L160.9 169.3L156.2 162.1z" fill="none" stroke="#000" stroke-width="1" stroke-linejoin="round"/><path d="M140.2 178.4L144.8 185.4L145.9 180.4zM144.8 185.4L148.7 181.3L145.9 180.4z" fill="#ff5713" stroke="#ff5713" stroke-width=".4"/><path d="M140.2 178.3L140.2 178.4L145.9 180.4L146.5 177.4zM148.7 181.3L152.9 176.8L146.5 177.4L145.9 180.4zM152.9 176.8L148.2 169.7L146.5 177.4zM148.2 169.7L140.2 178.3L146.5 177.4z" fill="#ff1910" stroke="#ff1910" stroke-width=".4"/><path d="M140.2 178.3L144.8 185.4L152.9 176.8L148.2 169.7z" fill="none" stroke="#000" stroke-width="1" stroke-linejoin="round"/><path d="M132.2 187.9L136.8 194.8L138 189L134.1 187.4zM136.8 194.8L140.9 190L138 189zM132.9 186.9L132.2 187.9L134.1 187.4z" fill="#ff9716" stroke="#ff9716" stroke-width=".4"/><path d="M138 189L138.5 186.4L134.1 187.4zM140.9 190L144.8 185.4L138.5 186.4L138 189zM144.8 185.4L140.2 178.4L140.2 178.4L138.5 186.4zM140.1 178.4L132.9 186.9L134.1 187.4L138.5 186.4L140.2 178.4z" fill="#ff5713" stroke="#ff5713" stroke-width=".4"/><path d="M140.2 178.4L140.2 178.3L140.2 178.4zM140.2 178.3L140.1 178.4L140.2 178.4z" fill="#ff1910" stroke="#ff1910" stroke-width=".4"/><path d="M132.2 187.9L136.8 194.8L144.8 185.4L140.2 178.3z" fill="none" stroke="#000" stroke-width="1" stroke-linejoin="round"/><path d="M177 157.1L181.8 165L183.4 158.5zM181.8 165L189.9 160.4L183.4 158.5zM189.9 160.4L185.6 153.4L184.8 153.3L183.4 158.5zM183.7 153.2L177 157.1L183.4 158.5L184.8 153.3z" fill="#d30303" stroke="#d30303" stroke-width=".4"/><path d="M185.6 153.4L185 152.4L184.8 153.3zM185 152.4L183.7 153.2L184.8 153.3z" fill="#bf0000" stroke="#bf0000" stroke-width=".4"/><path d="M177 157.1L181.8 165L189.9 160.4L185 152.4z" fill="none" stroke="#000" stroke-width="1" stroke-linejoin="round"/><path d="M124.2 198.4L128.7 205.3L130.3 197.1L129.4 196.7zM128.7 205.3L133.9 198.6L130.3 197.1zM126.4 195.4L124.2 198.4L129.4 196.7z" fill="#fdd01a" stroke="#fdd01a" stroke-width=".4"/><path d="M130.3 197.1L130.4 196.4L129.4 196.7zM133.9 198.6L136.8 194.8L130.4 196.4L130.3 197.1zM136.8 194.8L132.2 187.9L130.4 196.4zM132.2 187.9L126.4 195.4L129.4 196.7L130.4 196.4z" fill="#ff9716" stroke="#ff9716" stroke-width=".4"/><path d="M124.2 198.4L128.7 205.3L136.8 194.8L132.2 187.9z" fill="none" stroke="#000" stroke-width="1" stroke-linejoin="round"/><path d="M197.9 156.8L202.8 165.5L210.8 162.9L205.9 154.2z" fill="#d30303" stroke="#000" stroke-width="1" stroke-linejoin="round"/><path d="M169.4 163.4L173.8 170.5L175.2 164.5zM173.8 170.5L181.3 165.3L175.2 164.5z" fill="#ea0909" stroke="#ea0909" stroke-width=".4"/><path d="M169 162.7L169.4 163.4L175.2 164.5L175.4 163.6zM181.3 165.3L181.8 165L175.4 163.6L175.2 164.5zM181.8 165L177 157.1L175.4 163.6zM177 157.1L169 162.7L175.4 163.6z" fill="#d30303" stroke="#d30303" stroke-width=".4"/><path d="M169 162.7L173.8 170.5L181.8 165L177 157.1z" fill="none" stroke="#000" stroke-width="1" stroke-linejoin="round"/><path d="M163.8 174L165.7 177L166.2 174.6zM165.7 177L168.2 175L166.2 174.6z" fill="#ff1910" stroke="#ff1910" stroke-width=".4"/><path d="M160.9 169.3L163.8 174L166.2 174.6L167.3 169.7zM168.2 175L173.8 170.5L167.3 169.7L166.2 174.6zM173.8 170.5L169.4 163.4L168.8 163.3L167.3 169.7zM168.4 163.2L160.9 169.3L167.3 169.7L168.8 163.3z" fill="#ea0909" stroke="#ea0909" stroke-width=".4"/><path d="M169.4 163.4L169 162.7L168.8 163.3zM169 162.7L168.4 163.2L168.8 163.3z" fill="#d30303" stroke="#d30303" stroke-width=".4"/><path d="M160.9 169.3L165.7 177L173.8 170.5L169 162.7z" fill="none" stroke="#000" stroke-width="1" stroke-linejoin="round"/><path d="M193.2 166.3L194.7 169L195.4 166.4zM194.7 169L200.6 166.4L195.4 166.4z" fill="#ea0909" stroke="#ea0909" stroke-width=".4"/><path d="M189.9 160.4L193.2 166.3L195.4 166.4L196.3 162.7zM200.6 166.4L202.8 165.5L196.3 162.7L195.4 166.4zM202.8 165.5L197.9 156.8L196.3 162.7zM197.9 156.8L189.9 160.4L196.3 162.7z" fill="#d30303" stroke="#d30303" stroke-width=".4"/><path d="M189.9 160.4L194.7 169L202.8 165.5L197.9 156.8z" fill="none" stroke="#000" stroke-width="1" stroke-linejoin="round"/><path d="M157.3 184L157.6 184.5L157.7 184.1zM157.6 184.5L158 184.2L157.7 184.1z" fill="#ff5713" stroke="#ff5713" stroke-width=".4"/><path d="M152.9 176.8L157.3 184L157.7 184.1L159.3 176.7zM158 184.2L165.7 177L159.3 176.7L157.7 184.1zM165.7 177L163.8 174L160.1 173.1L159.3 176.7zM157.6 172.4L152.9 176.8L159.3 176.7L160.1 173.1z" fill="#ff1910" stroke="#ff1910" stroke-width=".4"/><path d="M163.8 174L160.9 169.3L160.1 173.1zM160.9 169.3L157.6 172.4L160.1 173.1z" fill="#ea0909" stroke="#ea0909" stroke-width=".4"/><path d="M152.9 176.8L157.6 184.5L165.7 177L160.9 169.3z" fill="none" stroke="#000" stroke-width="1" stroke-linejoin="round"/><path d="M144.8 185.4L149.5 192.9L151.2 184.7zM149.5 192.9L157.6 184.5L151.2 184.7zM157.6 184.5L157.3 184L151.7 182.3L151.2 184.7zM148.7 181.3L144.8 185.4L151.2 184.7L151.7 182.3z" fill="#ff5713" stroke="#ff5713" stroke-width=".4"/><path d="M157.3 184L152.9 176.8L151.7 182.3zM152.9 176.8L148.7 181.3L151.7 182.3z" fill="#ff1910" stroke="#ff1910" stroke-width=".4"/><path d="M144.8 185.4L149.5 192.9L157.6 184.5L152.9 176.8z" fill="none" stroke="#000" stroke-width="1" stroke-linejoin="round"/><path d="M182.1 165.4L186.7 173.4L188.3 166.8L184.2 165.6zM186.7 173.4L194.7 169L188.3 166.8zM194.7 169L193.2 166.3L188.4 166.1L188.3 166.8zM184.2 165.6L188.3 166.8L188.4 166.1z" fill="#ea0909" stroke="#ea0909" stroke-width=".4"/><path d="M181.8 165L182.1 165.4L184.2 165.6zM193.2 166.3L189.9 160.4L188.4 166.1zM189.9 160.4L181.8 165L184.2 165.6L188.4 166.1z" fill="#d30303" stroke="#d30303" stroke-width=".4"/><path d="M181.8 165L186.7 173.4L194.7 169L189.9 160.4z" fill="none" stroke="#000" stroke-width="1" stroke-linejoin="round"/><path d="M140.8 201.3L141.4 202.3L141.6 201.6zM141.4 202.3L141.9 201.7L141.6 201.6z" fill="#fdd01a" stroke="#fdd01a" stroke-width=".4"/><path d="M136.8 194.8L140.8 201.3L141.6 201.6L143.1 193.7zM141.9 201.7L149.4 193L149.2 193L143.1 193.7L141.6 201.6zM143.7 191.1L143.1 193.7L149.2 193zM140.9 190L136.8 194.8L143.1 193.7L143.7 191.1z" fill="#ff9716" stroke="#ff9716" stroke-width=".4"/><path d="M149.4 193L149.5 192.9L149.2 193zM149.5 192.9L144.8 185.4L143.7 191.1L149.2 193zM144.8 185.4L140.9 190L143.7 191.1z" fill="#ff5713" stroke="#ff5713" stroke-width=".4"/><path d="M136.8 194.8L141.4 202.3L149.5 192.9L144.8 185.4z" fill="none" stroke="#000" stroke-width="1" stroke-linejoin="round"/><path d="M130.7 208.5L133.3 212.6L133.9 209.8zM133.3 212.6L135.2 210.3L133.9 209.8z" fill="#f7f41d" stroke="#f7f41d" stroke-width=".4"/><path d="M128.7 205.3L130.7 208.5L133.9 209.8L135.1 203.6zM135.2 210.3L141.4 202.3L135.1 203.6L133.9 209.8zM141.4 202.3L140.8 201.3L135.9 199.4L135.1 203.6zM133.9 198.6L128.7 205.3L135.1 203.6L135.9 199.4z" fill="#fdd01a" stroke="#fdd01a" stroke-width=".4"/><path d="M140.8 201.3L136.8 194.8L135.9 199.4zM136.8 194.8L133.9 198.6L135.9 199.4z" fill="#ff9716" stroke="#ff9716" stroke-width=".4"/><path d="M128.7 205.3L133.3 212.6L141.4 202.3L136.8 194.8z" fill="none" stroke="#000" stroke-width="1" stroke-linejoin="round"/><path d="M177.3 176.7L178.6 178.9L179 177zM178.6 178.9L181 177.2L179 177z" fill="#ff1910" stroke="#ff1910" stroke-width=".4"/><path d="M173.8 170.5L177.3 176.7L179 177L180.2 171.8zM181 177.2L186.7 173.4L180.2 171.8L179 177zM186.7 173.4L182.1 165.4L181.7 165.4L180.2 171.8zM181.3 165.3L173.8 170.5L180.2 171.8L181.7 165.4z" fill="#ea0909" stroke="#ea0909" stroke-width=".4"/><path d="M182.1 165.4L181.8 165L181.7 165.4zM181.8 165L181.3 165.3L181.7 165.4z" fill="#d30303" stroke="#d30303" stroke-width=".4"/><path d="M173.8 170.5L178.6 178.9L186.7 173.4L181.8 165z" fill="none" stroke="#000" stroke-width="1" stroke-linejoin="round"/><path d="M165.7 177L170.5 185.3L172.1 177.7zM170.5 185.3L178.6 178.9L172.1 177.7zM178.6 178.9L177.3 176.7L172.5 175.9L172.1 177.7zM168.2 175L165.7 177L172.1 177.7L172.5 175.9z" fill="#ff1910" stroke="#ff1910" stroke-width=".4"/><path d="M177.3 176.7L173.8 170.5L172.5 175.9zM173.8 170.5L168.2 175L172.5 175.9z" fill="#ea0909" stroke="#ea0909" stroke-width=".4"/><path d="M165.7 177L170.5 185.3L178.6 178.9L173.8 170.5z" fill="none" stroke="#000" stroke-width="1" stroke-linejoin="round"/><path d="M157.6 184.5L162.4 192.6L163.8 185.7L159.5 184.5zM162.4 192.6L168.8 186.8L163.8 185.7zM158 184.2L157.6 184.5L159.5 184.5z" fill="#ff5713" stroke="#ff5713" stroke-width=".4"/><path d="M163.8 185.7L164 184.7L159.5 184.5zM168.8 186.8L170.5 185.3L164 184.7L163.8 185.7zM170.5 185.3L165.7 177L164 184.7zM165.7 177L158 184.2L159.5 184.5L164 184.7z" fill="#ff1910" stroke="#ff1910" stroke-width=".4"/><path d="M157.6 184.5L162.4 192.6L170.5 185.3L165.7 177z" fill="none" stroke="#000" stroke-width="1" stroke-linejoin="round"/><path d="M149.6 193.1L154.2 201L155.5 194.8zM154.2 201L159.2 195.8L155.5 194.8z" fill="#ff9716" stroke="#ff9716" stroke-width=".4"/><path d="M149.5 192.9L149.6 193.1L155.5 194.8L155.9 192.6zM159.2 195.8L162.4 192.6L155.9 192.6L155.5 194.8zM162.4 192.6L157.6 184.5L155.9 192.6zM157.6 184.5L149.5 192.9L155.9 192.6z" fill="#ff5713" stroke="#ff5713" stroke-width=".4"/><path d="M149.5 192.9L154.2 201L162.4 192.6L157.6 184.5z" fill="none" stroke="#000" stroke-width="1" stroke-linejoin="round"/><path d="M141.4 202.3L146.1 210.3L147.4 203.6L143 202.1zM146.1 210.3L151 204.7L147.4 203.6zM141.9 201.7L141.4 202.3L143 202.1z" fill="#fdd01a" stroke="#fdd01a" stroke-width=".4"/><path d="M147.4 203.6L147.8 201.4L143 202.1zM151 204.7L154.2 201L147.8 201.4L147.4 203.6zM154.2 201L149.6 193.1L149.5 193.1L147.8 201.4zM149.4 193L141.9 201.7L143 202.1L147.8 201.4L149.5 193.1z" fill="#ff9716" stroke="#ff9716" stroke-width=".4"/><path d="M149.6 193.1L149.5 192.9L149.5 193.1zM149.5 192.9L149.4 193L149.5 193.1z" fill="#ff5713" stroke="#ff5713" stroke-width=".4"/><path d="M141.4 202.3L146.1 210.3L154.2 201L149.5 192.9z" fill="none" stroke="#000" stroke-width="1" stroke-linejoin="round"/><path d="M133.3 212.6L138 220.5L139.6 212L138.4 211.5zM138 220.5L143.7 213.4L139.6 212zM135.2 210.3L133.3 212.6L138.4 211.5z" fill="#f7f41d" stroke="#f7f41d" stroke-width=".4"/><path d="M139.6 212L139.7 211.3L138.4 211.5zM143.7 213.4L146.1 210.3L139.7 211.3L139.6 212zM146.1 210.3L141.4 202.3L139.7 211.3zM141.4 202.3L135.2 210.3L138.4 211.5L139.7 211.3z" fill="#fdd01a" stroke="#fdd01a" stroke-width=".4"/><path d="M133.3 212.6L138 220.5L146.1 210.3L141.4 202.3z" fill="none" stroke="#000" stroke-width="1" stroke-linejoin="round"/><polyline points="301.2,192.3 303.7,196.2 306.1,200.3 308.6,204.5 311.1,208.8 313.5,213.2 316,217.7 318.5,222.3 321,227.1 323.4,232 325.9,237 328.4,242.1 330.9,247.3" fill="none" stroke="#000" stroke-width="1.5" stroke-linecap="round"/></g>
<g opacity=".999"><text x="2" y="17.3" font-family="'Liberation Serif',serif" font-size="19.8" font-weight="bold">A</text><text x="49.3" y="244.8" font-family="'Liberation Sans',sans-serif" font-size="10.8" text-anchor="end" fill="#2a2a2a">-2</text><text x="48.8" y="229.5" font-family="'Liberation Sans',sans-serif" font-size="10.8" text-anchor="end" fill="#2a2a2a">0</text><text x="48.3" y="214.1" font-family="'Liberation Sans',sans-serif" font-size="10.8" text-anchor="end" fill="#2a2a2a">2</text><text x="47.8" y="198.6" font-family="'Liberation Sans',sans-serif" font-size="10.8" text-anchor="end" fill="#2a2a2a">4</text><text x="47.3" y="182.9" font-family="'Liberation Sans',sans-serif" font-size="10.8" text-anchor="end" fill="#2a2a2a">6</text><text x="46.8" y="167.2" font-family="'Liberation Sans',sans-serif" font-size="10.8" text-anchor="end" fill="#2a2a2a">8</text><text x="46.3" y="151.3" font-family="'Liberation Sans',sans-serif" font-size="10.8" text-anchor="end" fill="#2a2a2a">10</text><text x="45.8" y="135.3" font-family="'Liberation Sans',sans-serif" font-size="10.8" text-anchor="end" fill="#2a2a2a">12</text><text x="45.3" y="119.2" font-family="'Liberation Sans',sans-serif" font-size="10.8" text-anchor="end" fill="#2a2a2a">14</text><text x="44.8" y="103" font-family="'Liberation Sans',sans-serif" font-size="10.8" text-anchor="end" fill="#2a2a2a">16</text><text x="44.3" y="86.6" font-family="'Liberation Sans',sans-serif" font-size="10.8" text-anchor="end" fill="#2a2a2a">18</text><text x="43.8" y="70.1" font-family="'Liberation Sans',sans-serif" font-size="10.8" text-anchor="end" fill="#2a2a2a">20</text><text transform="translate(6,140) rotate(90)" font-family="'Liberation Serif',serif" font-size="26"><tspan>Y</tspan><tspan font-size="20.5" dy="5">sum</tspan></text><text transform="translate(19.5,268) rotate(45.4)" font-family="'Liberation Serif',serif" font-size="15" textLength="151" lengthAdjust="spacingAndGlyphs">Column temperature (°C)</text><text transform="translate(48.5,326) rotate(45.4)" font-family="'Liberation Serif',serif" font-size="14.5">; X<tspan font-size="10" dy="3.5">1</tspan></text><text transform="translate(196,354) rotate(-10.5)" font-family="'Liberation Serif',serif" font-size="17.5" textLength="110" lengthAdjust="spacingAndGlyphs">Run time (min)</text><text transform="translate(240,368) rotate(-10.5)" font-family="'Liberation Serif',serif" font-size="17">; X<tspan font-size="11.5" dy="4">4</tspan></text><text transform="matrix(1.08,-0.24,0.38,0.72,53.2,265.5)" font-family="'Liberation Sans',sans-serif" font-size="7.6" text-anchor="middle" dy="2.7" fill="#2a2a2a">20</text><text transform="matrix(1.08,-0.24,0.38,0.72,73.5,284.7)" font-family="'Liberation Sans',sans-serif" font-size="7.6" text-anchor="middle" dy="2.7" fill="#2a2a2a">30</text><text transform="matrix(1.08,-0.24,0.38,0.72,93.8,305.5)" font-family="'Liberation Sans',sans-serif" font-size="7.6" text-anchor="middle" dy="2.7" fill="#2a2a2a">40</text><text transform="matrix(1.08,-0.24,0.38,0.72,116.5,326)" font-family="'Liberation Sans',sans-serif" font-size="7.6" text-anchor="middle" dy="2.7" fill="#2a2a2a">50</text><text transform="matrix(1.25,-0.3,-0.12,0.85,145.5,340)" font-family="'Liberation Sans',sans-serif" font-size="7.8" text-anchor="middle" dy="2.8" fill="#2a2a2a">4</text><text transform="matrix(1.25,-0.3,-0.12,0.85,185.5,333.2)" font-family="'Liberation Sans',sans-serif" font-size="7.8" text-anchor="middle" dy="2.8" fill="#2a2a2a">8</text><text transform="matrix(1.25,-0.3,-0.12,0.85,225,324.8)" font-family="'Liberation Sans',sans-serif" font-size="7.8" text-anchor="middle" dy="2.8" fill="#2a2a2a">12</text><text transform="matrix(1.25,-0.3,-0.12,0.85,263.3,316.3)" font-family="'Liberation Sans',sans-serif" font-size="7.8" text-anchor="middle" dy="2.8" fill="#2a2a2a">16</text><text transform="matrix(1.25,-0.3,-0.12,0.85,301.7,308)" font-family="'Liberation Sans',sans-serif" font-size="7.8" text-anchor="middle" dy="2.8" fill="#2a2a2a">20</text><text transform="matrix(1.25,-0.3,-0.12,0.85,338.3,299.5)" font-family="'Liberation Sans',sans-serif" font-size="7.8" text-anchor="middle" dy="2.8" fill="#2a2a2a">24</text></g>
<clipPath id="bc"><rect x="435.5" y="46" width="218.0" height="318.5"/></clipPath>
<g clip-path="url(#bc)"><rect x="435.5" y="46" width="218.0" height="318.5" fill="#1e7850"/><ellipse cx="515.34" cy="186.6" rx="267.1" ry="220.5" transform="rotate(-45.36 515.34 186.6)" fill="#148c3c" stroke="#000" stroke-width=".6"/><ellipse cx="515.34" cy="186.6" rx="256.2" ry="211.5" transform="rotate(-45.36 515.34 186.6)" fill="#0fb42d" stroke="#000" stroke-width=".6"/><ellipse cx="515.34" cy="186.6" rx="244.8" ry="202.1" transform="rotate(-45.36 515.34 186.6)" fill="#0fda23" stroke="#000" stroke-width=".6"/><ellipse cx="515.34" cy="186.6" rx="232.8" ry="192.2" transform="rotate(-45.36 515.34 186.6)" fill="#2dfa19" stroke="#000" stroke-width=".6"/><ellipse cx="515.34" cy="186.6" rx="220.2" ry="181.8" transform="rotate(-45.36 515.34 186.6)" fill="#b9fa23" stroke="#000" stroke-width=".6"/><ellipse cx="515.34" cy="186.6" rx="206.9" ry="170.8" transform="rotate(-45.36 515.34 186.6)" fill="#f5fc1e" stroke="#000" stroke-width=".6"/><ellipse cx="515.34" cy="186.6" rx="192.6" ry="159" transform="rotate(-45.36 515.34 186.6)" fill="#ffc819" stroke="#000" stroke-width=".6"/><ellipse cx="515.34" cy="186.6" rx="177.1" ry="146.3" transform="rotate(-45.36 515.34 186.6)" fill="#ff6a14" stroke="#000" stroke-width=".6"/><ellipse cx="515.34" cy="186.6" rx="160.2" ry="132.3" transform="rotate(-45.36 515.34 186.6)" fill="#ff1010" stroke="#000" stroke-width=".6"/><ellipse cx="515.34" cy="186.6" rx="141.3" ry="116.7" transform="rotate(-45.36 515.34 186.6)" fill="#da0404" stroke="#000" stroke-width=".6"/><ellipse cx="515.34" cy="186.6" rx="119.4" ry="98.6" transform="rotate(-45.36 515.34 186.6)" fill="#be0000" stroke="#000" stroke-width=".6"/><ellipse cx="515.34" cy="186.6" rx="92.5" ry="76.4" transform="rotate(-45.36 515.34 186.6)" fill="#a30000" stroke="#000" stroke-width=".6"/><ellipse cx="515.34" cy="186.6" rx="53.4" ry="44.1" transform="rotate(-45.36 515.34 186.6)" fill="#8b0000" stroke="#000" stroke-width=".6"/></g>
<rect x="435.5" y="46" width="218.0" height="318.5" fill="none" stroke="#000" stroke-width="1"/>
<g opacity=".999"><line x1="435.5" y1="46" x2="435.5" y2="48" stroke="#000" stroke-width=".6"/><line x1="435.5" y1="364.5" x2="435.5" y2="362.5" stroke="#000" stroke-width=".6"/><line x1="440.9" y1="46" x2="440.9" y2="47" stroke="#000" stroke-width=".6"/><line x1="440.9" y1="364.5" x2="440.9" y2="363.5" stroke="#000" stroke-width=".6"/><line x1="446.4" y1="46" x2="446.4" y2="47" stroke="#000" stroke-width=".6"/><line x1="446.4" y1="364.5" x2="446.4" y2="363.5" stroke="#000" stroke-width=".6"/><line x1="451.9" y1="46" x2="451.9" y2="47" stroke="#000" stroke-width=".6"/><line x1="451.9" y1="364.5" x2="451.9" y2="363.5" stroke="#000" stroke-width=".6"/><line x1="457.3" y1="46" x2="457.3" y2="47" stroke="#000" stroke-width=".6"/><line x1="457.3" y1="364.5" x2="457.3" y2="363.5" stroke="#000" stroke-width=".6"/><line x1="462.8" y1="46" x2="462.8" y2="48" stroke="#000" stroke-width=".6"/><line x1="462.8" y1="364.5" x2="462.8" y2="362.5" stroke="#000" stroke-width=".6"/><line x1="468.2" y1="46" x2="468.2" y2="47" stroke="#000" stroke-width=".6"/><line x1="468.2" y1="364.5" x2="468.2" y2="363.5" stroke="#000" stroke-width=".6"/><line x1="473.6" y1="46" x2="473.6" y2="47" stroke="#000" stroke-width=".6"/><line x1="473.6" y1="364.5" x2="473.6" y2="363.5" stroke="#000" stroke-width=".6"/><line x1="479.1" y1="46" x2="479.1" y2="47" stroke="#000" stroke-width=".6"/><line x1="479.1" y1="364.5" x2="479.1" y2="363.5" stroke="#000" stroke-width=".6"/><line x1="484.6" y1="46" x2="484.6" y2="47" stroke="#000" stroke-width=".6"/><line x1="484.6" y1="364.5" x2="484.6" y2="363.5" stroke="#000" stroke-width=".6"/><line x1="490" y1="46" x2="490" y2="48" stroke="#000" stroke-width=".6"/><line x1="490" y1="364.5" x2="490" y2="362.5" stroke="#000" stroke-width=".6"/><line x1="495.4" y1="46" x2="495.4" y2="47" stroke="#000" stroke-width=".6"/><line x1="495.4" y1="364.5" x2="495.4" y2="363.5" stroke="#000" stroke-width=".6"/><line x1="500.9" y1="46" x2="500.9" y2="47" stroke="#000" stroke-width=".6"/><line x1="500.9" y1="364.5" x2="500.9" y2="363.5" stroke="#000" stroke-width=".6"/><line x1="506.4" y1="46" x2="506.4" y2="47" stroke="#000" stroke-width=".6"/><line x1="506.4" y1="364.5" x2="506.4" y2="363.5" stroke="#000" stroke-width=".6"/><line x1="511.8" y1="46" x2="511.8" y2="47" stroke="#000" stroke-width=".6"/><line x1="511.8" y1="364.5" x2="511.8" y2="363.5" stroke="#000" stroke-width=".6"/><line x1="517.2" y1="46" x2="517.2" y2="48" stroke="#000" stroke-width=".6"/><line x1="517.2" y1="364.5" x2="517.2" y2="362.5" stroke="#000" stroke-width=".6"/><line x1="522.7" y1="46" x2="522.7" y2="47" stroke="#000" stroke-width=".6"/><line x1="522.7" y1="364.5" x2="522.7" y2="363.5" stroke="#000" stroke-width=".6"/><line x1="528.1" y1="46" x2="528.1" y2="47" stroke="#000" stroke-width=".6"/><line x1="528.1" y1="364.5" x2="528.1" y2="363.5" stroke="#000" stroke-width=".6"/><line x1="533.6" y1="46" x2="533.6" y2="47" stroke="#000" stroke-width=".6"/><line x1="533.6" y1="364.5" x2="533.6" y2="363.5" stroke="#000" stroke-width=".6"/><line x1="539" y1="46" x2="539" y2="47" stroke="#000" stroke-width=".6"/><line x1="539" y1="364.5" x2="539" y2="363.5" stroke="#000" stroke-width=".6"/><line x1="544.5" y1="46" x2="544.5" y2="48" stroke="#000" stroke-width=".6"/><line x1="544.5" y1="364.5" x2="544.5" y2="362.5" stroke="#000" stroke-width=".6"/><line x1="550" y1="46" x2="550" y2="47" stroke="#000" stroke-width=".6"/><line x1="550" y1="364.5" x2="550" y2="363.5" stroke="#000" stroke-width=".6"/><line x1="555.4" y1="46" x2="555.4" y2="47" stroke="#000" stroke-width=".6"/><line x1="555.4" y1="364.5" x2="555.4" y2="363.5" stroke="#000" stroke-width=".6"/><line x1="560.9" y1="46" x2="560.9" y2="47" stroke="#000" stroke-width=".6"/><line x1="560.9" y1="364.5" x2="560.9" y2="363.5" stroke="#000" stroke-width=".6"/><line x1="566.3" y1="46" x2="566.3" y2="47" stroke="#000" stroke-width=".6"/><line x1="566.3" y1="364.5" x2="566.3" y2="363.5" stroke="#000" stroke-width=".6"/><line x1="571.8" y1="46" x2="571.8" y2="48" stroke="#000" stroke-width=".6"/><line x1="571.8" y1="364.5" x2="571.8" y2="362.5" stroke="#000" stroke-width=".6"/><line x1="577.2" y1="46" x2="577.2" y2="47" stroke="#000" stroke-width=".6"/><line x1="577.2" y1="364.5" x2="577.2" y2="363.5" stroke="#000" stroke-width=".6"/><line x1="582.6" y1="46" x2="582.6" y2="47" stroke="#000" stroke-width=".6"/><line x1="582.6" y1="364.5" x2="582.6" y2="363.5" stroke="#000" stroke-width=".6"/><line x1="588.1" y1="46" x2="588.1" y2="47" stroke="#000" stroke-width=".6"/><line x1="588.1" y1="364.5" x2="588.1" y2="363.5" stroke="#000" stroke-width=".6"/><line x1="593.5" y1="46" x2="593.5" y2="47" stroke="#000" stroke-width=".6"/><line x1="593.5" y1="364.5" x2="593.5" y2="363.5" stroke="#000" stroke-width=".6"/><line x1="599" y1="46" x2="599" y2="48" stroke="#000" stroke-width=".6"/><line x1="599" y1="364.5" x2="599" y2="362.5" stroke="#000" stroke-width=".6"/><line x1="604.5" y1="46" x2="604.5" y2="47" stroke="#000" stroke-width=".6"/><line x1="604.5" y1="364.5" x2="604.5" y2="363.5" stroke="#000" stroke-width=".6"/><line x1="609.9" y1="46" x2="609.9" y2="47" stroke="#000" stroke-width=".6"/><line x1="609.9" y1="364.5" x2="609.9" y2="363.5" stroke="#000" stroke-width=".6"/><line x1="615.4" y1="46" x2="615.4" y2="47" stroke="#000" stroke-width=".6"/><line x1="615.4" y1="364.5" x2="615.4" y2="363.5" stroke="#000" stroke-width=".6"/><line x1="620.8" y1="46" x2="620.8" y2="47" stroke="#000" stroke-width=".6"/><line x1="620.8" y1="364.5" x2="620.8" y2="363.5" stroke="#000" stroke-width=".6"/><line x1="626.2" y1="46" x2="626.2" y2="48" stroke="#000" stroke-width=".6"/><line x1="626.2" y1="364.5" x2="626.2" y2="362.5" stroke="#000" stroke-width=".6"/><line x1="631.7" y1="46" x2="631.7" y2="47" stroke="#000" stroke-width=".6"/><line x1="631.7" y1="364.5" x2="631.7" y2="363.5" stroke="#000" stroke-width=".6"/><line x1="637.1" y1="46" x2="637.1" y2="47" stroke="#000" stroke-width=".6"/><line x1="637.1" y1="364.5" x2="637.1" y2="363.5" stroke="#000" stroke-width=".6"/><line x1="642.6" y1="46" x2="642.6" y2="47" stroke="#000" stroke-width=".6"/><line x1="642.6" y1="364.5" x2="642.6" y2="363.5" stroke="#000" stroke-width=".6"/><line x1="648" y1="46" x2="648" y2="47" stroke="#000" stroke-width=".6"/><line x1="648" y1="364.5" x2="648" y2="363.5" stroke="#000" stroke-width=".6"/><line x1="653.5" y1="46" x2="653.5" y2="48" stroke="#000" stroke-width=".6"/><line x1="653.5" y1="364.5" x2="653.5" y2="362.5" stroke="#000" stroke-width=".6"/><line x1="435.5" y1="46" x2="437.5" y2="46" stroke="#000" stroke-width=".6"/><line x1="653.5" y1="46" x2="651.5" y2="46" stroke="#000" stroke-width=".6"/><line x1="435.5" y1="56" x2="436.5" y2="56" stroke="#000" stroke-width=".6"/><line x1="653.5" y1="56" x2="652.5" y2="56" stroke="#000" stroke-width=".6"/><line x1="435.5" y1="65.9" x2="436.5" y2="65.9" stroke="#000" stroke-width=".6"/><line x1="653.5" y1="65.9" x2="652.5" y2="65.9" stroke="#000" stroke-width=".6"/><line x1="435.5" y1="75.9" x2="436.5" y2="75.9" stroke="#000" stroke-width=".6"/><line x1="653.5" y1="75.9" x2="652.5" y2="75.9" stroke="#000" stroke-width=".6"/><line x1="435.5" y1="85.8" x2="437.5" y2="85.8" stroke="#000" stroke-width=".6"/><line x1="653.5" y1="85.8" x2="651.5" y2="85.8" stroke="#000" stroke-width=".6"/><line x1="435.5" y1="95.8" x2="436.5" y2="95.8" stroke="#000" stroke-width=".6"/><line x1="653.5" y1="95.8" x2="652.5" y2="95.8" stroke="#000" stroke-width=".6"/><line x1="435.5" y1="105.7" x2="436.5" y2="105.7" stroke="#000" stroke-width=".6"/><line x1="653.5" y1="105.7" x2="652.5" y2="105.7" stroke="#000" stroke-width=".6"/><line x1="435.5" y1="115.7" x2="436.5" y2="115.7" stroke="#000" stroke-width=".6"/><line x1="653.5" y1="115.7" x2="652.5" y2="115.7" stroke="#000" stroke-width=".6"/><line x1="435.5" y1="125.6" x2="437.5" y2="125.6" stroke="#000" stroke-width=".6"/><line x1="653.5" y1="125.6" x2="651.5" y2="125.6" stroke="#000" stroke-width=".6"/><line x1="435.5" y1="135.6" x2="436.5" y2="135.6" stroke="#000" stroke-width=".6"/><line x1="653.5" y1="135.6" x2="652.5" y2="135.6" stroke="#000" stroke-width=".6"/><line x1="435.5" y1="145.5" x2="436.5" y2="145.5" stroke="#000" stroke-width=".6"/><line x1="653.5" y1="145.5" x2="652.5" y2="145.5" stroke="#000" stroke-width=".6"/><line x1="435.5" y1="155.5" x2="436.5" y2="155.5" stroke="#000" stroke-width=".6"/><line x1="653.5" y1="155.5" x2="652.5" y2="155.5" stroke="#000" stroke-width=".6"/><line x1="435.5" y1="165.4" x2="437.5" y2="165.4" stroke="#000" stroke-width=".6"/><line x1="653.5" y1="165.4" x2="651.5" y2="165.4" stroke="#000" stroke-width=".6"/><line x1="435.5" y1="175.4" x2="436.5" y2="175.4" stroke="#000" stroke-width=".6"/><line x1="653.5" y1="175.4" x2="652.5" y2="175.4" stroke="#000" stroke-width=".6"/><line x1="435.5" y1="185.3" x2="436.5" y2="185.3" stroke="#000" stroke-width=".6"/><line x1="653.5" y1="185.3" x2="652.5" y2="185.3" stroke="#000" stroke-width=".6"/><line x1="435.5" y1="195.3" x2="436.5" y2="195.3" stroke="#000" stroke-width=".6"/><line x1="653.5" y1="195.3" x2="652.5" y2="195.3" stroke="#000" stroke-width=".6"/><line x1="435.5" y1="205.2" x2="437.5" y2="205.2" stroke="#000" stroke-width=".6"/><line x1="653.5" y1="205.2" x2="651.5" y2="205.2" stroke="#000" stroke-width=".6"/><line x1="435.5" y1="215.2" x2="436.5" y2="215.2" stroke="#000" stroke-width=".6"/><line x1="653.5" y1="215.2" x2="652.5" y2="215.2" stroke="#000" stroke-width=".6"/><line x1="435.5" y1="225.2" x2="436.5" y2="225.2" stroke="#000" stroke-width=".6"/><line x1="653.5" y1="225.2" x2="652.5" y2="225.2" stroke="#000" stroke-width=".6"/><line x1="435.5" y1="235.1" x2="436.5" y2="235.1" stroke="#000" stroke-width=".6"/><line x1="653.5" y1="235.1" x2="652.5" y2="235.1" stroke="#000" stroke-width=".6"/><line x1="435.5" y1="245.1" x2="437.5" y2="245.1" stroke="#000" stroke-width=".6"/><line x1="653.5" y1="245.1" x2="651.5" y2="245.1" stroke="#000" stroke-width=".6"/><line x1="435.5" y1="255" x2="436.5" y2="255" stroke="#000" stroke-width=".6"/><line x1="653.5" y1="255" x2="652.5" y2="255" stroke="#000" stroke-width=".6"/><line x1="435.5" y1="265" x2="436.5" y2="265" stroke="#000" stroke-width=".6"/><line x1="653.5" y1="265" x2="652.5" y2="265" stroke="#000" stroke-width=".6"/><line x1="435.5" y1="274.9" x2="436.5" y2="274.9" stroke="#000" stroke-width=".6"/><line x1="653.5" y1="274.9" x2="652.5" y2="274.9" stroke="#000" stroke-width=".6"/><line x1="435.5" y1="284.9" x2="437.5" y2="284.9" stroke="#000" stroke-width=".6"/><line x1="653.5" y1="284.9" x2="651.5" y2="284.9" stroke="#000" stroke-width=".6"/><line x1="435.5" y1="294.8" x2="436.5" y2="294.8" stroke="#000" stroke-width=".6"/><line x1="653.5" y1="294.8" x2="652.5" y2="294.8" stroke="#000" stroke-width=".6"/><line x1="435.5" y1="304.8" x2="436.5" y2="304.8" stroke="#000" stroke-width=".6"/><line x1="653.5" y1="304.8" x2="652.5" y2="304.8" stroke="#000" stroke-width=".6"/><line x1="435.5" y1="314.7" x2="436.5" y2="314.7" stroke="#000" stroke-width=".6"/><line x1="653.5" y1="314.7" x2="652.5" y2="314.7" stroke="#000" stroke-width=".6"/><line x1="435.5" y1="324.7" x2="437.5" y2="324.7" stroke="#000" stroke-width=".6"/><line x1="653.5" y1="324.7" x2="651.5" y2="324.7" stroke="#000" stroke-width=".6"/><line x1="435.5" y1="334.6" x2="436.5" y2="334.6" stroke="#000" stroke-width=".6"/><line x1="653.5" y1="334.6" x2="652.5" y2="334.6" stroke="#000" stroke-width=".6"/><line x1="435.5" y1="344.6" x2="436.5" y2="344.6" stroke="#000" stroke-width=".6"/><line x1="653.5" y1="344.6" x2="652.5" y2="344.6" stroke="#000" stroke-width=".6"/><line x1="435.5" y1="354.5" x2="436.5" y2="354.5" stroke="#000" stroke-width=".6"/><line x1="653.5" y1="354.5" x2="652.5" y2="354.5" stroke="#000" stroke-width=".6"/><line x1="435.5" y1="364.5" x2="437.5" y2="364.5" stroke="#000" stroke-width=".6"/><line x1="653.5" y1="364.5" x2="651.5" y2="364.5" stroke="#000" stroke-width=".6"/><text transform="translate(432.9,41.7) rotate(90)" font-family="'Liberation Sans',sans-serif" font-size="7.1" text-anchor="end" fill="#2a2a2a">15</text><text transform="translate(460.1,41.7) rotate(90)" font-family="'Liberation Sans',sans-serif" font-size="7.1" text-anchor="end" fill="#2a2a2a">20</text><text transform="translate(487.4,41.7) rotate(90)" font-family="'Liberation Sans',sans-serif" font-size="7.1" text-anchor="end" fill="#2a2a2a">25</text><text transform="translate(514.6,41.7) rotate(90)" font-family="'Liberation Sans',sans-serif" font-size="7.1" text-anchor="end" fill="#2a2a2a">30</text><text transform="translate(541.9,41.7) rotate(90)" font-family="'Liberation Sans',sans-serif" font-size="7.1" text-anchor="end" fill="#2a2a2a">35</text><text transform="translate(569.1,41.7) rotate(90)" font-family="'Liberation Sans',sans-serif" font-size="7.1" text-anchor="end" fill="#2a2a2a">40</text><text transform="translate(596.4,41.7) rotate(90)" font-family="'Liberation Sans',sans-serif" font-size="7.1" text-anchor="end" fill="#2a2a2a">45</text><text transform="translate(623.6,41.7) rotate(90)" font-family="'Liberation Sans',sans-serif" font-size="7.1" text-anchor="end" fill="#2a2a2a">50</text><text transform="translate(650.9,41.7) rotate(90)" font-family="'Liberation Sans',sans-serif" font-size="7.1" text-anchor="end" fill="#2a2a2a">55</text><text transform="translate(422,46) rotate(90)" font-family="'Liberation Sans',sans-serif" font-size="7.1" text-anchor="middle" fill="#2a2a2a">6</text><text transform="translate(422,85.8) rotate(90)" font-family="'Liberation Sans',sans-serif" font-size="7.1" text-anchor="middle" fill="#2a2a2a">8</text><text transform="translate(422,125.6) rotate(90)" font-family="'Liberation Sans',sans-serif" font-size="7.1" text-anchor="middle" fill="#2a2a2a">10</text><text transform="translate(422,165.4) rotate(90)" font-family="'Liberation Sans',sans-serif" font-size="7.1" text-anchor="middle" fill="#2a2a2a">12</text><text transform="translate(422,205.2) rotate(90)" font-family="'Liberation Sans',sans-serif" font-size="7.1" text-anchor="middle" fill="#2a2a2a">14</text><text transform="translate(422,245.1) rotate(90)" font-family="'Liberation Sans',sans-serif" font-size="7.1" text-anchor="middle" fill="#2a2a2a">16</text><text transform="translate(422,284.9) rotate(90)" font-family="'Liberation Sans',sans-serif" font-size="7.1" text-anchor="middle" fill="#2a2a2a">18</text><text transform="translate(422,324.7) rotate(90)" font-family="'Liberation Sans',sans-serif" font-size="7.1" text-anchor="middle" fill="#2a2a2a">20</text><text transform="translate(422,364.5) rotate(90)" font-family="'Liberation Sans',sans-serif" font-size="7.1" text-anchor="middle" fill="#2a2a2a">22</text><text x="384" y="17.5" font-family="'Liberation Serif',serif" font-size="19.6" font-weight="bold">B</text><text x="436.8" y="14.1" font-family="'Liberation Serif',serif" font-size="18.6" textLength="63" lengthAdjust="spacingAndGlyphs">Column</text><text x="506" y="14.1" font-family="'Liberation Serif',serif" font-size="18.6" textLength="81.2" lengthAdjust="spacingAndGlyphs">temperature</text><text x="598.2" y="14.1" font-family="'Liberation Serif',serif" font-size="18.6" textLength="34" lengthAdjust="spacingAndGlyphs">(°C);</text><text x="638.2" y="14.1" font-family="'Liberation Serif',serif" font-size="18.6" textLength="12.2" lengthAdjust="spacingAndGlyphs">X</text><text x="651.3" y="18.2" font-family="'Liberation Serif',serif" font-size="12.5">1</text><text transform="translate(389.4,122.6) rotate(90)" font-family="'Liberation Serif',serif" font-size="20.5" textLength="75.2" lengthAdjust="spacingAndGlyphs">Run time</text><text transform="translate(389.4,203.3) rotate(90)" font-family="'Liberation Serif',serif" font-size="20.5" textLength="78.2" lengthAdjust="spacingAndGlyphs">(min) ; X<tspan font-size="13.5" dy="4.2">4</tspan></text></g>
</svg></body></html>
